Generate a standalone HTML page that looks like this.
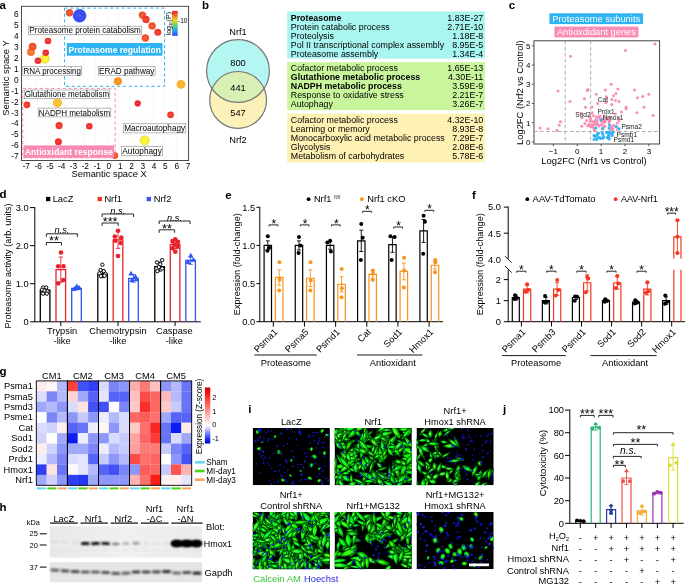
<!DOCTYPE html>
<html lang="en">
<head>
<meta charset="utf-8">
<title>Nrf1 figure</title>
<style>
html,body{margin:0;padding:0;background:#fff;}
body{width:685px;height:585px;overflow:hidden;}
svg{display:block;font-family:"Liberation Sans", sans-serif;will-change:transform;}
</style>
</head>
<body>
<svg width="685" height="585" viewBox="0 0 685 585">
<defs>
<linearGradient id="jet" x1="0" y1="0" x2="0" y2="1">
<stop offset="0" stop-color="#e8202a"/><stop offset="0.18" stop-color="#f26a21"/><stop offset="0.36" stop-color="#f5d327"/><stop offset="0.52" stop-color="#8fd14f"/><stop offset="0.68" stop-color="#35c7c0"/><stop offset="0.84" stop-color="#2f8cf0"/><stop offset="1" stop-color="#3a46f0"/>
</linearGradient>
<linearGradient id="bwr" x1="0" y1="0" x2="0" y2="1">
<stop offset="0" stop-color="#c40000"/><stop offset="0.1" stop-color="#f81408"/><stop offset="0.677" stop-color="#ffffff"/><stop offset="0.92" stop-color="#1a2cf2"/><stop offset="1" stop-color="#0000c8"/>
</linearGradient>
<filter id="b0" x="-50%" y="-100%" width="200%" height="300%"><feGaussianBlur stdDeviation="0.6"/></filter>
<filter id="b1" x="-50%" y="-100%" width="200%" height="300%"><feGaussianBlur stdDeviation="0.8"/></filter>
<filter id="b2" x="-50%" y="-100%" width="200%" height="300%"><feGaussianBlur stdDeviation="1.1"/></filter>
<filter id="gb" x="-20%" y="-20%" width="140%" height="140%"><feGaussianBlur stdDeviation="0.45"/></filter>
</defs>
<rect width="685" height="585" fill="#fff"/>
<g id="panel-a">
<text x="-0.60" y="8.80" font-size="11.5" font-weight="bold">a</text>
<line x1="25.94" y1="6.30" x2="25.94" y2="160.50" stroke="#f3f3f3" stroke-width="0.5"/>
<line x1="37.52" y1="6.30" x2="37.52" y2="160.50" stroke="#f3f3f3" stroke-width="0.5"/>
<line x1="49.10" y1="6.30" x2="49.10" y2="160.50" stroke="#f3f3f3" stroke-width="0.5"/>
<line x1="60.68" y1="6.30" x2="60.68" y2="160.50" stroke="#f3f3f3" stroke-width="0.5"/>
<line x1="72.26" y1="6.30" x2="72.26" y2="160.50" stroke="#f3f3f3" stroke-width="0.5"/>
<line x1="83.84" y1="6.30" x2="83.84" y2="160.50" stroke="#f3f3f3" stroke-width="0.5"/>
<line x1="95.42" y1="6.30" x2="95.42" y2="160.50" stroke="#f3f3f3" stroke-width="0.5"/>
<line x1="107.00" y1="6.30" x2="107.00" y2="160.50" stroke="#f3f3f3" stroke-width="0.5"/>
<line x1="118.58" y1="6.30" x2="118.58" y2="160.50" stroke="#f3f3f3" stroke-width="0.5"/>
<line x1="130.16" y1="6.30" x2="130.16" y2="160.50" stroke="#f3f3f3" stroke-width="0.5"/>
<line x1="141.74" y1="6.30" x2="141.74" y2="160.50" stroke="#f3f3f3" stroke-width="0.5"/>
<line x1="153.32" y1="6.30" x2="153.32" y2="160.50" stroke="#f3f3f3" stroke-width="0.5"/>
<line x1="164.90" y1="6.30" x2="164.90" y2="160.50" stroke="#f3f3f3" stroke-width="0.5"/>
<line x1="176.48" y1="6.30" x2="176.48" y2="160.50" stroke="#f3f3f3" stroke-width="0.5"/>
<line x1="188.06" y1="6.30" x2="188.06" y2="160.50" stroke="#f3f3f3" stroke-width="0.5"/>
<line x1="21.50" y1="156.40" x2="188.60" y2="156.40" stroke="#f3f3f3" stroke-width="0.5"/>
<line x1="21.50" y1="145.40" x2="188.60" y2="145.40" stroke="#f3f3f3" stroke-width="0.5"/>
<line x1="21.50" y1="134.40" x2="188.60" y2="134.40" stroke="#f3f3f3" stroke-width="0.5"/>
<line x1="21.50" y1="123.40" x2="188.60" y2="123.40" stroke="#f3f3f3" stroke-width="0.5"/>
<line x1="21.50" y1="112.40" x2="188.60" y2="112.40" stroke="#f3f3f3" stroke-width="0.5"/>
<line x1="21.50" y1="101.40" x2="188.60" y2="101.40" stroke="#f3f3f3" stroke-width="0.5"/>
<line x1="21.50" y1="90.40" x2="188.60" y2="90.40" stroke="#f3f3f3" stroke-width="0.5"/>
<line x1="21.50" y1="79.40" x2="188.60" y2="79.40" stroke="#f3f3f3" stroke-width="0.5"/>
<line x1="21.50" y1="68.40" x2="188.60" y2="68.40" stroke="#f3f3f3" stroke-width="0.5"/>
<line x1="21.50" y1="57.40" x2="188.60" y2="57.40" stroke="#f3f3f3" stroke-width="0.5"/>
<line x1="21.50" y1="46.40" x2="188.60" y2="46.40" stroke="#f3f3f3" stroke-width="0.5"/>
<line x1="21.50" y1="35.40" x2="188.60" y2="35.40" stroke="#f3f3f3" stroke-width="0.5"/>
<line x1="21.50" y1="24.40" x2="188.60" y2="24.40" stroke="#f3f3f3" stroke-width="0.5"/>
<line x1="21.50" y1="13.40" x2="188.60" y2="13.40" stroke="#f3f3f3" stroke-width="0.5"/>
<rect x="21.50" y="6.30" width="167.10" height="154.20" fill="none" stroke="#3a3a3a" stroke-width="0.9"/>
<text x="18.60" y="159.32" font-size="8.3" text-anchor="end">-7</text>
<text x="18.60" y="148.37" font-size="8.3" text-anchor="end">-6</text>
<text x="18.60" y="137.42" font-size="8.3" text-anchor="end">-5</text>
<text x="18.60" y="126.47" font-size="8.3" text-anchor="end">-4</text>
<text x="18.60" y="115.52" font-size="8.3" text-anchor="end">-3</text>
<text x="18.60" y="104.57" font-size="8.3" text-anchor="end">-2</text>
<text x="18.60" y="93.62" font-size="8.3" text-anchor="end">-1</text>
<text x="18.60" y="82.67" font-size="8.3" text-anchor="end">0</text>
<text x="18.60" y="71.72" font-size="8.3" text-anchor="end">1</text>
<text x="18.60" y="60.77" font-size="8.3" text-anchor="end">2</text>
<text x="18.60" y="49.82" font-size="8.3" text-anchor="end">3</text>
<text x="18.60" y="38.87" font-size="8.3" text-anchor="end">4</text>
<text x="18.60" y="27.92" font-size="8.3" text-anchor="end">5</text>
<text x="18.60" y="16.97" font-size="8.3" text-anchor="end">6</text>
<text x="26.30" y="168.60" font-size="8.3" text-anchor="middle">-7</text>
<text x="38.10" y="168.60" font-size="8.3" text-anchor="middle">-6</text>
<text x="49.90" y="168.60" font-size="8.3" text-anchor="middle">-5</text>
<text x="61.70" y="168.60" font-size="8.3" text-anchor="middle">-4</text>
<text x="73.50" y="168.60" font-size="8.3" text-anchor="middle">-3</text>
<text x="85.30" y="168.60" font-size="8.3" text-anchor="middle">-2</text>
<text x="97.10" y="168.60" font-size="8.3" text-anchor="middle">-1</text>
<text x="108.90" y="168.60" font-size="8.3" text-anchor="middle">0</text>
<text x="120.20" y="168.60" font-size="8.3" text-anchor="middle">1</text>
<text x="131.50" y="168.60" font-size="8.3" text-anchor="middle">2</text>
<text x="142.80" y="168.60" font-size="8.3" text-anchor="middle">3</text>
<text x="154.10" y="168.60" font-size="8.3" text-anchor="middle">4</text>
<text x="165.40" y="168.60" font-size="8.3" text-anchor="middle">5</text>
<text x="176.70" y="168.60" font-size="8.3" text-anchor="middle">6</text>
<text x="188.00" y="168.60" font-size="8.3" text-anchor="middle">7</text>
<text x="8.60" y="78.00" font-size="9.3" text-anchor="middle" transform="rotate(-90 8.60 78.00)" textLength="75.4" lengthAdjust="spacingAndGlyphs">Semantic space Y</text>
<text x="109.10" y="176.90" font-size="9.3" text-anchor="middle" textLength="75.2" lengthAdjust="spacingAndGlyphs">Semantic space X</text>
<rect x="64.50" y="8.10" width="100.00" height="78.20" fill="none" stroke="#35b9f2" stroke-width="1.0" stroke-dasharray="3.2 2.5"/>
<rect x="22.70" y="88.40" width="92.50" height="69.40" fill="none" stroke="#f58fb4" stroke-width="1.0" stroke-dasharray="3.2 2.5"/>
<circle cx="69.50" cy="12.80" r="3.70" fill="#f2522a" stroke="none" stroke-width="0.5"/>
<line x1="68.10" y1="12.80" x2="70.90" y2="12.80" stroke="rgba(255,255,255,0.45)" stroke-width="0.5"/>
<circle cx="79.60" cy="15.80" r="6.80" fill="#3c4ff2" stroke="none" stroke-width="0.5"/>
<line x1="78.20" y1="15.80" x2="81.00" y2="15.80" stroke="rgba(255,255,255,0.45)" stroke-width="0.5"/>
<circle cx="142.40" cy="15.10" r="3.70" fill="#f2522a" stroke="none" stroke-width="0.5"/>
<line x1="141.00" y1="15.10" x2="143.80" y2="15.10" stroke="rgba(255,255,255,0.45)" stroke-width="0.5"/>
<circle cx="146.00" cy="19.50" r="3.70" fill="#ef3a2c" stroke="none" stroke-width="0.5"/>
<line x1="144.60" y1="19.50" x2="147.40" y2="19.50" stroke="rgba(255,255,255,0.45)" stroke-width="0.5"/>
<circle cx="152.10" cy="25.90" r="3.70" fill="#f2522a" stroke="none" stroke-width="0.5"/>
<line x1="150.70" y1="25.90" x2="153.50" y2="25.90" stroke="rgba(255,255,255,0.45)" stroke-width="0.5"/>
<circle cx="157.80" cy="32.20" r="3.50" fill="#ef3a2c" stroke="none" stroke-width="0.5"/>
<line x1="156.40" y1="32.20" x2="159.20" y2="32.20" stroke="rgba(255,255,255,0.45)" stroke-width="0.5"/>
<circle cx="145.40" cy="38.00" r="3.70" fill="#f2522a" stroke="none" stroke-width="0.5"/>
<line x1="144.00" y1="38.00" x2="146.80" y2="38.00" stroke="rgba(255,255,255,0.45)" stroke-width="0.5"/>
<circle cx="48.00" cy="41.00" r="3.30" fill="#ee2f2f" stroke="none" stroke-width="0.5"/>
<line x1="46.60" y1="41.00" x2="49.40" y2="41.00" stroke="rgba(255,255,255,0.45)" stroke-width="0.5"/>
<circle cx="30.90" cy="52.00" r="3.90" fill="#f37a2a" stroke="none" stroke-width="0.5"/>
<line x1="29.50" y1="52.00" x2="32.30" y2="52.00" stroke="rgba(255,255,255,0.45)" stroke-width="0.5"/>
<circle cx="32.60" cy="46.70" r="3.90" fill="#f2522a" stroke="none" stroke-width="0.5"/>
<line x1="31.20" y1="46.70" x2="34.00" y2="46.70" stroke="rgba(255,255,255,0.45)" stroke-width="0.5"/>
<circle cx="44.70" cy="58.80" r="4.60" fill="#f8f136" stroke="#d6cf30" stroke-width="0.5"/>
<line x1="43.30" y1="58.80" x2="46.10" y2="58.80" stroke="rgba(255,255,255,0.45)" stroke-width="0.5"/>
<circle cx="45.70" cy="52.70" r="3.30" fill="#ee2f2f" stroke="none" stroke-width="0.5"/>
<line x1="44.30" y1="52.70" x2="47.10" y2="52.70" stroke="rgba(255,255,255,0.45)" stroke-width="0.5"/>
<circle cx="37.90" cy="60.80" r="3.30" fill="#ee2f2f" stroke="none" stroke-width="0.5"/>
<line x1="36.50" y1="60.80" x2="39.30" y2="60.80" stroke="rgba(255,255,255,0.45)" stroke-width="0.5"/>
<circle cx="117.90" cy="81.30" r="4.10" fill="#f59322" stroke="none" stroke-width="0.5"/>
<line x1="116.50" y1="81.30" x2="119.30" y2="81.30" stroke="rgba(255,255,255,0.45)" stroke-width="0.5"/>
<circle cx="181.00" cy="84.30" r="4.40" fill="#f6b22a" stroke="none" stroke-width="0.5"/>
<line x1="179.60" y1="84.30" x2="182.40" y2="84.30" stroke="rgba(255,255,255,0.45)" stroke-width="0.5"/>
<circle cx="57.40" cy="102.80" r="4.60" fill="#f6c230" stroke="none" stroke-width="0.5"/>
<line x1="56.00" y1="102.80" x2="58.80" y2="102.80" stroke="rgba(255,255,255,0.45)" stroke-width="0.5"/>
<circle cx="26.90" cy="104.80" r="3.40" fill="#ef3a2c" stroke="none" stroke-width="0.5"/>
<line x1="25.50" y1="104.80" x2="28.30" y2="104.80" stroke="rgba(255,255,255,0.45)" stroke-width="0.5"/>
<circle cx="137.70" cy="103.40" r="3.10" fill="#ec2330" stroke="none" stroke-width="0.5"/>
<line x1="136.30" y1="103.40" x2="139.10" y2="103.40" stroke="rgba(255,255,255,0.45)" stroke-width="0.5"/>
<circle cx="170.60" cy="114.80" r="3.40" fill="#ef3a2c" stroke="none" stroke-width="0.5"/>
<line x1="169.20" y1="114.80" x2="172.00" y2="114.80" stroke="rgba(255,255,255,0.45)" stroke-width="0.5"/>
<circle cx="59.10" cy="125.60" r="3.60" fill="#ef3a2c" stroke="none" stroke-width="0.5"/>
<line x1="57.70" y1="125.60" x2="60.50" y2="125.60" stroke="rgba(255,255,255,0.45)" stroke-width="0.5"/>
<circle cx="89.30" cy="126.30" r="3.30" fill="#ee2f2f" stroke="none" stroke-width="0.5"/>
<line x1="87.90" y1="126.30" x2="90.70" y2="126.30" stroke="rgba(255,255,255,0.45)" stroke-width="0.5"/>
<circle cx="58.40" cy="141.70" r="3.50" fill="#ee2f2f" stroke="none" stroke-width="0.5"/>
<line x1="57.00" y1="141.70" x2="59.80" y2="141.70" stroke="rgba(255,255,255,0.45)" stroke-width="0.5"/>
<circle cx="144.70" cy="140.40" r="4.70" fill="#f8f136" stroke="#d6cf30" stroke-width="0.5"/>
<line x1="143.30" y1="140.40" x2="146.10" y2="140.40" stroke="rgba(255,255,255,0.45)" stroke-width="0.5"/>
<circle cx="114.80" cy="155.60" r="3.40" fill="#f2522a" stroke="none" stroke-width="0.5"/>
<line x1="113.40" y1="155.60" x2="116.20" y2="155.60" stroke="rgba(255,255,255,0.45)" stroke-width="0.5"/>
<rect x="28.50" y="26.20" width="113.20" height="8.40" fill="#fff" stroke="#8a8a8a" stroke-width="0.6"/>
<text x="85.10" y="33.40" font-size="8.6" text-anchor="middle" textLength="111.5" lengthAdjust="spacingAndGlyphs">Proteasome protein catabolism</text>
<rect x="22.80" y="66.50" width="58.80" height="8.70" fill="#fff" stroke="#8a8a8a" stroke-width="0.6"/>
<text x="52.20" y="73.85" font-size="8.6" text-anchor="middle" textLength="57.4" lengthAdjust="spacingAndGlyphs">RNA processing</text>
<rect x="98.40" y="66.50" width="56.70" height="8.70" fill="#fff" stroke="#8a8a8a" stroke-width="0.6"/>
<text x="126.75" y="73.85" font-size="8.6" text-anchor="middle" textLength="55.4" lengthAdjust="spacingAndGlyphs">ERAD pathway</text>
<rect x="24.20" y="90.00" width="85.60" height="8.70" fill="#fff" stroke="#8a8a8a" stroke-width="0.6"/>
<text x="67.00" y="97.35" font-size="8.6" text-anchor="middle" textLength="84.5" lengthAdjust="spacingAndGlyphs">Glutathione metabolism</text>
<rect x="38.30" y="108.10" width="72.50" height="8.80" fill="#fff" stroke="#8a8a8a" stroke-width="0.6"/>
<text x="74.55" y="115.50" font-size="8.6" text-anchor="middle" textLength="71.5" lengthAdjust="spacingAndGlyphs">NADPH metabolism</text>
<rect x="123.60" y="123.80" width="62.10" height="9.10" fill="#fff" stroke="#8a8a8a" stroke-width="0.6"/>
<text x="154.65" y="131.35" font-size="8.6" text-anchor="middle" textLength="60.8" lengthAdjust="spacingAndGlyphs">Macroautophagy</text>
<rect x="121.60" y="146.40" width="40.90" height="9.10" fill="#fff" stroke="#8a8a8a" stroke-width="0.6"/>
<text x="142.05" y="153.95" font-size="8.6" text-anchor="middle" textLength="39.5" lengthAdjust="spacingAndGlyphs">Autophagy</text>
<rect x="66.80" y="43.00" width="95.70" height="12.70" fill="#2db4f3" stroke="none" stroke-width="1"/>
<text x="114.80" y="52.50" font-size="8.6" text-anchor="middle" font-weight="bold" fill="#fff" textLength="92.5" lengthAdjust="spacingAndGlyphs">Proteasome regulation</text>
<rect x="23.50" y="145.40" width="90.70" height="12.40" fill="#f98ab3" stroke="none" stroke-width="1"/>
<text x="68.80" y="154.70" font-size="8.6" text-anchor="middle" font-weight="bold" fill="#fff" textLength="88.0" lengthAdjust="spacingAndGlyphs">Antioxidant response</text>
<rect x="172.10" y="10.90" width="5.60" height="24.90" fill="url(#jet)" stroke="none" stroke-width="1"/>
<text x="170.8" y="35.4" font-size="7.6" transform="rotate(-90 170.8 35.4)" textLength="23.4" lengthAdjust="spacingAndGlyphs">log<tspan font-size="4.4" dy="1.3">10</tspan><tspan dy="-1.3">(P)</tspan></text>
<text x="178.00" y="22.90" font-size="7.8" textLength="9.4" lengthAdjust="spacingAndGlyphs">-10</text>
</g>
<g id="panel-b">
<text x="202.00" y="8.50" font-size="11.5" font-weight="bold">b</text>
<text x="238.00" y="34.90" font-size="9.2" text-anchor="middle">Nrf1</text>
<text x="238.00" y="142.50" font-size="9.2" text-anchor="middle">Nrf2</text>
<circle cx="238.00" cy="71.00" r="31.40" fill="#b4f6f1" stroke="none" stroke-width="1"/>
<circle cx="238.10" cy="99.90" r="28.40" fill="#fdf1ba" stroke="none" stroke-width="1"/>
<clipPath id="vclip"><circle cx="238" cy="71" r="31.4"/></clipPath>
<circle cx="238.10" cy="99.90" r="28.40" fill="#d8f0b6" stroke="none" stroke-width="1" clip-path="url(#vclip)"/>
<circle cx="238.00" cy="71.00" r="31.40" fill="none" stroke="#757575" stroke-width="1.2"/>
<circle cx="238.10" cy="99.90" r="28.40" fill="none" stroke="#757575" stroke-width="1.2"/>
<text x="238.00" y="66.30" font-size="9.3" text-anchor="middle">800</text>
<text x="238.00" y="91.20" font-size="9.3" text-anchor="middle">441</text>
<text x="238.00" y="115.70" font-size="9.3" text-anchor="middle">547</text>
<rect x="287.20" y="11.40" width="197.70" height="47.20" fill="#a9f6f1" stroke="none" stroke-width="1"/>
<rect x="287.20" y="62.20" width="197.70" height="47.90" fill="#c9f69c" stroke="none" stroke-width="1"/>
<rect x="287.20" y="113.70" width="197.70" height="48.70" fill="#fdf1b3" stroke="none" stroke-width="1"/>
<text x="290.80" y="20.90" font-size="8.3" font-weight="bold" textLength="50.5" lengthAdjust="spacingAndGlyphs">Proteasome</text>
<text x="483.30" y="20.90" font-size="8.9" text-anchor="end">1.83E-27</text>
<text x="290.80" y="29.85" font-size="8.3" textLength="99.0" lengthAdjust="spacingAndGlyphs">Protein catabolic process</text>
<text x="483.30" y="29.85" font-size="8.9" text-anchor="end">2.71E-10</text>
<text x="290.80" y="38.80" font-size="8.3" textLength="43.0" lengthAdjust="spacingAndGlyphs">Proteolysis</text>
<text x="483.30" y="38.80" font-size="8.9" text-anchor="end">1.18E-8</text>
<text x="290.80" y="47.75" font-size="8.3" textLength="153.4" lengthAdjust="spacingAndGlyphs">Pol II transcriptional complex assembly</text>
<text x="483.30" y="47.75" font-size="8.9" text-anchor="end">8.95E-5</text>
<text x="290.80" y="56.70" font-size="8.3" textLength="87.5" lengthAdjust="spacingAndGlyphs">Proteasome assembly</text>
<text x="483.30" y="56.70" font-size="8.9" text-anchor="end">1.34E-4</text>
<text x="290.80" y="71.40" font-size="8.3" textLength="107.0" lengthAdjust="spacingAndGlyphs">Cofactor metabolic process</text>
<text x="483.30" y="71.40" font-size="8.9" text-anchor="end">1.65E-13</text>
<text x="290.80" y="80.35" font-size="8.3" font-weight="bold" textLength="129.5" lengthAdjust="spacingAndGlyphs">Glutathione metabolic process</text>
<text x="483.30" y="80.35" font-size="8.9" text-anchor="end">4.30E-11</text>
<text x="290.80" y="89.30" font-size="8.3" font-weight="bold" textLength="111.0" lengthAdjust="spacingAndGlyphs">NADPH metabolic process</text>
<text x="483.30" y="89.30" font-size="8.9" text-anchor="end">3.59E-9</text>
<text x="290.80" y="98.25" font-size="8.3" textLength="113.0" lengthAdjust="spacingAndGlyphs">Response to oxidative stress</text>
<text x="483.30" y="98.25" font-size="8.9" text-anchor="end">2.21E-7</text>
<text x="290.80" y="107.20" font-size="8.3" textLength="42.0" lengthAdjust="spacingAndGlyphs">Autophagy</text>
<text x="483.30" y="107.20" font-size="8.9" text-anchor="end">3.26E-7</text>
<text x="290.80" y="123.20" font-size="8.3" textLength="107.0" lengthAdjust="spacingAndGlyphs">Cofactor metabolic process</text>
<text x="483.30" y="123.20" font-size="8.9" text-anchor="end">4.32E-10</text>
<text x="290.80" y="132.15" font-size="8.3" textLength="79.0" lengthAdjust="spacingAndGlyphs">Learning or memory</text>
<text x="483.30" y="132.15" font-size="8.9" text-anchor="end">8.93E-8</text>
<text x="290.80" y="141.10" font-size="8.3" textLength="154.0" lengthAdjust="spacingAndGlyphs">Monocarboxylic acid metabolic process</text>
<text x="483.30" y="141.10" font-size="8.9" text-anchor="end">7.29E-7</text>
<text x="290.80" y="150.05" font-size="8.3" textLength="39.5" lengthAdjust="spacingAndGlyphs">Glycolysis</text>
<text x="483.30" y="150.05" font-size="8.9" text-anchor="end">2.08E-6</text>
<text x="290.80" y="159.00" font-size="8.3" textLength="113.5" lengthAdjust="spacingAndGlyphs">Metabolism of carbohydrates</text>
<text x="483.30" y="159.00" font-size="8.9" text-anchor="end">5.78E-6</text>
</g>
<g id="panel-c">
<text x="508.80" y="8.50" font-size="11.5" font-weight="bold">c</text>
<rect x="549.40" y="13.30" width="93.60" height="10.80" fill="#2db4f3" stroke="none" stroke-width="1"/>
<text x="596.20" y="21.80" font-size="9.0" text-anchor="middle" fill="#fff" textLength="88.0" lengthAdjust="spacingAndGlyphs">Proteasome subunits</text>
<rect x="554.40" y="26.60" width="84.00" height="10.80" fill="#f98ab3" stroke="none" stroke-width="1"/>
<text x="596.40" y="35.10" font-size="9.0" text-anchor="middle" fill="#fff" textLength="79.0" lengthAdjust="spacingAndGlyphs">Antioxdidant genes</text>
<rect x="534.00" y="40.80" width="125.60" height="103.20" fill="none" stroke="#333" stroke-width="0.9"/>
<line x1="531.80" y1="141.90" x2="534.00" y2="141.90" stroke="#333" stroke-width="0.8"/>
<text x="530.40" y="144.80" font-size="8.0" text-anchor="end">0</text>
<line x1="531.80" y1="122.68" x2="534.00" y2="122.68" stroke="#333" stroke-width="0.8"/>
<text x="530.40" y="125.58" font-size="8.0" text-anchor="end">1</text>
<line x1="531.80" y1="103.46" x2="534.00" y2="103.46" stroke="#333" stroke-width="0.8"/>
<text x="530.40" y="106.36" font-size="8.0" text-anchor="end">2</text>
<line x1="531.80" y1="84.24" x2="534.00" y2="84.24" stroke="#333" stroke-width="0.8"/>
<text x="530.40" y="87.14" font-size="8.0" text-anchor="end">3</text>
<line x1="531.80" y1="65.02" x2="534.00" y2="65.02" stroke="#333" stroke-width="0.8"/>
<text x="530.40" y="67.92" font-size="8.0" text-anchor="end">4</text>
<line x1="531.80" y1="45.80" x2="534.00" y2="45.80" stroke="#333" stroke-width="0.8"/>
<text x="530.40" y="48.70" font-size="8.0" text-anchor="end">5</text>
<line x1="553.30" y1="144.00" x2="553.30" y2="146.20" stroke="#333" stroke-width="0.8"/>
<text x="553.30" y="154.00" font-size="8.0" text-anchor="middle">−1</text>
<line x1="577.20" y1="144.00" x2="577.20" y2="146.20" stroke="#333" stroke-width="0.8"/>
<text x="577.20" y="154.00" font-size="8.0" text-anchor="middle">0</text>
<line x1="601.10" y1="144.00" x2="601.10" y2="146.20" stroke="#333" stroke-width="0.8"/>
<text x="601.10" y="154.00" font-size="8.0" text-anchor="middle">1</text>
<line x1="625.00" y1="144.00" x2="625.00" y2="146.20" stroke="#333" stroke-width="0.8"/>
<text x="625.00" y="154.00" font-size="8.0" text-anchor="middle">2</text>
<line x1="648.90" y1="144.00" x2="648.90" y2="146.20" stroke="#333" stroke-width="0.8"/>
<text x="648.90" y="154.00" font-size="8.0" text-anchor="middle">3</text>
<line x1="565.20" y1="40.80" x2="565.20" y2="144.00" stroke="#9a9a9a" stroke-width="0.8" stroke-dasharray="3.6 2.4"/>
<line x1="590.60" y1="40.80" x2="590.60" y2="144.00" stroke="#9a9a9a" stroke-width="0.8" stroke-dasharray="3.6 2.4"/>
<line x1="534.00" y1="131.50" x2="659.60" y2="131.50" stroke="#9a9a9a" stroke-width="0.8" stroke-dasharray="3.6 2.4"/>
<text x="523.00" y="92.70" font-size="9.2" text-anchor="middle" transform="rotate(-90 523.00 92.70)" textLength="104.5" lengthAdjust="spacingAndGlyphs">Log2FC (Nrf2 vs Control)</text>
<text x="594.00" y="164.20" font-size="9.2" text-anchor="middle" textLength="105.3" lengthAdjust="spacingAndGlyphs">Log2FC (Nrf1 vs Control)</text>
<circle cx="654.88" cy="43.88" r="1.50" fill="#f78fb3" stroke="none" stroke-width="1"/>
<circle cx="625.48" cy="50.61" r="1.50" fill="#f78fb3" stroke="none" stroke-width="1"/>
<circle cx="570.51" cy="56.37" r="1.50" fill="#f78fb3" stroke="none" stroke-width="1"/>
<circle cx="558.08" cy="90.97" r="1.50" fill="#f78fb3" stroke="none" stroke-width="1"/>
<circle cx="570.03" cy="101.54" r="1.50" fill="#f78fb3" stroke="none" stroke-width="1"/>
<circle cx="540.16" cy="128.06" r="1.50" fill="#f78fb3" stroke="none" stroke-width="1"/>
<circle cx="548.04" cy="128.83" r="1.50" fill="#f78fb3" stroke="none" stroke-width="1"/>
<circle cx="556.88" cy="130.37" r="1.50" fill="#f78fb3" stroke="none" stroke-width="1"/>
<circle cx="559.28" cy="125.37" r="1.50" fill="#f78fb3" stroke="none" stroke-width="1"/>
<circle cx="560.47" cy="121.72" r="1.50" fill="#f78fb3" stroke="none" stroke-width="1"/>
<circle cx="653.20" cy="115.38" r="1.50" fill="#f78fb3" stroke="none" stroke-width="1"/>
<circle cx="648.90" cy="94.23" r="1.50" fill="#f78fb3" stroke="none" stroke-width="1"/>
<circle cx="642.69" cy="96.54" r="1.50" fill="#f78fb3" stroke="none" stroke-width="1"/>
<circle cx="637.43" cy="97.69" r="1.50" fill="#f78fb3" stroke="none" stroke-width="1"/>
<circle cx="634.56" cy="90.01" r="1.50" fill="#f78fb3" stroke="none" stroke-width="1"/>
<circle cx="644.12" cy="107.30" r="1.50" fill="#f78fb3" stroke="none" stroke-width="1"/>
<circle cx="626.20" cy="106.92" r="1.50" fill="#f78fb3" stroke="none" stroke-width="1"/>
<circle cx="625.96" cy="108.84" r="1.50" fill="#f78fb3" stroke="none" stroke-width="1"/>
<circle cx="636.95" cy="112.69" r="1.50" fill="#f78fb3" stroke="none" stroke-width="1"/>
<circle cx="611.14" cy="84.24" r="1.50" fill="#f78fb3" stroke="none" stroke-width="1"/>
<circle cx="617.83" cy="89.05" r="1.50" fill="#f78fb3" stroke="none" stroke-width="1"/>
<circle cx="605.40" cy="90.01" r="1.50" fill="#f78fb3" stroke="none" stroke-width="1"/>
<circle cx="587.96" cy="89.62" r="1.50" fill="#f78fb3" stroke="none" stroke-width="1"/>
<circle cx="587.24" cy="90.39" r="1.50" fill="#f78fb3" stroke="none" stroke-width="1"/>
<circle cx="596.32" cy="94.23" r="1.50" fill="#f78fb3" stroke="none" stroke-width="1"/>
<circle cx="615.92" cy="93.47" r="1.50" fill="#f78fb3" stroke="none" stroke-width="1"/>
<circle cx="613.53" cy="95.77" r="1.50" fill="#f78fb3" stroke="none" stroke-width="1"/>
<circle cx="615.44" cy="100.58" r="1.50" fill="#f78fb3" stroke="none" stroke-width="1"/>
<circle cx="611.86" cy="99.62" r="1.50" fill="#f78fb3" stroke="none" stroke-width="1"/>
<circle cx="619.03" cy="101.54" r="1.50" fill="#f78fb3" stroke="none" stroke-width="1"/>
<circle cx="606.36" cy="96.73" r="1.50" fill="#f78fb3" stroke="none" stroke-width="1"/>
<circle cx="597.52" cy="103.46" r="1.50" fill="#f78fb3" stroke="none" stroke-width="1"/>
<circle cx="585.57" cy="107.30" r="1.50" fill="#f78fb3" stroke="none" stroke-width="1"/>
<circle cx="584.37" cy="98.66" r="1.50" fill="#f78fb3" stroke="none" stroke-width="1"/>
<circle cx="611.86" cy="104.42" r="1.50" fill="#f78fb3" stroke="none" stroke-width="1"/>
<circle cx="605.88" cy="102.50" r="1.50" fill="#f78fb3" stroke="none" stroke-width="1"/>
<circle cx="621.42" cy="112.11" r="1.50" fill="#f78fb3" stroke="none" stroke-width="1"/>
<circle cx="619.03" cy="118.84" r="1.50" fill="#f78fb3" stroke="none" stroke-width="1"/>
<circle cx="615.44" cy="114.03" r="1.50" fill="#f78fb3" stroke="none" stroke-width="1"/>
<circle cx="596.14" cy="119.73" r="1.50" fill="#f78fb3" stroke="none" stroke-width="1"/>
<circle cx="596.44" cy="124.50" r="1.50" fill="#f78fb3" stroke="none" stroke-width="1"/>
<circle cx="589.37" cy="123.91" r="1.50" fill="#f78fb3" stroke="none" stroke-width="1"/>
<circle cx="609.87" cy="120.23" r="1.50" fill="#f78fb3" stroke="none" stroke-width="1"/>
<circle cx="609.12" cy="121.24" r="1.50" fill="#f78fb3" stroke="none" stroke-width="1"/>
<circle cx="602.67" cy="121.61" r="1.50" fill="#f78fb3" stroke="none" stroke-width="1"/>
<circle cx="581.99" cy="117.75" r="1.50" fill="#f78fb3" stroke="none" stroke-width="1"/>
<circle cx="603.79" cy="119.80" r="1.50" fill="#f78fb3" stroke="none" stroke-width="1"/>
<circle cx="581.73" cy="126.32" r="1.50" fill="#f78fb3" stroke="none" stroke-width="1"/>
<circle cx="581.12" cy="113.15" r="1.50" fill="#f78fb3" stroke="none" stroke-width="1"/>
<circle cx="603.94" cy="126.38" r="1.50" fill="#f78fb3" stroke="none" stroke-width="1"/>
<circle cx="601.81" cy="120.41" r="1.50" fill="#f78fb3" stroke="none" stroke-width="1"/>
<circle cx="592.07" cy="112.78" r="1.50" fill="#f78fb3" stroke="none" stroke-width="1"/>
<circle cx="604.30" cy="115.78" r="1.50" fill="#f78fb3" stroke="none" stroke-width="1"/>
<circle cx="592.48" cy="126.94" r="1.50" fill="#f78fb3" stroke="none" stroke-width="1"/>
<circle cx="595.26" cy="123.29" r="1.50" fill="#f78fb3" stroke="none" stroke-width="1"/>
<circle cx="605.05" cy="121.25" r="1.50" fill="#f78fb3" stroke="none" stroke-width="1"/>
<circle cx="594.22" cy="128.20" r="1.50" fill="#f78fb3" stroke="none" stroke-width="1"/>
<circle cx="593.48" cy="115.64" r="1.50" fill="#f78fb3" stroke="none" stroke-width="1"/>
<circle cx="590.60" cy="121.27" r="1.50" fill="#f78fb3" stroke="none" stroke-width="1"/>
<circle cx="602.99" cy="128.88" r="1.50" fill="#f78fb3" stroke="none" stroke-width="1"/>
<circle cx="587.77" cy="125.85" r="1.50" fill="#f78fb3" stroke="none" stroke-width="1"/>
<circle cx="610.20" cy="129.27" r="1.50" fill="#f78fb3" stroke="none" stroke-width="1"/>
<circle cx="592.07" cy="106.99" r="1.50" fill="#f78fb3" stroke="none" stroke-width="1"/>
<circle cx="606.41" cy="118.63" r="1.50" fill="#f78fb3" stroke="none" stroke-width="1"/>
<circle cx="598.97" cy="125.99" r="1.50" fill="#f78fb3" stroke="none" stroke-width="1"/>
<circle cx="595.88" cy="122.57" r="1.50" fill="#f78fb3" stroke="none" stroke-width="1"/>
<circle cx="590.32" cy="126.35" r="1.50" fill="#f78fb3" stroke="none" stroke-width="1"/>
<circle cx="604.89" cy="126.21" r="1.50" fill="#f78fb3" stroke="none" stroke-width="1"/>
<circle cx="594.17" cy="129.97" r="1.50" fill="#f78fb3" stroke="none" stroke-width="1"/>
<circle cx="589.00" cy="125.74" r="1.50" fill="#f78fb3" stroke="none" stroke-width="1"/>
<circle cx="611.65" cy="127.11" r="1.50" fill="#f78fb3" stroke="none" stroke-width="1"/>
<circle cx="596.89" cy="124.43" r="1.50" fill="#f78fb3" stroke="none" stroke-width="1"/>
<circle cx="594.36" cy="130.62" r="1.50" fill="#f78fb3" stroke="none" stroke-width="1"/>
<circle cx="617.34" cy="123.14" r="1.50" fill="#f78fb3" stroke="none" stroke-width="1"/>
<circle cx="596.57" cy="117.12" r="1.50" fill="#f78fb3" stroke="none" stroke-width="1"/>
<circle cx="597.66" cy="123.75" r="1.50" fill="#f78fb3" stroke="none" stroke-width="1"/>
<circle cx="592.80" cy="121.85" r="1.50" fill="#f78fb3" stroke="none" stroke-width="1"/>
<circle cx="601.30" cy="121.33" r="1.50" fill="#f78fb3" stroke="none" stroke-width="1"/>
<circle cx="599.31" cy="125.69" r="1.50" fill="#f78fb3" stroke="none" stroke-width="1"/>
<circle cx="598.86" cy="116.94" r="1.50" fill="#f78fb3" stroke="none" stroke-width="1"/>
<circle cx="601.55" cy="124.39" r="1.50" fill="#f78fb3" stroke="none" stroke-width="1"/>
<circle cx="586.68" cy="120.39" r="1.50" fill="#f78fb3" stroke="none" stroke-width="1"/>
<circle cx="612.51" cy="129.81" r="1.50" fill="#f78fb3" stroke="none" stroke-width="1"/>
<circle cx="604.03" cy="126.19" r="1.50" fill="#f78fb3" stroke="none" stroke-width="1"/>
<circle cx="590.56" cy="119.92" r="1.50" fill="#f78fb3" stroke="none" stroke-width="1"/>
<circle cx="617.57" cy="129.59" r="1.50" fill="#f78fb3" stroke="none" stroke-width="1"/>
<circle cx="601.97" cy="118.93" r="1.50" fill="#f78fb3" stroke="none" stroke-width="1"/>
<circle cx="599.92" cy="116.07" r="1.50" fill="#f78fb3" stroke="none" stroke-width="1"/>
<circle cx="592.07" cy="125.07" r="1.50" fill="#f78fb3" stroke="none" stroke-width="1"/>
<circle cx="609.17" cy="122.53" r="1.50" fill="#f78fb3" stroke="none" stroke-width="1"/>
<circle cx="589.87" cy="117.22" r="1.50" fill="#f78fb3" stroke="none" stroke-width="1"/>
<circle cx="613.42" cy="125.24" r="1.50" fill="#f78fb3" stroke="none" stroke-width="1"/>
<circle cx="584.86" cy="123.46" r="1.50" fill="#f78fb3" stroke="none" stroke-width="1"/>
<circle cx="597.21" cy="124.40" r="1.50" fill="#f78fb3" stroke="none" stroke-width="1"/>
<circle cx="612.81" cy="128.60" r="1.50" fill="#f78fb3" stroke="none" stroke-width="1"/>
<circle cx="611.36" cy="129.99" r="1.50" fill="#f78fb3" stroke="none" stroke-width="1"/>
<circle cx="590.81" cy="119.04" r="1.50" fill="#f78fb3" stroke="none" stroke-width="1"/>
<circle cx="610.04" cy="117.73" r="1.50" fill="#f78fb3" stroke="none" stroke-width="1"/>
<circle cx="602.18" cy="121.86" r="1.50" fill="#f78fb3" stroke="none" stroke-width="1"/>
<circle cx="600.24" cy="119.36" r="1.50" fill="#f78fb3" stroke="none" stroke-width="1"/>
<circle cx="596.94" cy="121.08" r="1.50" fill="#f78fb3" stroke="none" stroke-width="1"/>
<circle cx="604.46" cy="122.68" r="1.50" fill="#f78fb3" stroke="none" stroke-width="1"/>
<circle cx="606.38" cy="119.42" r="1.50" fill="#f78fb3" stroke="none" stroke-width="1"/>
<circle cx="618.89" cy="120.81" r="1.50" fill="#f78fb3" stroke="none" stroke-width="1"/>
<circle cx="594.42" cy="124.83" r="1.50" fill="#f78fb3" stroke="none" stroke-width="1"/>
<circle cx="598.58" cy="117.35" r="1.50" fill="#f78fb3" stroke="none" stroke-width="1"/>
<circle cx="595.33" cy="120.46" r="1.50" fill="#f78fb3" stroke="none" stroke-width="1"/>
<circle cx="617.15" cy="127.17" r="1.50" fill="#f78fb3" stroke="none" stroke-width="1"/>
<circle cx="594.48" cy="122.43" r="1.50" fill="#f78fb3" stroke="none" stroke-width="1"/>
<circle cx="601.10" cy="119.80" r="1.50" fill="#35b4f5" stroke="none" stroke-width="1"/>
<circle cx="619.03" cy="128.83" r="1.50" fill="#35b4f5" stroke="none" stroke-width="1"/>
<circle cx="615.92" cy="126.52" r="1.50" fill="#35b4f5" stroke="none" stroke-width="1"/>
<circle cx="609.47" cy="124.99" r="1.50" fill="#35b4f5" stroke="none" stroke-width="1"/>
<circle cx="608.99" cy="128.06" r="1.50" fill="#35b4f5" stroke="none" stroke-width="1"/>
<circle cx="602.30" cy="128.45" r="1.50" fill="#35b4f5" stroke="none" stroke-width="1"/>
<circle cx="595.84" cy="128.06" r="1.50" fill="#35b4f5" stroke="none" stroke-width="1"/>
<circle cx="595.45" cy="136.96" r="1.50" fill="#35b4f5" stroke="none" stroke-width="1"/>
<circle cx="598.64" cy="133.22" r="1.50" fill="#35b4f5" stroke="none" stroke-width="1"/>
<circle cx="596.62" cy="139.42" r="1.50" fill="#35b4f5" stroke="none" stroke-width="1"/>
<circle cx="612.09" cy="135.53" r="1.50" fill="#35b4f5" stroke="none" stroke-width="1"/>
<circle cx="596.33" cy="135.42" r="1.50" fill="#35b4f5" stroke="none" stroke-width="1"/>
<circle cx="593.98" cy="135.53" r="1.50" fill="#35b4f5" stroke="none" stroke-width="1"/>
<circle cx="612.63" cy="132.96" r="1.50" fill="#35b4f5" stroke="none" stroke-width="1"/>
<circle cx="607.10" cy="137.59" r="1.50" fill="#35b4f5" stroke="none" stroke-width="1"/>
<circle cx="600.64" cy="138.31" r="1.50" fill="#35b4f5" stroke="none" stroke-width="1"/>
<circle cx="608.58" cy="135.50" r="1.50" fill="#35b4f5" stroke="none" stroke-width="1"/>
<circle cx="608.72" cy="137.06" r="1.50" fill="#35b4f5" stroke="none" stroke-width="1"/>
<circle cx="597.82" cy="133.35" r="1.50" fill="#35b4f5" stroke="none" stroke-width="1"/>
<circle cx="612.75" cy="133.04" r="1.50" fill="#35b4f5" stroke="none" stroke-width="1"/>
<circle cx="609.25" cy="133.30" r="1.50" fill="#35b4f5" stroke="none" stroke-width="1"/>
<circle cx="607.95" cy="137.85" r="1.50" fill="#35b4f5" stroke="none" stroke-width="1"/>
<circle cx="603.60" cy="136.86" r="1.50" fill="#35b4f5" stroke="none" stroke-width="1"/>
<circle cx="594.02" cy="139.38" r="1.50" fill="#35b4f5" stroke="none" stroke-width="1"/>
<circle cx="598.93" cy="137.60" r="1.50" fill="#35b4f5" stroke="none" stroke-width="1"/>
<circle cx="607.02" cy="132.24" r="1.50" fill="#35b4f5" stroke="none" stroke-width="1"/>
<circle cx="602.22" cy="132.39" r="1.50" fill="#35b4f5" stroke="none" stroke-width="1"/>
<circle cx="612.82" cy="132.25" r="1.50" fill="#35b4f5" stroke="none" stroke-width="1"/>
<circle cx="600.60" cy="137.90" r="1.50" fill="#35b4f5" stroke="none" stroke-width="1"/>
<circle cx="597.90" cy="138.08" r="1.50" fill="#35b4f5" stroke="none" stroke-width="1"/>
<circle cx="597.46" cy="134.80" r="1.50" fill="#35b4f5" stroke="none" stroke-width="1"/>
<circle cx="611.10" cy="133.13" r="1.50" fill="#35b4f5" stroke="none" stroke-width="1"/>
<circle cx="602.85" cy="134.57" r="1.50" fill="#35b4f5" stroke="none" stroke-width="1"/>
<circle cx="609.12" cy="138.94" r="1.50" fill="#35b4f5" stroke="none" stroke-width="1"/>
<circle cx="606.40" cy="132.60" r="1.50" fill="#35b4f5" stroke="none" stroke-width="1"/>
<circle cx="608.78" cy="133.83" r="1.50" fill="#35b4f5" stroke="none" stroke-width="1"/>
<circle cx="602.82" cy="138.22" r="1.50" fill="#35b4f5" stroke="none" stroke-width="1"/>
<circle cx="608.92" cy="137.04" r="1.50" fill="#35b4f5" stroke="none" stroke-width="1"/>
<circle cx="609.15" cy="132.12" r="1.50" fill="#35b4f5" stroke="none" stroke-width="1"/>
<text x="603.00" y="102.20" font-size="6.6" text-anchor="middle" fill="#222">Cat</text>
<text x="606.00" y="113.80" font-size="6.6" text-anchor="middle" fill="#222">Prdx1</text>
<text x="583.00" y="117.10" font-size="6.6" text-anchor="middle" fill="#222">Sod2</text>
<text x="613.00" y="119.60" font-size="6.6" text-anchor="middle" fill="#222">Hmox1</text>
<text x="631.70" y="128.80" font-size="6.6" text-anchor="middle" fill="#222">Psma2</text>
<text x="626.80" y="136.70" font-size="6.6" text-anchor="middle" fill="#222">Psmb1</text>
<text x="623.80" y="142.30" font-size="6.6" text-anchor="middle" fill="#222">Psmd1</text>
</g>
<g id="panel-d">
<text x="-0.60" y="198.00" font-size="11.5" font-weight="bold">d</text>
<rect x="46.00" y="196.90" width="4.30" height="4.30" fill="#000" stroke="none" stroke-width="1"/>
<text x="52.70" y="202.20" font-size="9.3">LacZ</text>
<rect x="97.60" y="196.90" width="4.30" height="4.30" fill="#ee3124" stroke="none" stroke-width="1"/>
<text x="104.40" y="202.20" font-size="9.3">Nrf1</text>
<rect x="146.70" y="196.90" width="4.30" height="4.30" fill="#2f55f2" stroke="none" stroke-width="1"/>
<text x="153.80" y="202.20" font-size="9.3">Nrf2</text>
<line x1="34.80" y1="207.10" x2="34.80" y2="321.80" stroke="#000" stroke-width="1.0"/>
<line x1="34.30" y1="321.80" x2="200.80" y2="321.80" stroke="#000" stroke-width="1.0"/>
<line x1="30.00" y1="321.80" x2="34.80" y2="321.80" stroke="#000" stroke-width="1.0"/>
<text x="28.60" y="325.10" font-size="9.3" text-anchor="end">0</text>
<line x1="30.00" y1="283.73" x2="34.80" y2="283.73" stroke="#000" stroke-width="1.0"/>
<text x="28.60" y="287.03" font-size="9.3" text-anchor="end">1.0</text>
<line x1="30.00" y1="245.67" x2="34.80" y2="245.67" stroke="#000" stroke-width="1.0"/>
<text x="28.60" y="248.97" font-size="9.3" text-anchor="end">2.0</text>
<line x1="30.00" y1="207.60" x2="34.80" y2="207.60" stroke="#000" stroke-width="1.0"/>
<text x="28.60" y="210.90" font-size="9.3" text-anchor="end">3.0</text>
<text x="10.60" y="266.00" font-size="9.2" text-anchor="middle" transform="rotate(-90 10.60 266.00)" textLength="125.0" lengthAdjust="spacingAndGlyphs">Proteasome activity (arb. units)</text>
<path d="M40.30 321.80V290.20H49.90V321.80" fill="none" stroke="#000" stroke-width="1.3"/>
<path d="M45.10 293.25V287.16M42.90 293.25H47.30M42.90 287.16H47.30" fill="none" stroke="#000" stroke-width="0.9"/>
<circle cx="43.10" cy="287.54" r="1.70" fill="#fff" stroke="#000" stroke-width="1.0"/>
<circle cx="46.10" cy="287.54" r="1.70" fill="#fff" stroke="#000" stroke-width="1.0"/>
<circle cx="42.10" cy="289.82" r="1.70" fill="#fff" stroke="#000" stroke-width="1.0"/>
<circle cx="44.70" cy="290.59" r="1.70" fill="#fff" stroke="#000" stroke-width="1.0"/>
<circle cx="47.50" cy="291.35" r="1.70" fill="#fff" stroke="#000" stroke-width="1.0"/>
<circle cx="43.10" cy="293.63" r="1.70" fill="#fff" stroke="#000" stroke-width="1.0"/>
<circle cx="46.80" cy="293.63" r="1.70" fill="#fff" stroke="#000" stroke-width="1.0"/>
<path d="M56.00 321.80V269.65H65.60V321.80" fill="none" stroke="#e8212b" stroke-width="1.3"/>
<path d="M60.80 282.21V257.09M58.60 282.21H63.00M58.60 257.09H63.00" fill="none" stroke="#e8212b" stroke-width="0.9"/>
<circle cx="61.00" cy="252.52" r="2.30" fill="#e8212b" stroke="none" stroke-width="1"/>
<circle cx="58.20" cy="266.22" r="2.30" fill="#e8212b" stroke="none" stroke-width="1"/>
<circle cx="63.50" cy="266.22" r="2.30" fill="#e8212b" stroke="none" stroke-width="1"/>
<circle cx="58.20" cy="283.35" r="2.30" fill="#e8212b" stroke="none" stroke-width="1"/>
<circle cx="63.20" cy="279.93" r="2.30" fill="#e8212b" stroke="none" stroke-width="1"/>
<path d="M71.70 321.80V288.30H81.30V321.80" fill="none" stroke="#2f55f2" stroke-width="1.3"/>
<path d="M76.50 289.82V286.78M74.30 289.82H78.70M74.30 286.78H78.70" fill="none" stroke="#2f55f2" stroke-width="0.9"/>
<path d="M74.10 286.26L76.76 291.02L71.44 291.02Z" fill="#2f55f2" stroke="none" stroke-width="0.9"/>
<path d="M76.90 283.60L79.56 288.36L74.24 288.36Z" fill="#2f55f2" stroke="none" stroke-width="0.9"/>
<path d="M79.30 285.12L81.96 289.88L76.64 289.88Z" fill="#2f55f2" stroke="none" stroke-width="0.9"/>
<path d="M97.80 321.80V273.84H107.40V321.80" fill="none" stroke="#000" stroke-width="1.3"/>
<path d="M102.60 277.64V270.03M100.40 277.64H104.80M100.40 270.03H104.80" fill="none" stroke="#000" stroke-width="0.9"/>
<circle cx="102.40" cy="264.70" r="1.70" fill="#fff" stroke="#000" stroke-width="1.0"/>
<circle cx="100.60" cy="270.03" r="1.70" fill="#fff" stroke="#000" stroke-width="1.0"/>
<circle cx="103.80" cy="271.17" r="1.70" fill="#fff" stroke="#000" stroke-width="1.0"/>
<circle cx="99.40" cy="273.46" r="1.70" fill="#fff" stroke="#000" stroke-width="1.0"/>
<circle cx="105.50" cy="273.84" r="1.70" fill="#fff" stroke="#000" stroke-width="1.0"/>
<circle cx="100.90" cy="276.12" r="1.70" fill="#fff" stroke="#000" stroke-width="1.0"/>
<circle cx="104.50" cy="275.74" r="1.70" fill="#fff" stroke="#000" stroke-width="1.0"/>
<path d="M113.20 321.80V239.96H122.80V321.80" fill="none" stroke="#e8212b" stroke-width="1.3"/>
<path d="M118.00 248.33V231.58M115.80 248.33H120.20M115.80 231.58H120.20" fill="none" stroke="#e8212b" stroke-width="0.9"/>
<circle cx="118.00" cy="230.82" r="2.30" fill="#e8212b" stroke="none" stroke-width="1"/>
<circle cx="114.80" cy="236.53" r="2.30" fill="#e8212b" stroke="none" stroke-width="1"/>
<circle cx="121.30" cy="237.67" r="2.30" fill="#e8212b" stroke="none" stroke-width="1"/>
<circle cx="115.20" cy="240.72" r="2.30" fill="#e8212b" stroke="none" stroke-width="1"/>
<circle cx="120.60" cy="243.00" r="2.30" fill="#e8212b" stroke="none" stroke-width="1"/>
<circle cx="118.00" cy="255.94" r="2.30" fill="#e8212b" stroke="none" stroke-width="1"/>
<path d="M128.70 321.80V278.40H138.30V321.80" fill="none" stroke="#2f55f2" stroke-width="1.3"/>
<path d="M133.50 282.21V274.60M131.30 282.21H135.70M131.30 274.60H135.70" fill="none" stroke="#2f55f2" stroke-width="0.9"/>
<path d="M131.10 270.66L133.76 275.42L128.44 275.42Z" fill="#2f55f2" stroke="none" stroke-width="0.9"/>
<path d="M135.50 274.08L138.16 278.84L132.84 278.84Z" fill="#2f55f2" stroke="none" stroke-width="0.9"/>
<path d="M131.90 277.13L134.56 281.89L129.24 281.89Z" fill="#2f55f2" stroke="none" stroke-width="0.9"/>
<path d="M136.30 276.37L138.96 281.13L133.64 281.13Z" fill="#2f55f2" stroke="none" stroke-width="0.9"/>
<path d="M154.80 321.80V266.60H164.40V321.80" fill="none" stroke="#000" stroke-width="1.3"/>
<path d="M159.60 271.17V262.04M157.40 271.17H161.80M157.40 262.04H161.80" fill="none" stroke="#000" stroke-width="0.9"/>
<circle cx="162.20" cy="260.13" r="1.70" fill="#fff" stroke="#000" stroke-width="1.0"/>
<circle cx="157.00" cy="262.42" r="1.70" fill="#fff" stroke="#000" stroke-width="1.0"/>
<circle cx="160.20" cy="264.32" r="1.70" fill="#fff" stroke="#000" stroke-width="1.0"/>
<circle cx="158.80" cy="266.98" r="1.70" fill="#fff" stroke="#000" stroke-width="1.0"/>
<circle cx="162.20" cy="268.51" r="1.70" fill="#fff" stroke="#000" stroke-width="1.0"/>
<circle cx="157.40" cy="271.17" r="1.70" fill="#fff" stroke="#000" stroke-width="1.0"/>
<path d="M170.30 321.80V244.52H179.90V321.80" fill="none" stroke="#e8212b" stroke-width="1.3"/>
<path d="M175.10 248.71V240.34M172.90 248.71H177.30M172.90 240.34H177.30" fill="none" stroke="#e8212b" stroke-width="0.9"/>
<circle cx="175.30" cy="239.20" r="2.30" fill="#e8212b" stroke="none" stroke-width="1"/>
<circle cx="172.50" cy="241.10" r="2.30" fill="#e8212b" stroke="none" stroke-width="1"/>
<circle cx="177.90" cy="241.86" r="2.30" fill="#e8212b" stroke="none" stroke-width="1"/>
<circle cx="174.50" cy="244.52" r="2.30" fill="#e8212b" stroke="none" stroke-width="1"/>
<circle cx="177.70" cy="246.81" r="2.30" fill="#e8212b" stroke="none" stroke-width="1"/>
<circle cx="172.70" cy="248.33" r="2.30" fill="#e8212b" stroke="none" stroke-width="1"/>
<circle cx="175.30" cy="251.76" r="2.30" fill="#e8212b" stroke="none" stroke-width="1"/>
<path d="M185.80 321.80V260.51H195.40V321.80" fill="none" stroke="#2f55f2" stroke-width="1.3"/>
<path d="M190.60 264.32V256.71M188.40 264.32H192.80M188.40 256.71H192.80" fill="none" stroke="#2f55f2" stroke-width="0.9"/>
<path d="M190.80 252.76L193.46 257.52L188.14 257.52Z" fill="#2f55f2" stroke="none" stroke-width="0.9"/>
<path d="M193.40 256.95L196.06 261.71L190.74 261.71Z" fill="#2f55f2" stroke="none" stroke-width="0.9"/>
<path d="M188.00 259.24L190.66 264.00L185.34 264.00Z" fill="#2f55f2" stroke="none" stroke-width="0.9"/>
<text x="62.10" y="334.30" font-size="9.3" text-anchor="middle">Trypsin</text>
<text x="62.10" y="344.40" font-size="9.3" text-anchor="middle">-like</text>
<text x="117.90" y="334.30" font-size="9.3" text-anchor="middle">Chemotrypsin</text>
<text x="117.90" y="344.40" font-size="9.3" text-anchor="middle">-like</text>
<text x="174.30" y="334.30" font-size="9.3" text-anchor="middle">Caspase</text>
<text x="174.30" y="344.40" font-size="9.3" text-anchor="middle">-like</text>
<line x1="60.80" y1="321.80" x2="60.80" y2="326.00" stroke="#000" stroke-width="1.0"/>
<line x1="118.00" y1="321.80" x2="118.00" y2="326.00" stroke="#000" stroke-width="1.0"/>
<line x1="175.10" y1="321.80" x2="175.10" y2="326.00" stroke="#000" stroke-width="1.0"/>
<path d="M46.40 245.50V242.50H61.50V245.50" fill="none" stroke="#111" stroke-width="0.9"/>
<text x="53.95" y="245.40" font-size="12.6" text-anchor="middle">**</text>
<path d="M46.40 236.80V233.80H77.40V236.80" fill="none" stroke="#111" stroke-width="0.9"/>
<text x="61.90" y="233.30" font-size="9.3" text-anchor="middle" font-style="italic">n.s.</text>
<path d="M102.10 226.00V223.00H118.20V226.00" fill="none" stroke="#111" stroke-width="0.9"/>
<text x="110.15" y="225.90" font-size="12.6" text-anchor="middle">***</text>
<path d="M102.10 217.00V214.00H133.60V217.00" fill="none" stroke="#111" stroke-width="0.9"/>
<text x="117.85" y="213.50" font-size="9.3" text-anchor="middle" font-style="italic">n.s.</text>
<path d="M159.20 232.80V229.80H174.60V232.80" fill="none" stroke="#111" stroke-width="0.9"/>
<text x="166.90" y="232.70" font-size="12.6" text-anchor="middle">**</text>
<path d="M159.20 224.00V221.00H190.00V224.00" fill="none" stroke="#111" stroke-width="0.9"/>
<text x="174.60" y="220.50" font-size="9.3" text-anchor="middle" font-style="italic">n.s.</text>
</g>
<g id="panel-e">
<text x="225.30" y="198.60" font-size="11.5" font-weight="bold">e</text>
<circle cx="308.60" cy="199.20" r="1.90" fill="#000" stroke="none" stroke-width="1"/>
<text x="313.90" y="202.20" font-size="9.3">Nrf1</text>
<text x="334.00" y="199.20" font-size="5.0" fill="#333">fl/fl</text>
<circle cx="361.80" cy="199.20" r="1.90" fill="#f7941d" stroke="none" stroke-width="1"/>
<text x="367.20" y="202.20" font-size="9.3">Nrf1 cKO</text>
<line x1="259.80" y1="206.80" x2="259.80" y2="321.70" stroke="#000" stroke-width="1.0"/>
<line x1="259.30" y1="321.70" x2="443.00" y2="321.70" stroke="#000" stroke-width="1.0"/>
<line x1="256.40" y1="321.70" x2="259.80" y2="321.70" stroke="#000" stroke-width="1.0"/>
<text x="255.20" y="325.00" font-size="9.3" text-anchor="end">0.0</text>
<line x1="256.40" y1="283.57" x2="259.80" y2="283.57" stroke="#000" stroke-width="1.0"/>
<text x="255.20" y="286.87" font-size="9.3" text-anchor="end">0.5</text>
<line x1="256.40" y1="245.43" x2="259.80" y2="245.43" stroke="#000" stroke-width="1.0"/>
<text x="255.20" y="248.73" font-size="9.3" text-anchor="end">1.0</text>
<line x1="256.40" y1="207.30" x2="259.80" y2="207.30" stroke="#000" stroke-width="1.0"/>
<text x="255.20" y="210.60" font-size="9.3" text-anchor="end">1.5</text>
<text x="239.60" y="264.20" font-size="9.6" text-anchor="middle" transform="rotate(-90 239.60 264.20)" textLength="102.0" lengthAdjust="spacingAndGlyphs">Expression (fold-change)</text>
<path d="M264.10 321.70V245.43H271.50V321.70" fill="none" stroke="#000" stroke-width="1.2"/>
<path d="M267.80 250.01V240.86M265.80 250.01H269.80M265.80 240.86H269.80" fill="none" stroke="#000" stroke-width="0.9"/>
<circle cx="267.80" cy="236.28" r="2.00" fill="#000" stroke="none" stroke-width="1"/>
<circle cx="269.20" cy="247.72" r="2.00" fill="#000" stroke="none" stroke-width="1"/>
<circle cx="267.40" cy="250.77" r="2.00" fill="#000" stroke="none" stroke-width="1"/>
<path d="M275.45 321.70V277.47H282.95V321.70" fill="none" stroke="#f7941d" stroke-width="1.2"/>
<path d="M279.20 285.09V269.84M277.20 285.09H281.20M277.20 269.84H281.20" fill="none" stroke="#f7941d" stroke-width="0.9"/>
<circle cx="279.40" cy="262.21" r="2.00" fill="#f7941d" stroke="none" stroke-width="1"/>
<circle cx="279.60" cy="279.75" r="2.00" fill="#f7941d" stroke="none" stroke-width="1"/>
<circle cx="279.20" cy="290.43" r="2.00" fill="#f7941d" stroke="none" stroke-width="1"/>
<line x1="273.30" y1="321.70" x2="273.30" y2="326.70" stroke="#000" stroke-width="1.0"/>
<path d="M269.10 226.40V224.90H277.90V226.40" fill="none" stroke="#111" stroke-width="0.9"/>
<text x="273.90" y="227.50" font-size="12" text-anchor="middle">*</text>
<text x="278.10" y="332.60" font-size="9.3" text-anchor="end" transform="rotate(-45 278.10 332.60)">Psma1</text>
<path d="M295.26 321.70V245.43H302.66V321.70" fill="none" stroke="#000" stroke-width="1.2"/>
<path d="M298.96 250.01V240.86M296.96 250.01H300.96M296.96 240.86H300.96" fill="none" stroke="#000" stroke-width="0.9"/>
<circle cx="298.96" cy="237.04" r="2.00" fill="#000" stroke="none" stroke-width="1"/>
<circle cx="300.36" cy="245.43" r="2.00" fill="#000" stroke="none" stroke-width="1"/>
<circle cx="298.56" cy="253.06" r="2.00" fill="#000" stroke="none" stroke-width="1"/>
<path d="M306.61 321.70V278.23H314.11V321.70" fill="none" stroke="#f7941d" stroke-width="1.2"/>
<path d="M310.36 286.62V269.84M308.36 286.62H312.36M308.36 269.84H312.36" fill="none" stroke="#f7941d" stroke-width="0.9"/>
<circle cx="310.56" cy="262.21" r="2.00" fill="#f7941d" stroke="none" stroke-width="1"/>
<circle cx="310.76" cy="280.52" r="2.00" fill="#f7941d" stroke="none" stroke-width="1"/>
<circle cx="310.36" cy="290.43" r="2.00" fill="#f7941d" stroke="none" stroke-width="1"/>
<line x1="304.46" y1="321.70" x2="304.46" y2="326.70" stroke="#000" stroke-width="1.0"/>
<path d="M300.26 226.40V224.90H309.06V226.40" fill="none" stroke="#111" stroke-width="0.9"/>
<text x="305.06" y="227.50" font-size="12" text-anchor="middle">*</text>
<text x="309.26" y="332.60" font-size="9.3" text-anchor="end" transform="rotate(-45 309.26 332.60)">Psma5</text>
<path d="M326.42 321.70V245.43H333.82V321.70" fill="none" stroke="#000" stroke-width="1.2"/>
<path d="M330.12 249.25V241.62M328.12 249.25H332.12M328.12 241.62H332.12" fill="none" stroke="#000" stroke-width="0.9"/>
<circle cx="330.12" cy="240.86" r="2.00" fill="#000" stroke="none" stroke-width="1"/>
<circle cx="327.32" cy="242.38" r="2.00" fill="#000" stroke="none" stroke-width="1"/>
<circle cx="330.92" cy="251.53" r="2.00" fill="#000" stroke="none" stroke-width="1"/>
<path d="M337.77 321.70V284.33H345.27V321.70" fill="none" stroke="#f7941d" stroke-width="1.2"/>
<path d="M341.52 291.96V276.70M339.52 291.96H343.52M339.52 276.70H343.52" fill="none" stroke="#f7941d" stroke-width="0.9"/>
<circle cx="341.72" cy="269.08" r="2.00" fill="#f7941d" stroke="none" stroke-width="1"/>
<circle cx="341.92" cy="288.14" r="2.00" fill="#f7941d" stroke="none" stroke-width="1"/>
<circle cx="341.52" cy="297.29" r="2.00" fill="#f7941d" stroke="none" stroke-width="1"/>
<line x1="335.62" y1="321.70" x2="335.62" y2="326.70" stroke="#000" stroke-width="1.0"/>
<path d="M331.42 226.40V224.90H340.22V226.40" fill="none" stroke="#111" stroke-width="0.9"/>
<text x="336.22" y="227.50" font-size="12" text-anchor="middle">*</text>
<text x="340.42" y="332.60" font-size="9.3" text-anchor="end" transform="rotate(-45 340.42 332.60)">Psmd1</text>
<path d="M357.58 321.70V240.86H364.98V321.70" fill="none" stroke="#000" stroke-width="1.2"/>
<path d="M361.28 251.53V230.18M359.28 251.53H363.28M359.28 230.18H363.28" fill="none" stroke="#000" stroke-width="0.9"/>
<circle cx="361.28" cy="224.08" r="2.00" fill="#000" stroke="none" stroke-width="1"/>
<circle cx="362.68" cy="237.81" r="2.00" fill="#000" stroke="none" stroke-width="1"/>
<circle cx="360.88" cy="259.92" r="2.00" fill="#000" stroke="none" stroke-width="1"/>
<path d="M368.93 321.70V274.41H376.43V321.70" fill="none" stroke="#f7941d" stroke-width="1.2"/>
<path d="M372.68 278.23V270.60M370.68 278.23H374.68M370.68 270.60H374.68" fill="none" stroke="#f7941d" stroke-width="0.9"/>
<circle cx="372.88" cy="270.60" r="2.00" fill="#f7941d" stroke="none" stroke-width="1"/>
<circle cx="373.08" cy="273.65" r="2.00" fill="#f7941d" stroke="none" stroke-width="1"/>
<circle cx="372.68" cy="279.75" r="2.00" fill="#f7941d" stroke="none" stroke-width="1"/>
<line x1="366.78" y1="321.70" x2="366.78" y2="326.70" stroke="#000" stroke-width="1.0"/>
<path d="M362.58 212.80V211.30H371.38V212.80" fill="none" stroke="#111" stroke-width="0.9"/>
<text x="367.38" y="213.90" font-size="12" text-anchor="middle">*</text>
<text x="371.58" y="332.60" font-size="9.3" text-anchor="end" transform="rotate(-45 371.58 332.60)">Cat</text>
<path d="M388.74 321.70V244.67H396.14V321.70" fill="none" stroke="#000" stroke-width="1.2"/>
<path d="M392.44 252.30V237.04M390.44 252.30H394.44M390.44 237.04H394.44" fill="none" stroke="#000" stroke-width="0.9"/>
<circle cx="390.44" cy="236.28" r="2.00" fill="#000" stroke="none" stroke-width="1"/>
<circle cx="394.64" cy="237.04" r="2.00" fill="#000" stroke="none" stroke-width="1"/>
<circle cx="391.64" cy="259.92" r="2.00" fill="#000" stroke="none" stroke-width="1"/>
<path d="M400.09 321.70V271.36H407.59V321.70" fill="none" stroke="#f7941d" stroke-width="1.2"/>
<path d="M403.84 279.75V262.97M401.84 279.75H405.84M401.84 262.97H405.84" fill="none" stroke="#f7941d" stroke-width="0.9"/>
<circle cx="404.04" cy="257.64" r="2.00" fill="#f7941d" stroke="none" stroke-width="1"/>
<circle cx="404.24" cy="270.60" r="2.00" fill="#f7941d" stroke="none" stroke-width="1"/>
<circle cx="403.84" cy="287.38" r="2.00" fill="#f7941d" stroke="none" stroke-width="1"/>
<line x1="397.94" y1="321.70" x2="397.94" y2="326.70" stroke="#000" stroke-width="1.0"/>
<path d="M393.74 228.50V227.00H402.54V228.50" fill="none" stroke="#111" stroke-width="0.9"/>
<text x="398.54" y="229.60" font-size="12" text-anchor="middle">*</text>
<text x="402.74" y="332.60" font-size="9.3" text-anchor="end" transform="rotate(-45 402.74 332.60)">Sod1</text>
<path d="M419.90 321.70V230.94H427.30V321.70" fill="none" stroke="#000" stroke-width="1.2"/>
<path d="M423.60 242.38V219.50M421.60 242.38H425.60M421.60 219.50H425.60" fill="none" stroke="#000" stroke-width="0.9"/>
<circle cx="423.60" cy="215.69" r="2.00" fill="#000" stroke="none" stroke-width="1"/>
<circle cx="425.00" cy="221.79" r="2.00" fill="#000" stroke="none" stroke-width="1"/>
<circle cx="423.20" cy="253.82" r="2.00" fill="#000" stroke="none" stroke-width="1"/>
<path d="M431.25 321.70V265.26H438.75V321.70" fill="none" stroke="#f7941d" stroke-width="1.2"/>
<path d="M435.00 269.08V261.45M433.00 269.08H437.00M433.00 261.45H437.00" fill="none" stroke="#f7941d" stroke-width="0.9"/>
<circle cx="435.20" cy="259.92" r="2.00" fill="#f7941d" stroke="none" stroke-width="1"/>
<circle cx="435.40" cy="262.21" r="2.00" fill="#f7941d" stroke="none" stroke-width="1"/>
<circle cx="435.00" cy="272.13" r="2.00" fill="#f7941d" stroke="none" stroke-width="1"/>
<line x1="429.10" y1="321.70" x2="429.10" y2="326.70" stroke="#000" stroke-width="1.0"/>
<path d="M424.90 211.80V210.30H433.70V211.80" fill="none" stroke="#111" stroke-width="0.9"/>
<text x="429.70" y="212.90" font-size="12" text-anchor="middle">*</text>
<text x="433.90" y="332.60" font-size="9.3" text-anchor="end" transform="rotate(-45 433.90 332.60)">Hmox1</text>
<line x1="254.30" y1="355.00" x2="316.90" y2="355.00" stroke="#000" stroke-width="0.9"/>
<text x="285.80" y="366.00" font-size="9.3" text-anchor="middle">Proteasome</text>
<line x1="357.00" y1="355.00" x2="422.40" y2="355.00" stroke="#000" stroke-width="0.9"/>
<text x="392.80" y="366.00" font-size="9.3" text-anchor="middle">Antioxidant</text>
</g>
<g id="panel-f">
<text x="472.00" y="198.60" font-size="11.5" font-weight="bold">f</text>
<circle cx="527.30" cy="199.20" r="1.90" fill="#000" stroke="none" stroke-width="1"/>
<text x="532.60" y="202.20" font-size="9.3" textLength="63.0" lengthAdjust="spacingAndGlyphs">AAV-TdTomato</text>
<circle cx="615.60" cy="199.20" r="1.90" fill="#f4371f" stroke="none" stroke-width="1"/>
<text x="620.90" y="202.20" font-size="9.3" textLength="37.0" lengthAdjust="spacingAndGlyphs">AAV-Nrf1</text>
<line x1="508.20" y1="206.60" x2="508.20" y2="258.80" stroke="#000" stroke-width="1.0"/>
<line x1="508.20" y1="270.20" x2="508.20" y2="321.70" stroke="#000" stroke-width="1.0"/>
<line x1="505.10" y1="256.20" x2="511.70" y2="262.80" stroke="#000" stroke-width="0.9"/>
<line x1="505.10" y1="266.10" x2="511.70" y2="272.60" stroke="#000" stroke-width="0.9"/>
<line x1="507.70" y1="321.70" x2="685.00" y2="321.70" stroke="#000" stroke-width="1.0"/>
<line x1="503.80" y1="321.70" x2="508.20" y2="321.70" stroke="#000" stroke-width="1.0"/>
<text x="500.90" y="325.00" font-size="9.3" text-anchor="end">0</text>
<line x1="503.80" y1="300.65" x2="508.20" y2="300.65" stroke="#000" stroke-width="1.0"/>
<text x="500.90" y="303.95" font-size="9.3" text-anchor="end">1</text>
<line x1="503.80" y1="279.60" x2="508.20" y2="279.60" stroke="#000" stroke-width="1.0"/>
<text x="500.90" y="282.90" font-size="9.3" text-anchor="end">2</text>
<text x="500.90" y="262.60" font-size="9.3" text-anchor="end">4.0</text>
<line x1="503.80" y1="233.20" x2="508.20" y2="233.20" stroke="#000" stroke-width="1.0"/>
<text x="500.90" y="236.50" font-size="9.3" text-anchor="end">4.5</text>
<line x1="503.80" y1="207.10" x2="508.20" y2="207.10" stroke="#000" stroke-width="1.0"/>
<text x="500.90" y="210.40" font-size="9.3" text-anchor="end">5.0</text>
<text x="483.30" y="264.20" font-size="9.6" text-anchor="middle" transform="rotate(-90 483.30 264.20)" textLength="102.0" lengthAdjust="spacingAndGlyphs">Expression (fold-change)</text>
<path d="M512.30 321.70V297.49H519.30V321.70" fill="none" stroke="#000" stroke-width="1.2"/>
<path d="M515.80 300.02V294.97M513.80 300.02H517.80M513.80 294.97H517.80" fill="none" stroke="#000" stroke-width="0.9"/>
<circle cx="515.00" cy="295.18" r="2.00" fill="#000" stroke="none" stroke-width="1"/>
<circle cx="517.00" cy="298.12" r="2.00" fill="#000" stroke="none" stroke-width="1"/>
<circle cx="514.60" cy="298.97" r="2.00" fill="#000" stroke="none" stroke-width="1"/>
<path d="M523.50 321.70V289.07H530.70V321.70" fill="none" stroke="#f4371f" stroke-width="1.2"/>
<path d="M527.10 292.86V285.28M525.10 292.86H529.10M525.10 285.28H529.10" fill="none" stroke="#f4371f" stroke-width="0.9"/>
<circle cx="527.10" cy="284.23" r="2.00" fill="#f4371f" stroke="none" stroke-width="1"/>
<circle cx="528.10" cy="290.12" r="2.00" fill="#f4371f" stroke="none" stroke-width="1"/>
<circle cx="525.70" cy="291.81" r="2.00" fill="#f4371f" stroke="none" stroke-width="1"/>
<line x1="521.40" y1="321.70" x2="521.40" y2="326.50" stroke="#000" stroke-width="1.0"/>
<path d="M516.70 272.70V271.20H525.90V272.70" fill="none" stroke="#111" stroke-width="0.9"/>
<text x="521.40" y="273.90" font-size="12" text-anchor="middle">*</text>
<text x="526.20" y="332.60" font-size="9.3" text-anchor="end" transform="rotate(-45 526.20 332.60)">Psma1</text>
<path d="M542.36 321.70V300.65H549.36V321.70" fill="none" stroke="#000" stroke-width="1.2"/>
<path d="M545.86 304.02V297.28M543.86 304.02H547.86M543.86 297.28H547.86" fill="none" stroke="#000" stroke-width="0.9"/>
<circle cx="545.06" cy="296.02" r="2.00" fill="#000" stroke="none" stroke-width="1"/>
<circle cx="547.06" cy="301.70" r="2.00" fill="#000" stroke="none" stroke-width="1"/>
<circle cx="544.66" cy="302.33" r="2.00" fill="#000" stroke="none" stroke-width="1"/>
<path d="M553.56 321.70V289.07H560.76V321.70" fill="none" stroke="#f4371f" stroke-width="1.2"/>
<path d="M557.16 295.39V282.76M555.16 295.39H559.16M555.16 282.76H559.16" fill="none" stroke="#f4371f" stroke-width="0.9"/>
<circle cx="557.16" cy="280.02" r="2.00" fill="#f4371f" stroke="none" stroke-width="1"/>
<circle cx="558.16" cy="290.12" r="2.00" fill="#f4371f" stroke="none" stroke-width="1"/>
<circle cx="555.76" cy="295.39" r="2.00" fill="#f4371f" stroke="none" stroke-width="1"/>
<line x1="551.46" y1="321.70" x2="551.46" y2="326.50" stroke="#000" stroke-width="1.0"/>
<path d="M546.76 272.70V271.20H555.96V272.70" fill="none" stroke="#111" stroke-width="0.9"/>
<text x="551.46" y="273.90" font-size="12" text-anchor="middle">*</text>
<text x="556.26" y="332.60" font-size="9.3" text-anchor="end" transform="rotate(-45 556.26 332.60)">Psmb3</text>
<path d="M572.42 321.70V297.49H579.42V321.70" fill="none" stroke="#000" stroke-width="1.2"/>
<path d="M575.92 299.60V295.39M573.92 299.60H577.92M573.92 295.39H577.92" fill="none" stroke="#000" stroke-width="0.9"/>
<circle cx="575.12" cy="296.44" r="2.00" fill="#000" stroke="none" stroke-width="1"/>
<circle cx="577.12" cy="296.86" r="2.00" fill="#000" stroke="none" stroke-width="1"/>
<circle cx="574.72" cy="300.65" r="2.00" fill="#000" stroke="none" stroke-width="1"/>
<path d="M583.62 321.70V282.76H590.82V321.70" fill="none" stroke="#f4371f" stroke-width="1.2"/>
<path d="M587.22 290.76V274.76M585.22 290.76H589.22M585.22 274.76H589.22" fill="none" stroke="#f4371f" stroke-width="0.9"/>
<circle cx="587.22" cy="277.07" r="2.00" fill="#f4371f" stroke="none" stroke-width="1"/>
<circle cx="588.22" cy="278.55" r="2.00" fill="#f4371f" stroke="none" stroke-width="1"/>
<circle cx="585.82" cy="292.23" r="2.00" fill="#f4371f" stroke="none" stroke-width="1"/>
<line x1="581.52" y1="321.70" x2="581.52" y2="326.50" stroke="#000" stroke-width="1.0"/>
<path d="M576.82 272.70V271.20H586.02V272.70" fill="none" stroke="#111" stroke-width="0.9"/>
<text x="581.52" y="273.90" font-size="12" text-anchor="middle">*</text>
<text x="586.32" y="332.60" font-size="9.3" text-anchor="end" transform="rotate(-45 586.32 332.60)">Psmd1</text>
<path d="M602.48 321.70V300.65H609.48V321.70" fill="none" stroke="#000" stroke-width="1.2"/>
<path d="M605.98 301.91V299.39M603.98 301.91H607.98M603.98 299.39H607.98" fill="none" stroke="#000" stroke-width="0.9"/>
<circle cx="605.18" cy="299.18" r="2.00" fill="#000" stroke="none" stroke-width="1"/>
<circle cx="607.18" cy="300.65" r="2.00" fill="#000" stroke="none" stroke-width="1"/>
<circle cx="604.78" cy="301.70" r="2.00" fill="#000" stroke="none" stroke-width="1"/>
<path d="M613.68 321.70V282.76H620.88V321.70" fill="none" stroke="#f4371f" stroke-width="1.2"/>
<path d="M617.28 289.07V276.44M615.28 289.07H619.28M615.28 276.44H619.28" fill="none" stroke="#f4371f" stroke-width="0.9"/>
<circle cx="617.28" cy="276.02" r="2.00" fill="#f4371f" stroke="none" stroke-width="1"/>
<circle cx="618.28" cy="283.39" r="2.00" fill="#f4371f" stroke="none" stroke-width="1"/>
<circle cx="615.88" cy="288.02" r="2.00" fill="#f4371f" stroke="none" stroke-width="1"/>
<line x1="611.58" y1="321.70" x2="611.58" y2="326.50" stroke="#000" stroke-width="1.0"/>
<path d="M606.88 272.70V271.20H616.08V272.70" fill="none" stroke="#111" stroke-width="0.9"/>
<text x="611.58" y="273.90" font-size="12" text-anchor="middle">*</text>
<text x="616.38" y="332.60" font-size="9.3" text-anchor="end" transform="rotate(-45 616.38 332.60)">Sod1</text>
<path d="M632.54 321.70V302.12H639.54V321.70" fill="none" stroke="#000" stroke-width="1.2"/>
<path d="M636.04 304.02V300.23M634.04 304.02H638.04M634.04 300.23H638.04" fill="none" stroke="#000" stroke-width="0.9"/>
<circle cx="635.24" cy="300.23" r="2.00" fill="#000" stroke="none" stroke-width="1"/>
<circle cx="637.24" cy="302.33" r="2.00" fill="#000" stroke="none" stroke-width="1"/>
<circle cx="634.84" cy="303.60" r="2.00" fill="#000" stroke="none" stroke-width="1"/>
<path d="M643.74 321.70V289.07H650.94V321.70" fill="none" stroke="#f4371f" stroke-width="1.2"/>
<path d="M647.34 294.97V283.18M645.34 294.97H649.34M645.34 283.18H649.34" fill="none" stroke="#f4371f" stroke-width="0.9"/>
<circle cx="647.34" cy="282.13" r="2.00" fill="#f4371f" stroke="none" stroke-width="1"/>
<circle cx="648.34" cy="291.18" r="2.00" fill="#f4371f" stroke="none" stroke-width="1"/>
<circle cx="645.94" cy="292.65" r="2.00" fill="#f4371f" stroke="none" stroke-width="1"/>
<line x1="641.64" y1="321.70" x2="641.64" y2="326.50" stroke="#000" stroke-width="1.0"/>
<path d="M636.94 272.70V271.20H646.14V272.70" fill="none" stroke="#111" stroke-width="0.9"/>
<text x="641.64" y="273.90" font-size="12" text-anchor="middle">*</text>
<text x="646.44" y="332.60" font-size="9.3" text-anchor="end" transform="rotate(-45 646.44 332.60)">Sod2</text>
<path d="M662.60 321.70V300.65H669.60V321.70" fill="none" stroke="#000" stroke-width="1.2"/>
<path d="M666.10 304.44V296.86M664.10 304.44H668.10M664.10 296.86H668.10" fill="none" stroke="#000" stroke-width="0.9"/>
<circle cx="665.30" cy="295.39" r="2.00" fill="#000" stroke="none" stroke-width="1"/>
<circle cx="667.30" cy="301.70" r="2.00" fill="#000" stroke="none" stroke-width="1"/>
<circle cx="664.90" cy="303.81" r="2.00" fill="#000" stroke="none" stroke-width="1"/>
<path d="M673.80 321.70V269.8M681.00 321.70V269.8" fill="none" stroke="#f4371f" stroke-width="1.2"/>
<path d="M673.80 258.6V236.85H681.00V258.6" fill="none" stroke="#f4371f" stroke-width="1.2"/>
<path d="M677.40 253.56V220.15M675.40 253.56H679.40M675.40 220.15H679.40" fill="none" stroke="#f4371f" stroke-width="0.9"/>
<circle cx="677.40" cy="220.15" r="2.00" fill="#f4371f" stroke="none" stroke-width="1"/>
<circle cx="677.40" cy="236.85" r="2.00" fill="#f4371f" stroke="none" stroke-width="1"/>
<circle cx="677.40" cy="253.04" r="2.00" fill="#f4371f" stroke="none" stroke-width="1"/>
<line x1="671.70" y1="321.70" x2="671.70" y2="326.50" stroke="#000" stroke-width="1.0"/>
<path d="M667.40 214.70V213.20H675.60V214.70" fill="none" stroke="#111" stroke-width="0.9"/>
<text x="671.70" y="216.00" font-size="12" text-anchor="middle">***</text>
<text x="676.50" y="332.60" font-size="9.3" text-anchor="end" transform="rotate(-45 676.50 332.60)">Hmox1</text>
<line x1="502.10" y1="355.60" x2="565.90" y2="355.60" stroke="#000" stroke-width="0.9"/>
<text x="536.10" y="366.00" font-size="9.3" text-anchor="middle">Proteasome</text>
<line x1="590.40" y1="355.60" x2="656.60" y2="355.60" stroke="#000" stroke-width="0.9"/>
<text x="625.10" y="366.00" font-size="9.3" text-anchor="middle">Antioxidant</text>
</g>
<g id="panel-g">
<text x="-0.40" y="375.20" font-size="11.5" font-weight="bold">g</text>
<rect x="36.30" y="380.90" width="10.51" height="10.59" fill="#feeceb" stroke="none" stroke-width="1"/>
<rect x="46.66" y="380.90" width="10.51" height="10.59" fill="#fef7f7" stroke="none" stroke-width="1"/>
<rect x="57.02" y="380.90" width="10.51" height="10.59" fill="#b3b9fb" stroke="none" stroke-width="1"/>
<rect x="67.38" y="380.90" width="10.51" height="10.59" fill="#fb413c" stroke="none" stroke-width="1"/>
<rect x="77.74" y="380.90" width="10.51" height="10.59" fill="#4251f5" stroke="none" stroke-width="1"/>
<rect x="88.10" y="380.90" width="10.51" height="10.59" fill="#2f40f4" stroke="none" stroke-width="1"/>
<rect x="98.46" y="380.90" width="10.51" height="10.59" fill="#d9dcfd" stroke="none" stroke-width="1"/>
<rect x="108.82" y="380.90" width="10.51" height="10.59" fill="#7b85f8" stroke="none" stroke-width="1"/>
<rect x="119.18" y="380.90" width="10.51" height="10.59" fill="#8d97f9" stroke="none" stroke-width="1"/>
<rect x="129.54" y="380.90" width="10.51" height="10.59" fill="#fdaeac" stroke="none" stroke-width="1"/>
<rect x="139.90" y="380.90" width="10.51" height="10.59" fill="#fc7a77" stroke="none" stroke-width="1"/>
<rect x="150.26" y="380.90" width="10.51" height="10.59" fill="#fdc1bf" stroke="none" stroke-width="1"/>
<rect x="160.62" y="380.90" width="10.51" height="10.59" fill="#8d97f9" stroke="none" stroke-width="1"/>
<rect x="170.98" y="380.90" width="10.51" height="10.59" fill="#b3b9fb" stroke="none" stroke-width="1"/>
<rect x="181.34" y="380.90" width="10.51" height="10.59" fill="#6874f7" stroke="none" stroke-width="1"/>
<text x="32.90" y="389.12" font-size="9.3" text-anchor="end">Psma1</text>
<rect x="36.30" y="391.34" width="10.51" height="10.59" fill="#d9dcfd" stroke="none" stroke-width="1"/>
<rect x="46.66" y="391.34" width="10.51" height="10.59" fill="#7b85f8" stroke="none" stroke-width="1"/>
<rect x="57.02" y="391.34" width="10.51" height="10.59" fill="#b3b9fb" stroke="none" stroke-width="1"/>
<rect x="67.38" y="391.34" width="10.51" height="10.59" fill="#fed4d3" stroke="none" stroke-width="1"/>
<rect x="77.74" y="391.34" width="10.51" height="10.59" fill="#a0a8fa" stroke="none" stroke-width="1"/>
<rect x="88.10" y="391.34" width="10.51" height="10.59" fill="#5563f6" stroke="none" stroke-width="1"/>
<rect x="98.46" y="391.34" width="10.51" height="10.59" fill="#e2e5fd" stroke="none" stroke-width="1"/>
<rect x="108.82" y="391.34" width="10.51" height="10.59" fill="#5563f6" stroke="none" stroke-width="1"/>
<rect x="119.18" y="391.34" width="10.51" height="10.59" fill="#5563f6" stroke="none" stroke-width="1"/>
<rect x="129.54" y="391.34" width="10.51" height="10.59" fill="#fdc1bf" stroke="none" stroke-width="1"/>
<rect x="139.90" y="391.34" width="10.51" height="10.59" fill="#fb4b46" stroke="none" stroke-width="1"/>
<rect x="150.26" y="391.34" width="10.51" height="10.59" fill="#fc6763" stroke="none" stroke-width="1"/>
<rect x="160.62" y="391.34" width="10.51" height="10.59" fill="#fdbcbb" stroke="none" stroke-width="1"/>
<rect x="170.98" y="391.34" width="10.51" height="10.59" fill="#b3b9fb" stroke="none" stroke-width="1"/>
<rect x="181.34" y="391.34" width="10.51" height="10.59" fill="#6874f7" stroke="none" stroke-width="1"/>
<text x="32.90" y="399.56" font-size="9.3" text-anchor="end">Psma5</text>
<rect x="36.30" y="401.78" width="10.51" height="10.59" fill="#a0a8fa" stroke="none" stroke-width="1"/>
<rect x="46.66" y="401.78" width="10.51" height="10.59" fill="#b3b9fb" stroke="none" stroke-width="1"/>
<rect x="57.02" y="401.78" width="10.51" height="10.59" fill="#8d97f9" stroke="none" stroke-width="1"/>
<rect x="67.38" y="401.78" width="10.51" height="10.59" fill="#d9dcfd" stroke="none" stroke-width="1"/>
<rect x="77.74" y="401.78" width="10.51" height="10.59" fill="#fee2e1" stroke="none" stroke-width="1"/>
<rect x="88.10" y="401.78" width="10.51" height="10.59" fill="#4251f5" stroke="none" stroke-width="1"/>
<rect x="98.46" y="401.78" width="10.51" height="10.59" fill="#4251f5" stroke="none" stroke-width="1"/>
<rect x="108.82" y="401.78" width="10.51" height="10.59" fill="#ffffff" stroke="none" stroke-width="1"/>
<rect x="119.18" y="401.78" width="10.51" height="10.59" fill="#7b85f8" stroke="none" stroke-width="1"/>
<rect x="129.54" y="401.78" width="10.51" height="10.59" fill="#fecac9" stroke="none" stroke-width="1"/>
<rect x="139.90" y="401.78" width="10.51" height="10.59" fill="#fb2e29" stroke="none" stroke-width="1"/>
<rect x="150.26" y="401.78" width="10.51" height="10.59" fill="#fc6763" stroke="none" stroke-width="1"/>
<rect x="160.62" y="401.78" width="10.51" height="10.59" fill="#fecac9" stroke="none" stroke-width="1"/>
<rect x="170.98" y="401.78" width="10.51" height="10.59" fill="#c6cbfc" stroke="none" stroke-width="1"/>
<rect x="181.34" y="401.78" width="10.51" height="10.59" fill="#6874f7" stroke="none" stroke-width="1"/>
<text x="32.90" y="410.00" font-size="9.3" text-anchor="end">Psmd3</text>
<rect x="36.30" y="412.22" width="10.51" height="10.59" fill="#ffffff" stroke="none" stroke-width="1"/>
<rect x="46.66" y="412.22" width="10.51" height="10.59" fill="#7b85f8" stroke="none" stroke-width="1"/>
<rect x="57.02" y="412.22" width="10.51" height="10.59" fill="#b3b9fb" stroke="none" stroke-width="1"/>
<rect x="67.38" y="412.22" width="10.51" height="10.59" fill="#8d97f9" stroke="none" stroke-width="1"/>
<rect x="77.74" y="412.22" width="10.51" height="10.59" fill="#c6cbfc" stroke="none" stroke-width="1"/>
<rect x="88.10" y="412.22" width="10.51" height="10.59" fill="#8d97f9" stroke="none" stroke-width="1"/>
<rect x="98.46" y="412.22" width="10.51" height="10.59" fill="#ecedfe" stroke="none" stroke-width="1"/>
<rect x="108.82" y="412.22" width="10.51" height="10.59" fill="#b3b9fb" stroke="none" stroke-width="1"/>
<rect x="119.18" y="412.22" width="10.51" height="10.59" fill="#d9dcfd" stroke="none" stroke-width="1"/>
<rect x="129.54" y="412.22" width="10.51" height="10.59" fill="#fc6763" stroke="none" stroke-width="1"/>
<rect x="139.90" y="412.22" width="10.51" height="10.59" fill="#fc5e59" stroke="none" stroke-width="1"/>
<rect x="150.26" y="412.22" width="10.51" height="10.59" fill="#fc706d" stroke="none" stroke-width="1"/>
<rect x="160.62" y="412.22" width="10.51" height="10.59" fill="#a0a8fa" stroke="none" stroke-width="1"/>
<rect x="170.98" y="412.22" width="10.51" height="10.59" fill="#5563f6" stroke="none" stroke-width="1"/>
<rect x="181.34" y="412.22" width="10.51" height="10.59" fill="#5563f6" stroke="none" stroke-width="1"/>
<text x="32.90" y="420.44" font-size="9.3" text-anchor="end">Psme1</text>
<rect x="36.30" y="422.66" width="10.51" height="10.59" fill="#d9dcfd" stroke="none" stroke-width="1"/>
<rect x="46.66" y="422.66" width="10.51" height="10.59" fill="#cfd3fc" stroke="none" stroke-width="1"/>
<rect x="57.02" y="422.66" width="10.51" height="10.59" fill="#fef0f0" stroke="none" stroke-width="1"/>
<rect x="67.38" y="422.66" width="10.51" height="10.59" fill="#5563f6" stroke="none" stroke-width="1"/>
<rect x="77.74" y="422.66" width="10.51" height="10.59" fill="#6874f7" stroke="none" stroke-width="1"/>
<rect x="88.10" y="422.66" width="10.51" height="10.59" fill="#ecedfe" stroke="none" stroke-width="1"/>
<rect x="98.46" y="422.66" width="10.51" height="10.59" fill="#fef5f5" stroke="none" stroke-width="1"/>
<rect x="108.82" y="422.66" width="10.51" height="10.59" fill="#8d97f9" stroke="none" stroke-width="1"/>
<rect x="119.18" y="422.66" width="10.51" height="10.59" fill="#d9dcfd" stroke="none" stroke-width="1"/>
<rect x="129.54" y="422.66" width="10.51" height="10.59" fill="#fecac9" stroke="none" stroke-width="1"/>
<rect x="139.90" y="422.66" width="10.51" height="10.59" fill="#fc706d" stroke="none" stroke-width="1"/>
<rect x="150.26" y="422.66" width="10.51" height="10.59" fill="#fb251f" stroke="none" stroke-width="1"/>
<rect x="160.62" y="422.66" width="10.51" height="10.59" fill="#6874f7" stroke="none" stroke-width="1"/>
<rect x="170.98" y="422.66" width="10.51" height="10.59" fill="#0a1ef3" stroke="none" stroke-width="1"/>
<rect x="181.34" y="422.66" width="10.51" height="10.59" fill="#feeceb" stroke="none" stroke-width="1"/>
<text x="32.90" y="430.88" font-size="9.3" text-anchor="end">Cat</text>
<rect x="36.30" y="433.10" width="10.51" height="10.59" fill="#cfd3fc" stroke="none" stroke-width="1"/>
<rect x="46.66" y="433.10" width="10.51" height="10.59" fill="#ffffff" stroke="none" stroke-width="1"/>
<rect x="57.02" y="433.10" width="10.51" height="10.59" fill="#a0a8fa" stroke="none" stroke-width="1"/>
<rect x="67.38" y="433.10" width="10.51" height="10.59" fill="#0a1ef3" stroke="none" stroke-width="1"/>
<rect x="77.74" y="433.10" width="10.51" height="10.59" fill="#ecedfe" stroke="none" stroke-width="1"/>
<rect x="88.10" y="433.10" width="10.51" height="10.59" fill="#8d97f9" stroke="none" stroke-width="1"/>
<rect x="98.46" y="433.10" width="10.51" height="10.59" fill="#8d97f9" stroke="none" stroke-width="1"/>
<rect x="108.82" y="433.10" width="10.51" height="10.59" fill="#d9dcfd" stroke="none" stroke-width="1"/>
<rect x="119.18" y="433.10" width="10.51" height="10.59" fill="#c6cbfc" stroke="none" stroke-width="1"/>
<rect x="129.54" y="433.10" width="10.51" height="10.59" fill="#fda5a2" stroke="none" stroke-width="1"/>
<rect x="139.90" y="433.10" width="10.51" height="10.59" fill="#fc6763" stroke="none" stroke-width="1"/>
<rect x="150.26" y="433.10" width="10.51" height="10.59" fill="#fb3833" stroke="none" stroke-width="1"/>
<rect x="160.62" y="433.10" width="10.51" height="10.59" fill="#6874f7" stroke="none" stroke-width="1"/>
<rect x="170.98" y="433.10" width="10.51" height="10.59" fill="#d9dcfd" stroke="none" stroke-width="1"/>
<rect x="181.34" y="433.10" width="10.51" height="10.59" fill="#a0a8fa" stroke="none" stroke-width="1"/>
<text x="32.90" y="441.32" font-size="9.3" text-anchor="end">Sod1</text>
<rect x="36.30" y="443.54" width="10.51" height="10.59" fill="#feeceb" stroke="none" stroke-width="1"/>
<rect x="46.66" y="443.54" width="10.51" height="10.59" fill="#cfd3fc" stroke="none" stroke-width="1"/>
<rect x="57.02" y="443.54" width="10.51" height="10.59" fill="#8d97f9" stroke="none" stroke-width="1"/>
<rect x="67.38" y="443.54" width="10.51" height="10.59" fill="#a0a8fa" stroke="none" stroke-width="1"/>
<rect x="77.74" y="443.54" width="10.51" height="10.59" fill="#a0a8fa" stroke="none" stroke-width="1"/>
<rect x="88.10" y="443.54" width="10.51" height="10.59" fill="#7b85f8" stroke="none" stroke-width="1"/>
<rect x="98.46" y="443.54" width="10.51" height="10.59" fill="#ecedfe" stroke="none" stroke-width="1"/>
<rect x="108.82" y="443.54" width="10.51" height="10.59" fill="#b3b9fb" stroke="none" stroke-width="1"/>
<rect x="119.18" y="443.54" width="10.51" height="10.59" fill="#c6cbfc" stroke="none" stroke-width="1"/>
<rect x="129.54" y="443.54" width="10.51" height="10.59" fill="#fda09d" stroke="none" stroke-width="1"/>
<rect x="139.90" y="443.54" width="10.51" height="10.59" fill="#fc7a77" stroke="none" stroke-width="1"/>
<rect x="150.26" y="443.54" width="10.51" height="10.59" fill="#fc7a77" stroke="none" stroke-width="1"/>
<rect x="160.62" y="443.54" width="10.51" height="10.59" fill="#c6cbfc" stroke="none" stroke-width="1"/>
<rect x="170.98" y="443.54" width="10.51" height="10.59" fill="#7b85f8" stroke="none" stroke-width="1"/>
<rect x="181.34" y="443.54" width="10.51" height="10.59" fill="#5563f6" stroke="none" stroke-width="1"/>
<text x="32.90" y="451.76" font-size="9.3" text-anchor="end">Sod2</text>
<rect x="36.30" y="453.98" width="10.51" height="10.59" fill="#ecedfe" stroke="none" stroke-width="1"/>
<rect x="46.66" y="453.98" width="10.51" height="10.59" fill="#b3b9fb" stroke="none" stroke-width="1"/>
<rect x="57.02" y="453.98" width="10.51" height="10.59" fill="#7b85f8" stroke="none" stroke-width="1"/>
<rect x="67.38" y="453.98" width="10.51" height="10.59" fill="#d9dcfd" stroke="none" stroke-width="1"/>
<rect x="77.74" y="453.98" width="10.51" height="10.59" fill="#e2e5fd" stroke="none" stroke-width="1"/>
<rect x="88.10" y="453.98" width="10.51" height="10.59" fill="#5563f6" stroke="none" stroke-width="1"/>
<rect x="98.46" y="453.98" width="10.51" height="10.59" fill="#c6cbfc" stroke="none" stroke-width="1"/>
<rect x="108.82" y="453.98" width="10.51" height="10.59" fill="#8d97f9" stroke="none" stroke-width="1"/>
<rect x="119.18" y="453.98" width="10.51" height="10.59" fill="#b3b9fb" stroke="none" stroke-width="1"/>
<rect x="129.54" y="453.98" width="10.51" height="10.59" fill="#fb4b46" stroke="none" stroke-width="1"/>
<rect x="139.90" y="453.98" width="10.51" height="10.59" fill="#fc706d" stroke="none" stroke-width="1"/>
<rect x="150.26" y="453.98" width="10.51" height="10.59" fill="#fc6763" stroke="none" stroke-width="1"/>
<rect x="160.62" y="453.98" width="10.51" height="10.59" fill="#ffffff" stroke="none" stroke-width="1"/>
<rect x="170.98" y="453.98" width="10.51" height="10.59" fill="#8d97f9" stroke="none" stroke-width="1"/>
<rect x="181.34" y="453.98" width="10.51" height="10.59" fill="#4251f5" stroke="none" stroke-width="1"/>
<text x="32.90" y="462.20" font-size="9.3" text-anchor="end">Prdx1</text>
<rect x="36.30" y="464.42" width="10.51" height="10.59" fill="#2f40f4" stroke="none" stroke-width="1"/>
<rect x="46.66" y="464.42" width="10.51" height="10.59" fill="#fee2e1" stroke="none" stroke-width="1"/>
<rect x="57.02" y="464.42" width="10.51" height="10.59" fill="#6874f7" stroke="none" stroke-width="1"/>
<rect x="67.38" y="464.42" width="10.51" height="10.59" fill="#fefafa" stroke="none" stroke-width="1"/>
<rect x="77.74" y="464.42" width="10.51" height="10.59" fill="#e2e5fd" stroke="none" stroke-width="1"/>
<rect x="88.10" y="464.42" width="10.51" height="10.59" fill="#b3b9fb" stroke="none" stroke-width="1"/>
<rect x="98.46" y="464.42" width="10.51" height="10.59" fill="#5563f6" stroke="none" stroke-width="1"/>
<rect x="108.82" y="464.42" width="10.51" height="10.59" fill="#4251f5" stroke="none" stroke-width="1"/>
<rect x="119.18" y="464.42" width="10.51" height="10.59" fill="#7b85f8" stroke="none" stroke-width="1"/>
<rect x="129.54" y="464.42" width="10.51" height="10.59" fill="#8d97f9" stroke="none" stroke-width="1"/>
<rect x="139.90" y="464.42" width="10.51" height="10.59" fill="#fc5e59" stroke="none" stroke-width="1"/>
<rect x="150.26" y="464.42" width="10.51" height="10.59" fill="#fc6763" stroke="none" stroke-width="1"/>
<rect x="160.62" y="464.42" width="10.51" height="10.59" fill="#c6cbfc" stroke="none" stroke-width="1"/>
<rect x="170.98" y="464.42" width="10.51" height="10.59" fill="#fc5450" stroke="none" stroke-width="1"/>
<rect x="181.34" y="464.42" width="10.51" height="10.59" fill="#fdb3b1" stroke="none" stroke-width="1"/>
<text x="32.90" y="472.64" font-size="9.3" text-anchor="end">Hmox1</text>
<rect x="36.30" y="474.86" width="10.51" height="10.59" fill="#a0a8fa" stroke="none" stroke-width="1"/>
<rect x="46.66" y="474.86" width="10.51" height="10.59" fill="#cfd3fc" stroke="none" stroke-width="1"/>
<rect x="57.02" y="474.86" width="10.51" height="10.59" fill="#8d97f9" stroke="none" stroke-width="1"/>
<rect x="67.38" y="474.86" width="10.51" height="10.59" fill="#2f40f4" stroke="none" stroke-width="1"/>
<rect x="77.74" y="474.86" width="10.51" height="10.59" fill="#2637f4" stroke="none" stroke-width="1"/>
<rect x="88.10" y="474.86" width="10.51" height="10.59" fill="#a0a8fa" stroke="none" stroke-width="1"/>
<rect x="98.46" y="474.86" width="10.51" height="10.59" fill="#8d97f9" stroke="none" stroke-width="1"/>
<rect x="108.82" y="474.86" width="10.51" height="10.59" fill="#8d97f9" stroke="none" stroke-width="1"/>
<rect x="119.18" y="474.86" width="10.51" height="10.59" fill="#8d97f9" stroke="none" stroke-width="1"/>
<rect x="129.54" y="474.86" width="10.51" height="10.59" fill="#fdb3b1" stroke="none" stroke-width="1"/>
<rect x="139.90" y="474.86" width="10.51" height="10.59" fill="#fc706d" stroke="none" stroke-width="1"/>
<rect x="150.26" y="474.86" width="10.51" height="10.59" fill="#fb1b15" stroke="none" stroke-width="1"/>
<rect x="160.62" y="474.86" width="10.51" height="10.59" fill="#fef0f0" stroke="none" stroke-width="1"/>
<rect x="170.98" y="474.86" width="10.51" height="10.59" fill="#fef0f0" stroke="none" stroke-width="1"/>
<rect x="181.34" y="474.86" width="10.51" height="10.59" fill="#e2e5fd" stroke="none" stroke-width="1"/>
<text x="32.90" y="483.08" font-size="9.3" text-anchor="end">Nrf1</text>
<rect x="36.30" y="380.90" width="31.08" height="104.40" fill="none" stroke="#000" stroke-width="0.9"/>
<text x="51.84" y="379.00" font-size="9.3" text-anchor="middle">CM1</text>
<rect x="67.38" y="380.90" width="31.08" height="104.40" fill="none" stroke="#000" stroke-width="0.9"/>
<text x="82.92" y="379.00" font-size="9.3" text-anchor="middle">CM2</text>
<rect x="98.46" y="380.90" width="31.08" height="104.40" fill="none" stroke="#000" stroke-width="0.9"/>
<text x="114.00" y="379.00" font-size="9.3" text-anchor="middle">CM3</text>
<rect x="129.54" y="380.90" width="31.08" height="104.40" fill="none" stroke="#000" stroke-width="0.9"/>
<text x="145.08" y="379.00" font-size="9.3" text-anchor="middle">CM4</text>
<rect x="160.62" y="380.90" width="31.08" height="104.40" fill="none" stroke="#000" stroke-width="0.9"/>
<text x="176.16" y="379.00" font-size="9.3" text-anchor="middle">CM5</text>
<rect x="36.90" y="487.40" width="9.16" height="2.00" fill="#5fd8f5" stroke="none" stroke-width="1"/>
<rect x="47.26" y="487.40" width="9.16" height="2.00" fill="#4fd21a" stroke="none" stroke-width="1"/>
<rect x="57.62" y="487.40" width="9.16" height="2.00" fill="#fba35c" stroke="none" stroke-width="1"/>
<rect x="67.98" y="487.40" width="9.16" height="2.00" fill="#5fd8f5" stroke="none" stroke-width="1"/>
<rect x="78.34" y="487.40" width="9.16" height="2.00" fill="#4fd21a" stroke="none" stroke-width="1"/>
<rect x="88.70" y="487.40" width="9.16" height="2.00" fill="#fba35c" stroke="none" stroke-width="1"/>
<rect x="99.06" y="487.40" width="9.16" height="2.00" fill="#5fd8f5" stroke="none" stroke-width="1"/>
<rect x="109.42" y="487.40" width="9.16" height="2.00" fill="#4fd21a" stroke="none" stroke-width="1"/>
<rect x="119.78" y="487.40" width="9.16" height="2.00" fill="#fba35c" stroke="none" stroke-width="1"/>
<rect x="130.14" y="487.40" width="9.16" height="2.00" fill="#5fd8f5" stroke="none" stroke-width="1"/>
<rect x="140.50" y="487.40" width="9.16" height="2.00" fill="#4fd21a" stroke="none" stroke-width="1"/>
<rect x="150.86" y="487.40" width="9.16" height="2.00" fill="#fba35c" stroke="none" stroke-width="1"/>
<rect x="161.22" y="487.40" width="9.16" height="2.00" fill="#5fd8f5" stroke="none" stroke-width="1"/>
<rect x="171.58" y="487.40" width="9.16" height="2.00" fill="#4fd21a" stroke="none" stroke-width="1"/>
<rect x="181.94" y="487.40" width="9.16" height="2.00" fill="#fba35c" stroke="none" stroke-width="1"/>
<rect x="204.90" y="387.50" width="5.40" height="56.00" fill="url(#bwr)" stroke="none" stroke-width="1"/>
<text x="212.30" y="400.00" font-size="7.4">2</text>
<text x="212.30" y="413.70" font-size="7.4">1</text>
<text x="212.30" y="427.40" font-size="7.4">0</text>
<text x="212.30" y="441.10" font-size="7.4">-1</text>
<text x="201.90" y="416.50" font-size="8.7" text-anchor="middle" transform="rotate(-90 201.90 416.50)" textLength="75.5" lengthAdjust="spacingAndGlyphs">Expression (Z-score)</text>
<rect x="194.80" y="461.00" width="9.80" height="2.60" fill="#5fd8f5" stroke="none" stroke-width="1"/>
<text x="206.30" y="465.20" font-size="8.2">Sham</text>
<rect x="194.80" y="469.70" width="9.80" height="2.60" fill="#4fd21a" stroke="none" stroke-width="1"/>
<text x="206.30" y="473.90" font-size="8.2">MI-day1</text>
<rect x="194.80" y="478.40" width="9.80" height="2.60" fill="#fba35c" stroke="none" stroke-width="1"/>
<text x="206.30" y="482.60" font-size="8.2">MI-day3</text>
</g>
<g id="panel-h">
<text x="-0.40" y="511.40" font-size="11.5" font-weight="bold">h</text>
<text x="26.80" y="524.60" font-size="7.3">kDa</text>
<text x="63.80" y="522.00" font-size="9.3" text-anchor="middle">LacZ</text>
<line x1="50.10" y1="523.10" x2="77.80" y2="523.10" stroke="#000" stroke-width="1.15"/>
<text x="93.60" y="522.00" font-size="9.3" text-anchor="middle">Nrf1</text>
<line x1="80.60" y1="523.10" x2="107.90" y2="523.10" stroke="#000" stroke-width="1.15"/>
<text x="123.30" y="522.00" font-size="9.3" text-anchor="middle">Nrf2</text>
<line x1="110.70" y1="523.10" x2="138.00" y2="523.10" stroke="#000" stroke-width="1.15"/>
<text x="154.50" y="512.00" font-size="9.3" text-anchor="middle">Nrf1</text>
<text x="154.50" y="522.00" font-size="9.3" text-anchor="middle">-ΔC</text>
<line x1="140.90" y1="523.10" x2="168.50" y2="523.10" stroke="#000" stroke-width="1.15"/>
<text x="185.40" y="512.00" font-size="9.3" text-anchor="middle">Nrf1</text>
<text x="185.40" y="522.00" font-size="9.3" text-anchor="middle">-ΔN</text>
<line x1="171.30" y1="523.10" x2="202.50" y2="523.10" stroke="#000" stroke-width="1.15"/>
<text x="206.00" y="529.60" font-size="9.3">Blot:</text>
<text x="203.80" y="546.50" font-size="9.3" textLength="28.2" lengthAdjust="spacingAndGlyphs">Hmox1</text>
<text x="204.60" y="575.80" font-size="9.3">Gapdh</text>
<text x="37.90" y="536.40" font-size="7.5" text-anchor="end">25</text>
<line x1="39.80" y1="533.80" x2="46.60" y2="533.80" stroke="#000" stroke-width="1.0"/>
<text x="37.90" y="547.60" font-size="7.5" text-anchor="end">20</text>
<line x1="39.80" y1="545.00" x2="46.60" y2="545.00" stroke="#000" stroke-width="1.0"/>
<text x="37.90" y="569.70" font-size="7.5" text-anchor="end">37</text>
<line x1="39.80" y1="567.10" x2="46.60" y2="567.10" stroke="#000" stroke-width="1.0"/>
<linearGradient id="blotg" x1="0" y1="0" x2="1" y2="0"><stop offset="0" stop-color="#e9e9e9"/><stop offset="0.5" stop-color="#f0f0f0"/><stop offset="1" stop-color="#ebebeb"/></linearGradient>
<rect x="49.80" y="526.10" width="152.20" height="31.50" fill="url(#blotg)" stroke="none" stroke-width="1"/>
<rect x="49.80" y="562.20" width="152.20" height="20.00" fill="#e5e5e5" stroke="none" stroke-width="1"/>
<rect x="51.37" y="540.70" width="7.00" height="1.40" rx="0.70" fill="#333" opacity="0.13" filter="url(#b1)" transform="rotate(0 54.87 541.40)"/>
<rect x="61.52" y="541.20" width="7.00" height="1.40" rx="0.70" fill="#333" opacity="0.13" filter="url(#b1)" transform="rotate(0 65.02 541.90)"/>
<rect x="71.67" y="541.70" width="7.00" height="1.40" rx="0.70" fill="#333" opacity="0.13" filter="url(#b1)" transform="rotate(0 75.17 542.40)"/>
<rect x="80.91" y="542.00" width="8.80" height="3.00" rx="1.50" fill="#000" opacity="0.95" filter="url(#b1)" transform="rotate(0 85.31 543.50)"/>
<rect x="91.06" y="542.00" width="8.80" height="3.00" rx="1.50" fill="#000" opacity="0.97" filter="url(#b1)" transform="rotate(-2 95.46 543.50)"/>
<rect x="101.21" y="542.00" width="8.80" height="3.00" rx="1.50" fill="#000" opacity="0.9" filter="url(#b1)" transform="rotate(3 105.61 543.50)"/>
<rect x="112.05" y="543.05" width="7.40" height="1.90" rx="0.95" fill="#111" opacity="0.62" filter="url(#b1)" transform="rotate(0 115.75 544.00)"/>
<rect x="122.70" y="542.70" width="6.40" height="1.90" rx="0.95" fill="#111" opacity="0.42" filter="url(#b1)" transform="rotate(0 125.90 543.65)"/>
<rect x="132.65" y="542.35" width="6.80" height="1.90" rx="0.95" fill="#111" opacity="0.5" filter="url(#b1)" transform="rotate(0 136.05 543.30)"/>
<rect x="142.89" y="542.85" width="6.60" height="1.50" rx="0.75" fill="#333" opacity="0.12" filter="url(#b1)" transform="rotate(0 146.19 543.60)"/>
<rect x="153.04" y="542.85" width="6.60" height="1.50" rx="0.75" fill="#333" opacity="0.12" filter="url(#b1)" transform="rotate(0 156.34 543.60)"/>
<rect x="163.19" y="542.85" width="6.60" height="1.50" rx="0.75" fill="#333" opacity="0.12" filter="url(#b1)" transform="rotate(0 166.49 543.60)"/>
<rect x="171.20" y="540.40" width="29.80" height="6.20" fill="#000" stroke="none" stroke-width="1" rx="3" filter="url(#b1)"/>
<ellipse cx="176.63" cy="543.5" rx="5.4" ry="3.5" fill="#000" filter="url(#b1)"/>
<ellipse cx="186.78" cy="543.5" rx="5.4" ry="3.5" fill="#000" filter="url(#b1)"/>
<ellipse cx="196.93" cy="543.5" rx="5.4" ry="3.5" fill="#000" filter="url(#b1)"/>
<rect x="51.12" y="550.55" width="7.50" height="1.30" rx="0.65" fill="#555" opacity="0.07" filter="url(#b1)" transform="rotate(0 54.87 551.20)"/>
<rect x="61.27" y="550.55" width="7.50" height="1.30" rx="0.65" fill="#555" opacity="0.07" filter="url(#b1)" transform="rotate(0 65.02 551.20)"/>
<rect x="71.42" y="550.55" width="7.50" height="1.30" rx="0.65" fill="#555" opacity="0.07" filter="url(#b1)" transform="rotate(0 75.17 551.20)"/>
<rect x="81.56" y="549.95" width="7.50" height="1.30" rx="0.65" fill="#555" opacity="0.07" filter="url(#b1)" transform="rotate(0 85.31 550.60)"/>
<rect x="91.71" y="549.95" width="7.50" height="1.30" rx="0.65" fill="#555" opacity="0.07" filter="url(#b1)" transform="rotate(0 95.46 550.60)"/>
<rect x="101.86" y="549.95" width="7.50" height="1.30" rx="0.65" fill="#555" opacity="0.07" filter="url(#b1)" transform="rotate(0 105.61 550.60)"/>
<rect x="112.00" y="549.95" width="7.50" height="1.30" rx="0.65" fill="#555" opacity="0.07" filter="url(#b1)" transform="rotate(0 115.75 550.60)"/>
<rect x="122.15" y="549.95" width="7.50" height="1.30" rx="0.65" fill="#555" opacity="0.07" filter="url(#b1)" transform="rotate(0 125.90 550.60)"/>
<rect x="132.30" y="549.95" width="7.50" height="1.30" rx="0.65" fill="#555" opacity="0.07" filter="url(#b1)" transform="rotate(0 136.05 550.60)"/>
<rect x="142.44" y="549.95" width="7.50" height="1.30" rx="0.65" fill="#555" opacity="0.07" filter="url(#b1)" transform="rotate(0 146.19 550.60)"/>
<rect x="152.59" y="549.95" width="7.50" height="1.30" rx="0.65" fill="#555" opacity="0.07" filter="url(#b1)" transform="rotate(0 156.34 550.60)"/>
<rect x="162.74" y="549.95" width="7.50" height="1.30" rx="0.65" fill="#555" opacity="0.07" filter="url(#b1)" transform="rotate(0 166.49 550.60)"/>
<rect x="172.88" y="549.95" width="7.50" height="1.30" rx="0.65" fill="#555" opacity="0.07" filter="url(#b1)" transform="rotate(0 176.63 550.60)"/>
<rect x="183.03" y="549.95" width="7.50" height="1.30" rx="0.65" fill="#555" opacity="0.07" filter="url(#b1)" transform="rotate(0 186.78 550.60)"/>
<rect x="193.18" y="549.95" width="7.50" height="1.30" rx="0.65" fill="#555" opacity="0.07" filter="url(#b1)" transform="rotate(0 196.93 550.60)"/>
<rect x="50.47" y="568.75" width="8.80" height="2.70" rx="1.35" fill="#080808" opacity="0.66" filter="url(#b1)" transform="rotate(2 54.87 570.10)"/>
<rect x="60.62" y="569.45" width="8.80" height="2.70" rx="1.35" fill="#080808" opacity="0.74" filter="url(#b1)" transform="rotate(3 65.02 570.80)"/>
<rect x="70.77" y="570.25" width="8.80" height="2.70" rx="1.35" fill="#080808" opacity="0.78" filter="url(#b1)" transform="rotate(2 75.17 571.60)"/>
<rect x="80.91" y="570.65" width="8.80" height="2.70" rx="1.35" fill="#080808" opacity="0.74" filter="url(#b1)" transform="rotate(0 85.31 572.00)"/>
<rect x="91.06" y="570.65" width="8.80" height="2.70" rx="1.35" fill="#080808" opacity="0.7200000000000001" filter="url(#b1)" transform="rotate(1 95.46 572.00)"/>
<rect x="101.21" y="571.15" width="8.80" height="2.70" rx="1.35" fill="#080808" opacity="0.76" filter="url(#b1)" transform="rotate(2 105.61 572.50)"/>
<rect x="111.35" y="572.05" width="8.80" height="2.70" rx="1.35" fill="#080808" opacity="0.7000000000000001" filter="url(#b1)" transform="rotate(1 115.75 573.40)"/>
<rect x="121.50" y="571.85" width="8.80" height="2.70" rx="1.35" fill="#080808" opacity="0.66" filter="url(#b1)" transform="rotate(-2 125.90 573.20)"/>
<rect x="131.65" y="570.65" width="8.80" height="2.70" rx="1.35" fill="#080808" opacity="0.89" filter="url(#b1)" transform="rotate(-3 136.05 572.00)"/>
<rect x="141.79" y="570.65" width="8.80" height="2.70" rx="1.35" fill="#080808" opacity="0.8400000000000001" filter="url(#b1)" transform="rotate(0 146.19 572.00)"/>
<rect x="151.94" y="570.45" width="8.80" height="2.70" rx="1.35" fill="#080808" opacity="0.78" filter="url(#b1)" transform="rotate(-1 156.34 571.80)"/>
<rect x="162.09" y="570.25" width="8.80" height="2.70" rx="1.35" fill="#080808" opacity="0.92" filter="url(#b1)" transform="rotate(1 166.49 571.60)"/>
<rect x="172.23" y="571.65" width="8.80" height="2.70" rx="1.35" fill="#080808" opacity="0.66" filter="url(#b1)" transform="rotate(2 176.63 573.00)"/>
<rect x="182.38" y="571.15" width="8.80" height="2.70" rx="1.35" fill="#080808" opacity="0.8" filter="url(#b1)" transform="rotate(-2 186.78 572.50)"/>
<rect x="192.53" y="571.85" width="8.80" height="2.70" rx="1.35" fill="#080808" opacity="0.9600000000000001" filter="url(#b1)" transform="rotate(1 196.93 573.20)"/>
</g>
<g id="panel-i">
<text x="248.20" y="413.40" font-size="11.5" font-weight="bold">i</text>
<text x="291.30" y="425.10" font-size="9.3" text-anchor="middle">LacZ</text>
<text x="373.20" y="425.10" font-size="9.3" text-anchor="middle">Nrf1</text>
<text x="455.10" y="414.30" font-size="9.3" text-anchor="middle">Nrf1+</text>
<text x="455.10" y="425.10" font-size="9.3" text-anchor="middle">Hmox1 shRNA</text>
<text x="291.30" y="498.30" font-size="9.3" text-anchor="middle">Nrf1+</text>
<text x="291.30" y="509.10" font-size="9.3" text-anchor="middle">Control shRNA</text>
<text x="373.20" y="509.10" font-size="9.3" text-anchor="middle">Nrf1+MG132</text>
<text x="455.10" y="498.30" font-size="9.3" text-anchor="middle">Nrf1+MG132+</text>
<text x="455.10" y="509.10" font-size="9.3" text-anchor="middle">Hmox1 shRNA</text>
<clipPath id="mc1"><rect x="252.70" y="428.00" width="77.2" height="57.2"/></clipPath>
<g clip-path="url(#mc1)">
<rect x="252.70" y="428.00" width="77.20" height="57.20" fill="#000" stroke="none" stroke-width="1"/>
<g filter="url(#gb)">
<ellipse cx="257.3" cy="432.0" rx="2.0" ry="1.5" fill="#13b614" transform="rotate(81 257.3 432.0)"/>
<ellipse cx="257.3" cy="432.0" rx="1.1" ry="0.8" fill="#1eff0b" transform="rotate(81 257.3 432.0)"/>
<ellipse cx="275.1" cy="436.6" rx="1.6" ry="1.1" fill="#02c701" transform="rotate(101 275.1 436.6)"/>
<ellipse cx="275.1" cy="436.6" rx="0.9" ry="0.6" fill="#0eff22" transform="rotate(101 275.1 436.6)"/>
<ellipse cx="258.9" cy="448.6" rx="2.1" ry="1.5" fill="#13cb00" transform="rotate(166 258.9 448.6)"/>
<ellipse cx="258.9" cy="448.6" rx="1.2" ry="0.8" fill="#45ff33" transform="rotate(166 258.9 448.6)"/>
<ellipse cx="278.9" cy="452.0" rx="2.3" ry="1.7" fill="#06a110" transform="rotate(84 278.9 452.0)"/>
<ellipse cx="278.9" cy="452.0" rx="1.3" ry="0.9" fill="#27ff2f" transform="rotate(84 278.9 452.0)"/>
<ellipse cx="291.3" cy="460.6" rx="1.5" ry="1.1" fill="#02a70e" transform="rotate(91 291.3 460.6)"/>
<ellipse cx="291.3" cy="460.6" rx="0.8" ry="0.6" fill="#2dff3e" transform="rotate(91 291.3 460.6)"/>
<ellipse cx="311.4" cy="449.2" rx="1.9" ry="1.4" fill="#02d616" transform="rotate(106 311.4 449.2)"/>
<ellipse cx="311.4" cy="449.2" rx="1.1" ry="0.8" fill="#2aff32" transform="rotate(106 311.4 449.2)"/>
<ellipse cx="314.5" cy="456.6" rx="2.4" ry="1.8" fill="#10c009" transform="rotate(33 314.5 456.6)"/>
<ellipse cx="314.5" cy="456.6" rx="1.3" ry="1.0" fill="#0dff12" transform="rotate(33 314.5 456.6)"/>
<ellipse cx="324.5" cy="453.2" rx="2.1" ry="1.5" fill="#03ad0c" transform="rotate(92 324.5 453.2)"/>
<ellipse cx="324.5" cy="453.2" rx="1.2" ry="0.8" fill="#17ff2f" transform="rotate(92 324.5 453.2)"/>
<ellipse cx="311.4" cy="465.2" rx="2.3" ry="1.7" fill="#009c15" transform="rotate(113 311.4 465.2)"/>
<ellipse cx="311.4" cy="465.2" rx="1.3" ry="0.9" fill="#0aff25" transform="rotate(113 311.4 465.2)"/>
<ellipse cx="319.1" cy="468.6" rx="1.6" ry="1.1" fill="#018b0f" transform="rotate(143 319.1 468.6)"/>
<ellipse cx="319.1" cy="468.6" rx="0.9" ry="0.6" fill="#3aff3c" transform="rotate(143 319.1 468.6)"/>
<ellipse cx="282.8" cy="480.1" rx="2.0" ry="1.5" fill="#129f14" transform="rotate(17 282.8 480.1)"/>
<ellipse cx="282.8" cy="480.1" rx="1.1" ry="0.8" fill="#23ff2c" transform="rotate(17 282.8 480.1)"/>
<ellipse cx="290.5" cy="475.5" rx="1.6" ry="1.1" fill="#09980a" transform="rotate(55 290.5 475.5)"/>
<ellipse cx="290.5" cy="475.5" rx="0.9" ry="0.6" fill="#0bff3e" transform="rotate(55 290.5 475.5)"/>
<ellipse cx="309.8" cy="478.3" rx="2.2" ry="1.6" fill="#03c004" transform="rotate(16 309.8 478.3)"/>
<ellipse cx="309.8" cy="478.3" rx="1.2" ry="0.9" fill="#29ff16" transform="rotate(16 309.8 478.3)"/>
<ellipse cx="319.1" cy="480.6" rx="2.2" ry="1.6" fill="#0e7919" transform="rotate(146 319.1 480.6)"/>
<ellipse cx="319.1" cy="480.6" rx="1.2" ry="0.9" fill="#48ff20" transform="rotate(146 319.1 480.6)"/>
<ellipse cx="322.2" cy="430.9" rx="2.1" ry="1.5" fill="#06b80e" transform="rotate(125 322.2 430.9)"/>
<ellipse cx="322.2" cy="430.9" rx="1.2" ry="0.8" fill="#4bff22" transform="rotate(125 322.2 430.9)"/>
<ellipse cx="326.8" cy="434.9" rx="1.7" ry="1.2" fill="#04d50d" transform="rotate(8 326.8 434.9)"/>
<ellipse cx="326.8" cy="434.9" rx="0.9" ry="0.7" fill="#3bff18" transform="rotate(8 326.8 434.9)"/>
<ellipse cx="262.0" cy="442.3" rx="1.1" ry="0.8" fill="#069d00" transform="rotate(177 262.0 442.3)"/>
<ellipse cx="262.0" cy="442.3" rx="0.6" ry="0.4" fill="#2cff30" transform="rotate(177 262.0 442.3)"/>
<ellipse cx="300.6" cy="470.9" rx="1.3" ry="0.9" fill="#00d606" transform="rotate(174 300.6 470.9)"/>
<ellipse cx="300.6" cy="470.9" rx="0.7" ry="0.5" fill="#21ff3c" transform="rotate(174 300.6 470.9)"/>
</g>
<circle cx="329.58" cy="462.44" r="0.85" fill="#060ecb" stroke="none" stroke-width="1"/>
<circle cx="286.79" cy="428.55" r="0.86" fill="#0e1dc2" stroke="none" stroke-width="1"/>
<circle cx="258.43" cy="439.94" r="0.86" fill="#052bd5" stroke="none" stroke-width="1"/>
<circle cx="281.40" cy="453.92" r="0.97" fill="#1429c6" stroke="none" stroke-width="1"/>
<circle cx="319.60" cy="438.46" r="0.71" fill="#0c2ccd" stroke="none" stroke-width="1"/>
<circle cx="308.70" cy="437.06" r="0.86" fill="#1611e9" stroke="none" stroke-width="1"/>
<circle cx="326.05" cy="478.46" r="0.85" fill="#1208c4" stroke="none" stroke-width="1"/>
<circle cx="261.12" cy="457.31" r="0.74" fill="#1c1ece" stroke="none" stroke-width="1"/>
<circle cx="285.19" cy="479.76" r="0.82" fill="#1510ec" stroke="none" stroke-width="1"/>
<circle cx="328.14" cy="435.23" r="0.81" fill="#192ce5" stroke="none" stroke-width="1"/>
<circle cx="258.42" cy="440.15" r="0.96" fill="#1c06c2" stroke="none" stroke-width="1"/>
<circle cx="273.48" cy="453.49" r="0.68" fill="#0a17d5" stroke="none" stroke-width="1"/>
<circle cx="293.69" cy="483.66" r="0.69" fill="#0921d3" stroke="none" stroke-width="1"/>
<circle cx="303.42" cy="467.54" r="0.85" fill="#092ac0" stroke="none" stroke-width="1"/>
<circle cx="324.00" cy="455.16" r="0.77" fill="#0e07bf" stroke="none" stroke-width="1"/>
<circle cx="298.89" cy="432.28" r="0.68" fill="#0e19c6" stroke="none" stroke-width="1"/>
<circle cx="329.85" cy="432.31" r="0.84" fill="#1c07ed" stroke="none" stroke-width="1"/>
<circle cx="309.61" cy="435.41" r="0.97" fill="#0f1bc3" stroke="none" stroke-width="1"/>
<circle cx="305.59" cy="479.53" r="0.94" fill="#1206f5" stroke="none" stroke-width="1"/>
<circle cx="291.29" cy="428.83" r="0.87" fill="#112abe" stroke="none" stroke-width="1"/>
<circle cx="299.70" cy="432.59" r="0.87" fill="#0d1fec" stroke="none" stroke-width="1"/>
<circle cx="278.19" cy="481.44" r="0.88" fill="#1321db" stroke="none" stroke-width="1"/>
<circle cx="317.42" cy="432.79" r="0.90" fill="#0518e4" stroke="none" stroke-width="1"/>
<circle cx="259.47" cy="429.28" r="0.97" fill="#0824ef" stroke="none" stroke-width="1"/>
<circle cx="300.14" cy="480.65" r="0.74" fill="#051cd1" stroke="none" stroke-width="1"/>
<circle cx="263.76" cy="462.99" r="0.83" fill="#1d1ae8" stroke="none" stroke-width="1"/>
<circle cx="324.52" cy="456.50" r="0.74" fill="#1115ca" stroke="none" stroke-width="1"/>
<circle cx="301.66" cy="473.97" r="0.90" fill="#0b12d6" stroke="none" stroke-width="1"/>
<circle cx="269.65" cy="480.67" r="0.72" fill="#0924d4" stroke="none" stroke-width="1"/>
<circle cx="317.32" cy="476.55" r="0.89" fill="#0d0fc5" stroke="none" stroke-width="1"/>
<circle cx="287.49" cy="443.74" r="0.73" fill="#121de6" stroke="none" stroke-width="1"/>
<circle cx="292.84" cy="466.45" r="0.89" fill="#1821d2" stroke="none" stroke-width="1"/>
<circle cx="258.47" cy="429.80" r="0.94" fill="#0616e2" stroke="none" stroke-width="1"/>
<circle cx="280.05" cy="465.14" r="0.84" fill="#190dd7" stroke="none" stroke-width="1"/>
<circle cx="287.81" cy="429.41" r="0.93" fill="#0c0ef0" stroke="none" stroke-width="1"/>
<circle cx="256.32" cy="463.99" r="0.80" fill="#1927e7" stroke="none" stroke-width="1"/>
<circle cx="302.10" cy="449.09" r="0.68" fill="#0b11f2" stroke="none" stroke-width="1"/>
<circle cx="289.38" cy="438.22" r="0.66" fill="#1427eb" stroke="none" stroke-width="1"/>
<circle cx="255.49" cy="440.95" r="0.91" fill="#1626de" stroke="none" stroke-width="1"/>
<circle cx="300.14" cy="471.26" r="0.79" fill="#1e13c3" stroke="none" stroke-width="1"/>
<circle cx="284.39" cy="479.06" r="0.78" fill="#1322ca" stroke="none" stroke-width="1"/>
<circle cx="300.99" cy="480.05" r="0.78" fill="#1725f0" stroke="none" stroke-width="1"/>
<circle cx="315.96" cy="447.63" r="0.76" fill="#0b0bec" stroke="none" stroke-width="1"/>
<circle cx="319.57" cy="473.66" r="0.96" fill="#0812cd" stroke="none" stroke-width="1"/>
<circle cx="322.18" cy="484.08" r="0.98" fill="#1619ce" stroke="none" stroke-width="1"/>
<circle cx="322.95" cy="476.95" r="0.77" fill="#0707da" stroke="none" stroke-width="1"/>
<circle cx="279.11" cy="452.11" r="0.75" fill="#0512f1" stroke="none" stroke-width="1"/>
<circle cx="319.67" cy="452.54" r="0.67" fill="#161ae9" stroke="none" stroke-width="1"/>
<circle cx="313.53" cy="436.04" r="0.70" fill="#1526f3" stroke="none" stroke-width="1"/>
<circle cx="305.03" cy="453.18" r="0.94" fill="#170aee" stroke="none" stroke-width="1"/>
<circle cx="269.79" cy="458.13" r="0.75" fill="#1c28e6" stroke="none" stroke-width="1"/>
<circle cx="265.39" cy="457.41" r="0.95" fill="#0d18e8" stroke="none" stroke-width="1"/>
<circle cx="282.13" cy="476.35" r="0.95" fill="#0b18f4" stroke="none" stroke-width="1"/>
<circle cx="263.60" cy="459.16" r="0.75" fill="#1411d8" stroke="none" stroke-width="1"/>
<circle cx="294.07" cy="456.78" r="0.85" fill="#0527c0" stroke="none" stroke-width="1"/>
<circle cx="292.54" cy="450.91" r="0.92" fill="#170cdd" stroke="none" stroke-width="1"/>
<circle cx="259.90" cy="437.54" r="0.96" fill="#131ff1" stroke="none" stroke-width="1"/>
<circle cx="323.99" cy="443.40" r="0.81" fill="#091ad9" stroke="none" stroke-width="1"/>
<circle cx="322.25" cy="481.52" r="0.96" fill="#1519c4" stroke="none" stroke-width="1"/>
<circle cx="267.48" cy="463.34" r="0.96" fill="#0906c0" stroke="none" stroke-width="1"/>
<circle cx="267.69" cy="441.00" r="0.88" fill="#0f1bcd" stroke="none" stroke-width="1"/>
<circle cx="300.55" cy="434.00" r="0.90" fill="#0825e5" stroke="none" stroke-width="1"/>
<circle cx="272.04" cy="439.31" r="0.83" fill="#1206d6" stroke="none" stroke-width="1"/>
<circle cx="301.57" cy="475.20" r="0.86" fill="#1612f5" stroke="none" stroke-width="1"/>
<circle cx="301.44" cy="464.52" r="0.83" fill="#162ce3" stroke="none" stroke-width="1"/>
<circle cx="318.84" cy="441.31" r="0.90" fill="#1e1bc9" stroke="none" stroke-width="1"/>
<circle cx="277.09" cy="446.02" r="0.96" fill="#0b11c4" stroke="none" stroke-width="1"/>
<circle cx="263.04" cy="441.69" r="0.89" fill="#0d1dc4" stroke="none" stroke-width="1"/>
<circle cx="286.27" cy="481.84" r="0.83" fill="#1b0dca" stroke="none" stroke-width="1"/>
<circle cx="283.79" cy="467.19" r="0.66" fill="#0b29e9" stroke="none" stroke-width="1"/>
<circle cx="280.31" cy="474.96" r="0.77" fill="#1b25e6" stroke="none" stroke-width="1"/>
<circle cx="311.23" cy="456.76" r="0.88" fill="#0b09dc" stroke="none" stroke-width="1"/>
<circle cx="260.90" cy="430.14" r="0.84" fill="#1529dc" stroke="none" stroke-width="1"/>
<circle cx="264.01" cy="438.56" r="0.72" fill="#0a17e9" stroke="none" stroke-width="1"/>
<circle cx="260.05" cy="431.54" r="0.97" fill="#1309ee" stroke="none" stroke-width="1"/>
<circle cx="260.17" cy="450.36" r="0.80" fill="#1020cb" stroke="none" stroke-width="1"/>
<circle cx="299.09" cy="428.76" r="0.89" fill="#0b10d8" stroke="none" stroke-width="1"/>
<circle cx="287.75" cy="470.29" r="0.79" fill="#0b2bc8" stroke="none" stroke-width="1"/>
<circle cx="260.02" cy="473.32" r="0.76" fill="#072dd7" stroke="none" stroke-width="1"/>
<circle cx="296.68" cy="438.92" r="0.85" fill="#0f15cf" stroke="none" stroke-width="1"/>
<circle cx="323.05" cy="470.58" r="0.91" fill="#110dd3" stroke="none" stroke-width="1"/>
<circle cx="320.62" cy="467.74" r="0.91" fill="#1d10d7" stroke="none" stroke-width="1"/>
<circle cx="268.67" cy="438.57" r="0.92" fill="#0e23c4" stroke="none" stroke-width="1"/>
<circle cx="253.52" cy="448.34" r="0.87" fill="#1808cc" stroke="none" stroke-width="1"/>
<circle cx="273.77" cy="482.99" r="0.75" fill="#0b1ee2" stroke="none" stroke-width="1"/>
<circle cx="266.75" cy="432.39" r="0.82" fill="#1412ea" stroke="none" stroke-width="1"/>
<circle cx="261.93" cy="450.62" r="0.84" fill="#082cc4" stroke="none" stroke-width="1"/>
<circle cx="309.73" cy="442.68" r="0.79" fill="#0611e7" stroke="none" stroke-width="1"/>
<circle cx="281.70" cy="433.63" r="0.74" fill="#0f28e0" stroke="none" stroke-width="1"/>
<circle cx="291.90" cy="483.32" r="0.84" fill="#082dda" stroke="none" stroke-width="1"/>
<circle cx="315.20" cy="432.36" r="0.85" fill="#1d07d6" stroke="none" stroke-width="1"/>
<circle cx="324.51" cy="437.15" r="0.81" fill="#0a24e0" stroke="none" stroke-width="1"/>
<circle cx="299.88" cy="431.35" r="0.97" fill="#1217df" stroke="none" stroke-width="1"/>
<circle cx="283.47" cy="445.87" r="0.83" fill="#1416e1" stroke="none" stroke-width="1"/>
<circle cx="324.46" cy="465.96" r="0.90" fill="#0505ef" stroke="none" stroke-width="1"/>
<circle cx="271.62" cy="430.45" r="0.71" fill="#1d1dc1" stroke="none" stroke-width="1"/>
<circle cx="321.99" cy="470.81" r="0.67" fill="#1c19c2" stroke="none" stroke-width="1"/>
<circle cx="314.27" cy="440.80" r="0.89" fill="#0d14c0" stroke="none" stroke-width="1"/>
<circle cx="293.10" cy="481.61" r="0.89" fill="#130ef2" stroke="none" stroke-width="1"/>
<circle cx="271.63" cy="468.41" r="0.67" fill="#1222c5" stroke="none" stroke-width="1"/>
<circle cx="268.42" cy="430.98" r="0.83" fill="#081cda" stroke="none" stroke-width="1"/>
<circle cx="263.49" cy="451.85" r="0.85" fill="#192ae9" stroke="none" stroke-width="1"/>
<circle cx="285.09" cy="472.50" r="0.83" fill="#0917ec" stroke="none" stroke-width="1"/>
<circle cx="262.65" cy="455.52" r="0.82" fill="#0e25e5" stroke="none" stroke-width="1"/>
<circle cx="318.05" cy="443.72" r="0.86" fill="#1c29ea" stroke="none" stroke-width="1"/>
<circle cx="298.38" cy="464.21" r="0.90" fill="#0b14de" stroke="none" stroke-width="1"/>
<circle cx="328.33" cy="480.38" r="0.94" fill="#062dc1" stroke="none" stroke-width="1"/>
<circle cx="253.43" cy="442.84" r="0.66" fill="#060bcc" stroke="none" stroke-width="1"/>
<circle cx="294.52" cy="432.15" r="0.68" fill="#1a0fe1" stroke="none" stroke-width="1"/>
<circle cx="270.82" cy="484.14" r="0.81" fill="#1012d3" stroke="none" stroke-width="1"/>
<circle cx="279.23" cy="470.60" r="0.93" fill="#070cda" stroke="none" stroke-width="1"/>
<circle cx="315.17" cy="463.68" r="0.91" fill="#0b21d9" stroke="none" stroke-width="1"/>
<circle cx="310.39" cy="450.32" r="0.71" fill="#092bd2" stroke="none" stroke-width="1"/>
<circle cx="275.16" cy="471.41" r="0.93" fill="#0a20e7" stroke="none" stroke-width="1"/>
<circle cx="281.21" cy="433.55" r="0.94" fill="#0727c3" stroke="none" stroke-width="1"/>
<circle cx="286.05" cy="460.49" r="0.92" fill="#1318f2" stroke="none" stroke-width="1"/>
<circle cx="312.57" cy="432.35" r="0.73" fill="#1a2bc3" stroke="none" stroke-width="1"/>
<circle cx="306.36" cy="456.30" r="0.91" fill="#0f17c7" stroke="none" stroke-width="1"/>
<circle cx="269.59" cy="465.60" r="0.76" fill="#0819eb" stroke="none" stroke-width="1"/>
<circle cx="286.74" cy="462.02" r="0.95" fill="#1a16da" stroke="none" stroke-width="1"/>
<circle cx="293.63" cy="484.76" r="0.81" fill="#0c1eec" stroke="none" stroke-width="1"/>
<circle cx="321.77" cy="442.20" r="0.77" fill="#1006d5" stroke="none" stroke-width="1"/>
<circle cx="304.96" cy="461.45" r="0.92" fill="#1c29d5" stroke="none" stroke-width="1"/>
<circle cx="314.23" cy="458.92" r="0.93" fill="#1710c9" stroke="none" stroke-width="1"/>
<circle cx="259.63" cy="453.99" r="0.94" fill="#1e06cc" stroke="none" stroke-width="1"/>
<circle cx="292.51" cy="459.13" r="0.84" fill="#0520c2" stroke="none" stroke-width="1"/>
<circle cx="297.63" cy="445.47" r="0.83" fill="#0f0acf" stroke="none" stroke-width="1"/>
<circle cx="309.60" cy="479.43" r="0.68" fill="#190ec4" stroke="none" stroke-width="1"/>
<circle cx="310.28" cy="465.12" r="0.74" fill="#0c24ee" stroke="none" stroke-width="1"/>
<circle cx="322.78" cy="447.34" r="0.81" fill="#101af1" stroke="none" stroke-width="1"/>
</g>
<clipPath id="mc2"><rect x="334.60" y="428.00" width="77.2" height="57.2"/></clipPath>
<g clip-path="url(#mc2)">
<rect x="334.60" y="428.00" width="77.20" height="57.20" fill="#000" stroke="none" stroke-width="1"/>
<g filter="url(#gb)">
<path d="M369.5 461.3Q373.5 464.2 373.0 469.9Q369.0 467.0 369.5 461.3Z" fill="#14bc12" stroke="#011a01" stroke-width="0.7"/>
<path d="M370.0 463.5Q372.0 464.9 371.7 467.7Q369.8 466.3 370.0 463.5Z" fill="#2fff17"/>
<path d="M377.0 457.6Q382.5 456.3 385.1 462.2Q379.5 463.6 377.0 457.6Z" fill="#058603" stroke="#011a01" stroke-width="0.7"/>
<path d="M378.6 458.8Q381.4 458.1 382.7 461.1Q379.9 461.8 378.6 458.8Z" fill="#30ff4f"/>
<path d="M402.4 427.6Q408.4 428.7 406.6 435.1Q400.7 434.0 402.4 427.6Z" fill="#03c318" stroke="#011a01" stroke-width="0.7"/>
<path d="M403.2 429.5Q406.1 430.0 405.2 433.2Q402.3 432.7 403.2 429.5Z" fill="#49ff3b"/>
<path d="M366.0 472.0Q371.2 475.9 365.7 480.4Q360.4 476.5 366.0 472.0Z" fill="#08a702" stroke="#011a01" stroke-width="0.7"/>
<path d="M365.6 474.1Q368.2 476.1 365.4 478.3Q362.8 476.3 365.6 474.1Z" fill="#4aff31"/>
<path d="M337.5 482.6Q342.8 480.8 345.7 486.3Q340.4 488.2 337.5 482.6Z" fill="#05a40e" stroke="#011a01" stroke-width="0.7"/>
<path d="M339.2 483.5Q341.9 482.6 343.3 485.4Q340.7 486.3 339.2 483.5Z" fill="#20ff0b"/>
<path d="M352.1 459.6Q359.5 460.8 365.3 467.5Q358.0 466.3 352.1 459.6Z" fill="#07a914" stroke="#011a01" stroke-width="0.7"/>
<path d="M354.8 461.6Q358.5 462.2 361.4 465.5Q357.7 464.9 354.8 461.6Z" fill="#22ff49"/>
<path d="M395.0 444.3Q401.1 448.8 400.1 457.6Q394.1 453.0 395.0 444.3Z" fill="#049415" stroke="#011a01" stroke-width="0.7"/>
<path d="M395.7 447.6Q398.8 449.9 398.3 454.2Q395.2 452.0 395.7 447.6Z" fill="#10ff47"/>
<path d="M332.9 461.3Q340.7 466.7 341.0 477.8Q333.2 472.4 332.9 461.3Z" fill="#10d013" stroke="#011a01" stroke-width="0.7"/>
<path d="M334.2 465.4Q338.1 468.1 338.2 473.6Q334.3 471.0 334.2 465.4Z" fill="#2aff19"/>
<path d="M360.8 463.4Q365.4 465.7 364.5 471.6Q359.8 469.3 360.8 463.4Z" fill="#07e90c" stroke="#011a01" stroke-width="0.7"/>
<path d="M361.3 465.4Q363.7 466.6 363.2 469.5Q360.9 468.4 361.3 465.4Z" fill="#1eff19"/>
<path d="M373.2 470.4Q379.0 472.8 375.0 478.3Q369.2 475.8 373.2 470.4Z" fill="#058b07" stroke="#011a01" stroke-width="0.7"/>
<path d="M373.3 472.4Q376.2 473.6 374.2 476.3Q371.3 475.1 373.3 472.4Z" fill="#49ff1a"/>
<path d="M369.0 438.8Q375.7 435.8 380.3 442.6Q373.7 445.6 369.0 438.8Z" fill="#02cf0e" stroke="#011a01" stroke-width="0.7"/>
<path d="M371.4 439.8Q374.7 438.3 377.0 441.6Q373.7 443.1 371.4 439.8Z" fill="#23ff44"/>
<path d="M375.1 434.6Q379.9 436.2 379.0 441.8Q374.2 440.2 375.1 434.6Z" fill="#0cc016" stroke="#011a01" stroke-width="0.7"/>
<path d="M375.8 436.4Q378.1 437.2 377.7 440.0Q375.3 439.2 375.8 436.4Z" fill="#18ff21"/>
<path d="M383.4 426.0Q387.2 430.2 384.1 436.0Q380.4 431.7 383.4 426.0Z" fill="#04cf0b" stroke="#011a01" stroke-width="0.7"/>
<path d="M383.2 428.5Q385.1 430.6 383.6 433.5Q381.7 431.4 383.2 428.5Z" fill="#34ff24"/>
<path d="M406.6 451.2Q413.3 452.8 410.6 459.9Q403.9 458.2 406.6 451.2Z" fill="#028811" stroke="#011a01" stroke-width="0.7"/>
<path d="M407.2 453.4Q410.6 454.2 409.2 457.7Q405.9 456.9 407.2 453.4Z" fill="#20ff37"/>
<path d="M352.2 468.2Q351.7 473.1 346.3 473.4Q346.7 468.5 352.2 468.2Z" fill="#0bec0d" stroke="#011a01" stroke-width="0.7"/>
<path d="M350.4 469.5Q350.2 472.0 347.4 472.1Q347.6 469.7 350.4 469.5Z" fill="#2aff1e"/>
<path d="M365.1 441.6Q361.6 446.3 356.9 442.0Q360.3 437.4 365.1 441.6Z" fill="#04d718" stroke="#011a01" stroke-width="0.7"/>
<path d="M362.7 441.7Q361.0 444.0 358.6 441.9Q360.3 439.6 362.7 441.7Z" fill="#0dff26"/>
<path d="M416.6 454.0Q414.7 460.8 406.8 459.6Q408.7 452.8 416.6 454.0Z" fill="#049e14" stroke="#011a01" stroke-width="0.7"/>
<path d="M413.6 455.4Q412.7 458.8 408.8 458.2Q409.7 454.8 413.6 455.4Z" fill="#2dff15"/>
<path d="M379.6 436.4Q386.8 437.6 388.4 445.9Q381.1 444.7 379.6 436.4Z" fill="#14ab01" stroke="#011a01" stroke-width="0.7"/>
<path d="M381.3 438.8Q384.9 439.4 385.6 443.5Q382.0 442.9 381.3 438.8Z" fill="#4fff4c"/>
<path d="M404.2 475.0Q411.4 475.4 411.2 483.3Q404.0 482.9 404.2 475.0Z" fill="#00d00a" stroke="#011a01" stroke-width="0.7"/>
<path d="M405.5 477.1Q409.1 477.3 409.0 481.2Q405.4 481.0 405.5 477.1Z" fill="#4aff49"/>
<path d="M402.6 451.5Q409.5 454.9 412.3 463.5Q405.4 460.1 402.6 451.5Z" fill="#0c8d04" stroke="#011a01" stroke-width="0.7"/>
<path d="M404.5 454.5Q407.9 456.2 409.2 460.5Q405.8 458.8 404.5 454.5Z" fill="#15ff2b"/>
<path d="M353.1 462.6Q359.3 465.3 355.4 471.5Q349.3 468.8 353.1 462.6Z" fill="#0ea203" stroke="#011a01" stroke-width="0.7"/>
<path d="M353.3 464.9Q356.4 466.2 354.5 469.3Q351.4 468.0 353.3 464.9Z" fill="#31ff1f"/>
<path d="M359.9 451.2Q355.0 457.1 346.5 454.6Q351.4 448.7 359.9 451.2Z" fill="#099213" stroke="#011a01" stroke-width="0.7"/>
<path d="M356.0 452.0Q353.6 455.0 349.3 453.8Q351.8 450.8 356.0 452.0Z" fill="#31ff42"/>
<path d="M414.4 467.1Q412.7 475.3 403.3 475.8Q405.0 467.7 414.4 467.1Z" fill="#089603" stroke="#011a01" stroke-width="0.7"/>
<path d="M411.1 469.3Q410.2 473.4 405.5 473.7Q406.4 469.6 411.1 469.3Z" fill="#1eff4d"/>
<path d="M371.5 447.5Q378.8 443.5 387.3 448.3Q379.9 452.2 371.5 447.5Z" fill="#0d8d0e" stroke="#011a01" stroke-width="0.7"/>
<path d="M374.9 447.7Q378.5 445.7 382.7 448.1Q379.0 450.0 374.9 447.7Z" fill="#3fff20"/>
<path d="M390.4 471.0Q394.9 479.4 388.5 488.4Q384.0 480.0 390.4 471.0Z" fill="#008906" stroke="#011a01" stroke-width="0.7"/>
<path d="M389.2 475.4Q391.4 479.6 388.2 484.0Q386.0 479.8 389.2 475.4Z" fill="#25ff2b"/>
<path d="M401.2 448.5Q396.8 453.0 389.8 450.9Q394.2 446.4 401.2 448.5Z" fill="#09c910" stroke="#011a01" stroke-width="0.7"/>
<path d="M397.9 449.1Q395.7 451.4 392.2 450.3Q394.4 448.0 397.9 449.1Z" fill="#3aff2b"/>
<path d="M342.5 452.8Q347.2 457.0 346.0 464.3Q341.2 460.1 342.5 452.8Z" fill="#11df01" stroke="#011a01" stroke-width="0.7"/>
<path d="M342.9 455.7Q345.3 457.8 344.6 461.4Q342.2 459.3 342.9 455.7Z" fill="#20ff0c"/>
<path d="M362.1 463.6Q362.7 468.9 357.1 470.8Q356.4 465.5 362.1 463.6Z" fill="#11c409" stroke="#011a01" stroke-width="0.7"/>
<path d="M360.5 465.4Q360.8 468.0 358.0 469.0Q357.7 466.4 360.5 465.4Z" fill="#53ff47"/>
<path d="M393.0 459.9Q395.9 465.0 393.5 471.6Q390.6 466.4 393.0 459.9Z" fill="#118f04" stroke="#011a01" stroke-width="0.7"/>
<path d="M392.7 462.8Q394.1 465.4 392.9 468.6Q391.5 466.1 392.7 462.8Z" fill="#12ff4b"/>
<path d="M365.9 433.3Q371.4 436.1 371.8 443.2Q366.3 440.5 365.9 433.3Z" fill="#08a90a" stroke="#011a01" stroke-width="0.7"/>
<path d="M366.9 435.8Q369.7 437.2 369.9 440.7Q367.1 439.4 366.9 435.8Z" fill="#52ff2d"/>
<path d="M406.3 423.2Q410.5 427.2 408.6 433.7Q404.5 429.6 406.3 423.2Z" fill="#0ce303" stroke="#011a01" stroke-width="0.7"/>
<path d="M406.5 425.8Q408.5 427.8 407.6 431.1Q405.5 429.0 406.5 425.8Z" fill="#2eff25"/>
<path d="M350.8 472.9Q354.6 479.5 352.5 488.2Q348.7 481.7 350.8 472.9Z" fill="#09f00a" stroke="#011a01" stroke-width="0.7"/>
<path d="M350.6 476.8Q352.5 480.0 351.4 484.3Q349.5 481.1 350.6 476.8Z" fill="#55ff28"/>
<path d="M386.9 473.0Q384.6 480.4 375.9 479.4Q378.3 472.0 386.9 473.0Z" fill="#10e70f" stroke="#011a01" stroke-width="0.7"/>
<path d="M383.6 474.6Q382.5 478.3 378.2 477.8Q379.3 474.1 383.6 474.6Z" fill="#1dff3c"/>
<path d="M355.1 453.5Q356.5 460.5 349.2 464.0Q347.8 457.0 355.1 453.5Z" fill="#028b15" stroke="#011a01" stroke-width="0.7"/>
<path d="M353.1 456.2Q353.8 459.7 350.2 461.4Q349.5 457.9 353.1 456.2Z" fill="#1aff1b"/>
<path d="M406.6 454.8Q413.5 456.6 412.7 464.6Q405.9 462.7 406.6 454.8Z" fill="#108d00" stroke="#011a01" stroke-width="0.7"/>
<path d="M407.7 457.2Q411.1 458.2 410.7 462.1Q407.3 461.2 407.7 457.2Z" fill="#0eff0a"/>
<path d="M373.8 444.1Q376.5 448.6 372.6 453.2Q369.9 448.6 373.8 444.1Z" fill="#0beb02" stroke="#011a01" stroke-width="0.7"/>
<path d="M373.1 446.4Q374.5 448.6 372.5 450.9Q371.2 448.6 373.1 446.4Z" fill="#36ff1b"/>
<path d="M355.7 425.5Q359.4 431.8 352.4 435.8Q348.7 429.5 355.7 425.5Z" fill="#099c04" stroke="#011a01" stroke-width="0.7"/>
<path d="M354.4 428.1Q356.3 431.2 352.8 433.2Q350.9 430.1 354.4 428.1Z" fill="#15ff34"/>
<path d="M367.0 472.9Q367.5 478.7 362.2 483.0Q361.7 477.2 367.0 472.9Z" fill="#03e813" stroke="#011a01" stroke-width="0.7"/>
<path d="M365.4 475.4Q365.6 478.3 363.0 480.5Q362.7 477.6 365.4 475.4Z" fill="#30ff21"/>
<path d="M395.5 458.3Q402.5 459.3 403.8 467.3Q396.8 466.3 395.5 458.3Z" fill="#05a116" stroke="#011a01" stroke-width="0.7"/>
<path d="M397.1 460.6Q400.6 461.1 401.2 465.0Q397.7 464.5 397.1 460.6Z" fill="#0eff42"/>
<path d="M360.8 446.6Q368.1 445.1 371.2 452.8Q364.0 454.4 360.8 446.6Z" fill="#0faf06" stroke="#011a01" stroke-width="0.7"/>
<path d="M362.9 448.2Q366.6 447.4 368.1 451.2Q364.5 452.0 362.9 448.2Z" fill="#3dff46"/>
<path d="M356.3 439.2Q352.4 444.6 344.6 445.9Q348.5 440.5 356.3 439.2Z" fill="#09e100" stroke="#011a01" stroke-width="0.7"/>
<path d="M352.8 440.9Q350.9 443.6 347.0 444.2Q348.9 441.5 352.8 440.9Z" fill="#38ff1c"/>
<path d="M394.9 471.7Q402.8 471.5 409.2 478.3Q401.3 478.5 394.9 471.7Z" fill="#04a601" stroke="#011a01" stroke-width="0.7"/>
<path d="M397.9 473.3Q401.8 473.2 405.0 476.6Q401.0 476.7 397.9 473.3Z" fill="#55ff29"/>
<path d="M396.5 468.5Q403.1 473.4 406.3 482.8Q399.7 477.9 396.5 468.5Z" fill="#01a906" stroke="#011a01" stroke-width="0.7"/>
<path d="M398.3 472.1Q401.6 474.5 403.1 479.2Q399.9 476.8 398.3 472.1Z" fill="#4dff36"/>
<path d="M329.2 433.4Q336.9 434.5 342.0 442.2Q334.3 441.1 329.2 433.4Z" fill="#0fdc05" stroke="#011a01" stroke-width="0.7"/>
<path d="M331.8 435.6Q335.6 436.1 338.2 440.0Q334.3 439.4 331.8 435.6Z" fill="#29ff2d"/>
<path d="M352.8 439.8Q351.6 446.8 344.9 451.8Q346.0 444.9 352.8 439.8Z" fill="#0dea08" stroke="#011a01" stroke-width="0.7"/>
<path d="M350.2 442.9Q349.6 446.3 346.3 448.8Q346.8 445.4 350.2 442.9Z" fill="#30ff22"/>
<path d="M376.1 446.2Q381.0 453.0 375.9 461.1Q371.0 454.3 376.1 446.2Z" fill="#08a317" stroke="#011a01" stroke-width="0.7"/>
<path d="M375.5 450.0Q377.9 453.3 375.3 457.3Q372.9 454.0 375.5 450.0Z" fill="#41ff2a"/>
<path d="M384.0 448.7Q387.5 454.3 383.4 460.7Q379.8 455.1 384.0 448.7Z" fill="#05aa16" stroke="#011a01" stroke-width="0.7"/>
<path d="M383.3 451.8Q385.1 454.5 383.0 457.7Q381.3 454.9 383.3 451.8Z" fill="#4dff10"/>
<path d="M393.5 438.5Q394.5 446.3 386.1 449.3Q385.1 441.5 393.5 438.5Z" fill="#0ee118" stroke="#011a01" stroke-width="0.7"/>
<path d="M391.1 441.2Q391.6 445.1 387.4 446.6Q386.9 442.7 391.1 441.2Z" fill="#35ff22"/>
<path d="M412.8 462.8Q412.0 469.8 404.1 471.3Q404.9 464.3 412.8 462.8Z" fill="#08d40c" stroke="#011a01" stroke-width="0.7"/>
<path d="M410.1 464.9Q409.7 468.4 405.8 469.1Q406.2 465.7 410.1 464.9Z" fill="#51ff23"/>
<path d="M395.0 434.6Q399.4 432.5 403.8 436.2Q399.3 438.3 395.0 434.6Z" fill="#01c30d" stroke="#011a01" stroke-width="0.7"/>
<path d="M396.8 435.0Q399.0 434.0 401.2 435.8Q399.0 436.8 396.8 435.0Z" fill="#38ff40"/>
<path d="M342.8 441.5Q336.5 446.6 327.7 443.1Q334.0 437.9 342.8 441.5Z" fill="#11a106" stroke="#011a01" stroke-width="0.7"/>
<path d="M338.4 441.9Q335.3 444.4 330.9 442.7Q334.0 440.1 338.4 441.9Z" fill="#40ff26"/>
<path d="M412.7 469.8Q409.9 473.8 404.8 471.6Q407.6 467.6 412.7 469.8Z" fill="#10ae0a" stroke="#011a01" stroke-width="0.7"/>
<path d="M410.4 470.3Q409.0 472.3 406.5 471.2Q407.9 469.2 410.4 470.3Z" fill="#48ff0e"/>
<path d="M367.9 434.6Q374.5 437.0 374.7 445.0Q368.1 442.7 367.9 434.6Z" fill="#0dc003" stroke="#011a01" stroke-width="0.7"/>
<path d="M369.1 437.2Q372.4 438.4 372.5 442.4Q369.2 441.2 369.1 437.2Z" fill="#59ff4b"/>
<path d="M360.0 426.9Q357.7 436.5 346.6 439.1Q348.8 429.4 360.0 426.9Z" fill="#0f8d02" stroke="#011a01" stroke-width="0.7"/>
<path d="M355.9 430.0Q354.8 434.8 349.2 436.0Q350.3 431.2 355.9 430.0Z" fill="#1eff24"/>
<path d="M411.2 441.0Q410.9 450.2 402.2 456.4Q402.4 447.3 411.2 441.0Z" fill="#098908" stroke="#011a01" stroke-width="0.7"/>
<path d="M408.2 444.9Q408.1 449.5 403.7 452.5Q403.8 448.0 408.2 444.9Z" fill="#34ff15"/>
<path d="M341.2 435.6Q339.7 444.2 329.9 446.5Q331.5 437.9 341.2 435.6Z" fill="#138707" stroke="#011a01" stroke-width="0.7"/>
<path d="M337.8 438.4Q337.0 442.6 332.1 443.8Q332.9 439.5 337.8 438.4Z" fill="#11ff48"/>
<path d="M353.2 444.5Q362.4 446.0 368.4 455.1Q359.3 453.7 353.2 444.5Z" fill="#0a9010" stroke="#011a01" stroke-width="0.7"/>
<path d="M356.3 447.2Q360.9 447.9 363.8 452.5Q359.3 451.8 356.3 447.2Z" fill="#38ff2c"/>
<path d="M356.9 449.4Q353.5 454.2 347.9 450.7Q351.3 445.9 356.9 449.4Z" fill="#0ece14" stroke="#011a01" stroke-width="0.7"/>
<path d="M354.3 449.7Q352.6 452.1 349.8 450.4Q351.5 448.0 354.3 449.7Z" fill="#1dff34"/>
<path d="M393.9 438.4Q396.7 444.0 390.3 446.5Q387.5 440.9 393.9 438.4Z" fill="#0c9402" stroke="#011a01" stroke-width="0.7"/>
<path d="M392.6 440.4Q394.1 443.2 390.9 444.4Q389.5 441.7 392.6 440.4Z" fill="#12ff44"/>
<path d="M344.0 453.5Q350.6 456.7 351.9 465.2Q345.3 462.0 344.0 453.5Z" fill="#07ad15" stroke="#011a01" stroke-width="0.7"/>
<path d="M345.4 456.5Q348.7 458.0 349.3 462.2Q346.0 460.7 345.4 456.5Z" fill="#1fff27"/>
<path d="M356.3 481.6Q363.5 481.3 367.7 488.5Q360.5 488.8 356.3 481.6Z" fill="#11d400" stroke="#011a01" stroke-width="0.7"/>
<path d="M358.7 483.4Q362.2 483.2 364.3 486.8Q360.7 486.9 358.7 483.4Z" fill="#29ff37"/>
<path d="M371.2 438.6Q366.7 443.2 359.7 440.9Q364.2 436.3 371.2 438.6Z" fill="#0dde0e" stroke="#011a01" stroke-width="0.7"/>
<path d="M367.9 439.2Q365.6 441.5 362.1 440.3Q364.4 438.0 367.9 439.2Z" fill="#51ff3a"/>
<path d="M360.2 441.6Q361.5 448.3 354.8 452.4Q353.5 445.7 360.2 441.6Z" fill="#03d404" stroke="#011a01" stroke-width="0.7"/>
<path d="M358.4 444.3Q359.0 447.7 355.7 449.7Q355.0 446.4 358.4 444.3Z" fill="#38ff26"/>
<path d="M345.5 466.2Q341.0 471.5 335.0 466.6Q339.6 461.4 345.5 466.2Z" fill="#06e00c" stroke="#011a01" stroke-width="0.7"/>
<path d="M342.5 466.3Q340.2 468.9 337.3 466.5Q339.5 463.9 342.5 466.3Z" fill="#54ff21"/>
<path d="M382.6 434.2Q389.7 433.6 390.6 441.4Q383.6 442.0 382.6 434.2Z" fill="#119a16" stroke="#011a01" stroke-width="0.7"/>
<path d="M384.2 436.0Q387.7 435.7 388.2 439.6Q384.7 439.9 384.2 436.0Z" fill="#5aff28"/>
<path d="M356.8 463.6Q351.0 468.4 342.7 465.4Q348.5 460.6 356.8 463.6Z" fill="#03d517" stroke="#011a01" stroke-width="0.7"/>
<path d="M352.7 464.0Q349.8 466.5 345.7 464.9Q348.6 462.5 352.7 464.0Z" fill="#1cff48"/>
<path d="M374.0 476.6Q373.3 483.4 366.0 486.6Q366.7 479.8 374.0 476.6Z" fill="#03a101" stroke="#011a01" stroke-width="0.7"/>
<path d="M371.5 479.1Q371.1 482.5 367.5 484.1Q367.8 480.7 371.5 479.1Z" fill="#38ff19"/>
<path d="M396.4 434.8Q396.6 443.0 388.8 448.5Q388.6 440.4 396.4 434.8Z" fill="#119a10" stroke="#011a01" stroke-width="0.7"/>
<path d="M393.9 438.3Q394.0 442.3 390.1 445.1Q390.0 441.0 393.9 438.3Z" fill="#2eff10"/>
<path d="M387.4 467.0Q383.6 471.2 376.9 470.7Q380.8 466.6 387.4 467.0Z" fill="#06c506" stroke="#011a01" stroke-width="0.7"/>
<path d="M384.3 467.9Q382.4 470.0 379.1 469.8Q381.0 467.7 384.3 467.9Z" fill="#24ff2c"/>
<path d="M403.2 446.0Q397.8 452.5 387.9 454.6Q393.3 448.1 403.2 446.0Z" fill="#018b18" stroke="#011a01" stroke-width="0.7"/>
<path d="M398.7 448.2Q396.0 451.4 391.1 452.5Q393.8 449.2 398.7 448.2Z" fill="#1eff38"/>
<path d="M361.0 445.0Q366.9 443.2 373.1 446.9Q367.3 448.8 361.0 445.0Z" fill="#01ad16" stroke="#011a01" stroke-width="0.7"/>
<path d="M363.6 445.5Q366.5 444.6 369.6 446.5Q366.7 447.4 363.6 445.5Z" fill="#4dff12"/>
<path d="M341.9 441.4Q348.2 443.3 345.3 449.8Q339.0 447.9 341.9 441.4Z" fill="#14d70f" stroke="#011a01" stroke-width="0.7"/>
<path d="M342.4 443.5Q345.6 444.4 344.1 447.7Q341.0 446.7 342.4 443.5Z" fill="#42ff50"/>
<path d="M376.7 460.4Q374.3 465.2 368.2 464.4Q370.6 459.6 376.7 460.4Z" fill="#0fd219" stroke="#011a01" stroke-width="0.7"/>
<path d="M374.2 461.4Q373.0 463.8 370.0 463.4Q371.2 461.0 374.2 461.4Z" fill="#2cff50"/>
<path d="M410.5 479.7Q406.3 484.2 399.2 482.9Q403.4 478.4 410.5 479.7Z" fill="#13c903" stroke="#011a01" stroke-width="0.7"/>
<path d="M407.2 480.5Q405.1 482.7 401.6 482.1Q403.6 479.9 407.2 480.5Z" fill="#0cff3f"/>
<path d="M351.0 456.1Q356.8 454.6 358.5 461.0Q352.6 462.5 351.0 456.1Z" fill="#0dd20a" stroke="#011a01" stroke-width="0.7"/>
<path d="M352.5 457.3Q355.4 456.5 356.2 459.7Q353.3 460.5 352.5 457.3Z" fill="#41ff12"/>
<path d="M399.2 469.8Q401.9 475.3 399.4 482.3Q396.7 476.7 399.2 469.8Z" fill="#11b412" stroke="#011a01" stroke-width="0.7"/>
<path d="M398.7 472.9Q400.1 475.7 398.8 479.1Q397.5 476.3 398.7 472.9Z" fill="#41ff4e"/>
<path d="M364.0 442.2Q366.6 450.8 360.6 459.6Q358.1 451.0 364.0 442.2Z" fill="#0ee20c" stroke="#011a01" stroke-width="0.7"/>
<path d="M362.5 446.6Q363.8 450.9 360.8 455.2Q359.5 450.9 362.5 446.6Z" fill="#0eff2e"/>
<path d="M397.0 473.0Q404.1 476.6 402.3 485.6Q395.1 481.9 397.0 473.0Z" fill="#07c411" stroke="#011a01" stroke-width="0.7"/>
<path d="M397.8 476.1Q401.3 478.0 400.4 482.4Q396.8 480.6 397.8 476.1Z" fill="#57ff2a"/>
<path d="M410.9 429.2Q404.9 433.9 397.4 429.6Q403.3 424.9 410.9 429.2Z" fill="#139011" stroke="#011a01" stroke-width="0.7"/>
<path d="M406.9 429.3Q404.0 431.6 400.2 429.5Q403.2 427.2 406.9 429.3Z" fill="#21ff0c"/>
<path d="M357.6 446.2Q354.9 454.0 345.5 456.4Q348.3 448.6 357.6 446.2Z" fill="#03dd14" stroke="#011a01" stroke-width="0.7"/>
<path d="M353.9 448.8Q352.6 452.6 347.9 453.8Q349.3 450.0 353.9 448.8Z" fill="#1cff4f"/>
<path d="M381.2 476.2Q387.2 474.2 392.5 479.2Q386.6 481.2 381.2 476.2Z" fill="#07c214" stroke="#011a01" stroke-width="0.7"/>
<path d="M383.6 477.0Q386.6 476.0 389.2 478.5Q386.3 479.5 383.6 477.0Z" fill="#3cff39"/>
<path d="M339.9 428.5Q345.5 426.2 348.4 432.3Q342.7 434.7 339.9 428.5Z" fill="#03de18" stroke="#011a01" stroke-width="0.7"/>
<path d="M341.6 429.5Q344.4 428.3 345.9 431.4Q343.1 432.5 341.6 429.5Z" fill="#28ff2b"/>
<path d="M417.5 457.9Q410.4 463.6 400.8 459.1Q408.0 453.3 417.5 457.9Z" fill="#0ce102" stroke="#011a01" stroke-width="0.7"/>
<path d="M412.7 458.2Q409.1 461.0 404.4 458.8Q407.9 455.9 412.7 458.2Z" fill="#18ff11"/>
<path d="M355.0 446.7Q355.6 453.1 348.6 455.4Q348.0 448.9 355.0 446.7Z" fill="#07bc0f" stroke="#011a01" stroke-width="0.7"/>
<path d="M353.0 448.9Q353.3 452.1 349.8 453.2Q349.5 450.0 353.0 448.9Z" fill="#57ff3d"/>
<path d="M391.5 469.8Q397.3 473.6 393.7 480.4Q387.9 476.7 391.5 469.8Z" fill="#028704" stroke="#011a01" stroke-width="0.7"/>
<path d="M391.6 472.5Q394.5 474.4 392.7 477.8Q389.8 475.9 391.6 472.5Z" fill="#41ff25"/>
<path d="M347.5 423.4Q350.5 428.5 347.9 435.0Q344.8 429.9 347.5 423.4Z" fill="#0d9605" stroke="#011a01" stroke-width="0.7"/>
<path d="M347.1 426.3Q348.6 428.9 347.3 432.1Q345.8 429.5 347.1 426.3Z" fill="#55ff1c"/>
<path d="M373.4 446.3Q367.5 450.8 359.8 446.9Q365.8 442.4 373.4 446.3Z" fill="#02b406" stroke="#011a01" stroke-width="0.7"/>
<path d="M369.5 446.5Q366.5 448.7 362.7 446.7Q365.7 444.5 369.5 446.5Z" fill="#0aff25"/>
<path d="M398.9 444.1Q404.9 439.6 409.9 446.1Q404.0 450.5 398.9 444.1Z" fill="#048813" stroke="#011a01" stroke-width="0.7"/>
<path d="M401.3 444.6Q404.2 442.4 406.7 445.6Q403.8 447.8 401.3 444.6Z" fill="#15ff31"/>
<path d="M352.0 478.4Q359.6 478.1 366.3 484.2Q358.7 484.6 352.0 478.4Z" fill="#11b004" stroke="#011a01" stroke-width="0.7"/>
<path d="M355.0 479.9Q358.8 479.7 362.1 482.7Q358.3 482.9 355.0 479.9Z" fill="#47ff49"/>
<path d="M412.0 426.5Q413.3 434.0 405.4 437.0Q404.1 429.6 412.0 426.5Z" fill="#0fef05" stroke="#011a01" stroke-width="0.7"/>
<path d="M409.8 429.2Q410.5 432.9 406.5 434.4Q405.9 430.7 409.8 429.2Z" fill="#4eff3f"/>
<path d="M403.0 471.2Q411.4 468.9 420.4 474.0Q412.0 476.2 403.0 471.2Z" fill="#05c407" stroke="#011a01" stroke-width="0.7"/>
<path d="M406.6 471.9Q410.8 470.8 415.3 473.3Q411.1 474.4 406.6 471.9Z" fill="#19ff16"/>
<path d="M403.7 474.3Q410.2 475.5 413.7 482.5Q407.1 481.3 403.7 474.3Z" fill="#0ac902" stroke="#011a01" stroke-width="0.7"/>
<path d="M405.7 476.4Q408.9 477.0 410.6 480.5Q407.4 479.8 405.7 476.4Z" fill="#31ff2a"/>
<path d="M340.2 424.6Q345.3 432.7 339.4 442.1Q334.3 434.0 340.2 424.6Z" fill="#13b303" stroke="#011a01" stroke-width="0.7"/>
<path d="M339.3 429.0Q341.8 433.1 338.9 437.7Q336.4 433.7 339.3 429.0Z" fill="#43ff2b"/>
<path d="M382.6 480.5Q390.7 480.2 395.7 488.2Q387.6 488.5 382.6 480.5Z" fill="#03bb0a" stroke="#011a01" stroke-width="0.7"/>
<path d="M385.3 482.4Q389.3 482.3 391.8 486.2Q387.7 486.4 385.3 482.4Z" fill="#1cff4a"/>
<path d="M366.8 451.0Q372.6 450.1 375.2 456.2Q369.4 457.1 366.8 451.0Z" fill="#0a9910" stroke="#011a01" stroke-width="0.7"/>
<path d="M368.5 452.3Q371.4 451.8 372.7 454.9Q369.8 455.4 368.5 452.3Z" fill="#2eff4c"/>
<path d="M381.2 439.3Q386.7 445.2 384.4 454.2Q378.9 448.4 381.2 439.3Z" fill="#02ba17" stroke="#011a01" stroke-width="0.7"/>
<path d="M381.4 443.1Q384.1 446.0 383.0 450.5Q380.2 447.6 381.4 443.1Z" fill="#17ff50"/>
<path d="M368.9 431.6Q369.3 440.7 360.8 447.3Q360.4 438.2 368.9 431.6Z" fill="#11c317" stroke="#011a01" stroke-width="0.7"/>
<path d="M366.1 435.6Q366.4 440.1 362.1 443.4Q361.9 438.8 366.1 435.6Z" fill="#2fff37"/>
<path d="M340.9 456.1Q347.5 454.9 350.6 461.8Q344.0 463.0 340.9 456.1Z" fill="#0ae215" stroke="#011a01" stroke-width="0.7"/>
<path d="M342.9 457.5Q346.1 457.0 347.7 460.4Q344.4 461.0 342.9 457.5Z" fill="#45ff19"/>
<path d="M344.2 467.4Q352.6 466.6 361.0 472.2Q352.6 473.0 344.2 467.4Z" fill="#0eaa19" stroke="#011a01" stroke-width="0.7"/>
<path d="M347.7 468.6Q351.9 468.2 356.1 471.0Q351.9 471.4 347.7 468.6Z" fill="#26ff4c"/>
<path d="M413.9 462.3Q407.9 465.8 400.2 463.3Q406.1 459.9 413.9 462.3Z" fill="#01c704" stroke="#011a01" stroke-width="0.7"/>
<path d="M409.9 462.6Q406.9 464.3 403.1 463.1Q406.0 461.3 409.9 462.6Z" fill="#2eff24"/>
<path d="M369.0 476.2Q375.5 476.6 376.7 483.8Q370.3 483.4 369.0 476.2Z" fill="#11db19" stroke="#011a01" stroke-width="0.7"/>
<path d="M370.5 478.1Q373.7 478.3 374.3 481.9Q371.1 481.7 370.5 478.1Z" fill="#48ff13"/>
<path d="M405.7 442.1Q402.0 446.2 396.3 443.7Q399.9 439.6 405.7 442.1Z" fill="#0ca603" stroke="#011a01" stroke-width="0.7"/>
<path d="M402.9 442.5Q401.1 444.6 398.3 443.3Q400.1 441.3 402.9 442.5Z" fill="#56ff1f"/>
<path d="M398.6 464.7Q404.0 461.4 406.2 467.9Q400.8 471.2 398.6 464.7Z" fill="#03b102" stroke="#011a01" stroke-width="0.7"/>
<path d="M400.2 465.5Q402.9 463.9 404.0 467.1Q401.3 468.7 400.2 465.5Z" fill="#24ff2d"/>
<path d="M354.7 451.5Q351.3 455.4 345.4 454.3Q348.8 450.4 354.7 451.5Z" fill="#09a80f" stroke="#011a01" stroke-width="0.7"/>
<path d="M352.0 452.2Q350.3 454.1 347.3 453.6Q349.0 451.6 352.0 452.2Z" fill="#47ff34"/>
<path d="M334.2 464.6Q338.3 468.8 336.3 475.4Q332.2 471.2 334.2 464.6Z" fill="#07b317" stroke="#011a01" stroke-width="0.7"/>
<path d="M334.3 467.3Q336.3 469.4 335.3 472.7Q333.3 470.6 334.3 467.3Z" fill="#29ff35"/>
<path d="M403.1 472.6Q408.0 473.8 408.3 479.5Q403.5 478.3 403.1 472.6Z" fill="#00a213" stroke="#011a01" stroke-width="0.7"/>
<path d="M404.1 474.3Q406.5 474.9 406.7 477.8Q404.3 477.2 404.1 474.3Z" fill="#38ff40"/>
<path d="M390.8 477.8Q397.9 475.2 401.0 483.0Q393.9 485.6 390.8 477.8Z" fill="#069703" stroke="#011a01" stroke-width="0.7"/>
<path d="M392.9 479.1Q396.4 477.8 398.0 481.7Q394.4 483.0 392.9 479.1Z" fill="#1fff17"/>
<path d="M335.8 441.3Q342.0 438.6 345.7 445.1Q339.5 447.9 335.8 441.3Z" fill="#13d316" stroke="#011a01" stroke-width="0.7"/>
<path d="M337.9 442.2Q341.0 440.9 342.8 444.2Q339.7 445.5 337.9 442.2Z" fill="#24ff2a"/>
<path d="M383.8 429.9Q390.4 435.8 387.0 445.4Q380.4 439.5 383.8 429.9Z" fill="#08cd07" stroke="#011a01" stroke-width="0.7"/>
<path d="M384.0 433.8Q387.3 436.8 385.5 441.5Q382.3 438.6 384.0 433.8Z" fill="#0aff1c"/>
<path d="M402.3 448.4Q411.6 445.6 419.0 454.1Q409.6 456.9 402.3 448.4Z" fill="#0eee10" stroke="#011a01" stroke-width="0.7"/>
<path d="M405.8 449.8Q410.4 448.4 414.1 452.7Q409.4 454.0 405.8 449.8Z" fill="#4fff15"/>
<path d="M355.3 462.6Q360.6 466.9 356.1 473.1Q350.8 468.7 355.3 462.6Z" fill="#14b714" stroke="#011a01" stroke-width="0.7"/>
<path d="M355.1 465.2Q357.7 467.4 355.5 470.4Q352.9 468.3 355.1 465.2Z" fill="#25ff4b"/>
<path d="M337.6 428.5Q339.8 435.3 332.2 437.2Q330.0 430.4 337.6 428.5Z" fill="#01ef18" stroke="#011a01" stroke-width="0.7"/>
<path d="M335.9 430.7Q336.9 434.1 333.1 435.0Q332.1 431.6 335.9 430.7Z" fill="#2eff0e"/>
<path d="M405.6 474.1Q405.4 482.4 396.9 486.7Q397.0 478.4 405.6 474.1Z" fill="#03ef0c" stroke="#011a01" stroke-width="0.7"/>
<path d="M402.8 477.3Q402.7 481.4 398.5 483.5Q398.5 479.4 402.8 477.3Z" fill="#20ff48"/>
<path d="M346.1 474.3Q345.6 481.6 337.4 483.4Q337.9 476.0 346.1 474.3Z" fill="#0ecd09" stroke="#011a01" stroke-width="0.7"/>
<path d="M343.4 476.6Q343.1 480.2 339.1 481.1Q339.3 477.4 343.4 476.6Z" fill="#58ff4d"/>
<path d="M405.6 442.8Q400.2 448.1 391.2 448.9Q396.6 443.7 405.6 442.8Z" fill="#14a714" stroke="#011a01" stroke-width="0.7"/>
<path d="M401.3 444.4Q398.6 447.0 394.2 447.4Q396.9 444.8 401.3 444.4Z" fill="#40ff41"/>
<path d="M351.9 447.2Q359.5 447.3 366.0 453.7Q358.4 453.6 351.9 447.2Z" fill="#00ac12" stroke="#011a01" stroke-width="0.7"/>
<path d="M354.8 448.9Q358.6 448.9 361.8 452.0Q358.0 452.0 354.8 448.9Z" fill="#0bff4a"/>
<path d="M338.6 426.3Q342.2 434.3 340.8 444.7Q337.3 436.7 338.6 426.3Z" fill="#04c115" stroke="#011a01" stroke-width="0.7"/>
<path d="M338.4 430.9Q340.2 434.9 339.5 440.0Q337.7 436.1 338.4 430.9Z" fill="#0eff2e"/>
<path d="M359.0 442.4Q364.6 442.8 365.0 449.0Q359.5 448.7 359.0 442.4Z" fill="#05e30c" stroke="#011a01" stroke-width="0.7"/>
<path d="M360.2 444.1Q363.0 444.3 363.2 447.4Q360.4 447.2 360.2 444.1Z" fill="#53ff26"/>
<path d="M345.7 431.4Q342.9 439.9 332.7 440.0Q335.5 431.5 345.7 431.4Z" fill="#019115" stroke="#011a01" stroke-width="0.7"/>
<path d="M341.8 433.6Q340.4 437.8 335.4 437.8Q336.7 433.6 341.8 433.6Z" fill="#48ff46"/>
<path d="M397.6 433.9Q395.8 443.3 385.7 448.0Q387.4 438.7 397.6 433.9Z" fill="#03a114" stroke="#011a01" stroke-width="0.7"/>
<path d="M393.8 437.5Q392.9 442.1 387.9 444.5Q388.8 439.8 393.8 437.5Z" fill="#46ff17"/>
<path d="M350.0 472.8Q346.4 476.4 341.3 473.7Q344.9 470.1 350.0 472.8Z" fill="#03df15" stroke="#011a01" stroke-width="0.7"/>
<path d="M347.5 473.1Q345.7 474.9 343.2 473.5Q345.0 471.7 347.5 473.1Z" fill="#1bff24"/>
<path d="M382.1 425.3Q386.3 432.2 383.2 441.1Q379.1 434.2 382.1 425.3Z" fill="#08b911" stroke="#011a01" stroke-width="0.7"/>
<path d="M381.8 429.3Q383.8 432.7 382.3 437.1Q380.2 433.7 381.8 429.3Z" fill="#4dff38"/>
<path d="M339.7 435.4Q346.1 435.1 350.7 441.0Q344.3 441.3 339.7 435.4Z" fill="#0bad07" stroke="#011a01" stroke-width="0.7"/>
<path d="M341.9 436.8Q345.1 436.7 347.4 439.6Q344.2 439.7 341.9 436.8Z" fill="#48ff49"/>
<path d="M373.3 429.7Q371.4 435.8 364.6 439.3Q366.5 433.1 373.3 429.7Z" fill="#089504" stroke="#011a01" stroke-width="0.7"/>
<path d="M370.6 432.1Q369.6 435.2 366.3 436.9Q367.2 433.8 370.6 432.1Z" fill="#3aff2d"/>
<path d="M392.6 463.7Q397.5 466.9 395.1 473.0Q390.3 469.8 392.6 463.7Z" fill="#018d11" stroke="#011a01" stroke-width="0.7"/>
<path d="M392.9 466.1Q395.3 467.6 394.1 470.6Q391.7 469.1 392.9 466.1Z" fill="#15ff0a"/>
<path d="M349.4 476.7Q341.3 481.8 331.0 477.6Q339.0 472.6 349.4 476.7Z" fill="#02bb06" stroke="#011a01" stroke-width="0.7"/>
<path d="M344.0 477.0Q340.0 479.5 334.9 477.4Q338.9 474.9 344.0 477.0Z" fill="#20ff49"/>
<path d="M342.9 471.9Q343.5 480.3 335.6 486.4Q335.0 477.9 342.9 471.9Z" fill="#00b909" stroke="#011a01" stroke-width="0.7"/>
<path d="M340.4 475.5Q340.7 479.7 336.8 482.7Q336.5 478.5 340.4 475.5Z" fill="#23ff34"/>
<path d="M374.5 470.5Q375.6 477.7 369.1 483.1Q368.0 475.9 374.5 470.5Z" fill="#098f00" stroke="#011a01" stroke-width="0.7"/>
<path d="M372.6 473.7Q373.1 477.2 369.9 479.9Q369.4 476.4 372.6 473.7Z" fill="#1dff2d"/>
<path d="M375.7 478.0Q382.7 477.9 384.1 485.6Q377.1 485.7 375.7 478.0Z" fill="#02d018" stroke="#011a01" stroke-width="0.7"/>
<path d="M377.3 479.9Q380.8 479.8 381.5 483.7Q378.0 483.7 377.3 479.9Z" fill="#50ff25"/>
<path d="M368.2 455.8Q373.1 455.3 375.4 460.4Q370.5 460.9 368.2 455.8Z" fill="#038714" stroke="#011a01" stroke-width="0.7"/>
<path d="M369.7 456.9Q372.1 456.7 373.2 459.2Q370.8 459.5 369.7 456.9Z" fill="#2dff15"/>
<path d="M375.8 432.2Q384.3 434.2 389.1 443.4Q380.6 441.3 375.8 432.2Z" fill="#148d0a" stroke="#011a01" stroke-width="0.7"/>
<path d="M378.5 435.0Q382.7 436.0 385.0 440.5Q380.8 439.5 378.5 435.0Z" fill="#17ff0d"/>
<path d="M378.4 447.2Q384.6 448.9 383.0 455.8Q376.8 454.1 378.4 447.2Z" fill="#06db05" stroke="#011a01" stroke-width="0.7"/>
<path d="M379.2 449.4Q382.3 450.2 381.4 453.7Q378.4 452.8 379.2 449.4Z" fill="#10ff1a"/>
<path d="M401.8 455.8Q410.1 450.8 419.5 457.0Q411.2 462.0 401.8 455.8Z" fill="#06ef07" stroke="#011a01" stroke-width="0.7"/>
<path d="M405.5 456.1Q409.7 453.6 414.3 456.7Q410.2 459.2 405.5 456.1Z" fill="#0dff1f"/>
<path d="M411.3 427.5Q409.3 435.4 401.1 440.3Q403.1 432.5 411.3 427.5Z" fill="#0ae40b" stroke="#011a01" stroke-width="0.7"/>
<path d="M408.1 430.8Q407.1 434.7 403.0 437.1Q404.0 433.2 408.1 430.8Z" fill="#0eff24"/>
<path d="M381.7 448.7Q382.2 456.0 374.4 459.1Q373.9 451.8 381.7 448.7Z" fill="#09a307" stroke="#011a01" stroke-width="0.7"/>
<path d="M379.4 451.3Q379.6 454.9 375.7 456.5Q375.5 452.8 379.4 451.3Z" fill="#22ff40"/>
<path d="M336.1 456.0Q339.3 464.3 333.9 473.1Q330.7 464.9 336.1 456.0Z" fill="#138c0f" stroke="#011a01" stroke-width="0.7"/>
<path d="M334.9 460.3Q336.5 464.4 333.8 468.8Q332.2 464.7 334.9 460.3Z" fill="#55ff3c"/>
<path d="M341.9 437.6Q347.4 434.1 349.7 440.8Q344.2 444.3 341.9 437.6Z" fill="#069310" stroke="#011a01" stroke-width="0.7"/>
<path d="M343.5 438.4Q346.3 436.7 347.4 440.0Q344.6 441.7 343.5 438.4Z" fill="#4bff43"/>
<path d="M362.0 457.7Q368.7 461.2 366.5 469.5Q359.8 466.0 362.0 457.7Z" fill="#12c40f" stroke="#011a01" stroke-width="0.7"/>
<path d="M362.6 460.7Q366.0 462.4 364.9 466.5Q361.5 464.8 362.6 460.7Z" fill="#13ff15"/>
<path d="M350.0 427.4Q352.6 432.9 346.3 435.4Q343.8 429.9 350.0 427.4Z" fill="#039b02" stroke="#011a01" stroke-width="0.7"/>
<path d="M348.7 429.4Q350.0 432.2 346.9 433.4Q345.6 430.6 348.7 429.4Z" fill="#20ff2c"/>
<path d="M361.1 458.7Q357.5 463.0 351.3 461.1Q354.9 456.8 361.1 458.7Z" fill="#14c301" stroke="#011a01" stroke-width="0.7"/>
<path d="M358.2 459.3Q356.4 461.5 353.4 460.5Q355.2 458.4 358.2 459.3Z" fill="#2cff2a"/>
<path d="M356.6 450.5Q354.8 459.2 344.7 461.4Q346.5 452.7 356.6 450.5Z" fill="#0dc512" stroke="#011a01" stroke-width="0.7"/>
<path d="M353.0 453.2Q352.0 457.6 347.0 458.7Q347.9 454.3 353.0 453.2Z" fill="#2bff20"/>
<path d="M388.0 454.1Q386.2 461.2 377.9 463.8Q379.7 456.6 388.0 454.1Z" fill="#0cc111" stroke="#011a01" stroke-width="0.7"/>
<path d="M384.9 456.5Q384.0 460.1 379.9 461.3Q380.8 457.8 384.9 456.5Z" fill="#24ff1d"/>
<path d="M367.9 427.7Q367.6 436.3 359.4 442.2Q359.7 433.6 367.9 427.7Z" fill="#08d318" stroke="#011a01" stroke-width="0.7"/>
<path d="M365.1 431.4Q364.9 435.7 360.9 438.6Q361.0 434.3 365.1 431.4Z" fill="#13ff30"/>
<path d="M345.4 439.6Q340.1 443.4 332.5 441.8Q337.8 437.9 345.4 439.6Z" fill="#14a117" stroke="#011a01" stroke-width="0.7"/>
<path d="M341.6 440.1Q339.0 442.1 335.3 441.2Q337.9 439.3 341.6 440.1Z" fill="#1fff12"/>
<path d="M365.7 424.4Q363.2 431.4 354.7 431.7Q357.2 424.7 365.7 424.4Z" fill="#11db0a" stroke="#011a01" stroke-width="0.7"/>
<path d="M362.4 426.3Q361.1 429.7 356.9 429.9Q358.1 426.4 362.4 426.3Z" fill="#43ff28"/>
<path d="M337.5 478.0Q344.6 480.4 345.1 489.0Q337.9 486.7 337.5 478.0Z" fill="#038c19" stroke="#011a01" stroke-width="0.7"/>
<path d="M338.9 480.8Q342.4 481.9 342.6 486.2Q339.1 485.1 338.9 480.8Z" fill="#3eff3d"/>
<path d="M348.8 420.3Q350.1 429.0 343.3 436.9Q342.1 428.2 348.8 420.3Z" fill="#0fde19" stroke="#011a01" stroke-width="0.7"/>
<path d="M346.7 424.5Q347.4 428.8 344.0 432.7Q343.4 428.4 346.7 424.5Z" fill="#3cff15"/>
<path d="M373.7 459.7Q374.6 467.5 369.1 475.0Q368.2 467.3 373.7 459.7Z" fill="#0a8917" stroke="#011a01" stroke-width="0.7"/>
<path d="M371.9 463.6Q372.4 467.4 369.6 471.2Q369.2 467.3 371.9 463.6Z" fill="#34ff3f"/>
<path d="M380.8 472.0Q387.2 474.1 384.5 481.0Q378.2 478.9 380.8 472.0Z" fill="#08890d" stroke="#011a01" stroke-width="0.7"/>
<path d="M381.4 474.3Q384.5 475.3 383.2 478.7Q380.0 477.7 381.4 474.3Z" fill="#17ff3a"/>
<path d="M375.6 470.1Q381.1 471.2 380.5 477.5Q375.0 476.3 375.6 470.1Z" fill="#07bc15" stroke="#011a01" stroke-width="0.7"/>
<path d="M376.5 471.9Q379.3 472.5 378.9 475.6Q376.2 475.1 376.5 471.9Z" fill="#18ff2b"/>
<path d="M406.0 445.2Q403.2 453.0 393.9 456.3Q396.8 448.5 406.0 445.2Z" fill="#098619" stroke="#011a01" stroke-width="0.7"/>
<path d="M402.3 448.0Q400.9 451.9 396.3 453.5Q397.7 449.6 402.3 448.0Z" fill="#3cff1b"/>
<path d="M385.6 430.3Q391.7 432.6 388.5 439.1Q382.3 436.8 385.6 430.3Z" fill="#0c9d05" stroke="#011a01" stroke-width="0.7"/>
<path d="M385.9 432.5Q389.0 433.7 387.4 436.9Q384.3 435.7 385.9 432.5Z" fill="#34ff29"/>
<path d="M351.6 462.1Q349.3 470.6 339.4 473.0Q341.7 464.5 351.6 462.1Z" fill="#09d110" stroke="#011a01" stroke-width="0.7"/>
<path d="M347.9 464.9Q346.8 469.1 341.8 470.2Q342.9 466.0 347.9 464.9Z" fill="#4eff3f"/>
<path d="M384.1 434.4Q380.6 439.3 375.2 435.6Q378.6 430.8 384.1 434.4Z" fill="#02aa0a" stroke="#011a01" stroke-width="0.7"/>
<path d="M381.5 434.7Q379.8 437.1 377.1 435.3Q378.8 432.9 381.5 434.7Z" fill="#3cff2f"/>
<path d="M353.4 448.3Q358.6 453.8 357.2 462.6Q352.1 457.1 353.4 448.3Z" fill="#04ca15" stroke="#011a01" stroke-width="0.7"/>
<path d="M353.8 451.9Q356.4 454.7 355.7 459.0Q353.1 456.3 353.8 451.9Z" fill="#16ff4e"/>
<path d="M406.2 461.8Q408.9 469.9 401.4 476.1Q398.6 468.0 406.2 461.8Z" fill="#10cc07" stroke="#011a01" stroke-width="0.7"/>
<path d="M404.3 465.4Q405.7 469.4 402.0 472.5Q400.6 468.5 404.3 465.4Z" fill="#19ff12"/>
<path d="M395.7 439.8Q404.2 439.7 411.6 446.5Q403.1 446.6 395.7 439.8Z" fill="#06d311" stroke="#011a01" stroke-width="0.7"/>
<path d="M399.0 441.5Q403.2 441.4 406.9 444.8Q402.7 444.9 399.0 441.5Z" fill="#0bff1a"/>
<path d="M342.0 475.6Q348.5 474.2 350.1 481.3Q343.6 482.7 342.0 475.6Z" fill="#08d50e" stroke="#011a01" stroke-width="0.7"/>
<path d="M343.6 477.0Q346.9 476.3 347.6 479.9Q344.4 480.6 343.6 477.0Z" fill="#0dff42"/>
<path d="M385.7 421.3Q386.7 429.5 379.5 435.9Q378.5 427.7 385.7 421.3Z" fill="#0bdb16" stroke="#011a01" stroke-width="0.7"/>
<path d="M383.5 425.0Q384.0 429.0 380.4 432.2Q379.9 428.2 383.5 425.0Z" fill="#1bff4c"/>
<path d="M345.5 448.6Q348.5 455.1 341.9 459.8Q338.9 453.3 345.5 448.6Z" fill="#138d09" stroke="#011a01" stroke-width="0.7"/>
<path d="M344.1 451.4Q345.6 454.6 342.3 457.0Q340.8 453.7 344.1 451.4Z" fill="#35ff4a"/>
<path d="M395.1 462.2Q401.7 468.3 398.9 478.4Q392.2 472.2 395.1 462.2Z" fill="#0da20b" stroke="#011a01" stroke-width="0.7"/>
<path d="M395.4 466.2Q398.7 469.3 397.2 474.3Q393.9 471.2 395.4 466.2Z" fill="#57ff4d"/>
<path d="M386.9 447.0Q393.0 449.0 393.3 456.3Q387.1 454.4 386.9 447.0Z" fill="#06c914" stroke="#011a01" stroke-width="0.7"/>
<path d="M388.0 449.4Q391.1 450.3 391.2 454.0Q388.1 453.1 388.0 449.4Z" fill="#21ff19"/>
<path d="M397.9 459.6Q405.2 459.3 409.4 466.6Q402.1 466.8 397.9 459.6Z" fill="#0c9002" stroke="#011a01" stroke-width="0.7"/>
<path d="M400.3 461.3Q403.9 461.2 406.0 464.8Q402.4 464.9 400.3 461.3Z" fill="#52ff2e"/>
<path d="M387.5 447.6Q387.5 454.3 381.5 459.5Q381.6 452.8 387.5 447.6Z" fill="#0ed00a" stroke="#011a01" stroke-width="0.7"/>
<path d="M385.5 450.6Q385.5 453.9 382.5 456.5Q382.5 453.1 385.5 450.6Z" fill="#57ff10"/>
<path d="M390.1 441.3Q398.3 445.8 400.0 456.7Q391.8 452.1 390.1 441.3Z" fill="#0ad412" stroke="#011a01" stroke-width="0.7"/>
<path d="M391.9 445.1Q395.9 447.4 396.8 452.8Q392.7 450.6 391.9 445.1Z" fill="#3eff32"/>
<path d="M335.9 454.1Q344.6 457.0 347.2 467.5Q338.5 464.5 335.9 454.1Z" fill="#029919" stroke="#011a01" stroke-width="0.7"/>
<path d="M338.1 457.5Q342.4 458.9 343.7 464.1Q339.3 462.7 338.1 457.5Z" fill="#16ff37"/>
<path d="M364.4 426.2Q371.0 431.1 367.6 439.7Q361.0 434.8 364.4 426.2Z" fill="#13a710" stroke="#011a01" stroke-width="0.7"/>
<path d="M364.7 429.6Q368.0 432.0 366.3 436.3Q363.0 433.9 364.7 429.6Z" fill="#23ff1c"/>
<path d="M403.5 436.1Q411.2 439.6 414.3 449.2Q406.6 445.7 403.5 436.1Z" fill="#0bd30b" stroke="#011a01" stroke-width="0.7"/>
<path d="M405.6 439.4Q409.4 441.1 410.9 445.9Q407.1 444.2 405.6 439.4Z" fill="#39ff0c"/>
<path d="M371.0 459.1Q373.0 464.7 366.8 466.9Q364.8 461.3 371.0 459.1Z" fill="#12e60c" stroke="#011a01" stroke-width="0.7"/>
<path d="M369.6 461.1Q370.6 463.8 367.5 464.9Q366.5 462.1 369.6 461.1Z" fill="#51ff2e"/>
<path d="M383.7 435.0Q379.9 440.9 372.0 439.3Q375.8 433.4 383.7 435.0Z" fill="#09a50b" stroke="#011a01" stroke-width="0.7"/>
<path d="M380.3 436.1Q378.4 439.0 374.5 438.2Q376.3 435.3 380.3 436.1Z" fill="#18ff2f"/>
<path d="M339.6 451.3Q346.6 453.5 350.3 461.4Q343.2 459.2 339.6 451.3Z" fill="#0ee402" stroke="#011a01" stroke-width="0.7"/>
<path d="M341.7 453.9Q345.2 454.9 347.0 458.9Q343.5 457.8 341.7 453.9Z" fill="#2eff4a"/>
<path d="M358.0 453.2Q356.7 462.7 346.3 466.7Q347.6 457.2 358.0 453.2Z" fill="#12d810" stroke="#011a01" stroke-width="0.7"/>
<path d="M354.3 456.6Q353.7 461.3 348.5 463.3Q349.1 458.6 354.3 456.6Z" fill="#18ff10"/>
<path d="M358.4 472.1Q367.3 469.8 373.5 478.2Q364.7 480.6 358.4 472.1Z" fill="#0aa40f" stroke="#011a01" stroke-width="0.7"/>
<path d="M361.6 473.7Q366.0 472.5 369.1 476.7Q364.7 477.9 361.6 473.7Z" fill="#3fff28"/>
<path d="M398.8 477.9Q394.8 482.0 387.9 481.5Q392.0 477.4 398.8 477.9Z" fill="#09cc12" stroke="#011a01" stroke-width="0.7"/>
<path d="M395.6 478.8Q393.6 480.9 390.2 480.6Q392.2 478.5 395.6 478.8Z" fill="#32ff20"/>
<path d="M357.0 426.5Q352.6 432.8 344.2 430.4Q348.6 424.2 357.0 426.5Z" fill="#07cb13" stroke="#011a01" stroke-width="0.7"/>
<path d="M353.2 427.5Q351.0 430.6 346.9 429.5Q349.0 426.4 353.2 427.5Z" fill="#34ff1f"/>
<path d="M394.1 431.2Q388.2 438.3 377.7 436.5Q383.5 429.3 394.1 431.2Z" fill="#10a107" stroke="#011a01" stroke-width="0.7"/>
<path d="M389.2 432.5Q386.4 436.1 381.1 435.1Q384.0 431.5 389.2 432.5Z" fill="#25ff2e"/>
<path d="M395.1 467.1Q398.8 461.5 403.1 467.2Q399.4 472.7 395.1 467.1Z" fill="#0ecd14" stroke="#011a01" stroke-width="0.7"/>
<path d="M396.8 467.1Q398.6 464.3 400.8 467.1Q398.9 469.9 396.8 467.1Z" fill="#56ff27"/>
<path d="M364.3 455.8Q370.6 457.8 370.6 465.4Q364.3 463.3 364.3 455.8Z" fill="#079118" stroke="#011a01" stroke-width="0.7"/>
<path d="M365.4 458.2Q368.6 459.2 368.5 463.0Q365.4 461.9 365.4 458.2Z" fill="#0eff2a"/>
<path d="M378.3 429.3Q385.2 425.7 393.1 430.2Q386.2 433.7 378.3 429.3Z" fill="#088e16" stroke="#011a01" stroke-width="0.7"/>
<path d="M381.4 429.5Q384.8 427.7 388.8 429.9Q385.3 431.7 381.4 429.5Z" fill="#35ff3e"/>
<path d="M377.9 480.6Q371.1 484.8 362.2 481.6Q369.0 477.4 377.9 480.6Z" fill="#02a504" stroke="#011a01" stroke-width="0.7"/>
<path d="M373.3 480.8Q369.9 482.9 365.5 481.3Q368.9 479.2 373.3 480.8Z" fill="#20ff36"/>
<path d="M383.2 472.5Q376.8 477.9 367.1 476.2Q373.5 470.9 383.2 472.5Z" fill="#058806" stroke="#011a01" stroke-width="0.7"/>
<path d="M378.5 473.4Q375.3 476.1 370.5 475.3Q373.7 472.6 378.5 473.4Z" fill="#1eff38"/>
<path d="M416.4 477.4Q412.6 482.6 405.4 481.3Q409.1 476.2 416.4 477.4Z" fill="#0c9c00" stroke="#011a01" stroke-width="0.7"/>
<path d="M413.2 478.4Q411.3 481.0 407.7 480.3Q409.5 477.8 413.2 478.4Z" fill="#18ff3e"/>
<path d="M394.5 461.1Q398.7 457.5 402.2 462.5Q398.0 466.1 394.5 461.1Z" fill="#06c30b" stroke="#011a01" stroke-width="0.7"/>
<path d="M396.1 461.4Q398.2 459.7 400.0 462.2Q397.8 463.9 396.1 461.4Z" fill="#37ff37"/>
<path d="M378.8 437.7Q378.0 443.2 371.7 443.9Q372.5 438.4 378.8 437.7Z" fill="#13be09" stroke="#011a01" stroke-width="0.7"/>
<path d="M376.6 439.2Q376.2 442.0 373.1 442.3Q373.5 439.6 376.6 439.2Z" fill="#1eff4c"/>
<path d="M381.8 432.5Q382.6 437.7 376.8 438.7Q376.1 433.5 381.8 432.5Z" fill="#118a08" stroke="#011a01" stroke-width="0.7"/>
<path d="M380.2 434.1Q380.6 436.7 377.8 437.2Q377.4 434.6 380.2 434.1Z" fill="#27ff45"/>
<path d="M376.4 462.2Q382.1 462.1 382.6 468.4Q376.8 468.5 376.4 462.2Z" fill="#138800" stroke="#011a01" stroke-width="0.7"/>
<path d="M377.6 463.8Q380.4 463.7 380.6 466.9Q377.8 466.9 377.6 463.8Z" fill="#3fff2f"/>
<path d="M378.9 446.6Q384.7 452.8 382.8 462.6Q377.1 456.4 378.9 446.6Z" fill="#05c00b" stroke="#011a01" stroke-width="0.7"/>
<path d="M379.2 450.6Q382.1 453.7 381.2 458.5Q378.3 455.5 379.2 450.6Z" fill="#2fff17"/>
<path d="M382.8 434.7Q380.1 440.9 372.3 440.5Q375.1 434.3 382.8 434.7Z" fill="#0abd08" stroke="#011a01" stroke-width="0.7"/>
<path d="M379.7 436.2Q378.3 439.3 374.5 439.0Q375.8 436.0 379.7 436.2Z" fill="#3fff30"/>
<path d="M404.1 480.7Q402.0 487.6 393.7 489.4Q395.9 482.5 404.1 480.7Z" fill="#10920e" stroke="#011a01" stroke-width="0.7"/>
<path d="M401.0 482.9Q399.9 486.3 395.8 487.2Q396.9 483.8 401.0 482.9Z" fill="#10ff46"/>
<path d="M389.0 424.8Q385.0 431.4 376.0 432.4Q380.0 425.8 389.0 424.8Z" fill="#0e9103" stroke="#011a01" stroke-width="0.7"/>
<path d="M385.1 426.7Q383.2 430.0 378.7 430.5Q380.7 427.2 385.1 426.7Z" fill="#2bff2d"/>
<path d="M388.3 472.1Q395.3 476.0 395.4 485.2Q388.4 481.4 388.3 472.1Z" fill="#039a10" stroke="#011a01" stroke-width="0.7"/>
<path d="M389.5 475.4Q393.0 477.3 393.0 481.9Q389.5 480.0 389.5 475.4Z" fill="#0dff25"/>
<path d="M353.8 429.2Q359.8 430.1 361.3 436.9Q355.3 436.0 353.8 429.2Z" fill="#04a90e" stroke="#011a01" stroke-width="0.7"/>
<path d="M355.3 431.1Q358.3 431.6 359.0 435.0Q356.0 434.5 355.3 431.1Z" fill="#0fff1c"/>
<path d="M381.3 454.1Q379.7 459.2 373.8 458.4Q375.4 453.3 381.3 454.1Z" fill="#04b20b" stroke="#011a01" stroke-width="0.7"/>
<path d="M379.1 455.2Q378.3 457.7 375.4 457.3Q376.1 454.8 379.1 455.2Z" fill="#47ff0f"/>
<path d="M390.9 423.9Q400.1 427.9 400.9 439.5Q391.7 435.5 390.9 423.9Z" fill="#08c103" stroke="#011a01" stroke-width="0.7"/>
<path d="M392.6 427.8Q397.2 429.8 397.6 435.5Q393.0 433.6 392.6 427.8Z" fill="#51ff2f"/>
<path d="M400.8 446.7Q393.0 449.9 383.3 447.1Q391.1 444.0 400.8 446.7Z" fill="#0ed701" stroke="#011a01" stroke-width="0.7"/>
<path d="M395.7 446.8Q391.8 448.4 387.0 447.0Q390.9 445.5 395.7 446.8Z" fill="#12ff3a"/>
<path d="M361.9 472.2Q371.2 472.2 377.0 481.3Q367.7 481.4 361.9 472.2Z" fill="#08da10" stroke="#011a01" stroke-width="0.7"/>
<path d="M365.0 474.5Q369.6 474.5 372.5 479.0Q367.9 479.1 365.0 474.5Z" fill="#1bff0e"/>
<path d="M334.8 433.6Q338.9 436.3 338.1 441.9Q334.0 439.2 334.8 433.6Z" fill="#13cf05" stroke="#011a01" stroke-width="0.7"/>
<path d="M335.3 435.7Q337.3 437.0 336.9 439.8Q334.9 438.5 335.3 435.7Z" fill="#26ff29"/>
<path d="M335.2 441.8Q342.0 441.8 342.2 449.3Q335.4 449.4 335.2 441.8Z" fill="#069c09" stroke="#011a01" stroke-width="0.7"/>
<path d="M336.6 443.7Q340.0 443.7 340.1 447.4Q336.7 447.5 336.6 443.7Z" fill="#43ff3b"/>
<path d="M358.8 449.9Q363.8 446.2 366.7 452.3Q361.7 456.1 358.8 449.9Z" fill="#13d80e" stroke="#011a01" stroke-width="0.7"/>
<path d="M360.5 450.5Q363.0 448.6 364.4 451.7Q361.9 453.6 360.5 450.5Z" fill="#24ff14"/>
<path d="M413.2 454.2Q413.8 461.8 405.8 465.3Q405.3 457.8 413.2 454.2Z" fill="#06ba04" stroke="#011a01" stroke-width="0.7"/>
<path d="M410.8 457.0Q411.1 460.8 407.2 462.5Q406.9 458.8 410.8 457.0Z" fill="#1cff11"/>
<path d="M340.9 438.3Q345.9 435.7 350.9 439.9Q345.8 442.4 340.9 438.3Z" fill="#0c9218" stroke="#011a01" stroke-width="0.7"/>
<path d="M343.0 438.7Q345.5 437.4 347.9 439.5Q345.4 440.8 343.0 438.7Z" fill="#32ff1d"/>
<path d="M389.6 464.5Q392.6 472.2 389.8 481.6Q386.8 474.0 389.6 464.5Z" fill="#00cb0a" stroke="#011a01" stroke-width="0.7"/>
<path d="M388.9 468.8Q390.4 472.6 389.0 477.3Q387.5 473.5 388.9 468.8Z" fill="#0dff25"/>
<path d="M369.7 437.8Q377.4 438.5 378.8 447.1Q371.2 446.4 369.7 437.8Z" fill="#0a9212" stroke="#011a01" stroke-width="0.7"/>
<path d="M371.5 440.1Q375.3 440.5 376.0 444.8Q372.2 444.4 371.5 440.1Z" fill="#53ff19"/>
<path d="M356.9 482.8Q354.2 489.0 348.2 484.9Q350.9 478.7 356.9 482.8Z" fill="#069906" stroke="#011a01" stroke-width="0.7"/>
<path d="M354.3 483.4Q353.0 486.5 350.1 484.4Q351.4 481.3 354.3 483.4Z" fill="#28ff40"/>
<path d="M345.5 458.2Q350.6 454.7 356.8 458.3Q351.7 461.9 345.5 458.2Z" fill="#14ec09" stroke="#011a01" stroke-width="0.7"/>
<path d="M347.9 458.2Q350.4 456.5 353.5 458.3Q350.9 460.1 347.9 458.2Z" fill="#53ff45"/>
<path d="M339.0 456.3Q347.0 459.5 350.2 469.2Q342.2 466.0 339.0 456.3Z" fill="#0ae40e" stroke="#011a01" stroke-width="0.7"/>
<path d="M341.1 459.5Q345.1 461.1 346.7 465.9Q342.7 464.3 341.1 459.5Z" fill="#27ff21"/>
<path d="M367.0 428.6Q368.2 436.1 363.0 443.4Q361.7 435.9 367.0 428.6Z" fill="#13ad0d" stroke="#011a01" stroke-width="0.7"/>
<path d="M365.3 432.3Q366.0 436.0 363.4 439.7Q362.7 436.0 365.3 432.3Z" fill="#28ff28"/>
<path d="M404.7 465.4Q411.9 464.9 418.6 470.3Q411.3 470.8 404.7 465.4Z" fill="#09d110" stroke="#011a01" stroke-width="0.7"/>
<path d="M407.6 466.6Q411.2 466.4 414.5 469.1Q410.9 469.3 407.6 466.6Z" fill="#52ff15"/>
<path d="M403.1 465.1Q399.4 471.3 391.0 471.9Q394.6 465.6 403.1 465.1Z" fill="#06d802" stroke="#011a01" stroke-width="0.7"/>
<path d="M399.5 466.8Q397.7 469.9 393.5 470.1Q395.3 467.0 399.5 466.8Z" fill="#26ff2e"/>
<path d="M371.8 470.1Q378.6 472.4 377.0 480.3Q370.1 478.0 371.8 470.1Z" fill="#068909" stroke="#011a01" stroke-width="0.7"/>
<path d="M372.6 472.7Q376.0 473.8 375.2 477.7Q371.8 476.6 372.6 472.7Z" fill="#14ff13"/>
<path d="M375.8 472.7Q383.1 473.1 388.5 479.7Q381.3 479.3 375.8 472.7Z" fill="#0fa214" stroke="#011a01" stroke-width="0.7"/>
<path d="M378.4 474.5Q382.0 474.6 384.7 478.0Q381.1 477.8 378.4 474.5Z" fill="#51ff32"/>
<path d="M403.5 440.5Q402.0 447.7 393.9 450.7Q395.4 443.5 403.5 440.5Z" fill="#0bc419" stroke="#011a01" stroke-width="0.7"/>
<path d="M400.5 443.1Q399.8 446.7 395.8 448.1Q396.5 444.5 400.5 443.1Z" fill="#49ff4e"/>
<path d="M346.9 452.7Q351.9 455.6 350.1 461.8Q345.1 458.9 346.9 452.7Z" fill="#07ed0a" stroke="#011a01" stroke-width="0.7"/>
<path d="M347.3 455.0Q349.8 456.4 348.9 459.5Q346.4 458.1 347.3 455.0Z" fill="#36ff44"/>
<path d="M347.5 430.0Q347.6 436.8 341.8 442.5Q341.6 435.6 347.5 430.0Z" fill="#0dc20c" stroke="#011a01" stroke-width="0.7"/>
<path d="M345.5 433.1Q345.6 436.5 342.7 439.3Q342.6 435.9 345.5 433.1Z" fill="#34ff3d"/>
<path d="M358.1 439.4Q365.8 441.9 368.9 450.9Q361.2 448.4 358.1 439.4Z" fill="#05dc0d" stroke="#011a01" stroke-width="0.7"/>
<path d="M360.2 442.3Q364.0 443.5 365.5 448.0Q361.7 446.8 360.2 442.3Z" fill="#27ff2f"/>
</g>
<circle cx="380.93" cy="483.32" r="0.86" fill="#1a19ea" stroke="none" stroke-width="1"/>
<circle cx="360.93" cy="475.44" r="1.17" fill="#1c17f2" stroke="none" stroke-width="1"/>
<circle cx="367.87" cy="477.94" r="0.87" fill="#0b21ea" stroke="none" stroke-width="1"/>
<circle cx="338.90" cy="472.36" r="0.89" fill="#121bf1" stroke="none" stroke-width="1"/>
<circle cx="360.44" cy="446.68" r="0.93" fill="#1e05cd" stroke="none" stroke-width="1"/>
<circle cx="367.46" cy="475.32" r="0.93" fill="#0518cc" stroke="none" stroke-width="1"/>
<circle cx="360.24" cy="463.01" r="0.98" fill="#0828d3" stroke="none" stroke-width="1"/>
<circle cx="343.19" cy="452.35" r="0.95" fill="#1d12d0" stroke="none" stroke-width="1"/>
<circle cx="393.97" cy="467.64" r="0.98" fill="#050fe7" stroke="none" stroke-width="1"/>
<circle cx="359.16" cy="436.06" r="1.08" fill="#0620ed" stroke="none" stroke-width="1"/>
<circle cx="388.18" cy="477.02" r="1.10" fill="#1326da" stroke="none" stroke-width="1"/>
<circle cx="357.66" cy="440.27" r="0.88" fill="#1026c6" stroke="none" stroke-width="1"/>
<circle cx="355.68" cy="431.33" r="0.88" fill="#0f29d9" stroke="none" stroke-width="1"/>
<circle cx="381.23" cy="464.78" r="0.91" fill="#122cd3" stroke="none" stroke-width="1"/>
<circle cx="405.86" cy="479.11" r="1.09" fill="#1c16e0" stroke="none" stroke-width="1"/>
<circle cx="373.87" cy="478.10" r="0.82" fill="#151df3" stroke="none" stroke-width="1"/>
<circle cx="339.61" cy="445.46" r="1.16" fill="#1127f1" stroke="none" stroke-width="1"/>
<circle cx="365.51" cy="465.56" r="1.19" fill="#1b17cf" stroke="none" stroke-width="1"/>
<circle cx="405.12" cy="471.15" r="0.96" fill="#0a27ee" stroke="none" stroke-width="1"/>
<circle cx="397.54" cy="482.34" r="0.87" fill="#131fc4" stroke="none" stroke-width="1"/>
<circle cx="410.98" cy="450.37" r="1.18" fill="#1c0ae6" stroke="none" stroke-width="1"/>
<circle cx="402.27" cy="446.56" r="0.99" fill="#1a0df3" stroke="none" stroke-width="1"/>
<circle cx="411.60" cy="474.24" r="1.07" fill="#1c1bd0" stroke="none" stroke-width="1"/>
<circle cx="372.05" cy="478.35" r="1.05" fill="#070ac2" stroke="none" stroke-width="1"/>
<circle cx="379.65" cy="476.29" r="1.09" fill="#0a19d0" stroke="none" stroke-width="1"/>
<circle cx="359.93" cy="484.30" r="1.02" fill="#0c13c3" stroke="none" stroke-width="1"/>
<circle cx="388.89" cy="473.77" r="1.17" fill="#1a1be9" stroke="none" stroke-width="1"/>
<circle cx="363.66" cy="457.40" r="0.91" fill="#0f21f4" stroke="none" stroke-width="1"/>
<circle cx="394.13" cy="468.44" r="0.97" fill="#0712c2" stroke="none" stroke-width="1"/>
<circle cx="385.93" cy="446.40" r="1.00" fill="#1106d3" stroke="none" stroke-width="1"/>
<circle cx="409.05" cy="442.77" r="1.09" fill="#090ce7" stroke="none" stroke-width="1"/>
<circle cx="347.89" cy="477.64" r="1.05" fill="#0a0ae3" stroke="none" stroke-width="1"/>
</g>
<clipPath id="mc3"><rect x="416.50" y="428.00" width="77.2" height="57.2"/></clipPath>
<g clip-path="url(#mc3)">
<rect x="416.50" y="428.00" width="77.20" height="57.20" fill="#000" stroke="none" stroke-width="1"/>
<g filter="url(#gb)">
<path d="M431.4 462.7Q437.9 464.6 441.6 471.7Q435.1 469.8 431.4 462.7Z" fill="#12ae0e" stroke="#011a01" stroke-width="0.7"/>
<path d="M433.4 464.9Q436.7 465.9 438.5 469.4Q435.2 468.5 433.4 464.9Z" fill="#53ff0a"/>
<path d="M425.0 438.6Q430.0 437.6 430.8 443.2Q425.7 444.2 425.0 438.6Z" fill="#00a413" stroke="#011a01" stroke-width="0.7"/>
<path d="M426.1 439.7Q428.6 439.2 429.0 442.0Q426.5 442.5 426.1 439.7Z" fill="#35ff50"/>
<path d="M435.5 448.3Q440.7 450.7 443.0 457.1Q437.8 454.7 435.5 448.3Z" fill="#0bbe02" stroke="#011a01" stroke-width="0.7"/>
<path d="M436.9 450.5Q439.5 451.7 440.6 454.9Q438.0 453.7 436.9 450.5Z" fill="#3eff3e"/>
<path d="M432.5 473.1Q431.7 480.6 423.2 482.6Q424.0 475.0 432.5 473.1Z" fill="#02c913" stroke="#011a01" stroke-width="0.7"/>
<path d="M429.6 475.5Q429.2 479.2 425.0 480.2Q425.4 476.4 429.6 475.5Z" fill="#24ff35"/>
<path d="M494.7 468.6Q492.9 475.6 484.9 478.2Q486.7 471.2 494.7 468.6Z" fill="#128604" stroke="#011a01" stroke-width="0.7"/>
<path d="M491.7 471.0Q490.8 474.5 486.8 475.8Q487.7 472.3 491.7 471.0Z" fill="#13ff3b"/>
<path d="M456.4 445.6Q450.6 450.6 443.0 446.2Q448.8 441.3 456.4 445.6Z" fill="#0faf09" stroke="#011a01" stroke-width="0.7"/>
<path d="M452.5 445.8Q449.6 448.3 445.8 446.1Q448.7 443.6 452.5 445.8Z" fill="#3fff23"/>
<path d="M427.2 462.8Q429.9 466.5 426.6 470.6Q423.9 466.9 427.2 462.8Z" fill="#03a712" stroke="#011a01" stroke-width="0.7"/>
<path d="M426.7 464.8Q428.1 466.6 426.5 468.6Q425.1 466.8 426.7 464.8Z" fill="#4eff3b"/>
<path d="M435.9 449.4Q438.8 453.7 436.2 459.1Q433.3 454.8 435.9 449.4Z" fill="#029409" stroke="#011a01" stroke-width="0.7"/>
<path d="M435.6 451.9Q437.0 454.0 435.7 456.7Q434.3 454.6 435.6 451.9Z" fill="#43ff23"/>
<path d="M436.8 437.3Q437.2 442.2 432.5 445.7Q432.2 440.7 436.8 437.3Z" fill="#01a40d" stroke="#011a01" stroke-width="0.7"/>
<path d="M435.4 439.4Q435.6 441.9 433.2 443.6Q433.0 441.1 435.4 439.4Z" fill="#4cff13"/>
<path d="M482.2 474.4Q480.5 479.0 475.2 477.5Q477.0 472.8 482.2 474.4Z" fill="#09a406" stroke="#011a01" stroke-width="0.7"/>
<path d="M480.2 475.2Q479.3 477.5 476.7 476.7Q477.5 474.4 480.2 475.2Z" fill="#19ff33"/>
<path d="M489.2 468.6Q488.0 475.6 480.6 479.3Q481.8 472.3 489.2 468.6Z" fill="#0f7900" stroke="#011a01" stroke-width="0.7"/>
<path d="M486.5 471.3Q485.9 474.8 482.2 476.6Q482.8 473.1 486.5 471.3Z" fill="#1fff4d"/>
<path d="M429.3 477.7Q430.1 484.0 424.8 489.4Q424.1 483.1 429.3 477.7Z" fill="#099717" stroke="#011a01" stroke-width="0.7"/>
<path d="M427.7 480.6Q428.1 483.8 425.5 486.5Q425.1 483.3 427.7 480.6Z" fill="#41ff0a"/>
<path d="M431.0 463.4Q431.7 467.9 427.4 470.8Q426.7 466.4 431.0 463.4Z" fill="#04ce15" stroke="#011a01" stroke-width="0.7"/>
<path d="M429.8 465.3Q430.1 467.5 428.0 469.0Q427.6 466.7 429.8 465.3Z" fill="#40ff10"/>
<path d="M454.6 457.6Q459.9 455.7 464.3 460.5Q459.0 462.4 454.6 457.6Z" fill="#059b18" stroke="#011a01" stroke-width="0.7"/>
<path d="M456.6 458.4Q459.3 457.4 461.4 459.8Q458.8 460.8 456.6 458.4Z" fill="#38ff3b"/>
<path d="M418.1 480.8Q419.9 485.6 415.4 489.3Q413.6 484.6 418.1 480.8Z" fill="#108f0f" stroke="#011a01" stroke-width="0.7"/>
<path d="M417.0 483.0Q417.9 485.3 415.7 487.2Q414.8 484.8 417.0 483.0Z" fill="#24ff0c"/>
<path d="M419.1 449.0Q424.2 453.1 425.8 460.8Q420.7 456.7 419.1 449.0Z" fill="#058101" stroke="#011a01" stroke-width="0.7"/>
<path d="M420.3 452.0Q422.8 454.0 423.6 457.8Q421.1 455.8 420.3 452.0Z" fill="#29ff26"/>
<path d="M451.7 479.3Q458.0 480.5 457.9 487.6Q451.7 486.4 451.7 479.3Z" fill="#13920c" stroke="#011a01" stroke-width="0.7"/>
<path d="M452.9 481.4Q456.0 482.0 456.0 485.5Q452.9 485.0 452.9 481.4Z" fill="#4cff2e"/>
<path d="M422.4 451.4Q421.9 457.8 415.5 462.0Q416.0 455.5 422.4 451.4Z" fill="#067918" stroke="#011a01" stroke-width="0.7"/>
<path d="M420.2 454.0Q419.9 457.3 416.7 459.3Q417.0 456.1 420.2 454.0Z" fill="#2bff12"/>
<path d="M440.0 441.5Q444.0 438.6 447.9 442.5Q443.9 445.4 440.0 441.5Z" fill="#07ac04" stroke="#011a01" stroke-width="0.7"/>
<path d="M441.7 441.7Q443.6 440.3 445.6 442.2Q443.6 443.7 441.7 441.7Z" fill="#17ff3f"/>
<path d="M451.6 429.2Q449.2 434.4 442.8 436.7Q445.2 431.5 451.6 429.2Z" fill="#0ecb09" stroke="#011a01" stroke-width="0.7"/>
<path d="M448.9 431.1Q447.7 433.7 444.6 434.8Q445.7 432.2 448.9 431.1Z" fill="#32ff2a"/>
<path d="M430.3 451.0Q434.2 454.4 432.1 460.0Q428.2 456.6 430.3 451.0Z" fill="#0d7e09" stroke="#011a01" stroke-width="0.7"/>
<path d="M430.4 453.3Q432.4 455.0 431.3 457.7Q429.3 456.0 430.4 453.3Z" fill="#27ff41"/>
<path d="M423.2 471.9Q429.1 475.1 431.0 482.9Q425.0 479.7 423.2 471.9Z" fill="#078303" stroke="#011a01" stroke-width="0.7"/>
<path d="M424.6 474.7Q427.6 476.3 428.5 480.1Q425.5 478.5 424.6 474.7Z" fill="#12ff24"/>
<path d="M450.8 428.1Q448.3 433.1 442.1 431.7Q444.7 426.7 450.8 428.1Z" fill="#068305" stroke="#011a01" stroke-width="0.7"/>
<path d="M448.3 429.0Q447.0 431.5 443.9 430.8Q445.2 428.3 448.3 429.0Z" fill="#15ff36"/>
<path d="M420.0 471.3Q427.3 470.1 433.0 476.7Q425.6 477.9 420.0 471.3Z" fill="#069d12" stroke="#011a01" stroke-width="0.7"/>
<path d="M422.7 472.6Q426.4 472.0 429.1 475.3Q425.5 475.9 422.7 472.6Z" fill="#4bff32"/>
<path d="M415.4 438.7Q420.2 440.4 418.4 445.7Q413.6 444.0 415.4 438.7Z" fill="#0a830d" stroke="#011a01" stroke-width="0.7"/>
<path d="M415.8 440.5Q418.2 441.3 417.3 443.9Q414.9 443.1 415.8 440.5Z" fill="#45ff3f"/>
<path d="M449.3 472.6Q444.6 477.9 437.0 475.1Q441.7 469.8 449.3 472.6Z" fill="#029c0b" stroke="#011a01" stroke-width="0.7"/>
<path d="M445.7 473.2Q443.4 475.9 439.6 474.5Q441.9 471.8 445.7 473.2Z" fill="#52ff3e"/>
<path d="M461.6 477.9Q459.1 484.0 451.7 483.4Q454.1 477.3 461.6 477.9Z" fill="#08a809" stroke="#011a01" stroke-width="0.7"/>
<path d="M458.6 479.3Q457.4 482.3 453.7 482.0Q454.9 479.0 458.6 479.3Z" fill="#3aff47"/>
<path d="M455.1 470.9Q461.6 471.1 460.3 478.0Q453.9 477.9 455.1 470.9Z" fill="#11ab04" stroke="#011a01" stroke-width="0.7"/>
<path d="M456.1 472.7Q459.3 472.8 458.7 476.2Q455.4 476.2 456.1 472.7Z" fill="#12ff37"/>
<path d="M427.2 426.1Q425.7 432.2 419.2 435.9Q420.7 429.8 427.2 426.1Z" fill="#13b600" stroke="#011a01" stroke-width="0.7"/>
<path d="M424.7 428.5Q423.9 431.6 420.7 433.4Q421.5 430.4 424.7 428.5Z" fill="#5aff34"/>
<path d="M487.7 482.7Q485.9 488.5 479.1 487.7Q480.9 481.8 487.7 482.7Z" fill="#12990d" stroke="#011a01" stroke-width="0.7"/>
<path d="M485.1 483.9Q484.2 486.9 480.8 486.4Q481.7 483.5 485.1 483.9Z" fill="#4cff3b"/>
<path d="M429.0 442.4Q427.3 447.8 420.9 448.9Q422.6 443.5 429.0 442.4Z" fill="#03d114" stroke="#011a01" stroke-width="0.7"/>
<path d="M426.5 444.0Q425.7 446.7 422.5 447.3Q423.3 444.6 426.5 444.0Z" fill="#25ff3c"/>
<path d="M455.4 427.4Q452.3 431.4 447.1 429.0Q450.2 425.0 455.4 427.4Z" fill="#10c503" stroke="#011a01" stroke-width="0.7"/>
<path d="M453.0 427.8Q451.4 429.8 448.8 428.6Q450.4 426.6 453.0 427.8Z" fill="#57ff24"/>
<path d="M439.2 473.3Q439.5 480.1 432.0 480.0Q431.7 473.1 439.2 473.3Z" fill="#14830c" stroke="#011a01" stroke-width="0.7"/>
<path d="M437.0 475.0Q437.1 478.4 433.4 478.3Q433.2 474.9 437.0 475.0Z" fill="#3eff48"/>
<path d="M448.1 438.9Q455.5 439.3 459.7 447.0Q452.2 446.6 448.1 438.9Z" fill="#06b70c" stroke="#011a01" stroke-width="0.7"/>
<path d="M450.4 440.9Q454.1 441.2 456.2 445.0Q452.5 444.8 450.4 440.9Z" fill="#52ff13"/>
<path d="M450.3 452.2Q447.3 457.0 440.7 458.2Q443.7 453.4 450.3 452.2Z" fill="#0ec916" stroke="#011a01" stroke-width="0.7"/>
<path d="M447.4 453.7Q445.9 456.1 442.7 456.7Q444.1 454.3 447.4 453.7Z" fill="#42ff0a"/>
<path d="M430.3 429.4Q435.2 433.4 430.3 438.4Q425.4 434.4 430.3 429.4Z" fill="#069a09" stroke="#011a01" stroke-width="0.7"/>
<path d="M429.9 431.7Q432.4 433.6 430.0 436.1Q427.5 434.1 429.9 431.7Z" fill="#49ff2d"/>
<path d="M455.3 469.5Q460.7 474.2 458.2 482.0Q452.8 477.3 455.3 469.5Z" fill="#0bd315" stroke="#011a01" stroke-width="0.7"/>
<path d="M455.5 472.6Q458.2 475.0 456.9 478.8Q454.3 476.5 455.5 472.6Z" fill="#2eff35"/>
<path d="M430.8 475.3Q428.8 479.7 424.3 476.8Q426.4 472.4 430.8 475.3Z" fill="#08ca05" stroke="#011a01" stroke-width="0.7"/>
<path d="M428.9 475.6Q427.9 477.8 425.7 476.4Q426.7 474.2 428.9 475.6Z" fill="#0fff32"/>
<path d="M432.2 455.7Q436.1 451.9 440.6 456.0Q436.7 459.7 432.2 455.7Z" fill="#04d107" stroke="#011a01" stroke-width="0.7"/>
<path d="M434.0 455.8Q435.9 453.9 438.1 455.9Q436.2 457.8 434.0 455.8Z" fill="#2bff2f"/>
<path d="M453.6 468.2Q453.5 472.6 448.8 474.8Q448.9 470.3 453.6 468.2Z" fill="#0bc900" stroke="#011a01" stroke-width="0.7"/>
<path d="M452.1 469.8Q452.0 472.0 449.7 473.1Q449.7 470.9 452.1 469.8Z" fill="#47ff15"/>
<path d="M453.0 479.5Q450.9 485.1 446.0 481.0Q448.1 475.5 453.0 479.5Z" fill="#0c880e" stroke="#011a01" stroke-width="0.7"/>
<path d="M450.9 479.9Q449.9 482.7 447.5 480.7Q448.5 477.9 450.9 479.9Z" fill="#40ff36"/>
<path d="M481.3 469.5Q483.9 476.1 477.8 481.6Q475.3 475.0 481.3 469.5Z" fill="#03d500" stroke="#011a01" stroke-width="0.7"/>
<path d="M479.9 472.6Q481.2 475.9 478.2 478.5Q476.9 475.2 479.9 472.6Z" fill="#2bff20"/>
<path d="M438.8 430.5Q438.9 436.2 433.9 440.8Q433.8 435.1 438.8 430.5Z" fill="#02d400" stroke="#011a01" stroke-width="0.7"/>
<path d="M437.1 433.1Q437.2 435.9 434.7 438.2Q434.6 435.3 437.1 433.1Z" fill="#0cff17"/>
<path d="M462.2 459.6Q456.3 464.2 447.9 461.8Q453.8 457.2 462.2 459.6Z" fill="#059f06" stroke="#011a01" stroke-width="0.7"/>
<path d="M458.0 460.2Q455.1 462.5 450.9 461.2Q453.8 459.0 458.0 460.2Z" fill="#44ff21"/>
<path d="M436.7 465.0Q442.9 463.0 448.5 467.9Q442.4 469.9 436.7 465.0Z" fill="#0ad303" stroke="#011a01" stroke-width="0.7"/>
<path d="M439.2 465.7Q442.2 464.7 445.1 467.2Q442.0 468.2 439.2 465.7Z" fill="#4fff41"/>
<path d="M480.5 480.9Q480.2 486.9 473.6 487.9Q473.9 481.9 480.5 480.9Z" fill="#03a90d" stroke="#011a01" stroke-width="0.7"/>
<path d="M478.4 482.7Q478.2 485.6 474.9 486.1Q475.1 483.2 478.4 482.7Z" fill="#54ff3d"/>
<path d="M427.2 439.9Q423.4 443.5 418.1 440.8Q421.9 437.2 427.2 439.9Z" fill="#01c60e" stroke="#011a01" stroke-width="0.7"/>
<path d="M424.5 440.1Q422.7 441.9 420.1 440.6Q421.9 438.7 424.5 440.1Z" fill="#2fff12"/>
<path d="M428.7 480.3Q433.6 476.3 436.4 482.5Q431.5 486.5 428.7 480.3Z" fill="#12cd09" stroke="#011a01" stroke-width="0.7"/>
<path d="M430.3 480.8Q432.7 478.9 434.1 481.9Q431.7 483.9 430.3 480.8Z" fill="#2aff24"/>
<path d="M421.0 433.0Q426.2 432.5 429.4 437.7Q424.2 438.2 421.0 433.0Z" fill="#0fcd13" stroke="#011a01" stroke-width="0.7"/>
<path d="M422.7 434.2Q425.3 433.9 426.9 436.5Q424.3 436.8 422.7 434.2Z" fill="#13ff45"/>
<path d="M421.6 466.5Q419.5 471.5 413.8 469.4Q415.9 464.4 421.6 466.5Z" fill="#097b17" stroke="#011a01" stroke-width="0.7"/>
<path d="M419.3 467.2Q418.3 469.7 415.5 468.7Q416.5 466.2 419.3 467.2Z" fill="#42ff1f"/>
<path d="M461.6 465.4Q469.1 464.0 473.3 471.6Q465.7 473.1 461.6 465.4Z" fill="#069a13" stroke="#011a01" stroke-width="0.7"/>
<path d="M464.0 467.0Q467.7 466.3 469.8 470.1Q466.0 470.8 464.0 467.0Z" fill="#2bff45"/>
<path d="M416.1 460.7Q422.6 459.3 425.3 466.3Q418.7 467.7 416.1 460.7Z" fill="#0daa17" stroke="#011a01" stroke-width="0.7"/>
<path d="M418.0 462.1Q421.2 461.4 422.5 464.9Q419.3 465.6 418.0 462.1Z" fill="#32ff2c"/>
<path d="M431.9 439.8Q438.9 440.5 438.9 448.4Q431.9 447.7 431.9 439.8Z" fill="#0a9b14" stroke="#011a01" stroke-width="0.7"/>
<path d="M433.2 442.0Q436.7 442.3 436.7 446.2Q433.2 445.9 433.2 442.0Z" fill="#50ff0e"/>
<path d="M425.6 474.4Q431.6 473.2 432.2 479.8Q426.3 480.9 425.6 474.4Z" fill="#067f0d" stroke="#011a01" stroke-width="0.7"/>
<path d="M426.9 475.7Q429.9 475.1 430.2 478.4Q427.2 479.0 426.9 475.7Z" fill="#4eff2f"/>
<path d="M440.9 430.4Q444.4 434.6 439.2 437.4Q435.7 433.2 440.9 430.4Z" fill="#139806" stroke="#011a01" stroke-width="0.7"/>
<path d="M440.2 432.2Q442.0 434.2 439.4 435.6Q437.6 433.6 440.2 432.2Z" fill="#3bff10"/>
<path d="M444.4 468.6Q448.5 465.2 453.5 468.6Q449.4 472.0 444.4 468.6Z" fill="#0dc010" stroke="#011a01" stroke-width="0.7"/>
<path d="M446.3 468.6Q448.3 466.9 450.8 468.6Q448.8 470.3 446.3 468.6Z" fill="#52ff0b"/>
<path d="M473.1 474.8Q477.6 472.0 483.1 474.8Q478.6 477.6 473.1 474.8Z" fill="#0abf08" stroke="#011a01" stroke-width="0.7"/>
<path d="M475.2 474.8Q477.5 473.4 480.2 474.8Q477.9 476.2 475.2 474.8Z" fill="#31ff13"/>
<path d="M453.7 435.5Q458.6 440.3 459.7 448.4Q454.8 443.6 453.7 435.5Z" fill="#02b211" stroke="#011a01" stroke-width="0.7"/>
<path d="M454.6 438.8Q457.1 441.1 457.6 445.1Q455.2 442.8 454.6 438.8Z" fill="#10ff31"/>
<path d="M477.1 464.9Q478.4 471.7 472.0 476.6Q470.6 469.7 477.1 464.9Z" fill="#06bd02" stroke="#011a01" stroke-width="0.7"/>
<path d="M475.3 467.8Q476.0 471.2 472.8 473.6Q472.1 470.2 475.3 467.8Z" fill="#50ff42"/>
<path d="M490.4 467.3Q493.2 473.7 488.3 480.1Q485.5 473.7 490.4 467.3Z" fill="#0e790f" stroke="#011a01" stroke-width="0.7"/>
<path d="M489.3 470.5Q490.7 473.7 488.3 476.9Q486.9 473.7 489.3 470.5Z" fill="#24ff0a"/>
<path d="M478.1 460.6Q483.5 460.9 481.2 466.2Q475.7 465.9 478.1 460.6Z" fill="#057901" stroke="#011a01" stroke-width="0.7"/>
<path d="M478.6 462.0Q481.3 462.2 480.1 464.8Q477.4 464.7 478.6 462.0Z" fill="#4aff1a"/>
<path d="M446.4 470.2Q451.9 474.3 448.5 481.2Q443.0 477.1 446.4 470.2Z" fill="#099401" stroke="#011a01" stroke-width="0.7"/>
<path d="M446.5 473.0Q449.2 475.0 447.5 478.4Q444.8 476.4 446.5 473.0Z" fill="#54ff43"/>
<path d="M459.1 464.6Q462.9 471.2 456.8 477.2Q453.0 470.7 459.1 464.6Z" fill="#0ed203" stroke="#011a01" stroke-width="0.7"/>
<path d="M458.0 467.8Q459.9 471.1 456.8 474.0Q454.9 470.8 458.0 467.8Z" fill="#2fff3b"/>
<path d="M415.3 445.5Q421.6 443.6 424.3 450.5Q417.9 452.4 415.3 445.5Z" fill="#018e00" stroke="#011a01" stroke-width="0.7"/>
<path d="M417.1 446.8Q420.3 445.8 421.6 449.2Q418.4 450.2 417.1 446.8Z" fill="#48ff2d"/>
<path d="M419.4 444.9Q424.6 449.5 422.4 457.2Q417.2 452.6 419.4 444.9Z" fill="#0fc210" stroke="#011a01" stroke-width="0.7"/>
<path d="M419.6 448.0Q422.2 450.3 421.1 454.1Q418.5 451.8 419.6 448.0Z" fill="#21ff1c"/>
<path d="M417.6 462.0Q423.2 466.1 421.4 474.0Q415.8 469.8 417.6 462.0Z" fill="#008915" stroke="#011a01" stroke-width="0.7"/>
<path d="M418.1 465.0Q420.9 467.1 420.0 471.0Q417.1 468.9 418.1 465.0Z" fill="#35ff4f"/>
<path d="M423.3 478.4Q428.2 483.1 422.9 488.5Q418.1 483.7 423.3 478.4Z" fill="#01aa08" stroke="#011a01" stroke-width="0.7"/>
<path d="M422.8 480.9Q425.3 483.3 422.6 486.0Q420.2 483.6 422.8 480.9Z" fill="#1eff2d"/>
<path d="M438.0 465.4Q434.4 471.6 426.3 474.2Q429.8 468.0 438.0 465.4Z" fill="#149613" stroke="#011a01" stroke-width="0.7"/>
<path d="M434.4 467.6Q432.7 470.7 428.6 472.0Q430.4 468.9 434.4 467.6Z" fill="#3bff37"/>
<path d="M441.2 462.1Q443.0 468.4 437.3 473.5Q435.5 467.1 441.2 462.1Z" fill="#098d11" stroke="#011a01" stroke-width="0.7"/>
<path d="M439.7 464.9Q440.7 468.1 437.8 470.6Q436.9 467.5 439.7 464.9Z" fill="#26ff33"/>
<path d="M436.2 448.5Q438.3 454.3 435.2 461.0Q433.1 455.2 436.2 448.5Z" fill="#0c9605" stroke="#011a01" stroke-width="0.7"/>
<path d="M435.5 451.6Q436.5 454.5 434.9 457.9Q433.9 455.0 435.5 451.6Z" fill="#0fff1a"/>
<path d="M432.4 457.7Q433.8 462.6 428.3 462.7Q426.9 457.8 432.4 457.7Z" fill="#06cd15" stroke="#011a01" stroke-width="0.7"/>
<path d="M431.1 459.0Q431.8 461.4 429.1 461.5Q428.4 459.0 431.1 459.0Z" fill="#59ff45"/>
<path d="M424.7 461.3Q429.1 461.7 430.3 466.6Q425.9 466.3 424.7 461.3Z" fill="#0fd215" stroke="#011a01" stroke-width="0.7"/>
<path d="M425.8 462.6Q428.0 462.8 428.6 465.3Q426.4 465.1 425.8 462.6Z" fill="#2aff0f"/>
<path d="M460.5 468.7Q459.3 474.3 453.3 477.3Q454.5 471.8 460.5 468.7Z" fill="#138015" stroke="#011a01" stroke-width="0.7"/>
<path d="M458.2 470.9Q457.6 473.6 454.7 475.2Q455.3 472.4 458.2 470.9Z" fill="#13ff2c"/>
<path d="M434.3 439.4Q438.0 444.6 436.6 452.0Q432.9 446.8 434.3 439.4Z" fill="#03ce0f" stroke="#011a01" stroke-width="0.7"/>
<path d="M434.4 442.5Q436.2 445.1 435.5 448.8Q433.7 446.2 434.4 442.5Z" fill="#58ff36"/>
<path d="M434.2 462.1Q439.0 465.5 435.1 470.6Q430.3 467.3 434.2 462.1Z" fill="#128f00" stroke="#011a01" stroke-width="0.7"/>
<path d="M434.1 464.3Q436.5 465.9 434.5 468.5Q432.1 466.8 434.1 464.3Z" fill="#55ff1a"/>
<path d="M426.6 443.8Q432.6 439.7 440.0 443.8Q434.0 447.9 426.6 443.8Z" fill="#109709" stroke="#011a01" stroke-width="0.7"/>
<path d="M429.5 443.8Q432.4 441.7 436.1 443.8Q433.1 445.8 429.5 443.8Z" fill="#20ff2f"/>
<path d="M439.1 451.6Q436.5 455.6 431.1 454.8Q433.7 450.8 439.1 451.6Z" fill="#0b9c0d" stroke="#011a01" stroke-width="0.7"/>
<path d="M436.8 452.4Q435.5 454.4 432.8 454.0Q434.1 452.0 436.8 452.4Z" fill="#45ff4e"/>
<path d="M419.8 445.7Q427.0 444.4 430.1 452.0Q422.9 453.4 419.8 445.7Z" fill="#069e02" stroke="#011a01" stroke-width="0.7"/>
<path d="M421.9 447.3Q425.5 446.6 427.0 450.4Q423.4 451.1 421.9 447.3Z" fill="#1fff45"/>
</g>
<circle cx="481.42" cy="463.01" r="0.73" fill="#191af1" stroke="none" stroke-width="1"/>
<circle cx="455.92" cy="482.19" r="0.80" fill="#0b05e3" stroke="none" stroke-width="1"/>
<circle cx="456.51" cy="451.97" r="0.73" fill="#1507c1" stroke="none" stroke-width="1"/>
<circle cx="461.68" cy="468.66" r="0.73" fill="#060ce5" stroke="none" stroke-width="1"/>
<circle cx="472.42" cy="455.23" r="0.72" fill="#120fd9" stroke="none" stroke-width="1"/>
<circle cx="461.11" cy="468.61" r="0.93" fill="#1505c0" stroke="none" stroke-width="1"/>
<circle cx="448.22" cy="467.27" r="0.93" fill="#1d21cf" stroke="none" stroke-width="1"/>
<circle cx="467.72" cy="444.82" r="0.70" fill="#122deb" stroke="none" stroke-width="1"/>
<circle cx="483.17" cy="457.24" r="0.91" fill="#1921da" stroke="none" stroke-width="1"/>
<circle cx="470.22" cy="441.05" r="0.75" fill="#1110d3" stroke="none" stroke-width="1"/>
<circle cx="457.59" cy="454.74" r="0.98" fill="#111ceb" stroke="none" stroke-width="1"/>
<circle cx="482.46" cy="450.39" r="1.00" fill="#1407c5" stroke="none" stroke-width="1"/>
<circle cx="491.68" cy="433.43" r="0.85" fill="#0813f4" stroke="none" stroke-width="1"/>
<circle cx="451.88" cy="452.41" r="0.69" fill="#1612d3" stroke="none" stroke-width="1"/>
<circle cx="455.06" cy="484.95" r="0.78" fill="#0f0cf1" stroke="none" stroke-width="1"/>
<circle cx="463.39" cy="438.26" r="0.99" fill="#161ecb" stroke="none" stroke-width="1"/>
<circle cx="485.48" cy="442.48" r="0.86" fill="#0b19ce" stroke="none" stroke-width="1"/>
<circle cx="450.99" cy="434.31" r="0.70" fill="#0f14bf" stroke="none" stroke-width="1"/>
<circle cx="468.57" cy="434.58" r="0.69" fill="#1e27e7" stroke="none" stroke-width="1"/>
<circle cx="486.59" cy="478.90" r="0.70" fill="#0c10c0" stroke="none" stroke-width="1"/>
<circle cx="479.69" cy="453.44" r="0.70" fill="#160aec" stroke="none" stroke-width="1"/>
<circle cx="466.53" cy="450.23" r="0.75" fill="#161ad8" stroke="none" stroke-width="1"/>
<circle cx="493.26" cy="477.04" r="1.02" fill="#052ac1" stroke="none" stroke-width="1"/>
<circle cx="453.00" cy="445.29" r="0.98" fill="#1e0dee" stroke="none" stroke-width="1"/>
<circle cx="493.40" cy="480.37" r="0.98" fill="#130bdb" stroke="none" stroke-width="1"/>
<circle cx="465.84" cy="448.66" r="0.84" fill="#1724cf" stroke="none" stroke-width="1"/>
<circle cx="474.21" cy="465.80" r="0.70" fill="#1c23db" stroke="none" stroke-width="1"/>
<circle cx="471.01" cy="441.25" r="0.93" fill="#0e22c7" stroke="none" stroke-width="1"/>
<circle cx="486.70" cy="440.96" r="1.02" fill="#1e06d5" stroke="none" stroke-width="1"/>
<circle cx="456.10" cy="439.32" r="0.92" fill="#080ccf" stroke="none" stroke-width="1"/>
<circle cx="463.08" cy="459.20" r="0.93" fill="#0727dd" stroke="none" stroke-width="1"/>
<circle cx="481.61" cy="461.79" r="0.82" fill="#181dd1" stroke="none" stroke-width="1"/>
<circle cx="480.65" cy="435.95" r="0.77" fill="#0a28dc" stroke="none" stroke-width="1"/>
<circle cx="463.05" cy="435.07" r="0.85" fill="#110ed5" stroke="none" stroke-width="1"/>
<circle cx="491.28" cy="443.77" r="0.70" fill="#1510c0" stroke="none" stroke-width="1"/>
<circle cx="469.19" cy="436.90" r="0.79" fill="#1422df" stroke="none" stroke-width="1"/>
<circle cx="474.39" cy="482.66" r="0.83" fill="#160ec7" stroke="none" stroke-width="1"/>
<circle cx="478.97" cy="475.73" r="0.86" fill="#0709c9" stroke="none" stroke-width="1"/>
<circle cx="455.45" cy="463.08" r="0.77" fill="#1918ee" stroke="none" stroke-width="1"/>
<circle cx="456.62" cy="470.06" r="0.73" fill="#062cef" stroke="none" stroke-width="1"/>
<circle cx="484.75" cy="485.04" r="0.80" fill="#0917e3" stroke="none" stroke-width="1"/>
<circle cx="474.59" cy="449.50" r="0.81" fill="#1a0bdb" stroke="none" stroke-width="1"/>
<circle cx="450.36" cy="460.51" r="1.02" fill="#052bf2" stroke="none" stroke-width="1"/>
<circle cx="464.58" cy="438.11" r="0.92" fill="#1c0ec6" stroke="none" stroke-width="1"/>
<circle cx="429.65" cy="472.16" r="0.70" fill="#1721e8" stroke="none" stroke-width="1"/>
<circle cx="490.30" cy="450.66" r="0.74" fill="#111bf5" stroke="none" stroke-width="1"/>
<circle cx="466.00" cy="467.49" r="0.81" fill="#1320e4" stroke="none" stroke-width="1"/>
<circle cx="447.08" cy="461.72" r="0.83" fill="#070cef" stroke="none" stroke-width="1"/>
<circle cx="481.97" cy="445.02" r="0.85" fill="#1807c2" stroke="none" stroke-width="1"/>
<circle cx="461.46" cy="458.97" r="0.85" fill="#1c1df5" stroke="none" stroke-width="1"/>
<circle cx="453.63" cy="446.90" r="1.00" fill="#1b2bda" stroke="none" stroke-width="1"/>
<circle cx="446.03" cy="433.69" r="0.79" fill="#122af1" stroke="none" stroke-width="1"/>
<circle cx="456.24" cy="456.65" r="0.88" fill="#1508ef" stroke="none" stroke-width="1"/>
<circle cx="491.74" cy="475.00" r="0.74" fill="#1206e3" stroke="none" stroke-width="1"/>
<circle cx="428.53" cy="447.76" r="0.73" fill="#1b19d7" stroke="none" stroke-width="1"/>
<circle cx="487.21" cy="435.82" r="0.95" fill="#0d0be9" stroke="none" stroke-width="1"/>
<circle cx="487.72" cy="453.23" r="0.86" fill="#061de8" stroke="none" stroke-width="1"/>
<circle cx="460.62" cy="455.61" r="0.96" fill="#0e08c2" stroke="none" stroke-width="1"/>
<circle cx="447.73" cy="457.65" r="0.90" fill="#151cda" stroke="none" stroke-width="1"/>
<circle cx="473.12" cy="459.93" r="0.88" fill="#1315f0" stroke="none" stroke-width="1"/>
<circle cx="490.70" cy="441.53" r="0.73" fill="#051cd0" stroke="none" stroke-width="1"/>
<circle cx="466.60" cy="474.16" r="0.80" fill="#1b20d7" stroke="none" stroke-width="1"/>
<circle cx="471.65" cy="438.86" r="0.72" fill="#160aec" stroke="none" stroke-width="1"/>
<circle cx="466.30" cy="470.83" r="0.77" fill="#1006c8" stroke="none" stroke-width="1"/>
<circle cx="451.89" cy="460.16" r="0.84" fill="#1a2bc8" stroke="none" stroke-width="1"/>
<circle cx="480.54" cy="463.67" r="0.76" fill="#0d1ecc" stroke="none" stroke-width="1"/>
<circle cx="461.82" cy="437.06" r="0.83" fill="#100dc7" stroke="none" stroke-width="1"/>
<circle cx="472.55" cy="441.80" r="0.78" fill="#1914e6" stroke="none" stroke-width="1"/>
<circle cx="455.86" cy="459.44" r="0.69" fill="#080bcb" stroke="none" stroke-width="1"/>
<circle cx="427.75" cy="428.24" r="0.78" fill="#0e1eec" stroke="none" stroke-width="1"/>
<circle cx="467.91" cy="430.42" r="0.81" fill="#1a1edc" stroke="none" stroke-width="1"/>
<circle cx="467.54" cy="479.42" r="0.96" fill="#1b15f2" stroke="none" stroke-width="1"/>
<circle cx="449.69" cy="429.17" r="0.80" fill="#0f19d0" stroke="none" stroke-width="1"/>
<circle cx="447.41" cy="435.62" r="0.68" fill="#0621ea" stroke="none" stroke-width="1"/>
<circle cx="488.35" cy="434.57" r="0.79" fill="#0f1edc" stroke="none" stroke-width="1"/>
<circle cx="464.90" cy="470.57" r="0.75" fill="#0508da" stroke="none" stroke-width="1"/>
<circle cx="461.54" cy="428.29" r="0.99" fill="#0825cd" stroke="none" stroke-width="1"/>
<circle cx="476.54" cy="435.29" r="0.74" fill="#091ac9" stroke="none" stroke-width="1"/>
<circle cx="472.93" cy="471.08" r="0.81" fill="#120ec4" stroke="none" stroke-width="1"/>
<circle cx="451.55" cy="444.69" r="0.74" fill="#0928e6" stroke="none" stroke-width="1"/>
</g>
<clipPath id="mc4"><rect x="252.70" y="512.00" width="77.2" height="57.2"/></clipPath>
<g clip-path="url(#mc4)">
<rect x="252.70" y="512.00" width="77.20" height="57.20" fill="#000" stroke="none" stroke-width="1"/>
<g filter="url(#gb)">
<path d="M255.8 546.4Q264.5 548.0 266.1 558.0Q257.3 556.4 255.8 546.4Z" fill="#02ba16" stroke="#011a01" stroke-width="0.7"/>
<path d="M257.8 549.3Q262.1 550.1 262.9 555.1Q258.5 554.3 257.8 549.3Z" fill="#13ff17"/>
<path d="M276.7 547.5Q275.8 555.2 268.2 560.5Q269.1 552.7 276.7 547.5Z" fill="#08d316" stroke="#011a01" stroke-width="0.7"/>
<path d="M273.9 550.8Q273.5 554.6 269.7 557.2Q270.1 553.4 273.9 550.8Z" fill="#32ff27"/>
<path d="M287.8 555.0Q284.8 559.4 278.8 557.9Q281.9 553.5 287.8 555.0Z" fill="#02d70c" stroke="#011a01" stroke-width="0.7"/>
<path d="M285.2 555.8Q283.7 558.0 280.7 557.2Q282.2 555.0 285.2 555.8Z" fill="#3cff18"/>
<path d="M272.7 523.0Q281.6 522.5 288.0 530.8Q279.1 531.3 272.7 523.0Z" fill="#11df19" stroke="#011a01" stroke-width="0.7"/>
<path d="M275.8 525.0Q280.3 524.7 283.5 528.8Q279.0 529.1 275.8 525.0Z" fill="#27ff2b"/>
<path d="M290.6 548.1Q296.5 545.6 299.9 551.9Q294.0 554.4 290.6 548.1Z" fill="#0ba512" stroke="#011a01" stroke-width="0.7"/>
<path d="M292.6 549.0Q295.5 547.8 297.2 550.9Q294.2 552.2 292.6 549.0Z" fill="#22ff40"/>
<path d="M277.2 511.8Q283.9 514.6 280.3 521.7Q273.6 518.9 277.2 511.8Z" fill="#04ad09" stroke="#011a01" stroke-width="0.7"/>
<path d="M277.5 514.3Q280.9 515.7 279.1 519.2Q275.7 517.8 277.5 514.3Z" fill="#0bff41"/>
<path d="M333.3 530.9Q333.9 539.4 325.0 543.3Q324.4 534.8 333.3 530.9Z" fill="#14b515" stroke="#011a01" stroke-width="0.7"/>
<path d="M330.6 534.0Q331.0 538.2 326.5 540.2Q326.2 535.9 330.6 534.0Z" fill="#30ff45"/>
<path d="M254.0 543.5Q261.5 542.5 268.6 547.9Q261.1 548.9 254.0 543.5Z" fill="#089e03" stroke="#011a01" stroke-width="0.7"/>
<path d="M257.1 544.6Q260.8 544.1 264.3 546.8Q260.6 547.3 257.1 544.6Z" fill="#16ff0b"/>
<path d="M316.2 538.1Q322.3 538.0 324.2 544.6Q318.1 544.8 316.2 538.1Z" fill="#05cc15" stroke="#011a01" stroke-width="0.7"/>
<path d="M317.8 539.8Q320.9 539.7 321.8 543.0Q318.8 543.1 317.8 539.8Z" fill="#1fff0d"/>
<path d="M309.9 539.3Q315.3 535.6 318.8 541.9Q313.4 545.6 309.9 539.3Z" fill="#10a507" stroke="#011a01" stroke-width="0.7"/>
<path d="M311.7 540.0Q314.4 538.1 316.2 541.3Q313.5 543.1 311.7 540.0Z" fill="#0aff1e"/>
<path d="M275.0 505.4Q277.3 513.0 273.7 521.8Q271.4 514.2 275.0 505.4Z" fill="#07f40f" stroke="#011a01" stroke-width="0.7"/>
<path d="M274.0 509.5Q275.2 513.3 273.4 517.7Q272.2 513.9 274.0 509.5Z" fill="#12ff4f"/>
<path d="M258.8 531.6Q263.9 538.1 261.0 547.3Q255.8 540.9 258.8 531.6Z" fill="#11bb07" stroke="#011a01" stroke-width="0.7"/>
<path d="M258.7 535.6Q261.3 538.8 259.8 543.4Q257.2 540.2 258.7 535.6Z" fill="#57ff40"/>
<path d="M289.5 529.6Q292.9 536.0 290.7 544.4Q287.3 538.0 289.5 529.6Z" fill="#03ba0e" stroke="#011a01" stroke-width="0.7"/>
<path d="M289.2 533.3Q290.9 536.5 289.8 540.7Q288.1 537.5 289.2 533.3Z" fill="#3bff23"/>
<path d="M262.5 557.4Q271.3 558.6 279.4 565.6Q270.6 564.4 262.5 557.4Z" fill="#00f20a" stroke="#011a01" stroke-width="0.7"/>
<path d="M266.0 559.5Q270.4 560.1 274.4 563.5Q270.0 563.0 266.0 559.5Z" fill="#12ff23"/>
<path d="M311.1 544.0Q308.2 549.3 302.9 545.4Q305.8 540.1 311.1 544.0Z" fill="#01960b" stroke="#011a01" stroke-width="0.7"/>
<path d="M308.7 544.3Q307.3 547.0 304.6 545.0Q306.1 542.4 308.7 544.3Z" fill="#4cff49"/>
<path d="M280.4 526.5Q288.9 527.7 290.3 537.2Q281.8 536.1 280.4 526.5Z" fill="#07ad0e" stroke="#011a01" stroke-width="0.7"/>
<path d="M282.3 529.2Q286.5 529.8 287.2 534.5Q283.0 534.0 282.3 529.2Z" fill="#40ff24"/>
<path d="M270.8 517.3Q278.4 519.5 281.3 528.3Q273.7 526.1 270.8 517.3Z" fill="#108c0e" stroke="#011a01" stroke-width="0.7"/>
<path d="M272.8 520.1Q276.6 521.1 278.0 525.5Q274.2 524.5 272.8 520.1Z" fill="#44ff2d"/>
<path d="M284.2 508.4Q288.2 514.9 281.1 519.6Q277.1 513.1 284.2 508.4Z" fill="#0da907" stroke="#011a01" stroke-width="0.7"/>
<path d="M283.0 511.2Q285.0 514.5 281.4 516.8Q279.4 513.5 283.0 511.2Z" fill="#3bff2e"/>
<path d="M268.5 564.9Q274.3 562.2 280.6 566.2Q274.8 568.9 268.5 564.9Z" fill="#139e02" stroke="#011a01" stroke-width="0.7"/>
<path d="M271.0 565.2Q273.9 563.9 277.0 565.9Q274.1 567.2 271.0 565.2Z" fill="#2eff29"/>
<path d="M260.4 519.4Q267.5 519.4 267.6 527.3Q260.5 527.3 260.4 519.4Z" fill="#0da119" stroke="#011a01" stroke-width="0.7"/>
<path d="M261.8 521.4Q265.3 521.4 265.3 525.3Q261.8 525.4 261.8 521.4Z" fill="#36ff40"/>
<path d="M278.7 540.2Q274.9 548.5 265.1 552.8Q268.9 544.6 278.7 540.2Z" fill="#09c60c" stroke="#011a01" stroke-width="0.7"/>
<path d="M274.5 543.4Q272.7 547.5 267.8 549.7Q269.6 545.6 274.5 543.4Z" fill="#49ff29"/>
<path d="M286.5 539.0Q285.5 547.5 275.8 549.2Q276.9 540.7 286.5 539.0Z" fill="#08dc14" stroke="#011a01" stroke-width="0.7"/>
<path d="M283.2 541.6Q282.7 545.8 277.9 546.6Q278.4 542.4 283.2 541.6Z" fill="#38ff49"/>
<path d="M298.0 559.4Q293.0 563.8 285.8 560.9Q290.9 556.5 298.0 559.4Z" fill="#109408" stroke="#011a01" stroke-width="0.7"/>
<path d="M294.5 559.7Q292.0 561.9 288.4 560.5Q290.9 558.3 294.5 559.7Z" fill="#2aff2b"/>
<path d="M296.9 550.8Q300.1 557.6 292.8 561.7Q289.6 554.9 296.9 550.8Z" fill="#07b115" stroke="#011a01" stroke-width="0.7"/>
<path d="M295.4 553.5Q297.0 556.9 293.4 559.0Q291.8 555.6 295.4 553.5Z" fill="#55ff40"/>
<path d="M267.2 560.5Q274.0 562.5 276.3 570.3Q269.6 568.3 267.2 560.5Z" fill="#05e719" stroke="#011a01" stroke-width="0.7"/>
<path d="M269.0 563.0Q272.4 563.9 273.5 567.8Q270.2 566.9 269.0 563.0Z" fill="#58ff3d"/>
<path d="M255.2 517.7Q262.3 520.8 266.2 529.3Q259.0 526.1 255.2 517.7Z" fill="#07ba16" stroke="#011a01" stroke-width="0.7"/>
<path d="M257.3 520.6Q260.8 522.2 262.8 526.3Q259.2 524.8 257.3 520.6Z" fill="#2aff2f"/>
<path d="M282.9 538.7Q290.4 539.3 291.5 547.6Q284.1 547.1 282.9 538.7Z" fill="#14900f" stroke="#011a01" stroke-width="0.7"/>
<path d="M284.6 540.9Q288.3 541.2 288.9 545.4Q285.2 545.1 284.6 540.9Z" fill="#14ff24"/>
<path d="M276.9 534.2Q282.2 533.2 285.4 538.4Q280.1 539.4 276.9 534.2Z" fill="#089d0b" stroke="#011a01" stroke-width="0.7"/>
<path d="M278.6 535.3Q281.3 534.7 282.9 537.4Q280.3 537.9 278.6 535.3Z" fill="#18ff21"/>
<path d="M312.2 513.4Q312.0 521.1 305.2 527.4Q305.4 519.6 312.2 513.4Z" fill="#059d03" stroke="#011a01" stroke-width="0.7"/>
<path d="M309.8 516.9Q309.7 520.8 306.3 523.9Q306.4 520.0 309.8 516.9Z" fill="#37ff19"/>
<path d="M305.1 523.0Q308.1 532.1 301.7 541.4Q298.7 532.3 305.1 523.0Z" fill="#11ef19" stroke="#011a01" stroke-width="0.7"/>
<path d="M303.5 527.7Q305.0 532.2 301.8 536.8Q300.3 532.3 303.5 527.7Z" fill="#3eff47"/>
<path d="M261.7 534.1Q257.7 539.1 250.8 536.4Q254.9 531.4 261.7 534.1Z" fill="#05a508" stroke="#011a01" stroke-width="0.7"/>
<path d="M258.5 534.7Q256.5 537.2 253.1 535.8Q255.1 533.3 258.5 534.7Z" fill="#0cff0e"/>
<path d="M320.4 507.7Q324.9 515.5 318.3 523.4Q313.9 515.6 320.4 507.7Z" fill="#05dc0d" stroke="#011a01" stroke-width="0.7"/>
<path d="M319.3 511.7Q321.5 515.5 318.2 519.4Q316.0 515.6 319.3 511.7Z" fill="#4eff0c"/>
<path d="M266.1 559.1Q262.9 566.5 254.2 564.1Q257.4 556.7 266.1 559.1Z" fill="#06b001" stroke="#011a01" stroke-width="0.7"/>
<path d="M262.6 560.3Q261.0 564.0 256.7 562.8Q258.3 559.1 262.6 560.3Z" fill="#1cff1d"/>
<path d="M314.1 561.6Q320.5 562.0 319.2 568.9Q312.8 568.5 314.1 561.6Z" fill="#09ae03" stroke="#011a01" stroke-width="0.7"/>
<path d="M315.1 563.5Q318.3 563.6 317.6 567.1Q314.4 566.9 315.1 563.5Z" fill="#38ff2c"/>
<path d="M262.0 526.4Q265.6 532.6 264.3 541.0Q260.7 534.8 262.0 526.4Z" fill="#13a807" stroke="#011a01" stroke-width="0.7"/>
<path d="M262.0 530.1Q263.8 533.1 263.1 537.3Q261.3 534.3 262.0 530.1Z" fill="#40ff20"/>
<path d="M320.3 539.7Q314.3 543.7 306.2 541.0Q312.2 536.9 320.3 539.7Z" fill="#079419" stroke="#011a01" stroke-width="0.7"/>
<path d="M316.2 540.0Q313.2 542.0 309.2 540.6Q312.2 538.6 316.2 540.0Z" fill="#56ff2e"/>
<path d="M279.6 550.9Q272.7 553.5 264.1 551.0Q271.1 548.4 279.6 550.9Z" fill="#098a10" stroke="#011a01" stroke-width="0.7"/>
<path d="M275.1 550.9Q271.6 552.2 267.4 551.0Q270.8 549.7 275.1 550.9Z" fill="#4dff0b"/>
<path d="M279.2 564.5Q274.1 572.9 262.5 572.7Q267.7 564.2 279.2 564.5Z" fill="#0ca310" stroke="#011a01" stroke-width="0.7"/>
<path d="M274.3 566.5Q271.7 570.8 266.0 570.6Q268.5 566.4 274.3 566.5Z" fill="#4cff24"/>
<path d="M277.4 536.9Q283.3 532.0 289.4 538.0Q283.5 543.0 277.4 536.9Z" fill="#099118" stroke="#011a01" stroke-width="0.7"/>
<path d="M280.0 537.2Q282.9 534.7 285.9 537.8Q283.0 540.2 280.0 537.2Z" fill="#17ff2c"/>
<path d="M271.8 565.8Q264.6 571.3 254.7 567.6Q261.9 562.1 271.8 565.8Z" fill="#07d817" stroke="#011a01" stroke-width="0.7"/>
<path d="M266.8 566.3Q263.2 569.0 258.3 567.1Q261.9 564.4 266.8 566.3Z" fill="#1dff2e"/>
<path d="M286.7 558.4Q293.6 554.4 299.5 561.2Q292.6 565.1 286.7 558.4Z" fill="#05cd16" stroke="#011a01" stroke-width="0.7"/>
<path d="M289.4 559.1Q292.9 557.1 295.8 560.5Q292.3 562.5 289.4 559.1Z" fill="#0dff39"/>
<path d="M291.1 537.8Q290.3 546.4 281.9 552.2Q282.8 543.6 291.1 537.8Z" fill="#09ae01" stroke="#011a01" stroke-width="0.7"/>
<path d="M288.1 541.4Q287.7 545.7 283.6 548.6Q284.0 544.3 288.1 541.4Z" fill="#20ff46"/>
<path d="M332.1 533.8Q329.0 538.2 322.7 538.1Q325.8 533.8 332.1 533.8Z" fill="#06c611" stroke="#011a01" stroke-width="0.7"/>
<path d="M329.3 534.9Q327.8 537.1 324.7 537.0Q326.2 534.9 329.3 534.9Z" fill="#1aff50"/>
<path d="M284.1 529.7Q290.8 531.5 294.8 538.7Q288.1 536.9 284.1 529.7Z" fill="#04b618" stroke="#011a01" stroke-width="0.7"/>
<path d="M286.2 532.0Q289.6 532.8 291.5 536.4Q288.2 535.5 286.2 532.0Z" fill="#49ff1a"/>
<path d="M262.3 524.1Q271.0 523.2 279.5 529.1Q270.8 530.0 262.3 524.1Z" fill="#05e705" stroke="#011a01" stroke-width="0.7"/>
<path d="M265.9 525.4Q270.2 524.9 274.4 527.8Q270.1 528.3 265.9 525.4Z" fill="#11ff33"/>
<path d="M321.9 540.4Q323.7 546.1 317.3 547.4Q315.5 541.7 321.9 540.4Z" fill="#05e203" stroke="#011a01" stroke-width="0.7"/>
<path d="M320.4 542.2Q321.3 545.0 318.1 545.7Q317.2 542.8 320.4 542.2Z" fill="#42ff49"/>
<path d="M307.3 551.7Q305.6 558.1 298.4 561.0Q300.1 554.5 307.3 551.7Z" fill="#02d808" stroke="#011a01" stroke-width="0.7"/>
<path d="M304.6 554.0Q303.7 557.2 300.1 558.6Q300.9 555.4 304.6 554.0Z" fill="#2fff11"/>
<path d="M303.8 548.1Q304.3 553.9 298.1 556.5Q297.6 550.6 303.8 548.1Z" fill="#0d8f11" stroke="#011a01" stroke-width="0.7"/>
<path d="M302.0 550.2Q302.2 553.1 299.1 554.3Q298.9 551.4 302.0 550.2Z" fill="#27ff37"/>
<path d="M279.3 540.5Q286.4 543.6 285.5 552.4Q278.4 549.3 279.3 540.5Z" fill="#0dca0d" stroke="#011a01" stroke-width="0.7"/>
<path d="M280.3 543.5Q283.9 545.0 283.4 549.4Q279.8 547.9 280.3 543.5Z" fill="#50ff49"/>
<path d="M293.6 554.1Q294.2 560.2 288.7 564.7Q288.1 558.6 293.6 554.1Z" fill="#089915" stroke="#011a01" stroke-width="0.7"/>
<path d="M291.9 556.8Q292.2 559.8 289.5 562.0Q289.1 559.0 291.9 556.8Z" fill="#17ff44"/>
<path d="M263.6 555.4Q268.4 561.0 262.4 566.6Q257.6 561.0 263.6 555.4Z" fill="#0aa904" stroke="#011a01" stroke-width="0.7"/>
<path d="M262.8 558.3Q265.2 561.0 262.2 563.8Q259.8 561.0 262.8 558.3Z" fill="#46ff21"/>
<path d="M267.9 534.6Q268.6 542.8 261.3 549.0Q260.6 540.9 267.9 534.6Z" fill="#01f40d" stroke="#011a01" stroke-width="0.7"/>
<path d="M265.6 538.2Q266.0 542.3 262.3 545.4Q262.0 541.3 265.6 538.2Z" fill="#1aff1d"/>
<path d="M276.2 566.5Q281.1 561.8 286.2 567.2Q281.3 571.9 276.2 566.5Z" fill="#01d216" stroke="#011a01" stroke-width="0.7"/>
<path d="M278.3 566.7Q280.7 564.3 283.3 567.1Q280.8 569.4 278.3 566.7Z" fill="#49ff18"/>
<path d="M296.4 514.4Q293.6 519.8 287.3 517.2Q290.1 511.8 296.4 514.4Z" fill="#049215" stroke="#011a01" stroke-width="0.7"/>
<path d="M293.7 515.1Q292.3 517.8 289.2 516.5Q290.6 513.8 293.7 515.1Z" fill="#2aff0a"/>
<path d="M273.5 529.0Q280.2 532.4 279.6 541.1Q272.9 537.6 273.5 529.0Z" fill="#0fb519" stroke="#011a01" stroke-width="0.7"/>
<path d="M274.5 532.1Q277.9 533.7 277.6 538.0Q274.2 536.3 274.5 532.1Z" fill="#42ff28"/>
<path d="M285.9 556.9Q282.4 563.5 273.8 564.7Q277.2 558.1 285.9 556.9Z" fill="#139804" stroke="#011a01" stroke-width="0.7"/>
<path d="M282.3 558.9Q280.5 562.2 276.2 562.7Q278.0 559.5 282.3 558.9Z" fill="#43ff49"/>
<path d="M333.8 535.4Q331.3 539.9 325.9 538.0Q328.3 533.5 333.8 535.4Z" fill="#12b001" stroke="#011a01" stroke-width="0.7"/>
<path d="M331.4 536.1Q330.2 538.3 327.5 537.4Q328.7 535.1 331.4 536.1Z" fill="#19ff3e"/>
<path d="M273.6 519.5Q268.1 525.6 258.4 527.3Q263.9 521.2 273.6 519.5Z" fill="#0ce318" stroke="#011a01" stroke-width="0.7"/>
<path d="M269.1 521.4Q266.3 524.5 261.5 525.3Q264.2 522.3 269.1 521.4Z" fill="#38ff3f"/>
<path d="M275.8 529.4Q272.6 535.9 264.5 539.0Q267.7 532.5 275.8 529.4Z" fill="#069e12" stroke="#011a01" stroke-width="0.7"/>
<path d="M272.4 531.8Q270.8 535.1 266.8 536.6Q268.3 533.3 272.4 531.8Z" fill="#24ff20"/>
<path d="M293.7 551.6Q288.7 558.0 279.4 560.5Q284.4 554.1 293.7 551.6Z" fill="#0ca206" stroke="#011a01" stroke-width="0.7"/>
<path d="M289.4 553.9Q287.0 557.0 282.4 558.3Q284.8 555.1 289.4 553.9Z" fill="#50ff4d"/>
<path d="M317.0 518.5Q319.3 525.5 315.2 533.2Q312.8 526.2 317.0 518.5Z" fill="#14ec03" stroke="#011a01" stroke-width="0.7"/>
<path d="M315.9 522.2Q317.1 525.7 315.0 529.5Q313.8 526.0 315.9 522.2Z" fill="#17ff43"/>
<path d="M317.2 530.6Q312.6 536.0 304.3 536.5Q308.9 531.2 317.2 530.6Z" fill="#02d60d" stroke="#011a01" stroke-width="0.7"/>
<path d="M313.4 532.1Q311.1 534.8 307.0 535.0Q309.2 532.4 313.4 532.1Z" fill="#45ff28"/>
<path d="M296.7 558.2Q302.0 554.7 305.4 560.8Q300.1 564.3 296.7 558.2Z" fill="#12a50d" stroke="#011a01" stroke-width="0.7"/>
<path d="M298.6 558.9Q301.2 557.1 302.8 560.1Q300.2 561.9 298.6 558.9Z" fill="#2dff1f"/>
<path d="M294.9 516.1Q298.5 524.0 296.4 534.3Q292.9 526.4 294.9 516.1Z" fill="#099f0d" stroke="#011a01" stroke-width="0.7"/>
<path d="M294.5 520.7Q296.3 524.6 295.3 529.7Q293.5 525.8 294.5 520.7Z" fill="#3eff47"/>
<path d="M293.4 533.7Q289.9 538.6 284.7 534.5Q288.2 529.5 293.4 533.7Z" fill="#14d303" stroke="#011a01" stroke-width="0.7"/>
<path d="M290.9 533.9Q289.1 536.4 286.5 534.3Q288.3 531.8 290.9 533.9Z" fill="#11ff47"/>
<path d="M279.7 557.5Q283.9 562.3 281.4 569.3Q277.3 564.5 279.7 557.5Z" fill="#08a117" stroke="#011a01" stroke-width="0.7"/>
<path d="M279.7 560.5Q281.7 562.9 280.5 566.3Q278.4 563.9 279.7 560.5Z" fill="#42ff0e"/>
<path d="M326.6 549.0Q330.3 555.4 329.0 564.1Q325.3 557.7 326.6 549.0Z" fill="#09bd14" stroke="#011a01" stroke-width="0.7"/>
<path d="M326.6 552.8Q328.5 556.0 327.8 560.3Q325.9 557.2 326.6 552.8Z" fill="#19ff2d"/>
<path d="M248.0 513.6Q254.3 512.2 259.7 517.5Q253.4 518.9 248.0 513.6Z" fill="#119d06" stroke="#011a01" stroke-width="0.7"/>
<path d="M250.4 514.6Q253.6 513.9 256.3 516.5Q253.1 517.2 250.4 514.6Z" fill="#21ff2d"/>
<path d="M290.1 547.7Q297.2 554.6 294.3 565.8Q287.2 558.9 290.1 547.7Z" fill="#00c412" stroke="#011a01" stroke-width="0.7"/>
<path d="M290.4 552.3Q294.0 555.7 292.5 561.2Q288.9 557.8 290.4 552.3Z" fill="#40ff42"/>
<path d="M272.0 563.7Q268.9 569.9 261.0 570.5Q264.0 564.4 272.0 563.7Z" fill="#0f9307" stroke="#011a01" stroke-width="0.7"/>
<path d="M268.7 565.4Q267.2 568.5 263.2 568.8Q264.7 565.7 268.7 565.4Z" fill="#51ff31"/>
<path d="M288.7 562.8Q297.6 561.3 302.9 570.2Q294.0 571.7 288.7 562.8Z" fill="#13d016" stroke="#011a01" stroke-width="0.7"/>
<path d="M291.6 564.6Q296.1 563.9 298.7 568.3Q294.2 569.1 291.6 564.6Z" fill="#2dff34"/>
<path d="M319.8 537.4Q327.4 539.9 331.3 548.5Q323.7 546.0 319.8 537.4Z" fill="#01c909" stroke="#011a01" stroke-width="0.7"/>
<path d="M322.0 540.2Q325.8 541.4 327.7 545.7Q324.0 544.5 322.0 540.2Z" fill="#50ff1d"/>
<path d="M268.7 515.2Q276.9 518.9 282.5 528.3Q274.3 524.5 268.7 515.2Z" fill="#09ed02" stroke="#011a01" stroke-width="0.7"/>
<path d="M271.4 518.5Q275.5 520.3 278.3 525.0Q274.2 523.1 271.4 518.5Z" fill="#0bff3e"/>
<path d="M297.7 520.2Q303.5 520.9 305.5 527.2Q299.8 526.5 297.7 520.2Z" fill="#10b517" stroke="#011a01" stroke-width="0.7"/>
<path d="M299.3 522.0Q302.1 522.3 303.1 525.5Q300.3 525.1 299.3 522.0Z" fill="#50ff47"/>
<path d="M260.9 551.9Q255.3 557.4 246.1 556.8Q251.7 551.2 260.9 551.9Z" fill="#00d800" stroke="#011a01" stroke-width="0.7"/>
<path d="M256.5 553.1Q253.8 555.9 249.2 555.5Q252.0 552.8 256.5 553.1Z" fill="#4eff4d"/>
<path d="M303.8 519.2Q298.5 526.8 288.0 529.9Q293.3 522.4 303.8 519.2Z" fill="#08cd09" stroke="#011a01" stroke-width="0.7"/>
<path d="M299.0 521.9Q296.4 525.7 291.2 527.2Q293.8 523.5 299.0 521.9Z" fill="#3cff4f"/>
<path d="M315.8 503.3Q319.6 511.3 315.7 521.0Q311.9 513.0 315.8 503.3Z" fill="#039e13" stroke="#011a01" stroke-width="0.7"/>
<path d="M315.1 507.8Q317.0 511.7 315.0 516.6Q313.1 512.6 315.1 507.8Z" fill="#4eff29"/>
<path d="M330.8 535.9Q327.2 540.2 320.6 539.7Q324.3 535.5 330.8 535.9Z" fill="#0fd403" stroke="#011a01" stroke-width="0.7"/>
<path d="M327.8 536.9Q326.0 539.0 322.8 538.8Q324.6 536.7 327.8 536.9Z" fill="#2aff27"/>
<path d="M295.3 551.1Q289.7 558.0 280.3 554.2Q286.0 547.4 295.3 551.1Z" fill="#0cab04" stroke="#011a01" stroke-width="0.7"/>
<path d="M290.9 551.9Q288.1 555.3 283.5 553.4Q286.3 550.0 290.9 551.9Z" fill="#1aff2d"/>
<path d="M316.4 537.4Q325.4 537.3 333.5 544.4Q324.5 544.5 316.4 537.4Z" fill="#07bf0f" stroke="#011a01" stroke-width="0.7"/>
<path d="M320.0 539.1Q324.5 539.1 328.4 542.6Q324.0 542.7 320.0 539.1Z" fill="#3aff43"/>
<path d="M299.8 504.3Q305.3 511.9 304.3 522.9Q298.8 515.4 299.8 504.3Z" fill="#06a804" stroke="#011a01" stroke-width="0.7"/>
<path d="M300.2 509.0Q302.9 512.7 302.4 518.2Q299.7 514.5 300.2 509.0Z" fill="#2fff44"/>
<path d="M268.1 530.2Q274.7 525.4 282.2 530.8Q275.6 535.5 268.1 530.2Z" fill="#14e708" stroke="#011a01" stroke-width="0.7"/>
<path d="M271.1 530.3Q274.3 527.9 278.1 530.6Q274.8 533.0 271.1 530.3Z" fill="#1eff0f"/>
<path d="M277.5 516.8Q282.9 524.5 280.8 535.4Q275.5 527.7 277.5 516.8Z" fill="#0de408" stroke="#011a01" stroke-width="0.7"/>
<path d="M277.6 521.5Q280.3 525.3 279.3 530.7Q276.6 526.9 277.6 521.5Z" fill="#47ff47"/>
<path d="M320.5 529.9Q327.2 530.9 329.6 538.4Q322.9 537.4 320.5 529.9Z" fill="#0eba17" stroke="#011a01" stroke-width="0.7"/>
<path d="M322.3 532.0Q325.6 532.5 326.8 536.2Q323.5 535.7 322.3 532.0Z" fill="#47ff1d"/>
<path d="M312.2 523.8Q310.5 531.2 301.9 533.1Q303.6 525.7 312.2 523.8Z" fill="#08eb05" stroke="#011a01" stroke-width="0.7"/>
<path d="M309.0 526.1Q308.2 529.8 303.9 530.7Q304.8 527.0 309.0 526.1Z" fill="#42ff34"/>
<path d="M319.1 537.7Q311.8 544.7 300.6 541.4Q307.8 534.3 319.1 537.7Z" fill="#00cf16" stroke="#011a01" stroke-width="0.7"/>
<path d="M313.7 538.6Q310.1 542.1 304.5 540.4Q308.1 536.9 313.7 538.6Z" fill="#54ff30"/>
<path d="M307.3 531.9Q313.0 536.9 308.3 544.1Q302.7 539.0 307.3 531.9Z" fill="#01a219" stroke="#011a01" stroke-width="0.7"/>
<path d="M307.1 535.0Q309.9 537.5 307.6 541.0Q304.8 538.5 307.1 535.0Z" fill="#43ff0d"/>
<path d="M314.5 529.6Q312.8 535.4 306.4 538.8Q308.1 532.9 314.5 529.6Z" fill="#01e112" stroke="#011a01" stroke-width="0.7"/>
<path d="M312.0 531.9Q311.1 534.8 308.0 536.4Q308.8 533.5 312.0 531.9Z" fill="#55ff34"/>
<path d="M283.1 538.8Q276.8 545.2 267.0 541.7Q273.4 535.4 283.1 538.8Z" fill="#00e717" stroke="#011a01" stroke-width="0.7"/>
<path d="M278.4 539.6Q275.3 542.7 270.4 541.0Q273.6 537.8 278.4 539.6Z" fill="#50ff2d"/>
<path d="M301.4 516.4Q306.3 523.7 306.5 534.3Q301.5 527.0 301.4 516.4Z" fill="#00e617" stroke="#011a01" stroke-width="0.7"/>
<path d="M301.9 520.9Q304.4 524.5 304.4 529.8Q302.0 526.1 301.9 520.9Z" fill="#40ff44"/>
<path d="M317.8 556.4Q326.2 555.5 330.4 564.3Q322.0 565.2 317.8 556.4Z" fill="#0a9b11" stroke="#011a01" stroke-width="0.7"/>
<path d="M320.4 558.4Q324.6 557.9 326.6 562.3Q322.4 562.8 320.4 558.4Z" fill="#34ff25"/>
<path d="M250.9 521.0Q257.5 526.8 260.6 536.9Q253.9 531.2 250.9 521.0Z" fill="#04bd03" stroke="#011a01" stroke-width="0.7"/>
<path d="M252.6 525.0Q255.9 527.9 257.4 532.9Q254.1 530.1 252.6 525.0Z" fill="#2eff2f"/>
<path d="M283.3 521.4Q291.8 520.7 300.6 526.2Q292.0 526.8 283.3 521.4Z" fill="#0ecb13" stroke="#011a01" stroke-width="0.7"/>
<path d="M286.9 522.6Q291.2 522.3 295.5 525.0Q291.3 525.3 286.9 522.6Z" fill="#32ff3c"/>
<path d="M334.6 510.7Q331.6 516.1 324.8 514.6Q327.8 509.3 334.6 510.7Z" fill="#14d109" stroke="#011a01" stroke-width="0.7"/>
<path d="M331.7 511.7Q330.2 514.4 326.8 513.7Q328.3 511.0 331.7 511.7Z" fill="#3dff23"/>
<path d="M286.0 540.3Q281.6 548.0 271.2 549.0Q275.6 541.2 286.0 540.3Z" fill="#08d910" stroke="#011a01" stroke-width="0.7"/>
<path d="M281.6 542.5Q279.4 546.3 274.2 546.8Q276.4 542.9 281.6 542.5Z" fill="#3bff11"/>
<path d="M249.8 542.6Q254.0 537.8 258.1 543.3Q254.0 548.2 249.8 542.6Z" fill="#09b606" stroke="#011a01" stroke-width="0.7"/>
<path d="M251.6 542.8Q253.6 540.4 255.7 543.1Q253.6 545.6 251.6 542.8Z" fill="#4bff25"/>
<path d="M263.2 529.7Q262.7 537.0 256.8 543.4Q257.3 536.1 263.2 529.7Z" fill="#0b8e03" stroke="#011a01" stroke-width="0.7"/>
<path d="M261.0 533.1Q260.7 536.8 257.8 539.9Q258.1 536.3 261.0 533.1Z" fill="#26ff24"/>
<path d="M264.3 528.3Q263.4 534.4 256.9 532.7Q257.8 526.6 264.3 528.3Z" fill="#119d14" stroke="#011a01" stroke-width="0.7"/>
<path d="M262.1 529.4Q261.7 532.5 258.5 531.6Q258.9 528.5 262.1 529.4Z" fill="#32ff3a"/>
<path d="M316.7 527.5Q315.6 534.8 307.5 533.4Q308.7 526.1 316.7 527.5Z" fill="#12b208" stroke="#011a01" stroke-width="0.7"/>
<path d="M314.0 529.0Q313.4 532.6 309.4 531.9Q310.0 528.3 314.0 529.0Z" fill="#33ff4b"/>
<path d="M334.5 530.1Q331.1 538.8 320.4 541.4Q323.9 532.7 334.5 530.1Z" fill="#0ba012" stroke="#011a01" stroke-width="0.7"/>
<path d="M330.3 532.9Q328.6 537.3 323.2 538.5Q325.0 534.2 330.3 532.9Z" fill="#3bff2a"/>
<path d="M291.8 550.0Q295.6 555.9 292.7 563.7Q288.9 557.8 291.8 550.0Z" fill="#0fd410" stroke="#011a01" stroke-width="0.7"/>
<path d="M291.4 553.4Q293.4 556.4 291.9 560.3Q290.0 557.3 291.4 553.4Z" fill="#0eff43"/>
<path d="M260.6 546.9Q258.2 552.7 251.1 554.1Q253.5 548.4 260.6 546.9Z" fill="#0b9904" stroke="#011a01" stroke-width="0.7"/>
<path d="M257.7 548.7Q256.6 551.6 253.0 552.3Q254.2 549.5 257.7 548.7Z" fill="#11ff16"/>
<path d="M291.1 521.1Q298.4 527.9 295.5 539.1Q288.2 532.3 291.1 521.1Z" fill="#049b15" stroke="#011a01" stroke-width="0.7"/>
<path d="M291.5 525.6Q295.1 529.0 293.6 534.6Q290.0 531.2 291.5 525.6Z" fill="#25ff3c"/>
<path d="M295.1 505.9Q300.5 511.6 294.7 518.1Q289.3 512.4 295.1 505.9Z" fill="#0d9101" stroke="#011a01" stroke-width="0.7"/>
<path d="M294.5 509.0Q297.2 511.8 294.3 515.0Q291.6 512.2 294.5 509.0Z" fill="#3aff21"/>
<path d="M325.4 512.7Q329.7 510.9 333.5 514.6Q329.2 516.4 325.4 512.7Z" fill="#03c106" stroke="#011a01" stroke-width="0.7"/>
<path d="M327.1 513.2Q329.2 512.3 331.1 514.1Q329.0 515.0 327.1 513.2Z" fill="#0aff4e"/>
<path d="M307.9 560.7Q314.8 566.1 314.0 576.3Q307.2 570.9 307.9 560.7Z" fill="#14cb0d" stroke="#011a01" stroke-width="0.7"/>
<path d="M308.8 564.7Q312.2 567.3 311.8 572.4Q308.4 569.7 308.8 564.7Z" fill="#1aff15"/>
<path d="M287.4 515.9Q284.4 521.5 277.0 523.0Q280.0 517.4 287.4 515.9Z" fill="#0ef30b" stroke="#011a01" stroke-width="0.7"/>
<path d="M284.3 517.7Q282.8 520.5 279.1 521.2Q280.6 518.4 284.3 517.7Z" fill="#49ff37"/>
<path d="M302.4 530.1Q296.4 536.5 286.1 537.1Q292.1 530.7 302.4 530.1Z" fill="#11b109" stroke="#011a01" stroke-width="0.7"/>
<path d="M297.6 531.9Q294.6 535.0 289.5 535.3Q292.5 532.2 297.6 531.9Z" fill="#32ff2c"/>
<path d="M315.2 545.7Q310.2 552.0 301.0 550.1Q306.0 543.8 315.2 545.7Z" fill="#099901" stroke="#011a01" stroke-width="0.7"/>
<path d="M311.0 546.8Q308.5 550.0 304.0 549.0Q306.5 545.9 311.0 546.8Z" fill="#18ff12"/>
<path d="M338.8 541.8Q331.2 547.0 320.3 546.1Q327.9 540.9 338.8 541.8Z" fill="#06a302" stroke="#011a01" stroke-width="0.7"/>
<path d="M333.4 542.9Q329.6 545.5 324.2 545.0Q328.0 542.4 333.4 542.9Z" fill="#39ff1e"/>
<path d="M319.2 544.1Q325.6 546.0 322.6 552.8Q316.1 550.8 319.2 544.1Z" fill="#13f219" stroke="#011a01" stroke-width="0.7"/>
<path d="M319.7 546.3Q322.9 547.2 321.4 550.6Q318.1 549.6 319.7 546.3Z" fill="#3bff35"/>
<path d="M275.0 563.5Q281.0 562.7 281.9 569.4Q275.8 570.2 275.0 563.5Z" fill="#11e804" stroke="#011a01" stroke-width="0.7"/>
<path d="M276.3 564.9Q279.4 564.5 279.8 567.9Q276.7 568.3 276.3 564.9Z" fill="#59ff1d"/>
<path d="M319.2 519.8Q323.8 523.4 320.4 529.0Q315.9 525.4 319.2 519.8Z" fill="#09b60a" stroke="#011a01" stroke-width="0.7"/>
<path d="M319.1 522.1Q321.4 523.9 319.8 526.7Q317.5 524.9 319.1 522.1Z" fill="#47ff2e"/>
<path d="M311.7 522.4Q314.3 528.0 309.9 533.7Q307.2 528.1 311.7 522.4Z" fill="#059b04" stroke="#011a01" stroke-width="0.7"/>
<path d="M310.8 525.3Q312.1 528.1 309.9 530.9Q308.5 528.1 310.8 525.3Z" fill="#18ff1b"/>
<path d="M256.8 537.8Q265.6 540.2 268.9 550.4Q260.1 548.0 256.8 537.8Z" fill="#03c80a" stroke="#011a01" stroke-width="0.7"/>
<path d="M259.2 541.0Q263.6 542.2 265.2 547.2Q260.8 546.0 259.2 541.0Z" fill="#24ff13"/>
<path d="M283.1 517.4Q289.1 512.5 296.5 517.4Q290.4 522.3 283.1 517.4Z" fill="#13a413" stroke="#011a01" stroke-width="0.7"/>
<path d="M285.9 517.4Q288.9 514.9 292.6 517.4Q289.6 519.8 285.9 517.4Z" fill="#2cff0c"/>
<path d="M305.7 560.0Q305.9 566.1 299.6 569.4Q299.4 563.3 305.7 560.0Z" fill="#03aa17" stroke="#011a01" stroke-width="0.7"/>
<path d="M303.7 562.3Q303.8 565.4 300.7 567.1Q300.6 564.0 303.7 562.3Z" fill="#58ff44"/>
<path d="M258.2 523.6Q266.1 523.4 271.2 531.2Q263.3 531.4 258.2 523.6Z" fill="#08b514" stroke="#011a01" stroke-width="0.7"/>
<path d="M260.9 525.5Q264.8 525.4 267.3 529.3Q263.4 529.4 260.9 525.5Z" fill="#4fff1a"/>
<path d="M272.9 532.6Q271.2 541.1 263.1 547.6Q264.9 539.1 272.9 532.6Z" fill="#0bbd14" stroke="#011a01" stroke-width="0.7"/>
<path d="M269.7 536.4Q268.9 540.6 264.9 543.8Q265.7 539.6 269.7 536.4Z" fill="#35ff30"/>
<path d="M287.7 525.9Q294.7 522.9 299.8 529.9Q292.7 532.9 287.7 525.9Z" fill="#08dd01" stroke="#011a01" stroke-width="0.7"/>
<path d="M290.2 526.9Q293.7 525.4 296.2 528.9Q292.7 530.4 290.2 526.9Z" fill="#29ff0b"/>
<path d="M290.9 537.0Q296.5 535.8 298.9 541.8Q293.4 542.9 290.9 537.0Z" fill="#14c303" stroke="#011a01" stroke-width="0.7"/>
<path d="M292.6 538.2Q295.3 537.6 296.5 540.6Q293.8 541.2 292.6 538.2Z" fill="#33ff0e"/>
<path d="M290.6 510.9Q286.5 518.1 277.2 516.5Q281.3 509.4 290.6 510.9Z" fill="#099f13" stroke="#011a01" stroke-width="0.7"/>
<path d="M286.6 512.3Q284.6 515.9 280.0 515.1Q282.0 511.5 286.6 512.3Z" fill="#16ff27"/>
<path d="M330.1 519.7Q328.1 528.0 319.4 533.1Q321.3 524.8 330.1 519.7Z" fill="#02e813" stroke="#011a01" stroke-width="0.7"/>
<path d="M326.7 523.1Q325.7 527.2 321.4 529.7Q322.3 525.6 326.7 523.1Z" fill="#10ff40"/>
<path d="M288.4 548.2Q294.5 553.3 289.7 560.8Q283.7 555.7 288.4 548.2Z" fill="#13b416" stroke="#011a01" stroke-width="0.7"/>
<path d="M288.2 551.4Q291.3 553.9 288.9 557.6Q285.9 555.1 288.2 551.4Z" fill="#10ff21"/>
<path d="M312.1 514.5Q317.2 520.6 316.7 530.1Q311.5 524.0 312.1 514.5Z" fill="#09c101" stroke="#011a01" stroke-width="0.7"/>
<path d="M312.6 518.4Q315.1 521.5 314.9 526.2Q312.3 523.1 312.6 518.4Z" fill="#1eff37"/>
<path d="M289.2 548.5Q283.4 553.2 274.8 551.6Q280.6 546.9 289.2 548.5Z" fill="#01b116" stroke="#011a01" stroke-width="0.7"/>
<path d="M285.0 549.3Q282.1 551.7 277.9 550.8Q280.7 548.5 285.0 549.3Z" fill="#49ff1d"/>
<path d="M252.1 536.2Q257.3 536.7 259.5 542.3Q254.3 541.8 252.1 536.2Z" fill="#0aed00" stroke="#011a01" stroke-width="0.7"/>
<path d="M253.6 537.8Q256.2 538.0 257.3 540.8Q254.7 540.5 253.6 537.8Z" fill="#3aff4b"/>
<path d="M332.7 509.2Q328.5 516.6 318.6 517.3Q322.8 509.9 332.7 509.2Z" fill="#0ad014" stroke="#011a01" stroke-width="0.7"/>
<path d="M328.5 511.3Q326.4 514.9 321.5 515.2Q323.6 511.6 328.5 511.3Z" fill="#57ff49"/>
<path d="M309.7 515.6Q318.6 515.9 327.0 522.4Q318.1 522.1 309.7 515.6Z" fill="#03d80d" stroke="#011a01" stroke-width="0.7"/>
<path d="M313.3 517.3Q317.7 517.4 321.9 520.7Q317.5 520.6 313.3 517.3Z" fill="#11ff0a"/>
<path d="M265.3 547.4Q273.4 547.8 276.7 556.5Q268.7 556.1 265.3 547.4Z" fill="#0f9806" stroke="#011a01" stroke-width="0.7"/>
<path d="M267.6 549.7Q271.6 549.9 273.3 554.2Q269.3 554.0 267.6 549.7Z" fill="#52ff1c"/>
<path d="M294.9 523.0Q293.4 532.4 283.8 538.4Q285.3 528.9 294.9 523.0Z" fill="#06dd19" stroke="#011a01" stroke-width="0.7"/>
<path d="M291.4 526.8Q290.6 531.5 285.8 534.5Q286.6 529.8 291.4 526.8Z" fill="#43ff4f"/>
<path d="M290.4 515.2Q290.0 520.5 284.2 522.0Q284.6 516.8 290.4 515.2Z" fill="#04e603" stroke="#011a01" stroke-width="0.7"/>
<path d="M288.5 516.9Q288.3 519.6 285.4 520.3Q285.6 517.7 288.5 516.9Z" fill="#3eff0f"/>
<path d="M266.0 534.0Q270.9 537.7 270.7 545.0Q265.9 541.2 266.0 534.0Z" fill="#0d9102" stroke="#011a01" stroke-width="0.7"/>
<path d="M266.7 536.7Q269.1 538.6 269.1 542.2Q266.6 540.3 266.7 536.7Z" fill="#4aff10"/>
<path d="M285.4 557.7Q293.2 561.4 295.7 571.2Q288.0 567.5 285.4 557.7Z" fill="#14b801" stroke="#011a01" stroke-width="0.7"/>
<path d="M287.4 561.1Q291.2 563.0 292.4 567.8Q288.6 566.0 287.4 561.1Z" fill="#55ff1e"/>
<path d="M264.3 530.5Q271.7 526.6 278.0 533.8Q270.5 537.7 264.3 530.5Z" fill="#08a606" stroke="#011a01" stroke-width="0.7"/>
<path d="M267.2 531.3Q270.9 529.4 274.0 533.0Q270.3 534.9 267.2 531.3Z" fill="#49ff27"/>
<path d="M260.2 534.2Q266.9 531.9 274.7 535.2Q268.0 537.5 260.2 534.2Z" fill="#06b603" stroke="#011a01" stroke-width="0.7"/>
<path d="M263.2 534.4Q266.6 533.3 270.4 534.9Q267.1 536.1 263.2 534.4Z" fill="#48ff39"/>
<path d="M294.6 504.3Q300.0 511.6 296.3 521.7Q290.9 514.3 294.6 504.3Z" fill="#00d30a" stroke="#011a01" stroke-width="0.7"/>
<path d="M294.3 508.7Q297.0 512.3 295.2 517.3Q292.5 513.6 294.3 508.7Z" fill="#38ff43"/>
<path d="M320.6 537.4Q329.6 536.3 338.8 541.9Q329.8 543.0 320.6 537.4Z" fill="#14ad0e" stroke="#011a01" stroke-width="0.7"/>
<path d="M324.4 538.5Q328.9 538.0 333.5 540.8Q329.0 541.3 324.4 538.5Z" fill="#22ff43"/>
<path d="M289.7 536.2Q287.7 543.5 280.1 548.6Q282.1 541.2 289.7 536.2Z" fill="#059e07" stroke="#011a01" stroke-width="0.7"/>
<path d="M286.6 539.3Q285.7 542.9 281.9 545.4Q282.9 541.8 286.6 539.3Z" fill="#13ff0a"/>
<path d="M266.8 564.9Q275.1 561.1 283.7 567.3Q275.4 571.1 266.8 564.9Z" fill="#0fd401" stroke="#011a01" stroke-width="0.7"/>
<path d="M270.4 565.5Q274.5 563.6 278.8 566.7Q274.6 568.6 270.4 565.5Z" fill="#1cff32"/>
<path d="M251.3 511.0Q257.8 511.2 263.1 516.7Q256.7 516.6 251.3 511.0Z" fill="#05ad0d" stroke="#011a01" stroke-width="0.7"/>
<path d="M253.8 512.4Q257.0 512.5 259.6 515.3Q256.4 515.2 253.8 512.4Z" fill="#4bff14"/>
<path d="M251.2 565.8Q258.1 565.5 263.1 571.9Q256.2 572.2 251.2 565.8Z" fill="#02920e" stroke="#011a01" stroke-width="0.7"/>
<path d="M253.7 567.3Q257.1 567.2 259.6 570.4Q256.2 570.5 253.7 567.3Z" fill="#0eff37"/>
<path d="M281.5 513.4Q278.0 522.2 267.1 522.8Q270.6 514.1 281.5 513.4Z" fill="#07b313" stroke="#011a01" stroke-width="0.7"/>
<path d="M277.2 515.8Q275.4 520.2 270.1 520.5Q271.8 516.1 277.2 515.8Z" fill="#15ff3c"/>
<path d="M265.4 541.0Q261.6 549.0 251.7 552.4Q255.5 544.4 265.4 541.0Z" fill="#08ad10" stroke="#011a01" stroke-width="0.7"/>
<path d="M261.2 543.9Q259.4 547.9 254.4 549.5Q256.3 545.5 261.2 543.9Z" fill="#2fff50"/>
<path d="M245.8 539.1Q254.1 537.7 261.5 544.2Q253.3 545.6 245.8 539.1Z" fill="#07d90b" stroke="#011a01" stroke-width="0.7"/>
<path d="M249.1 540.4Q253.2 539.7 256.9 542.9Q252.8 543.6 249.1 540.4Z" fill="#0dff49"/>
<path d="M322.8 555.6Q329.6 554.0 332.5 561.3Q325.7 562.9 322.8 555.6Z" fill="#05a409" stroke="#011a01" stroke-width="0.7"/>
<path d="M324.8 557.0Q328.2 556.2 329.6 559.8Q326.2 560.6 324.8 557.0Z" fill="#4aff1e"/>
<path d="M306.6 548.8Q302.9 555.7 293.9 556.6Q297.6 549.8 306.6 548.8Z" fill="#089f15" stroke="#011a01" stroke-width="0.7"/>
<path d="M302.8 550.8Q301.0 554.2 296.5 554.6Q298.3 551.2 302.8 550.8Z" fill="#21ff10"/>
<path d="M288.3 512.9Q286.8 518.1 280.7 519.2Q282.2 514.0 288.3 512.9Z" fill="#048e0a" stroke="#011a01" stroke-width="0.7"/>
<path d="M286.0 514.5Q285.3 517.1 282.2 517.6Q283.0 515.0 286.0 514.5Z" fill="#26ff1f"/>
<path d="M264.9 566.0Q258.9 569.8 250.4 568.5Q256.5 564.6 264.9 566.0Z" fill="#07e505" stroke="#011a01" stroke-width="0.7"/>
<path d="M260.6 566.6Q257.7 568.5 253.5 567.9Q256.5 565.9 260.6 566.6Z" fill="#12ff3a"/>
<path d="M322.5 522.4Q329.8 522.1 335.7 528.4Q328.4 528.7 322.5 522.4Z" fill="#0fa809" stroke="#011a01" stroke-width="0.7"/>
<path d="M325.3 523.9Q328.9 523.7 331.8 526.8Q328.2 527.0 325.3 523.9Z" fill="#4dff26"/>
<path d="M254.0 559.9Q259.8 559.7 263.1 565.4Q257.3 565.7 254.0 559.9Z" fill="#0eb707" stroke="#011a01" stroke-width="0.7"/>
<path d="M255.9 561.3Q258.7 561.2 260.4 564.0Q257.5 564.2 255.9 561.3Z" fill="#0eff23"/>
<path d="M269.5 565.2Q274.7 562.9 279.8 567.0Q274.6 569.3 269.5 565.2Z" fill="#02e209" stroke="#011a01" stroke-width="0.7"/>
<path d="M271.7 565.6Q274.3 564.5 276.8 566.6Q274.2 567.7 271.7 565.6Z" fill="#1bff3f"/>
<path d="M301.7 511.3Q310.9 513.8 312.9 524.6Q303.7 522.2 301.7 511.3Z" fill="#07dd0c" stroke="#011a01" stroke-width="0.7"/>
<path d="M303.8 514.7Q308.4 515.9 309.4 521.3Q304.8 520.1 303.8 514.7Z" fill="#17ff41"/>
<path d="M295.4 556.1Q290.4 561.2 282.2 559.7Q287.2 554.7 295.4 556.1Z" fill="#0da60d" stroke="#011a01" stroke-width="0.7"/>
<path d="M291.5 557.0Q289.0 559.5 285.0 558.8Q287.5 556.3 291.5 557.0Z" fill="#1fff2e"/>
<path d="M337.4 521.0Q332.0 527.4 322.3 530.2Q327.7 523.8 337.4 521.0Z" fill="#11ac19" stroke="#011a01" stroke-width="0.7"/>
<path d="M332.9 523.3Q330.2 526.5 325.4 527.9Q328.1 524.7 332.9 523.3Z" fill="#52ff4d"/>
<path d="M278.1 564.5Q282.2 567.1 280.5 572.5Q276.4 569.8 278.1 564.5Z" fill="#0e9a05" stroke="#011a01" stroke-width="0.7"/>
<path d="M278.4 566.5Q280.4 567.8 279.6 570.5Q277.5 569.1 278.4 566.5Z" fill="#30ff49"/>
<path d="M288.1 553.0Q293.2 554.0 295.1 559.6Q290.1 558.6 288.1 553.0Z" fill="#0ae205" stroke="#011a01" stroke-width="0.7"/>
<path d="M289.5 554.6Q292.0 555.1 293.0 557.9Q290.5 557.4 289.5 554.6Z" fill="#20ff35"/>
<path d="M256.7 560.2Q262.7 563.9 264.1 572.1Q258.1 568.4 256.7 560.2Z" fill="#089d18" stroke="#011a01" stroke-width="0.7"/>
<path d="M258.0 563.2Q261.0 565.0 261.7 569.1Q258.7 567.3 258.0 563.2Z" fill="#13ff4c"/>
<path d="M268.5 534.2Q275.4 534.0 277.7 541.5Q270.7 541.7 268.5 534.2Z" fill="#0aac0d" stroke="#011a01" stroke-width="0.7"/>
<path d="M270.3 536.0Q273.8 535.9 274.9 539.7Q271.4 539.8 270.3 536.0Z" fill="#2bff44"/>
<path d="M305.2 556.0Q308.4 563.3 306.2 572.6Q302.9 565.3 305.2 556.0Z" fill="#02920f" stroke="#011a01" stroke-width="0.7"/>
<path d="M304.7 560.2Q306.4 563.8 305.2 568.4Q303.6 564.8 304.7 560.2Z" fill="#39ff2e"/>
<path d="M307.1 512.9Q316.1 513.0 324.8 519.1Q315.9 519.1 307.1 512.9Z" fill="#0f9f19" stroke="#011a01" stroke-width="0.7"/>
<path d="M310.9 514.5Q315.3 514.5 319.6 517.6Q315.2 517.5 310.9 514.5Z" fill="#14ff4d"/>
<path d="M254.5 557.1Q257.3 561.9 252.2 565.2Q249.4 560.4 254.5 557.1Z" fill="#108b01" stroke="#011a01" stroke-width="0.7"/>
<path d="M253.6 559.1Q255.0 561.5 252.4 563.2Q251.0 560.8 253.6 559.1Z" fill="#11ff25"/>
<path d="M287.7 561.8Q292.3 567.4 292.4 575.9Q287.9 570.4 287.7 561.8Z" fill="#08a504" stroke="#011a01" stroke-width="0.7"/>
<path d="M288.3 565.4Q290.6 568.1 290.6 572.4Q288.4 569.7 288.3 565.4Z" fill="#1eff4a"/>
<path d="M264.0 557.8Q269.3 561.7 265.9 568.3Q260.5 564.4 264.0 557.8Z" fill="#009c0a" stroke="#011a01" stroke-width="0.7"/>
<path d="M264.0 560.4Q266.7 562.3 265.0 565.6Q262.3 563.7 264.0 560.4Z" fill="#28ff0d"/>
<path d="M288.1 537.5Q291.0 543.6 284.8 548.0Q282.0 541.9 288.1 537.5Z" fill="#0da302" stroke="#011a01" stroke-width="0.7"/>
<path d="M286.9 540.2Q288.3 543.2 285.2 545.3Q283.8 542.3 286.9 540.2Z" fill="#3cff1e"/>
<path d="M312.9 554.8Q319.4 555.6 317.8 562.6Q311.3 561.8 312.9 554.8Z" fill="#05ce15" stroke="#011a01" stroke-width="0.7"/>
<path d="M313.7 556.7Q317.0 557.1 316.2 560.6Q312.9 560.2 313.7 556.7Z" fill="#3bff0a"/>
<path d="M328.5 539.6Q332.0 544.8 327.1 549.9Q323.6 544.7 328.5 539.6Z" fill="#09f005" stroke="#011a01" stroke-width="0.7"/>
<path d="M327.8 542.2Q329.5 544.8 327.0 547.3Q325.3 544.7 327.8 542.2Z" fill="#55ff47"/>
<path d="M298.0 529.6Q295.2 537.0 286.2 538.4Q289.0 531.1 298.0 529.6Z" fill="#01ec03" stroke="#011a01" stroke-width="0.7"/>
<path d="M294.4 531.9Q293.1 535.5 288.6 536.2Q289.9 532.6 294.4 531.9Z" fill="#5aff24"/>
<path d="M275.1 537.3Q279.7 533.2 283.2 538.8Q278.7 542.9 275.1 537.3Z" fill="#0cb803" stroke="#011a01" stroke-width="0.7"/>
<path d="M276.8 537.7Q279.1 535.6 280.9 538.4Q278.6 540.5 276.8 537.7Z" fill="#4cff2b"/>
<path d="M321.4 534.4Q324.0 541.5 319.0 548.8Q316.4 541.7 321.4 534.4Z" fill="#11af14" stroke="#011a01" stroke-width="0.7"/>
<path d="M320.2 538.0Q321.5 541.5 319.0 545.2Q317.7 541.6 320.2 538.0Z" fill="#41ff0c"/>
<path d="M260.5 513.9Q263.9 520.3 260.3 528.0Q256.9 521.6 260.5 513.9Z" fill="#0dab05" stroke="#011a01" stroke-width="0.7"/>
<path d="M259.8 517.5Q261.6 520.6 259.8 524.5Q258.1 521.3 259.8 517.5Z" fill="#4fff32"/>
<path d="M294.7 561.2Q293.5 568.6 287.1 574.7Q288.2 567.4 294.7 561.2Z" fill="#0e9400" stroke="#011a01" stroke-width="0.7"/>
<path d="M292.1 564.6Q291.6 568.3 288.4 571.3Q288.9 567.7 292.1 564.6Z" fill="#19ff1d"/>
<path d="M282.1 518.7Q281.0 526.3 272.4 526.2Q273.6 518.6 282.1 518.7Z" fill="#04b110" stroke="#011a01" stroke-width="0.7"/>
<path d="M279.2 520.6Q278.7 524.4 274.4 524.3Q274.9 520.5 279.2 520.6Z" fill="#4dff23"/>
<path d="M292.3 555.7Q290.9 562.5 283.8 566.8Q285.2 560.0 292.3 555.7Z" fill="#0fdd05" stroke="#011a01" stroke-width="0.7"/>
<path d="M289.6 558.5Q288.9 561.9 285.4 564.0Q286.1 560.6 289.6 558.5Z" fill="#52ff37"/>
<path d="M314.1 548.6Q320.4 547.0 324.6 553.2Q318.3 554.8 314.1 548.6Z" fill="#0c8f0f" stroke="#011a01" stroke-width="0.7"/>
<path d="M316.3 549.8Q319.4 548.9 321.5 552.0Q318.3 552.9 316.3 549.8Z" fill="#55ff3b"/>
<path d="M271.2 506.3Q276.4 514.6 272.2 525.3Q267.0 516.9 271.2 506.3Z" fill="#04e914" stroke="#011a01" stroke-width="0.7"/>
<path d="M270.7 511.0Q273.3 515.2 271.2 520.5Q268.6 516.4 270.7 511.0Z" fill="#41ff4f"/>
<path d="M305.3 545.1Q308.8 551.0 305.6 558.5Q302.2 552.5 305.3 545.1Z" fill="#0cb911" stroke="#011a01" stroke-width="0.7"/>
<path d="M304.9 548.5Q306.6 551.4 305.0 555.1Q303.3 552.2 304.9 548.5Z" fill="#0aff0b"/>
<path d="M296.8 529.0Q298.5 535.2 292.0 538.5Q290.3 532.2 296.8 529.0Z" fill="#049d0c" stroke="#011a01" stroke-width="0.7"/>
<path d="M295.2 531.4Q296.0 534.5 292.8 536.1Q291.9 533.0 295.2 531.4Z" fill="#28ff11"/>
<path d="M276.0 513.1Q275.3 522.4 265.0 525.6Q265.8 516.3 276.0 513.1Z" fill="#0ae20c" stroke="#011a01" stroke-width="0.7"/>
<path d="M272.6 516.2Q272.2 520.9 267.1 522.4Q267.5 517.8 272.6 516.2Z" fill="#38ff1b"/>
<path d="M315.4 547.3Q320.4 552.3 316.9 559.7Q311.9 554.6 315.4 547.3Z" fill="#0ca909" stroke="#011a01" stroke-width="0.7"/>
<path d="M315.2 550.4Q317.7 552.9 316.0 556.6Q313.5 554.1 315.2 550.4Z" fill="#16ff49"/>
<path d="M322.6 510.4Q330.0 515.9 333.7 526.3Q326.3 520.8 322.6 510.4Z" fill="#0cb910" stroke="#011a01" stroke-width="0.7"/>
<path d="M324.6 514.4Q328.3 517.1 330.1 522.3Q326.4 519.6 324.6 514.4Z" fill="#3eff0b"/>
<path d="M300.7 557.8Q301.6 567.2 292.9 574.1Q292.0 564.6 300.7 557.8Z" fill="#128c16" stroke="#011a01" stroke-width="0.7"/>
<path d="M298.0 561.9Q298.5 566.6 294.1 569.9Q293.7 565.2 298.0 561.9Z" fill="#42ff39"/>
<path d="M307.5 526.8Q313.3 525.9 314.2 532.3Q308.4 533.2 307.5 526.8Z" fill="#03f304" stroke="#011a01" stroke-width="0.7"/>
<path d="M308.8 528.2Q311.7 527.7 312.2 530.9Q309.3 531.4 308.8 528.2Z" fill="#30ff23"/>
<path d="M297.1 553.6Q289.5 558.6 278.5 558.3Q286.2 553.3 297.1 553.6Z" fill="#0bd318" stroke="#011a01" stroke-width="0.7"/>
<path d="M291.7 554.8Q287.9 557.3 282.4 557.1Q286.2 554.6 291.7 554.8Z" fill="#41ff48"/>
<path d="M267.5 533.6Q274.7 539.1 273.8 549.6Q266.7 544.1 267.5 533.6Z" fill="#13f105" stroke="#011a01" stroke-width="0.7"/>
<path d="M268.4 537.6Q272.0 540.3 271.5 545.6Q268.0 542.8 268.4 537.6Z" fill="#17ff1f"/>
<path d="M329.3 517.6Q325.1 526.3 314.0 525.9Q318.2 517.2 329.3 517.6Z" fill="#0aed18" stroke="#011a01" stroke-width="0.7"/>
<path d="M324.8 519.7Q322.7 524.0 317.2 523.8Q319.3 519.5 324.8 519.7Z" fill="#2bff2e"/>
<path d="M260.2 529.8Q264.9 532.7 263.0 538.6Q258.3 535.8 260.2 529.8Z" fill="#13e719" stroke="#011a01" stroke-width="0.7"/>
<path d="M260.5 532.1Q262.9 533.4 261.9 536.4Q259.6 535.0 260.5 532.1Z" fill="#43ff23"/>
<path d="M259.8 531.3Q268.2 535.0 270.1 545.5Q261.8 541.8 259.8 531.3Z" fill="#12ef01" stroke="#011a01" stroke-width="0.7"/>
<path d="M261.7 534.9Q265.9 536.7 266.8 541.9Q262.7 540.1 261.7 534.9Z" fill="#45ff18"/>
<path d="M263.5 509.9Q265.4 518.2 260.4 527.0Q258.5 518.7 263.5 509.9Z" fill="#07bb00" stroke="#011a01" stroke-width="0.7"/>
<path d="M262.0 514.2Q263.0 518.3 260.5 522.7Q259.5 518.6 262.0 514.2Z" fill="#26ff18"/>
<path d="M266.7 547.5Q271.5 550.8 268.5 556.4Q263.7 553.2 266.7 547.5Z" fill="#06f60f" stroke="#011a01" stroke-width="0.7"/>
<path d="M266.8 549.8Q269.2 551.4 267.7 554.2Q265.3 552.6 266.8 549.8Z" fill="#21ff2b"/>
<path d="M285.9 519.1Q294.9 519.1 298.4 528.8Q289.4 528.8 285.9 519.1Z" fill="#12f603" stroke="#011a01" stroke-width="0.7"/>
<path d="M288.5 521.6Q292.9 521.6 294.7 526.4Q290.2 526.4 288.5 521.6Z" fill="#4aff2c"/>
<path d="M252.4 527.3Q258.3 522.6 264.3 528.5Q258.4 533.2 252.4 527.3Z" fill="#06ca0d" stroke="#011a01" stroke-width="0.7"/>
<path d="M254.9 527.6Q257.8 525.3 260.8 528.2Q257.9 530.5 254.9 527.6Z" fill="#0fff29"/>
<path d="M259.7 536.9Q259.1 543.7 252.3 548.1Q253.0 541.3 259.7 536.9Z" fill="#0ad100" stroke="#011a01" stroke-width="0.7"/>
<path d="M257.3 539.7Q257.0 543.1 253.7 545.3Q254.0 541.9 257.3 539.7Z" fill="#1dff4f"/>
<path d="M278.4 565.3Q284.4 563.3 288.1 569.4Q282.1 571.4 278.4 565.3Z" fill="#0cf513" stroke="#011a01" stroke-width="0.7"/>
<path d="M280.4 566.3Q283.4 565.3 285.2 568.4Q282.3 569.4 280.4 566.3Z" fill="#3cff3b"/>
<path d="M260.7 557.5Q265.5 565.7 260.5 575.7Q255.7 567.5 260.7 557.5Z" fill="#0ab50a" stroke="#011a01" stroke-width="0.7"/>
<path d="M259.9 562.1Q262.3 566.2 259.8 571.1Q257.4 567.0 259.9 562.1Z" fill="#4fff0f"/>
<path d="M301.1 521.1Q306.6 522.4 307.9 528.7Q302.4 527.5 301.1 521.1Z" fill="#0dd30a" stroke="#011a01" stroke-width="0.7"/>
<path d="M302.4 523.0Q305.2 523.7 305.8 526.8Q303.1 526.2 302.4 523.0Z" fill="#1aff3c"/>
<path d="M287.9 537.5Q286.0 543.4 278.9 544.0Q280.8 538.1 287.9 537.5Z" fill="#08a105" stroke="#011a01" stroke-width="0.7"/>
<path d="M285.2 539.1Q284.2 542.1 280.7 542.4Q281.7 539.4 285.2 539.1Z" fill="#46ff31"/>
<path d="M317.2 519.8Q317.3 526.9 311.5 533.1Q311.4 526.0 317.2 519.8Z" fill="#0d9519" stroke="#011a01" stroke-width="0.7"/>
<path d="M315.2 523.1Q315.3 526.7 312.4 529.7Q312.3 526.2 315.2 523.1Z" fill="#27ff0f"/>
<path d="M309.4 521.4Q302.0 526.6 291.9 523.2Q299.3 518.0 309.4 521.4Z" fill="#03b30b" stroke="#011a01" stroke-width="0.7"/>
<path d="M304.3 521.8Q300.6 524.4 295.6 522.7Q299.3 520.1 304.3 521.8Z" fill="#3fff1a"/>
<path d="M267.1 515.1Q276.0 516.5 279.7 526.3Q270.8 524.9 267.1 515.1Z" fill="#0fad18" stroke="#011a01" stroke-width="0.7"/>
<path d="M269.6 517.9Q274.0 518.6 275.9 523.5Q271.4 522.8 269.6 517.9Z" fill="#18ff48"/>
<path d="M282.3 517.1Q290.5 517.8 291.4 526.9Q283.2 526.3 282.3 517.1Z" fill="#12ba04" stroke="#011a01" stroke-width="0.7"/>
<path d="M284.1 519.6Q288.2 519.9 288.6 524.5Q284.5 524.2 284.1 519.6Z" fill="#25ff2e"/>
<path d="M282.0 552.0Q284.7 561.3 278.9 571.1Q276.2 561.8 282.0 552.0Z" fill="#108e19" stroke="#011a01" stroke-width="0.7"/>
<path d="M280.4 556.8Q281.8 561.4 278.9 566.3Q277.5 561.7 280.4 556.8Z" fill="#34ff17"/>
<path d="M293.6 543.2Q297.2 552.4 289.8 561.3Q286.3 552.0 293.6 543.2Z" fill="#0bdb08" stroke="#011a01" stroke-width="0.7"/>
<path d="M291.9 547.8Q293.7 552.3 290.1 556.7Q288.3 552.1 291.9 547.8Z" fill="#4dff33"/>
<path d="M280.8 558.3Q289.3 555.2 295.8 563.3Q287.3 566.4 280.8 558.3Z" fill="#03b110" stroke="#011a01" stroke-width="0.7"/>
<path d="M284.0 559.6Q288.2 558.0 291.4 562.0Q287.1 563.6 284.0 559.6Z" fill="#4cff3f"/>
<path d="M306.6 552.5Q311.5 556.0 312.5 563.0Q307.6 559.6 306.6 552.5Z" fill="#09bb06" stroke="#011a01" stroke-width="0.7"/>
<path d="M307.6 555.1Q310.1 556.9 310.6 560.4Q308.1 558.7 307.6 555.1Z" fill="#2cff11"/>
<path d="M322.0 553.9Q328.5 550.3 333.5 557.0Q326.9 560.6 322.0 553.9Z" fill="#0e8f05" stroke="#011a01" stroke-width="0.7"/>
<path d="M324.4 554.7Q327.7 552.9 330.1 556.2Q326.9 558.0 324.4 554.7Z" fill="#50ff16"/>
<path d="M305.2 535.1Q312.3 541.2 314.1 552.2Q307.0 546.1 305.2 535.1Z" fill="#05be0c" stroke="#011a01" stroke-width="0.7"/>
<path d="M306.7 539.4Q310.2 542.4 311.1 547.9Q307.6 544.8 306.7 539.4Z" fill="#54ff28"/>
<path d="M278.8 530.5Q282.9 535.9 281.1 543.7Q276.9 538.3 278.8 530.5Z" fill="#018d14" stroke="#011a01" stroke-width="0.7"/>
<path d="M278.9 533.8Q280.9 536.5 280.0 540.4Q277.9 537.7 278.9 533.8Z" fill="#48ff4b"/>
<path d="M255.5 539.1Q260.2 546.4 258.2 556.5Q253.5 549.2 255.5 539.1Z" fill="#01e502" stroke="#011a01" stroke-width="0.7"/>
<path d="M255.4 543.5Q257.8 547.1 256.8 552.1Q254.4 548.5 255.4 543.5Z" fill="#57ff2f"/>
<path d="M335.3 559.0Q328.7 564.1 319.5 560.7Q326.2 555.6 335.3 559.0Z" fill="#0ddd09" stroke="#011a01" stroke-width="0.7"/>
<path d="M330.7 559.4Q327.4 562.0 322.9 560.3Q326.1 557.7 330.7 559.4Z" fill="#5aff45"/>
<path d="M287.3 538.6Q292.7 545.7 291.3 556.2Q285.9 549.1 287.3 538.6Z" fill="#01d311" stroke="#011a01" stroke-width="0.7"/>
<path d="M287.6 543.0Q290.3 546.6 289.6 551.8Q286.9 548.3 287.6 543.0Z" fill="#0eff1c"/>
<path d="M298.6 546.7Q306.1 549.8 308.8 559.0Q301.3 555.9 298.6 546.7Z" fill="#11c115" stroke="#011a01" stroke-width="0.7"/>
<path d="M300.5 549.8Q304.3 551.3 305.6 555.9Q301.8 554.4 300.5 549.8Z" fill="#22ff4d"/>
<path d="M305.3 551.7Q312.1 549.8 318.9 554.8Q312.0 556.7 305.3 551.7Z" fill="#14c106" stroke="#011a01" stroke-width="0.7"/>
<path d="M308.1 552.5Q311.6 551.5 314.9 554.0Q311.5 554.9 308.1 552.5Z" fill="#12ff3d"/>
<path d="M290.5 555.2Q297.1 561.9 294.8 572.7Q288.1 566.0 290.5 555.2Z" fill="#12b915" stroke="#011a01" stroke-width="0.7"/>
<path d="M290.9 559.6Q294.2 562.9 293.0 568.3Q289.7 565.0 290.9 559.6Z" fill="#19ff45"/>
<path d="M317.4 557.1Q323.3 560.1 322.1 567.6Q316.2 564.6 317.4 557.1Z" fill="#038c00" stroke="#011a01" stroke-width="0.7"/>
<path d="M318.1 559.7Q321.1 561.2 320.5 565.0Q317.5 563.5 318.1 559.7Z" fill="#35ff2a"/>
<path d="M272.9 539.6Q268.5 545.4 262.3 540.4Q266.7 534.6 272.9 539.6Z" fill="#0c8f0f" stroke="#011a01" stroke-width="0.7"/>
<path d="M269.8 539.8Q267.7 542.7 264.6 540.2Q266.8 537.3 269.8 539.8Z" fill="#3fff48"/>
<path d="M269.9 517.1Q277.0 518.3 275.2 526.0Q268.2 524.7 269.9 517.1Z" fill="#069b14" stroke="#011a01" stroke-width="0.7"/>
<path d="M270.9 519.3Q274.4 519.9 273.5 523.7Q270.0 523.1 270.9 519.3Z" fill="#2dff16"/>
<path d="M310.6 567.0Q317.4 563.9 322.0 570.9Q315.2 574.0 310.6 567.0Z" fill="#048b0c" stroke="#011a01" stroke-width="0.7"/>
<path d="M313.0 568.0Q316.4 566.4 318.7 569.9Q315.3 571.5 313.0 568.0Z" fill="#4dff2f"/>
<path d="M256.2 544.7Q259.4 550.0 256.0 556.4Q252.8 551.1 256.2 544.7Z" fill="#07ac13" stroke="#011a01" stroke-width="0.7"/>
<path d="M255.7 547.7Q257.2 550.3 255.5 553.4Q254.0 550.8 255.7 547.7Z" fill="#54ff49"/>
<path d="M307.1 535.2Q314.6 532.4 320.8 539.4Q313.2 542.2 307.1 535.2Z" fill="#03cd15" stroke="#011a01" stroke-width="0.7"/>
<path d="M309.9 536.3Q313.7 534.8 316.8 538.3Q313.0 539.7 309.9 536.3Z" fill="#3bff11"/>
<path d="M287.5 511.4Q293.1 511.4 296.3 516.9Q290.8 516.9 287.5 511.4Z" fill="#10f318" stroke="#011a01" stroke-width="0.7"/>
<path d="M289.3 512.8Q292.1 512.8 293.7 515.5Q291.0 515.5 289.3 512.8Z" fill="#3aff30"/>
<path d="M317.0 512.8Q323.2 510.2 330.6 513.3Q324.4 515.9 317.0 512.8Z" fill="#118b0d" stroke="#011a01" stroke-width="0.7"/>
<path d="M319.9 512.9Q323.0 511.6 326.7 513.2Q323.6 514.5 319.9 512.9Z" fill="#14ff0f"/>
<path d="M326.3 532.1Q328.8 541.0 322.2 549.4Q319.6 540.6 326.3 532.1Z" fill="#0db908" stroke="#011a01" stroke-width="0.7"/>
<path d="M324.5 536.5Q325.8 540.9 322.5 545.1Q321.2 540.7 324.5 536.5Z" fill="#30ff4a"/>
<path d="M317.2 512.2Q312.6 516.9 306.7 512.4Q311.3 507.6 317.2 512.2Z" fill="#06ab0f" stroke="#011a01" stroke-width="0.7"/>
<path d="M314.1 512.2Q311.9 514.6 309.0 512.3Q311.2 510.0 314.1 512.2Z" fill="#5aff36"/>
<path d="M272.8 528.8Q271.3 536.9 262.3 540.5Q263.8 532.3 272.8 528.8Z" fill="#08c416" stroke="#011a01" stroke-width="0.7"/>
<path d="M269.5 531.7Q268.8 535.8 264.3 537.6Q265.0 533.5 269.5 531.7Z" fill="#11ff48"/>
<path d="M260.2 519.0Q260.9 527.6 252.5 532.8Q251.7 524.2 260.2 519.0Z" fill="#0eb008" stroke="#011a01" stroke-width="0.7"/>
<path d="M257.6 522.5Q258.0 526.8 253.8 529.3Q253.4 525.1 257.6 522.5Z" fill="#4cff4f"/>
<path d="M310.9 557.0Q315.2 554.4 318.8 558.8Q314.4 561.4 310.9 557.0Z" fill="#0ad219" stroke="#011a01" stroke-width="0.7"/>
<path d="M312.5 557.4Q314.7 556.1 316.5 558.3Q314.3 559.6 312.5 557.4Z" fill="#26ff50"/>
<path d="M256.0 552.9Q262.1 548.2 268.5 554.0Q262.4 558.8 256.0 552.9Z" fill="#119910" stroke="#011a01" stroke-width="0.7"/>
<path d="M258.6 553.2Q261.6 550.8 264.8 553.7Q261.8 556.1 258.6 553.2Z" fill="#4cff49"/>
<path d="M293.4 565.4Q290.2 571.9 282.2 570.3Q285.4 563.8 293.4 565.4Z" fill="#0bc30a" stroke="#011a01" stroke-width="0.7"/>
<path d="M290.1 566.6Q288.5 569.8 284.5 569.0Q286.1 565.8 290.1 566.6Z" fill="#12ff31"/>
<path d="M315.4 524.0Q319.7 530.4 314.1 537.1Q309.8 530.7 315.4 524.0Z" fill="#0df405" stroke="#011a01" stroke-width="0.7"/>
<path d="M314.5 527.3Q316.7 530.5 313.9 533.8Q311.7 530.6 314.5 527.3Z" fill="#2eff31"/>
<path d="M283.1 561.2Q289.5 563.5 288.0 571.0Q281.6 568.7 283.1 561.2Z" fill="#078f05" stroke="#011a01" stroke-width="0.7"/>
<path d="M283.9 563.7Q287.1 564.8 286.3 568.6Q283.1 567.4 283.9 563.7Z" fill="#36ff3a"/>
<path d="M301.1 546.2Q306.1 554.4 301.0 564.3Q296.0 556.1 301.1 546.2Z" fill="#08bb10" stroke="#011a01" stroke-width="0.7"/>
<path d="M300.3 550.7Q302.8 554.8 300.3 559.8Q297.8 555.7 300.3 550.7Z" fill="#38ff2b"/>
<path d="M289.2 550.9Q296.9 545.9 305.8 551.7Q298.0 556.8 289.2 550.9Z" fill="#0cae01" stroke="#011a01" stroke-width="0.7"/>
<path d="M292.7 551.1Q296.5 548.6 300.9 551.5Q297.1 554.0 292.7 551.1Z" fill="#3eff43"/>
<path d="M250.0 560.7Q256.3 564.6 258.9 573.2Q252.6 569.2 250.0 560.7Z" fill="#009c14" stroke="#011a01" stroke-width="0.7"/>
<path d="M251.6 563.8Q254.8 565.8 256.1 570.0Q252.9 568.1 251.6 563.8Z" fill="#4eff10"/>
<path d="M259.2 527.7Q265.3 525.4 267.9 532.1Q261.8 534.4 259.2 527.7Z" fill="#059400" stroke="#011a01" stroke-width="0.7"/>
<path d="M261.0 528.8Q264.0 527.6 265.3 531.0Q262.3 532.1 261.0 528.8Z" fill="#1dff3e"/>
<path d="M288.6 509.0Q291.2 515.0 287.0 521.5Q284.4 515.5 288.6 509.0Z" fill="#01af0a" stroke="#011a01" stroke-width="0.7"/>
<path d="M287.7 512.2Q289.0 515.1 286.9 518.3Q285.6 515.4 287.7 512.2Z" fill="#1eff4d"/>
<path d="M279.1 524.2Q273.9 529.8 267.1 524.6Q272.3 518.9 279.1 524.2Z" fill="#14e40e" stroke="#011a01" stroke-width="0.7"/>
<path d="M275.6 524.3Q273.0 527.1 269.6 524.5Q272.2 521.7 275.6 524.3Z" fill="#0bff36"/>
<path d="M268.3 551.5Q267.5 556.8 261.6 557.1Q262.4 551.9 268.3 551.5Z" fill="#0ae217" stroke="#011a01" stroke-width="0.7"/>
<path d="M266.3 552.9Q265.9 555.5 262.9 555.7Q263.3 553.1 266.3 552.9Z" fill="#4cff29"/>
<path d="M302.1 550.7Q308.8 547.8 315.6 552.9Q308.9 555.8 302.1 550.7Z" fill="#0fae04" stroke="#011a01" stroke-width="0.7"/>
<path d="M305.0 551.2Q308.3 549.8 311.7 552.3Q308.4 553.8 305.0 551.2Z" fill="#38ff3c"/>
<path d="M299.4 544.1Q305.4 546.1 307.8 553.1Q301.8 551.1 299.4 544.1Z" fill="#11b219" stroke="#011a01" stroke-width="0.7"/>
<path d="M301.0 546.4Q304.0 547.4 305.2 550.8Q302.2 549.9 301.0 546.4Z" fill="#3dff17"/>
<path d="M320.1 511.8Q318.9 520.1 309.6 522.4Q310.8 514.2 320.1 511.8Z" fill="#0dd109" stroke="#011a01" stroke-width="0.7"/>
<path d="M316.9 514.5Q316.3 518.6 311.6 519.7Q312.2 515.6 316.9 514.5Z" fill="#12ff12"/>
<path d="M283.6 546.5Q284.7 552.2 279.2 556.0Q278.1 550.3 283.6 546.5Z" fill="#0a9505" stroke="#011a01" stroke-width="0.7"/>
<path d="M282.1 548.9Q282.6 551.8 279.9 553.6Q279.3 550.8 282.1 548.9Z" fill="#12ff30"/>
<path d="M253.4 540.2Q260.9 538.5 269.2 542.4Q261.7 544.1 253.4 540.2Z" fill="#01ea0b" stroke="#011a01" stroke-width="0.7"/>
<path d="M256.8 540.8Q260.5 539.9 264.6 541.9Q260.9 542.7 256.8 540.8Z" fill="#2aff19"/>
<path d="M323.8 553.0Q317.6 559.6 307.0 562.1Q313.2 555.4 323.8 553.0Z" fill="#07c204" stroke="#011a01" stroke-width="0.7"/>
<path d="M318.8 555.3Q315.8 558.6 310.5 559.8Q313.5 556.5 318.8 555.3Z" fill="#37ff18"/>
<path d="M292.3 540.8Q298.1 540.3 300.6 546.5Q294.8 547.0 292.3 540.8Z" fill="#06e308" stroke="#011a01" stroke-width="0.7"/>
<path d="M294.0 542.3Q296.9 542.0 298.1 545.1Q295.2 545.3 294.0 542.3Z" fill="#28ff36"/>
<path d="M257.8 549.3Q256.4 554.1 250.6 555.1Q252.1 550.3 257.8 549.3Z" fill="#00d409" stroke="#011a01" stroke-width="0.7"/>
<path d="M255.6 550.8Q254.9 553.1 252.1 553.6Q252.8 551.2 255.6 550.8Z" fill="#23ff37"/>
<path d="M313.5 512.0Q319.0 515.8 319.7 523.6Q314.3 519.8 313.5 512.0Z" fill="#0ecc00" stroke="#011a01" stroke-width="0.7"/>
<path d="M314.5 514.9Q317.3 516.8 317.6 520.7Q314.9 518.8 314.5 514.9Z" fill="#0aff2c"/>
<path d="M291.8 523.6Q291.5 530.3 284.3 532.8Q284.6 526.2 291.8 523.6Z" fill="#05ca04" stroke="#011a01" stroke-width="0.7"/>
<path d="M289.4 525.9Q289.3 529.2 285.7 530.5Q285.8 527.2 289.4 525.9Z" fill="#3cff0c"/>
<path d="M263.3 517.1Q270.1 518.6 273.2 526.1Q266.4 524.6 263.3 517.1Z" fill="#0a9312" stroke="#011a01" stroke-width="0.7"/>
<path d="M265.3 519.3Q268.7 520.1 270.2 523.8Q266.8 523.1 265.3 519.3Z" fill="#59ff42"/>
<path d="M268.6 551.1Q267.6 559.3 260.6 566.4Q261.6 558.2 268.6 551.1Z" fill="#04be08" stroke="#011a01" stroke-width="0.7"/>
<path d="M265.9 555.0Q265.4 559.1 261.9 562.5Q262.4 558.5 265.9 555.0Z" fill="#11ff41"/>
</g>
<circle cx="326.85" cy="568.95" r="1.14" fill="#0d2bc0" stroke="none" stroke-width="1"/>
<circle cx="298.80" cy="513.35" r="0.99" fill="#1115e5" stroke="none" stroke-width="1"/>
<circle cx="255.02" cy="533.97" r="0.93" fill="#1605c9" stroke="none" stroke-width="1"/>
<circle cx="260.69" cy="514.55" r="1.17" fill="#1928e1" stroke="none" stroke-width="1"/>
<circle cx="273.97" cy="555.78" r="0.95" fill="#0d1ac6" stroke="none" stroke-width="1"/>
<circle cx="317.19" cy="563.17" r="0.89" fill="#0d08ea" stroke="none" stroke-width="1"/>
<circle cx="268.89" cy="566.88" r="0.92" fill="#0827d3" stroke="none" stroke-width="1"/>
<circle cx="300.05" cy="559.23" r="1.00" fill="#0d0bd3" stroke="none" stroke-width="1"/>
<circle cx="309.77" cy="520.73" r="1.06" fill="#0529f0" stroke="none" stroke-width="1"/>
<circle cx="255.34" cy="567.81" r="0.89" fill="#1e0bd3" stroke="none" stroke-width="1"/>
<circle cx="266.77" cy="553.14" r="1.05" fill="#0b28d4" stroke="none" stroke-width="1"/>
<circle cx="260.92" cy="547.11" r="0.82" fill="#1224c1" stroke="none" stroke-width="1"/>
<circle cx="253.08" cy="552.34" r="1.08" fill="#0f20df" stroke="none" stroke-width="1"/>
<circle cx="318.28" cy="565.47" r="1.06" fill="#0e09c3" stroke="none" stroke-width="1"/>
<circle cx="262.72" cy="553.67" r="0.97" fill="#1c20e4" stroke="none" stroke-width="1"/>
<circle cx="320.18" cy="562.65" r="1.01" fill="#1b22d7" stroke="none" stroke-width="1"/>
<circle cx="272.34" cy="544.54" r="1.13" fill="#181cf1" stroke="none" stroke-width="1"/>
<circle cx="295.30" cy="568.73" r="0.82" fill="#0d10e5" stroke="none" stroke-width="1"/>
<circle cx="267.64" cy="559.29" r="0.90" fill="#0918e5" stroke="none" stroke-width="1"/>
<circle cx="288.01" cy="569.03" r="0.97" fill="#101bd6" stroke="none" stroke-width="1"/>
<circle cx="265.44" cy="517.00" r="0.87" fill="#0c27c2" stroke="none" stroke-width="1"/>
<circle cx="289.43" cy="524.13" r="1.01" fill="#1523c7" stroke="none" stroke-width="1"/>
<circle cx="277.15" cy="560.70" r="1.07" fill="#160edf" stroke="none" stroke-width="1"/>
<circle cx="279.87" cy="542.72" r="0.92" fill="#0827eb" stroke="none" stroke-width="1"/>
<circle cx="310.46" cy="555.69" r="1.15" fill="#191be6" stroke="none" stroke-width="1"/>
<circle cx="303.52" cy="516.74" r="1.07" fill="#0c1de7" stroke="none" stroke-width="1"/>
<circle cx="288.21" cy="524.58" r="1.09" fill="#1806de" stroke="none" stroke-width="1"/>
<circle cx="328.12" cy="548.81" r="0.90" fill="#1507d7" stroke="none" stroke-width="1"/>
<circle cx="313.64" cy="563.62" r="0.91" fill="#0c09d6" stroke="none" stroke-width="1"/>
<circle cx="301.81" cy="529.98" r="0.85" fill="#0a23eb" stroke="none" stroke-width="1"/>
<circle cx="316.24" cy="568.98" r="0.93" fill="#140dd8" stroke="none" stroke-width="1"/>
<circle cx="327.30" cy="535.23" r="1.20" fill="#1407ef" stroke="none" stroke-width="1"/>
<circle cx="275.54" cy="548.50" r="0.88" fill="#0a0ec7" stroke="none" stroke-width="1"/>
<circle cx="259.36" cy="551.40" r="0.97" fill="#060deb" stroke="none" stroke-width="1"/>
<circle cx="278.63" cy="567.52" r="1.00" fill="#1822e4" stroke="none" stroke-width="1"/>
<circle cx="286.05" cy="531.89" r="1.10" fill="#1e20e6" stroke="none" stroke-width="1"/>
<circle cx="257.37" cy="563.69" r="0.87" fill="#0b23c1" stroke="none" stroke-width="1"/>
<circle cx="307.65" cy="565.62" r="1.08" fill="#0d05d1" stroke="none" stroke-width="1"/>
<circle cx="318.72" cy="558.03" r="0.86" fill="#1124dc" stroke="none" stroke-width="1"/>
<circle cx="288.47" cy="523.36" r="1.06" fill="#1129c3" stroke="none" stroke-width="1"/>
<circle cx="307.69" cy="562.43" r="1.08" fill="#1a1ae4" stroke="none" stroke-width="1"/>
<circle cx="304.28" cy="569.18" r="1.18" fill="#0708f2" stroke="none" stroke-width="1"/>
<circle cx="317.65" cy="567.66" r="0.84" fill="#131ac3" stroke="none" stroke-width="1"/>
<circle cx="299.99" cy="564.04" r="1.07" fill="#1a1ee6" stroke="none" stroke-width="1"/>
<circle cx="269.04" cy="547.77" r="1.04" fill="#0908d5" stroke="none" stroke-width="1"/>
<circle cx="309.89" cy="546.83" r="1.12" fill="#1229ef" stroke="none" stroke-width="1"/>
<circle cx="322.80" cy="546.43" r="0.84" fill="#1b0dd6" stroke="none" stroke-width="1"/>
<circle cx="328.80" cy="534.27" r="0.95" fill="#1d0fe3" stroke="none" stroke-width="1"/>
<circle cx="296.93" cy="530.13" r="1.12" fill="#1225ee" stroke="none" stroke-width="1"/>
<circle cx="299.13" cy="528.71" r="1.05" fill="#092aed" stroke="none" stroke-width="1"/>
<circle cx="283.37" cy="556.26" r="0.99" fill="#1e26d9" stroke="none" stroke-width="1"/>
<circle cx="310.33" cy="545.14" r="1.17" fill="#1505da" stroke="none" stroke-width="1"/>
<circle cx="285.33" cy="540.39" r="1.04" fill="#1217e5" stroke="none" stroke-width="1"/>
<circle cx="291.49" cy="562.71" r="0.82" fill="#0d10dd" stroke="none" stroke-width="1"/>
<circle cx="285.95" cy="533.00" r="1.01" fill="#0b11e4" stroke="none" stroke-width="1"/>
<circle cx="284.62" cy="547.42" r="0.99" fill="#1e1bcb" stroke="none" stroke-width="1"/>
<circle cx="310.03" cy="569.06" r="1.16" fill="#1318f5" stroke="none" stroke-width="1"/>
<circle cx="283.56" cy="540.50" r="0.87" fill="#141bda" stroke="none" stroke-width="1"/>
<circle cx="282.74" cy="537.89" r="1.18" fill="#082dcf" stroke="none" stroke-width="1"/>
<circle cx="271.33" cy="559.16" r="1.12" fill="#1019e7" stroke="none" stroke-width="1"/>
<circle cx="318.73" cy="566.81" r="0.93" fill="#120bef" stroke="none" stroke-width="1"/>
<circle cx="286.15" cy="544.84" r="0.98" fill="#1c12d0" stroke="none" stroke-width="1"/>
<circle cx="289.93" cy="538.90" r="0.86" fill="#1a1fc8" stroke="none" stroke-width="1"/>
<circle cx="257.37" cy="550.09" r="0.93" fill="#0512c0" stroke="none" stroke-width="1"/>
<circle cx="280.01" cy="530.10" r="1.12" fill="#0b1dc9" stroke="none" stroke-width="1"/>
<circle cx="306.93" cy="568.48" r="1.01" fill="#1d2cd3" stroke="none" stroke-width="1"/>
<circle cx="278.30" cy="541.09" r="0.94" fill="#1a2acd" stroke="none" stroke-width="1"/>
<circle cx="311.08" cy="556.73" r="0.83" fill="#1906ed" stroke="none" stroke-width="1"/>
<circle cx="271.89" cy="520.51" r="0.97" fill="#0e11c7" stroke="none" stroke-width="1"/>
<circle cx="311.32" cy="525.89" r="1.14" fill="#1809bf" stroke="none" stroke-width="1"/>
<circle cx="264.25" cy="546.89" r="0.83" fill="#0529ef" stroke="none" stroke-width="1"/>
<circle cx="258.30" cy="562.66" r="0.86" fill="#141eef" stroke="none" stroke-width="1"/>
</g>
<clipPath id="mc5"><rect x="334.60" y="512.00" width="77.2" height="57.2"/></clipPath>
<g clip-path="url(#mc5)">
<rect x="334.60" y="512.00" width="77.20" height="57.20" fill="#000" stroke="none" stroke-width="1"/>
<g filter="url(#gb)">
<path d="M404.3 512.4Q408.9 506.6 414.0 512.9Q409.3 518.7 404.3 512.4Z" fill="#01be18" stroke="#011a01" stroke-width="0.7"/>
<path d="M406.3 512.5Q408.6 509.7 411.1 512.8Q408.8 515.7 406.3 512.5Z" fill="#18ff40"/>
<path d="M397.8 542.6Q405.1 548.4 407.2 559.3Q399.9 553.5 397.8 542.6Z" fill="#04d20a" stroke="#011a01" stroke-width="0.7"/>
<path d="M399.4 546.8Q403.0 549.7 404.0 555.1Q400.4 552.3 399.4 546.8Z" fill="#34ff26"/>
<path d="M394.1 526.0Q391.9 533.0 384.4 530.1Q386.6 523.1 394.1 526.0Z" fill="#04a300" stroke="#011a01" stroke-width="0.7"/>
<path d="M391.3 527.0Q390.2 530.5 386.4 529.1Q387.5 525.6 391.3 527.0Z" fill="#23ff2e"/>
<path d="M395.2 518.0Q399.6 523.6 397.1 531.6Q392.8 525.9 395.2 518.0Z" fill="#06d804" stroke="#011a01" stroke-width="0.7"/>
<path d="M395.2 521.4Q397.3 524.2 396.1 528.1Q393.9 525.4 395.2 521.4Z" fill="#26ff28"/>
<path d="M372.9 515.2Q368.6 520.9 361.2 517.8Q365.4 512.1 372.9 515.2Z" fill="#0f8d0e" stroke="#011a01" stroke-width="0.7"/>
<path d="M369.4 515.9Q367.3 518.7 363.6 517.2Q365.7 514.3 369.4 515.9Z" fill="#0fff36"/>
<path d="M393.8 533.5Q386.1 539.3 375.0 536.8Q382.7 531.0 393.8 533.5Z" fill="#009214" stroke="#011a01" stroke-width="0.7"/>
<path d="M388.3 534.4Q384.5 537.2 379.0 536.0Q382.8 533.1 388.3 534.4Z" fill="#2dff31"/>
<path d="M341.9 512.9Q340.5 522.5 330.2 527.2Q331.6 517.5 341.9 512.9Z" fill="#11e40a" stroke="#011a01" stroke-width="0.7"/>
<path d="M338.2 516.5Q337.5 521.3 332.4 523.6Q333.1 518.8 338.2 516.5Z" fill="#0eff22"/>
<path d="M352.2 539.6Q356.7 537.1 361.2 541.0Q356.7 543.5 352.2 539.6Z" fill="#0aeb0e" stroke="#011a01" stroke-width="0.7"/>
<path d="M354.1 540.0Q356.4 538.7 358.6 540.6Q356.4 541.9 354.1 540.0Z" fill="#44ff1b"/>
<path d="M365.5 556.8Q372.6 556.0 376.0 563.4Q369.0 564.1 365.5 556.8Z" fill="#0ce108" stroke="#011a01" stroke-width="0.7"/>
<path d="M367.7 558.4Q371.2 558.0 372.9 561.7Q369.4 562.1 367.7 558.4Z" fill="#54ff2b"/>
<path d="M404.7 527.4Q412.1 528.8 410.9 537.1Q403.5 535.7 404.7 527.4Z" fill="#0ad402" stroke="#011a01" stroke-width="0.7"/>
<path d="M405.8 529.8Q409.5 530.5 408.9 534.6Q405.2 534.0 405.8 529.8Z" fill="#1cff1e"/>
<path d="M408.0 528.6Q408.2 535.6 400.9 533.9Q400.7 526.9 408.0 528.6Z" fill="#10e908" stroke="#011a01" stroke-width="0.7"/>
<path d="M405.8 529.9Q406.0 533.4 402.3 532.5Q402.2 529.1 405.8 529.9Z" fill="#0aff42"/>
<path d="M377.2 517.2Q373.1 523.9 365.3 520.0Q369.4 513.3 377.2 517.2Z" fill="#02ac03" stroke="#011a01" stroke-width="0.7"/>
<path d="M373.7 517.9Q371.7 521.2 367.8 519.3Q369.8 516.0 373.7 517.9Z" fill="#49ff15"/>
<path d="M383.9 524.1Q393.8 522.8 399.7 532.7Q389.8 534.0 383.9 524.1Z" fill="#008d0a" stroke="#011a01" stroke-width="0.7"/>
<path d="M387.2 526.3Q392.1 525.6 395.0 530.6Q390.1 531.2 387.2 526.3Z" fill="#29ff17"/>
<path d="M376.9 537.5Q375.0 541.9 369.5 541.5Q371.4 537.1 376.9 537.5Z" fill="#08a008" stroke="#011a01" stroke-width="0.7"/>
<path d="M374.7 538.5Q373.7 540.7 371.0 540.5Q372.0 538.3 374.7 538.5Z" fill="#51ff19"/>
<path d="M373.5 533.2Q381.7 534.4 383.6 543.7Q375.4 542.5 373.5 533.2Z" fill="#10c50c" stroke="#011a01" stroke-width="0.7"/>
<path d="M375.5 535.8Q379.6 536.4 380.5 541.0Q376.4 540.5 375.5 535.8Z" fill="#4fff10"/>
<path d="M337.6 505.8Q344.4 510.0 344.7 519.3Q337.9 515.0 337.6 505.8Z" fill="#08e601" stroke="#011a01" stroke-width="0.7"/>
<path d="M338.8 509.2Q342.2 511.3 342.3 515.9Q338.9 513.8 338.8 509.2Z" fill="#5aff46"/>
<path d="M349.7 558.6Q358.0 553.3 367.6 559.4Q359.3 564.7 349.7 558.6Z" fill="#0bea0b" stroke="#011a01" stroke-width="0.7"/>
<path d="M353.5 558.8Q357.6 556.1 362.4 559.2Q358.3 561.9 353.5 558.8Z" fill="#3aff2c"/>
<path d="M381.4 527.1Q388.1 529.1 391.1 536.8Q384.5 534.7 381.4 527.1Z" fill="#14e20f" stroke="#011a01" stroke-width="0.7"/>
<path d="M383.3 529.5Q386.6 530.5 388.1 534.3Q384.8 533.3 383.3 529.5Z" fill="#55ff47"/>
<path d="M406.5 524.4Q413.5 528.2 414.9 537.5Q408.0 533.6 406.5 524.4Z" fill="#0ddc16" stroke="#011a01" stroke-width="0.7"/>
<path d="M408.0 527.7Q411.5 529.6 412.2 534.2Q408.7 532.3 408.0 527.7Z" fill="#16ff46"/>
<path d="M346.2 517.9Q341.4 524.2 332.2 525.8Q336.9 519.5 346.2 517.9Z" fill="#10b803" stroke="#011a01" stroke-width="0.7"/>
<path d="M342.0 519.9Q339.6 523.0 335.0 523.8Q337.4 520.7 342.0 519.9Z" fill="#0bff1e"/>
<path d="M376.8 527.0Q381.5 529.3 381.3 535.3Q376.6 533.0 376.8 527.0Z" fill="#11b515" stroke="#011a01" stroke-width="0.7"/>
<path d="M377.6 529.1Q379.9 530.2 379.8 533.2Q377.4 532.1 377.6 529.1Z" fill="#0eff2c"/>
<path d="M398.7 537.7Q394.8 546.0 384.4 548.9Q388.3 540.7 398.7 537.7Z" fill="#13d712" stroke="#011a01" stroke-width="0.7"/>
<path d="M394.4 540.6Q392.4 544.7 387.3 546.1Q389.2 542.0 394.4 540.6Z" fill="#22ff2b"/>
<path d="M338.5 550.0Q340.2 558.7 331.4 563.5Q329.7 554.9 338.5 550.0Z" fill="#0cb513" stroke="#011a01" stroke-width="0.7"/>
<path d="M336.1 553.4Q337.0 557.7 332.6 560.1Q331.7 555.8 336.1 553.4Z" fill="#2cff23"/>
<path d="M363.7 518.5Q366.3 525.0 362.4 532.2Q359.9 525.7 363.7 518.5Z" fill="#0fb007" stroke="#011a01" stroke-width="0.7"/>
<path d="M362.8 522.0Q364.1 525.2 362.2 528.8Q360.9 525.6 362.8 522.0Z" fill="#27ff50"/>
<path d="M378.2 517.5Q373.0 524.1 363.0 524.4Q368.3 517.8 378.2 517.5Z" fill="#10c211" stroke="#011a01" stroke-width="0.7"/>
<path d="M373.7 519.3Q371.1 522.5 366.2 522.6Q368.8 519.4 373.7 519.3Z" fill="#24ff45"/>
<path d="M407.2 545.7Q412.9 547.4 414.4 554.0Q408.8 552.4 407.2 545.7Z" fill="#14a014" stroke="#011a01" stroke-width="0.7"/>
<path d="M408.6 547.8Q411.4 548.6 412.2 551.9Q409.4 551.1 408.6 547.8Z" fill="#23ff2d"/>
<path d="M404.2 513.0Q412.6 510.1 419.2 517.9Q410.8 520.8 404.2 513.0Z" fill="#049a16" stroke="#011a01" stroke-width="0.7"/>
<path d="M407.4 514.3Q411.5 512.8 414.8 516.7Q410.6 518.1 407.4 514.3Z" fill="#2fff16"/>
<path d="M385.4 515.4Q389.7 523.5 383.5 532.1Q379.3 524.0 385.4 515.4Z" fill="#11b006" stroke="#011a01" stroke-width="0.7"/>
<path d="M384.3 519.6Q386.4 523.6 383.3 527.9Q381.2 523.9 384.3 519.6Z" fill="#2bff2f"/>
<path d="M400.6 516.6Q405.5 523.5 405.1 533.6Q400.3 526.7 400.6 516.6Z" fill="#11e008" stroke="#011a01" stroke-width="0.7"/>
<path d="M401.1 520.9Q403.5 524.3 403.3 529.3Q400.9 525.9 401.1 520.9Z" fill="#4cff22"/>
<path d="M366.5 555.0Q371.4 561.2 367.5 569.3Q362.7 563.2 366.5 555.0Z" fill="#10d402" stroke="#011a01" stroke-width="0.7"/>
<path d="M366.2 558.6Q368.6 561.7 366.7 565.7Q364.3 562.7 366.2 558.6Z" fill="#59ff21"/>
<path d="M377.4 537.3Q372.7 542.7 364.9 540.3Q369.5 534.9 377.4 537.3Z" fill="#0be214" stroke="#011a01" stroke-width="0.7"/>
<path d="M373.7 538.0Q371.4 540.7 367.5 539.5Q369.8 536.8 373.7 538.0Z" fill="#38ff23"/>
<path d="M413.9 524.8Q411.6 529.7 406.1 527.4Q408.4 522.6 413.9 524.8Z" fill="#03a110" stroke="#011a01" stroke-width="0.7"/>
<path d="M411.6 525.5Q410.4 527.9 407.7 526.8Q408.9 524.4 411.6 525.5Z" fill="#41ff50"/>
<path d="M340.3 549.6Q347.3 545.9 355.0 551.0Q348.0 554.6 340.3 549.6Z" fill="#12c013" stroke="#011a01" stroke-width="0.7"/>
<path d="M343.4 549.9Q346.9 548.1 350.7 550.6Q347.2 552.4 343.4 549.9Z" fill="#30ff0a"/>
<path d="M367.6 532.6Q374.4 536.4 371.2 544.4Q364.4 540.7 367.6 532.6Z" fill="#13eb07" stroke="#011a01" stroke-width="0.7"/>
<path d="M368.0 535.6Q371.4 537.4 369.8 541.5Q366.4 539.6 368.0 535.6Z" fill="#33ff27"/>
<path d="M408.8 528.3Q412.9 537.1 407.6 547.1Q403.5 538.4 408.8 528.3Z" fill="#0bae0e" stroke="#011a01" stroke-width="0.7"/>
<path d="M407.7 533.1Q409.8 537.4 407.2 542.4Q405.1 538.1 407.7 533.1Z" fill="#28ff2c"/>
<path d="M355.0 519.0Q355.5 526.9 347.2 530.2Q346.7 522.3 355.0 519.0Z" fill="#029319" stroke="#011a01" stroke-width="0.7"/>
<path d="M352.5 521.8Q352.8 525.7 348.6 527.3Q348.3 523.4 352.5 521.8Z" fill="#12ff11"/>
<path d="M393.2 527.9Q389.2 533.3 381.3 533.1Q385.3 527.7 393.2 527.9Z" fill="#0bcb11" stroke="#011a01" stroke-width="0.7"/>
<path d="M389.7 529.2Q387.7 531.9 383.8 531.8Q385.8 529.1 389.7 529.2Z" fill="#39ff25"/>
<path d="M406.0 511.3Q407.9 519.0 402.4 526.5Q400.5 518.8 406.0 511.3Z" fill="#08ac07" stroke="#011a01" stroke-width="0.7"/>
<path d="M404.5 515.1Q405.4 518.9 402.7 522.7Q401.7 518.8 404.5 515.1Z" fill="#2bff32"/>
<path d="M411.0 519.9Q406.8 523.8 400.5 521.5Q404.7 517.6 411.0 519.9Z" fill="#01cb03" stroke="#011a01" stroke-width="0.7"/>
<path d="M408.0 520.3Q405.9 522.3 402.7 521.1Q404.8 519.1 408.0 520.3Z" fill="#47ff0b"/>
<path d="M413.6 543.7Q415.6 550.4 409.2 555.3Q407.3 548.6 413.6 543.7Z" fill="#06d817" stroke="#011a01" stroke-width="0.7"/>
<path d="M412.0 546.6Q413.0 549.9 409.8 552.3Q408.9 549.0 412.0 546.6Z" fill="#2aff23"/>
<path d="M403.6 547.9Q400.3 555.0 391.2 556.3Q394.5 549.1 403.6 547.9Z" fill="#09cf03" stroke="#011a01" stroke-width="0.7"/>
<path d="M399.9 550.0Q398.3 553.6 393.8 554.2Q395.4 550.6 399.9 550.0Z" fill="#46ff33"/>
<path d="M399.4 550.6Q407.0 553.4 404.0 561.9Q396.4 559.1 399.4 550.6Z" fill="#0fb102" stroke="#011a01" stroke-width="0.7"/>
<path d="M400.1 553.4Q403.9 554.9 402.3 559.1Q398.5 557.7 400.1 553.4Z" fill="#11ff1e"/>
<path d="M382.0 514.1Q388.8 513.4 389.9 521.0Q383.0 521.6 382.0 514.1Z" fill="#008701" stroke="#011a01" stroke-width="0.7"/>
<path d="M383.5 515.8Q386.9 515.5 387.5 519.2Q384.1 519.6 383.5 515.8Z" fill="#40ff43"/>
<path d="M379.5 510.8Q387.2 513.0 391.1 521.6Q383.4 519.3 379.5 510.8Z" fill="#13dc0e" stroke="#011a01" stroke-width="0.7"/>
<path d="M381.8 513.5Q385.6 514.6 387.5 518.8Q383.7 517.7 381.8 513.5Z" fill="#38ff10"/>
<path d="M359.2 539.2Q355.6 545.4 348.8 541.3Q352.4 535.0 359.2 539.2Z" fill="#0bc10f" stroke="#011a01" stroke-width="0.7"/>
<path d="M356.1 539.7Q354.3 542.8 351.0 540.8Q352.8 537.6 356.1 539.7Z" fill="#0bff3c"/>
<path d="M347.9 532.5Q351.7 541.2 346.1 551.0Q342.3 542.2 347.9 532.5Z" fill="#0f8d08" stroke="#011a01" stroke-width="0.7"/>
<path d="M346.7 537.1Q348.6 541.5 345.8 546.3Q343.9 541.9 346.7 537.1Z" fill="#4bff2d"/>
<path d="M386.8 556.1Q394.1 551.6 401.6 558.1Q394.2 562.6 386.8 556.1Z" fill="#07e813" stroke="#011a01" stroke-width="0.7"/>
<path d="M389.9 556.6Q393.6 554.4 397.2 557.6Q393.6 559.9 389.9 556.6Z" fill="#37ff4b"/>
<path d="M395.6 518.8Q398.3 525.4 392.1 530.7Q389.4 524.1 395.6 518.8Z" fill="#07a502" stroke="#011a01" stroke-width="0.7"/>
<path d="M394.2 521.8Q395.6 525.0 392.5 527.7Q391.1 524.4 394.2 521.8Z" fill="#1eff2e"/>
<path d="M377.1 523.0Q385.1 527.3 382.7 537.2Q374.7 532.9 377.1 523.0Z" fill="#08df12" stroke="#011a01" stroke-width="0.7"/>
<path d="M377.9 526.6Q381.9 528.7 380.7 533.6Q376.7 531.5 377.9 526.6Z" fill="#22ff31"/>
<path d="M333.0 552.4Q339.7 558.7 337.4 569.2Q330.7 562.9 333.0 552.4Z" fill="#14ad11" stroke="#011a01" stroke-width="0.7"/>
<path d="M333.4 556.7Q336.8 559.8 335.6 565.0Q332.3 561.9 333.4 556.7Z" fill="#2aff26"/>
<path d="M335.0 564.0Q339.8 559.8 344.3 565.3Q339.4 569.5 335.0 564.0Z" fill="#00cb15" stroke="#011a01" stroke-width="0.7"/>
<path d="M337.0 564.3Q339.4 562.2 341.6 565.0Q339.2 567.1 337.0 564.3Z" fill="#35ff0c"/>
<path d="M354.6 519.6Q362.8 520.1 370.1 526.8Q361.8 526.3 354.6 519.6Z" fill="#02e714" stroke="#011a01" stroke-width="0.7"/>
<path d="M357.8 521.4Q361.9 521.6 365.5 525.0Q361.4 524.8 357.8 521.4Z" fill="#37ff30"/>
<path d="M361.5 557.1Q364.4 565.5 361.4 575.8Q358.5 567.4 361.5 557.1Z" fill="#0b8808" stroke="#011a01" stroke-width="0.7"/>
<path d="M360.7 561.8Q362.2 566.0 360.7 571.1Q359.2 566.9 360.7 561.8Z" fill="#4aff14"/>
<path d="M349.4 539.9Q350.4 547.6 342.2 551.1Q341.2 543.3 349.4 539.9Z" fill="#05880e" stroke="#011a01" stroke-width="0.7"/>
<path d="M347.1 542.7Q347.6 546.6 343.5 548.3Q343.0 544.4 347.1 542.7Z" fill="#57ff3d"/>
<path d="M381.7 533.5Q375.1 540.2 365.8 535.1Q372.3 528.4 381.7 533.5Z" fill="#12d70e" stroke="#011a01" stroke-width="0.7"/>
<path d="M377.0 533.9Q373.8 537.2 369.1 534.7Q372.4 531.4 377.0 533.9Z" fill="#30ff40"/>
<path d="M411.4 556.5Q408.3 562.6 400.5 564.5Q403.5 558.4 411.4 556.5Z" fill="#088810" stroke="#011a01" stroke-width="0.7"/>
<path d="M408.1 558.5Q406.6 561.6 402.7 562.5Q404.2 559.4 408.1 558.5Z" fill="#2cff16"/>
<path d="M352.8 561.4Q353.2 569.0 344.8 569.1Q344.4 561.5 352.8 561.4Z" fill="#12b404" stroke="#011a01" stroke-width="0.7"/>
<path d="M350.3 563.3Q350.5 567.1 346.3 567.1Q346.1 563.3 350.3 563.3Z" fill="#15ff41"/>
<path d="M393.8 514.8Q401.0 513.6 400.8 521.6Q393.6 522.8 393.8 514.8Z" fill="#0de000" stroke="#011a01" stroke-width="0.7"/>
<path d="M395.2 516.5Q398.7 515.9 398.6 519.9Q395.0 520.5 395.2 516.5Z" fill="#43ff17"/>
<path d="M399.2 546.2Q407.9 545.7 413.1 554.3Q404.4 554.8 399.2 546.2Z" fill="#0b9d0c" stroke="#011a01" stroke-width="0.7"/>
<path d="M402.1 548.2Q406.4 548.0 409.0 552.3Q404.7 552.5 402.1 548.2Z" fill="#11ff0a"/>
<path d="M399.7 563.5Q406.0 562.6 410.7 568.3Q404.4 569.2 399.7 563.5Z" fill="#11d90c" stroke="#011a01" stroke-width="0.7"/>
<path d="M402.0 564.7Q405.1 564.2 407.5 567.1Q404.3 567.6 402.0 564.7Z" fill="#44ff31"/>
<path d="M373.2 534.0Q380.8 531.9 385.4 539.6Q377.8 541.7 373.2 534.0Z" fill="#088814" stroke="#011a01" stroke-width="0.7"/>
<path d="M375.8 535.4Q379.5 534.3 381.8 538.2Q378.0 539.2 375.8 535.4Z" fill="#0aff1c"/>
<path d="M407.9 560.1Q413.3 558.8 415.5 564.6Q410.1 565.9 407.9 560.1Z" fill="#0db40a" stroke="#011a01" stroke-width="0.7"/>
<path d="M409.4 561.3Q412.1 560.6 413.3 563.5Q410.6 564.2 409.4 561.3Z" fill="#35ff36"/>
<path d="M408.5 532.9Q401.3 537.2 392.4 533.0Q399.6 528.7 408.5 532.9Z" fill="#00a70e" stroke="#011a01" stroke-width="0.7"/>
<path d="M403.8 532.9Q400.2 535.1 395.8 533.0Q399.4 530.8 403.8 532.9Z" fill="#11ff1a"/>
<path d="M357.0 545.2Q358.3 553.8 349.3 557.5Q348.0 549.0 357.0 545.2Z" fill="#0eb10b" stroke="#011a01" stroke-width="0.7"/>
<path d="M354.5 548.3Q355.2 552.6 350.7 554.4Q350.0 550.2 354.5 548.3Z" fill="#56ff47"/>
<path d="M395.2 529.2Q402.8 528.4 403.3 536.8Q395.7 537.6 395.2 529.2Z" fill="#0cc009" stroke="#011a01" stroke-width="0.7"/>
<path d="M396.8 531.1Q400.6 530.7 400.8 534.9Q397.1 535.3 396.8 531.1Z" fill="#0bff37"/>
<path d="M341.9 511.3Q346.6 514.2 346.3 520.6Q341.6 517.7 341.9 511.3Z" fill="#128815" stroke="#011a01" stroke-width="0.7"/>
<path d="M342.6 513.6Q344.9 515.1 344.8 518.2Q342.4 516.8 342.6 513.6Z" fill="#33ff0a"/>
<path d="M331.6 553.4Q337.6 548.6 344.3 554.1Q338.3 558.9 331.6 553.4Z" fill="#0bb002" stroke="#011a01" stroke-width="0.7"/>
<path d="M334.3 553.6Q337.3 551.2 340.6 553.9Q337.6 556.4 334.3 553.6Z" fill="#39ff0b"/>
<path d="M400.9 548.5Q396.8 554.6 391.3 548.9Q395.4 542.9 400.9 548.5Z" fill="#0c900b" stroke="#011a01" stroke-width="0.7"/>
<path d="M398.1 548.6Q396.1 551.7 393.3 548.8Q395.3 545.8 398.1 548.6Z" fill="#1dff2f"/>
<path d="M372.7 522.4Q376.0 530.1 370.6 538.2Q367.3 530.5 372.7 522.4Z" fill="#00eb09" stroke="#011a01" stroke-width="0.7"/>
<path d="M371.6 526.4Q373.2 530.2 370.5 534.2Q368.8 530.4 371.6 526.4Z" fill="#49ff25"/>
<path d="M399.1 551.9Q407.6 547.1 417.2 553.1Q408.7 557.9 399.1 551.9Z" fill="#02e90c" stroke="#011a01" stroke-width="0.7"/>
<path d="M403.0 552.2Q407.2 549.8 411.9 552.8Q407.7 555.2 403.0 552.2Z" fill="#1fff14"/>
<path d="M374.7 523.5Q378.1 530.5 370.6 534.9Q367.3 527.9 374.7 523.5Z" fill="#149608" stroke="#011a01" stroke-width="0.7"/>
<path d="M373.2 526.4Q374.9 529.9 371.2 532.1Q369.5 528.6 373.2 526.4Z" fill="#28ff18"/>
<path d="M353.6 509.8Q358.1 515.2 353.6 521.9Q349.1 516.5 353.6 509.8Z" fill="#0bd409" stroke="#011a01" stroke-width="0.7"/>
<path d="M353.1 512.8Q355.4 515.5 353.1 518.9Q350.8 516.2 353.1 512.8Z" fill="#3fff0c"/>
<path d="M405.8 517.2Q413.1 522.2 410.3 531.9Q403.0 526.9 405.8 517.2Z" fill="#08c90c" stroke="#011a01" stroke-width="0.7"/>
<path d="M406.3 520.9Q410.0 523.4 408.6 528.2Q404.9 525.8 406.3 520.9Z" fill="#51ff36"/>
<path d="M390.5 520.1Q386.3 528.1 376.7 532.9Q380.9 525.0 390.5 520.1Z" fill="#03b206" stroke="#011a01" stroke-width="0.7"/>
<path d="M386.2 523.4Q384.2 527.3 379.4 529.7Q381.5 525.7 386.2 523.4Z" fill="#30ff3e"/>
<path d="M331.7 521.8Q340.9 525.2 342.4 536.4Q333.2 533.0 331.7 521.8Z" fill="#00de03" stroke="#011a01" stroke-width="0.7"/>
<path d="M333.7 525.5Q338.2 527.2 339.0 532.7Q334.4 531.1 333.7 525.5Z" fill="#4fff4e"/>
<path d="M339.9 547.2Q338.4 555.9 330.6 563.0Q332.0 554.3 339.9 547.2Z" fill="#01d105" stroke="#011a01" stroke-width="0.7"/>
<path d="M336.8 551.2Q336.1 555.5 332.2 559.0Q332.9 554.7 336.8 551.2Z" fill="#16ff25"/>
<path d="M374.3 560.1Q382.9 556.6 390.3 564.3Q381.7 567.8 374.3 560.1Z" fill="#0ea004" stroke="#011a01" stroke-width="0.7"/>
<path d="M377.6 561.1Q381.9 559.4 385.6 563.2Q381.3 565.0 377.6 561.1Z" fill="#35ff10"/>
<path d="M415.3 544.9Q412.8 550.5 406.3 548.2Q408.8 542.5 415.3 544.9Z" fill="#04a119" stroke="#011a01" stroke-width="0.7"/>
<path d="M412.7 545.7Q411.4 548.5 408.2 547.4Q409.4 544.5 412.7 545.7Z" fill="#3cff42"/>
<path d="M406.3 544.0Q411.1 544.5 412.0 549.9Q407.2 549.4 406.3 544.0Z" fill="#03ab18" stroke="#011a01" stroke-width="0.7"/>
<path d="M407.4 545.5Q409.8 545.8 410.3 548.5Q407.9 548.2 407.4 545.5Z" fill="#48ff40"/>
<path d="M393.9 548.8Q403.2 548.4 410.3 556.8Q400.9 557.2 393.9 548.8Z" fill="#0fd311" stroke="#011a01" stroke-width="0.7"/>
<path d="M397.3 550.8Q401.9 550.6 405.4 554.8Q400.8 555.0 397.3 550.8Z" fill="#32ff13"/>
<path d="M415.2 551.5Q409.6 558.2 399.4 557.0Q405.1 550.3 415.2 551.5Z" fill="#0fb303" stroke="#011a01" stroke-width="0.7"/>
<path d="M410.6 552.9Q407.8 556.2 402.8 555.6Q405.6 552.3 410.6 552.9Z" fill="#1fff28"/>
<path d="M351.6 506.0Q347.6 514.0 338.1 518.9Q342.0 510.9 351.6 506.0Z" fill="#0fa10d" stroke="#011a01" stroke-width="0.7"/>
<path d="M347.4 509.3Q345.5 513.2 340.7 515.6Q342.7 511.7 347.4 509.3Z" fill="#3eff12"/>
<path d="M383.6 516.6Q378.4 523.0 368.7 522.5Q373.9 516.1 383.6 516.6Z" fill="#02eb13" stroke="#011a01" stroke-width="0.7"/>
<path d="M379.2 518.1Q376.6 521.3 371.8 521.0Q374.4 517.8 379.2 518.1Z" fill="#26ff37"/>
<path d="M339.8 539.7Q342.2 545.3 337.2 550.1Q334.8 544.5 339.8 539.7Z" fill="#0dc216" stroke="#011a01" stroke-width="0.7"/>
<path d="M338.7 542.3Q339.9 545.1 337.4 547.5Q336.3 544.7 338.7 542.3Z" fill="#0aff2e"/>
<path d="M353.4 546.9Q349.8 551.9 342.7 551.2Q346.3 546.1 353.4 546.9Z" fill="#0f9c13" stroke="#011a01" stroke-width="0.7"/>
<path d="M350.2 547.9Q348.4 550.4 344.9 550.1Q346.7 547.6 350.2 547.9Z" fill="#27ff44"/>
<path d="M347.1 559.7Q340.1 564.6 330.4 561.8Q337.4 556.9 347.1 559.7Z" fill="#00e113" stroke="#011a01" stroke-width="0.7"/>
<path d="M342.2 560.2Q338.7 562.7 333.9 561.3Q337.4 558.8 342.2 560.2Z" fill="#1fff3a"/>
<path d="M374.2 523.1Q380.4 522.1 384.6 528.0Q378.5 528.9 374.2 523.1Z" fill="#07df02" stroke="#011a01" stroke-width="0.7"/>
<path d="M376.4 524.3Q379.5 523.8 381.6 526.7Q378.5 527.2 376.4 524.3Z" fill="#34ff22"/>
<path d="M359.6 514.6Q358.4 523.0 348.9 523.7Q350.1 515.3 359.6 514.6Z" fill="#059619" stroke="#011a01" stroke-width="0.7"/>
<path d="M356.3 516.9Q355.8 521.1 351.0 521.4Q351.6 517.2 356.3 516.9Z" fill="#1cff36"/>
<path d="M364.5 558.8Q367.1 565.7 360.6 571.0Q358.0 564.1 364.5 558.8Z" fill="#0cb903" stroke="#011a01" stroke-width="0.7"/>
<path d="M363.0 561.9Q364.3 565.3 361.1 567.9Q359.8 564.5 363.0 561.9Z" fill="#57ff4f"/>
<path d="M345.7 530.0Q351.5 526.6 356.3 532.5Q350.5 535.8 345.7 530.0Z" fill="#0d930c" stroke="#011a01" stroke-width="0.7"/>
<path d="M348.0 530.6Q350.8 528.9 353.2 531.8Q350.3 533.5 348.0 530.6Z" fill="#58ff14"/>
<path d="M366.7 533.5Q372.1 537.2 367.9 543.0Q362.5 539.3 366.7 533.5Z" fill="#10b408" stroke="#011a01" stroke-width="0.7"/>
<path d="M366.6 535.9Q369.3 537.7 367.2 540.6Q364.5 538.7 366.6 535.9Z" fill="#17ff20"/>
<path d="M412.9 515.2Q410.0 524.3 399.1 524.6Q402.0 515.5 412.9 515.2Z" fill="#0cae0c" stroke="#011a01" stroke-width="0.7"/>
<path d="M408.8 517.6Q407.3 522.1 401.9 522.2Q403.4 517.7 408.8 517.6Z" fill="#1cff35"/>
<path d="M406.0 532.3Q407.8 539.0 400.6 541.8Q398.8 535.2 406.0 532.3Z" fill="#0e9b11" stroke="#011a01" stroke-width="0.7"/>
<path d="M404.2 534.7Q405.1 538.0 401.6 539.4Q400.6 536.1 404.2 534.7Z" fill="#49ff1f"/>
<path d="M372.4 520.0Q369.6 525.7 362.3 525.8Q365.1 520.1 372.4 520.0Z" fill="#08da0f" stroke="#011a01" stroke-width="0.7"/>
<path d="M369.4 521.5Q368.0 524.3 364.4 524.4Q365.8 521.5 369.4 521.5Z" fill="#21ff27"/>
<path d="M392.0 543.4Q398.8 548.1 397.0 557.4Q390.2 552.7 392.0 543.4Z" fill="#04a400" stroke="#011a01" stroke-width="0.7"/>
<path d="M392.7 546.9Q396.1 549.2 395.2 553.9Q391.8 551.6 392.7 546.9Z" fill="#31ff16"/>
<path d="M353.9 559.3Q351.3 567.3 342.2 571.1Q344.8 563.1 353.9 559.3Z" fill="#10e106" stroke="#011a01" stroke-width="0.7"/>
<path d="M350.3 562.3Q349.0 566.3 344.5 568.1Q345.8 564.2 350.3 562.3Z" fill="#3aff2c"/>
<path d="M398.0 550.3Q406.0 553.8 409.9 563.4Q401.9 559.8 398.0 550.3Z" fill="#0c9610" stroke="#011a01" stroke-width="0.7"/>
<path d="M400.3 553.6Q404.3 555.3 406.2 560.1Q402.2 558.3 400.3 553.6Z" fill="#1bff41"/>
<path d="M414.1 552.1Q414.4 560.8 407.3 568.2Q407.0 559.6 414.1 552.1Z" fill="#039b09" stroke="#011a01" stroke-width="0.7"/>
<path d="M411.7 556.2Q411.8 560.5 408.3 564.2Q408.2 559.9 411.7 556.2Z" fill="#28ff45"/>
<path d="M402.1 514.7Q399.0 519.0 393.1 517.4Q396.2 513.1 402.1 514.7Z" fill="#07e819" stroke="#011a01" stroke-width="0.7"/>
<path d="M399.4 515.4Q397.9 517.5 395.0 516.7Q396.5 514.6 399.4 515.4Z" fill="#46ff17"/>
<path d="M340.6 528.1Q339.5 533.6 333.4 532.2Q334.5 526.7 340.6 528.1Z" fill="#049602" stroke="#011a01" stroke-width="0.7"/>
<path d="M338.4 529.1Q337.9 531.9 334.9 531.2Q335.4 528.4 338.4 529.1Z" fill="#15ff12"/>
<path d="M404.7 554.9Q410.3 558.0 405.7 563.3Q400.1 560.1 404.7 554.9Z" fill="#04a00c" stroke="#011a01" stroke-width="0.7"/>
<path d="M404.6 557.0Q407.4 558.5 405.1 561.1Q402.3 559.6 404.6 557.0Z" fill="#4fff40"/>
<path d="M347.2 565.8Q355.5 563.8 364.8 567.9Q356.5 570.0 347.2 565.8Z" fill="#108406" stroke="#011a01" stroke-width="0.7"/>
<path d="M350.9 566.4Q355.0 565.3 359.7 567.4Q355.6 568.4 350.9 566.4Z" fill="#10ff48"/>
<path d="M330.6 565.1Q338.8 560.2 348.6 565.5Q340.4 570.4 330.6 565.1Z" fill="#0cd508" stroke="#011a01" stroke-width="0.7"/>
<path d="M334.4 565.2Q338.5 562.7 343.4 565.4Q339.3 567.8 334.4 565.2Z" fill="#3cff3f"/>
<path d="M371.7 516.7Q374.1 524.5 365.9 528.7Q363.5 520.9 371.7 516.7Z" fill="#128f0c" stroke="#011a01" stroke-width="0.7"/>
<path d="M369.7 519.7Q370.9 523.6 366.8 525.7Q365.6 521.8 369.7 519.7Z" fill="#5aff1c"/>
<path d="M410.3 523.7Q415.8 531.4 410.0 540.6Q404.5 532.9 410.3 523.7Z" fill="#07a815" stroke="#011a01" stroke-width="0.7"/>
<path d="M409.5 528.0Q412.3 531.8 409.4 536.3Q406.6 532.5 409.5 528.0Z" fill="#1aff27"/>
<path d="M356.6 543.8Q356.6 551.2 348.5 553.3Q348.6 546.0 356.6 543.8Z" fill="#03b714" stroke="#011a01" stroke-width="0.7"/>
<path d="M354.1 546.2Q354.1 549.9 350.1 550.9Q350.1 547.3 354.1 546.2Z" fill="#3fff10"/>
<path d="M384.9 516.2Q391.7 513.8 398.3 519.1Q391.5 521.5 384.9 516.2Z" fill="#14c10c" stroke="#011a01" stroke-width="0.7"/>
<path d="M387.7 517.0Q391.1 515.8 394.3 518.4Q391.0 519.6 387.7 517.0Z" fill="#57ff26"/>
<path d="M356.7 527.8Q358.3 536.8 352.7 546.2Q351.2 537.2 356.7 527.8Z" fill="#05c210" stroke="#011a01" stroke-width="0.7"/>
<path d="M355.0 532.4Q355.8 536.9 353.0 541.6Q352.2 537.1 355.0 532.4Z" fill="#45ff50"/>
<path d="M347.2 514.3Q355.0 515.9 354.3 524.8Q346.5 523.2 347.2 514.3Z" fill="#09dc06" stroke="#011a01" stroke-width="0.7"/>
<path d="M348.5 516.9Q352.4 517.7 352.0 522.2Q348.2 521.3 348.5 516.9Z" fill="#0fff34"/>
<path d="M398.9 556.3Q407.1 553.0 416.7 557.2Q408.5 560.4 398.9 556.3Z" fill="#0eab00" stroke="#011a01" stroke-width="0.7"/>
<path d="M402.7 556.5Q406.7 554.9 411.5 557.0Q407.4 558.6 402.7 556.5Z" fill="#4dff40"/>
<path d="M342.6 506.7Q339.4 515.4 329.0 518.9Q332.2 510.1 342.6 506.7Z" fill="#09c205" stroke="#011a01" stroke-width="0.7"/>
<path d="M338.4 509.8Q336.9 514.1 331.7 515.8Q333.3 511.5 338.4 509.8Z" fill="#23ff0d"/>
<path d="M349.1 510.9Q351.4 519.6 347.2 529.5Q344.9 520.8 349.1 510.9Z" fill="#10d909" stroke="#011a01" stroke-width="0.7"/>
<path d="M347.9 515.6Q349.0 519.9 346.9 524.8Q345.8 520.5 347.9 515.6Z" fill="#55ff41"/>
<path d="M389.2 508.5Q393.0 514.5 386.1 518.1Q382.3 512.1 389.2 508.5Z" fill="#0ece15" stroke="#011a01" stroke-width="0.7"/>
<path d="M388.0 510.9Q389.9 513.9 386.5 515.7Q384.5 512.7 388.0 510.9Z" fill="#50ff39"/>
<path d="M337.6 519.9Q343.5 522.4 339.6 528.3Q333.7 525.7 337.6 519.9Z" fill="#12be0a" stroke="#011a01" stroke-width="0.7"/>
<path d="M337.7 522.0Q340.7 523.2 338.8 526.1Q335.8 524.9 337.7 522.0Z" fill="#12ff0c"/>
<path d="M339.5 520.7Q346.8 520.4 349.9 528.1Q342.6 528.4 339.5 520.7Z" fill="#08e60f" stroke="#011a01" stroke-width="0.7"/>
<path d="M341.6 522.6Q345.2 522.4 346.7 526.2Q343.1 526.4 341.6 522.6Z" fill="#53ff0f"/>
<path d="M360.7 524.7Q356.8 528.2 351.2 526.2Q355.0 522.7 360.7 524.7Z" fill="#0ab512" stroke="#011a01" stroke-width="0.7"/>
<path d="M357.9 525.1Q356.0 526.8 353.2 525.8Q355.1 524.1 357.9 525.1Z" fill="#25ff41"/>
<path d="M409.7 508.5Q414.0 513.8 409.2 519.8Q404.9 514.5 409.7 508.5Z" fill="#00e30e" stroke="#011a01" stroke-width="0.7"/>
<path d="M409.2 511.4Q411.3 514.0 408.9 517.0Q406.8 514.4 409.2 511.4Z" fill="#46ff32"/>
<path d="M337.8 525.1Q344.6 529.0 343.6 537.9Q336.9 534.0 337.8 525.1Z" fill="#0faa09" stroke="#011a01" stroke-width="0.7"/>
<path d="M338.7 528.3Q342.1 530.2 341.6 534.7Q338.2 532.8 338.7 528.3Z" fill="#1bff46"/>
<path d="M373.5 511.6Q377.7 517.6 375.5 526.0Q371.2 520.0 373.5 511.6Z" fill="#01af04" stroke="#011a01" stroke-width="0.7"/>
<path d="M373.4 515.2Q375.5 518.2 374.4 522.4Q372.3 519.4 373.4 515.2Z" fill="#15ff13"/>
<path d="M403.3 549.2Q405.1 556.3 399.2 562.4Q397.4 555.3 403.3 549.2Z" fill="#04b90a" stroke="#011a01" stroke-width="0.7"/>
<path d="M401.7 552.5Q402.6 556.0 399.7 559.1Q398.7 555.5 401.7 552.5Z" fill="#34ff25"/>
<path d="M394.5 548.6Q400.7 555.3 396.5 565.0Q390.3 558.3 394.5 548.6Z" fill="#12ca11" stroke="#011a01" stroke-width="0.7"/>
<path d="M394.3 552.8Q397.4 556.1 395.4 560.9Q392.2 557.6 394.3 552.8Z" fill="#1eff46"/>
<path d="M345.5 533.3Q351.7 529.1 358.8 533.8Q352.7 538.0 345.5 533.3Z" fill="#08a009" stroke="#011a01" stroke-width="0.7"/>
<path d="M348.3 533.4Q351.4 531.3 354.9 533.7Q351.9 535.8 348.3 533.4Z" fill="#10ff3a"/>
<path d="M417.0 528.2Q413.6 536.3 403.6 539.3Q407.0 531.2 417.0 528.2Z" fill="#12ab17" stroke="#011a01" stroke-width="0.7"/>
<path d="M412.9 531.0Q411.2 535.0 406.3 536.5Q408.0 532.5 412.9 531.0Z" fill="#33ff35"/>
<path d="M338.0 537.4Q346.1 538.3 347.1 547.5Q339.0 546.5 338.0 537.4Z" fill="#02b801" stroke="#011a01" stroke-width="0.7"/>
<path d="M339.8 539.9Q343.8 540.4 344.3 544.9Q340.3 544.5 339.8 539.9Z" fill="#0aff2c"/>
<path d="M357.1 549.1Q351.7 557.9 340.0 556.2Q345.4 547.5 357.1 549.1Z" fill="#14de0e" stroke="#011a01" stroke-width="0.7"/>
<path d="M352.0 550.9Q349.4 555.3 343.6 554.4Q346.2 550.1 352.0 550.9Z" fill="#4aff0a"/>
<path d="M356.4 552.5Q364.0 549.6 368.4 557.7Q360.7 560.6 356.4 552.5Z" fill="#03be08" stroke="#011a01" stroke-width="0.7"/>
<path d="M358.9 553.8Q362.7 552.3 364.8 556.4Q361.0 557.9 358.9 553.8Z" fill="#26ff20"/>
<path d="M387.6 550.9Q393.0 547.2 396.7 553.4Q391.2 557.1 387.6 550.9Z" fill="#0a8e06" stroke="#011a01" stroke-width="0.7"/>
<path d="M389.5 551.5Q392.2 549.7 394.0 552.8Q391.3 554.6 389.5 551.5Z" fill="#2eff2b"/>
<path d="M354.3 559.4Q361.1 560.9 362.2 568.8Q355.4 567.3 354.3 559.4Z" fill="#03de19" stroke="#011a01" stroke-width="0.7"/>
<path d="M355.8 561.7Q359.2 562.5 359.8 566.4Q356.4 565.7 355.8 561.7Z" fill="#2cff34"/>
<path d="M388.4 540.2Q395.9 539.7 395.6 547.9Q388.1 548.4 388.4 540.2Z" fill="#0f8f04" stroke="#011a01" stroke-width="0.7"/>
<path d="M389.8 542.1Q393.5 541.9 393.4 546.0Q389.6 546.2 389.8 542.1Z" fill="#25ff15"/>
<path d="M390.9 565.0Q392.0 570.9 385.6 571.6Q384.4 565.8 390.9 565.0Z" fill="#14e70e" stroke="#011a01" stroke-width="0.7"/>
<path d="M389.2 566.7Q389.8 569.6 386.6 570.0Q386.0 567.1 389.2 566.7Z" fill="#45ff1c"/>
<path d="M370.2 521.4Q374.4 527.4 368.7 533.3Q364.5 527.3 370.2 521.4Z" fill="#049510" stroke="#011a01" stroke-width="0.7"/>
<path d="M369.3 524.4Q371.4 527.4 368.6 530.3Q366.5 527.3 369.3 524.4Z" fill="#4cff33"/>
<path d="M396.4 518.8Q403.0 525.3 403.1 536.4Q396.4 529.8 396.4 518.8Z" fill="#06d508" stroke="#011a01" stroke-width="0.7"/>
<path d="M397.3 523.2Q400.6 526.4 400.7 531.9Q397.3 528.7 397.3 523.2Z" fill="#40ff0a"/>
<path d="M354.5 510.3Q362.4 513.0 366.1 522.3Q358.2 519.5 354.5 510.3Z" fill="#0cd211" stroke="#011a01" stroke-width="0.7"/>
<path d="M356.8 513.3Q360.7 514.7 362.5 519.2Q358.6 517.9 356.8 513.3Z" fill="#2aff13"/>
<path d="M394.1 510.2Q399.9 508.4 403.2 514.3Q397.5 516.0 394.1 510.2Z" fill="#0fdd04" stroke="#011a01" stroke-width="0.7"/>
<path d="M396.0 511.2Q398.9 510.3 400.5 513.3Q397.7 514.1 396.0 511.2Z" fill="#11ff4f"/>
<path d="M384.3 525.9Q390.3 522.2 393.2 529.3Q387.3 533.0 384.3 525.9Z" fill="#048c0d" stroke="#011a01" stroke-width="0.7"/>
<path d="M386.2 526.8Q389.2 524.9 390.6 528.4Q387.7 530.3 386.2 526.8Z" fill="#55ff3b"/>
<path d="M396.1 513.4Q398.3 520.4 394.2 528.0Q392.0 521.1 396.1 513.4Z" fill="#118e14" stroke="#011a01" stroke-width="0.7"/>
<path d="M395.0 517.1Q396.1 520.5 394.1 524.3Q393.0 520.9 395.0 517.1Z" fill="#51ff49"/>
<path d="M388.6 531.3Q385.9 537.7 378.2 540.7Q381.0 534.3 388.6 531.3Z" fill="#07b705" stroke="#011a01" stroke-width="0.7"/>
<path d="M385.4 533.6Q384.1 536.8 380.3 538.3Q381.6 535.1 385.4 533.6Z" fill="#20ff50"/>
<path d="M408.7 513.2Q414.5 518.9 410.8 527.5Q405.1 521.8 408.7 513.2Z" fill="#10a516" stroke="#011a01" stroke-width="0.7"/>
<path d="M408.7 516.8Q411.5 519.7 409.7 523.9Q406.8 521.1 408.7 516.8Z" fill="#36ff28"/>
<path d="M346.9 533.4Q353.9 538.3 349.7 547.0Q342.8 542.0 346.9 533.4Z" fill="#05df07" stroke="#011a01" stroke-width="0.7"/>
<path d="M347.1 536.8Q350.6 539.2 348.5 543.5Q345.0 541.1 347.1 536.8Z" fill="#24ff20"/>
<path d="M405.5 562.2Q412.3 562.0 417.6 568.2Q410.8 568.3 405.5 562.2Z" fill="#0bbc01" stroke="#011a01" stroke-width="0.7"/>
<path d="M408.0 563.7Q411.4 563.6 414.0 566.7Q410.6 566.8 408.0 563.7Z" fill="#4bff0e"/>
</g>
<circle cx="393.62" cy="518.94" r="0.85" fill="#1d21e2" stroke="none" stroke-width="1"/>
<circle cx="390.07" cy="536.77" r="1.04" fill="#0624e8" stroke="none" stroke-width="1"/>
<circle cx="408.92" cy="522.40" r="0.90" fill="#1c11f2" stroke="none" stroke-width="1"/>
<circle cx="382.17" cy="532.76" r="1.10" fill="#110fbe" stroke="none" stroke-width="1"/>
<circle cx="379.27" cy="553.21" r="1.02" fill="#1817f3" stroke="none" stroke-width="1"/>
<circle cx="375.96" cy="549.24" r="1.18" fill="#0b12d3" stroke="none" stroke-width="1"/>
<circle cx="398.83" cy="540.64" r="0.86" fill="#1012cb" stroke="none" stroke-width="1"/>
<circle cx="372.34" cy="544.52" r="1.00" fill="#0608d8" stroke="none" stroke-width="1"/>
<circle cx="346.71" cy="518.64" r="1.16" fill="#0f13d5" stroke="none" stroke-width="1"/>
<circle cx="378.08" cy="558.41" r="0.99" fill="#1e21f1" stroke="none" stroke-width="1"/>
<circle cx="384.38" cy="547.32" r="0.95" fill="#0f0aca" stroke="none" stroke-width="1"/>
<circle cx="404.61" cy="526.72" r="1.15" fill="#0910c3" stroke="none" stroke-width="1"/>
<circle cx="372.37" cy="560.06" r="0.87" fill="#1517c6" stroke="none" stroke-width="1"/>
<circle cx="374.71" cy="561.08" r="0.89" fill="#0a16df" stroke="none" stroke-width="1"/>
<circle cx="403.05" cy="548.79" r="0.90" fill="#0f18e4" stroke="none" stroke-width="1"/>
<circle cx="364.37" cy="557.36" r="0.81" fill="#0f2cd1" stroke="none" stroke-width="1"/>
<circle cx="378.35" cy="555.40" r="0.82" fill="#1107bf" stroke="none" stroke-width="1"/>
<circle cx="353.36" cy="562.14" r="1.18" fill="#0c0fcb" stroke="none" stroke-width="1"/>
<circle cx="385.66" cy="540.81" r="0.90" fill="#0f16cb" stroke="none" stroke-width="1"/>
<circle cx="388.82" cy="553.36" r="1.16" fill="#0b07c1" stroke="none" stroke-width="1"/>
<circle cx="383.09" cy="539.81" r="1.12" fill="#1117eb" stroke="none" stroke-width="1"/>
<circle cx="359.81" cy="557.77" r="1.00" fill="#1c1ed8" stroke="none" stroke-width="1"/>
<circle cx="370.99" cy="541.52" r="1.12" fill="#0b24d8" stroke="none" stroke-width="1"/>
<circle cx="377.60" cy="546.21" r="0.91" fill="#121bea" stroke="none" stroke-width="1"/>
<circle cx="405.28" cy="545.31" r="0.89" fill="#0925cf" stroke="none" stroke-width="1"/>
<circle cx="410.38" cy="537.94" r="1.06" fill="#0b2ad2" stroke="none" stroke-width="1"/>
<circle cx="373.62" cy="555.23" r="1.03" fill="#1d2dc8" stroke="none" stroke-width="1"/>
<circle cx="350.08" cy="526.89" r="0.80" fill="#171de4" stroke="none" stroke-width="1"/>
<circle cx="360.23" cy="540.34" r="0.84" fill="#1915d2" stroke="none" stroke-width="1"/>
<circle cx="374.72" cy="512.82" r="0.90" fill="#080ac8" stroke="none" stroke-width="1"/>
<circle cx="365.28" cy="557.68" r="0.90" fill="#1528e3" stroke="none" stroke-width="1"/>
<circle cx="358.92" cy="568.16" r="0.80" fill="#0718e3" stroke="none" stroke-width="1"/>
<circle cx="380.96" cy="541.68" r="0.97" fill="#0d17f2" stroke="none" stroke-width="1"/>
<circle cx="354.34" cy="550.69" r="0.96" fill="#1224c8" stroke="none" stroke-width="1"/>
</g>
<clipPath id="mc6"><rect x="416.50" y="512.00" width="77.2" height="57.2"/></clipPath>
<g clip-path="url(#mc6)">
<rect x="416.50" y="512.00" width="77.20" height="57.20" fill="#000" stroke="none" stroke-width="1"/>
<g filter="url(#gb)">
<ellipse cx="441.2" cy="529.7" rx="3.0" ry="2.2" fill="#09b307" transform="rotate(65 441.2 529.7)"/>
<ellipse cx="441.2" cy="529.7" rx="1.7" ry="1.2" fill="#31ff38" transform="rotate(65 441.2 529.7)"/>
<ellipse cx="435.0" cy="540.0" rx="3.3" ry="2.4" fill="#02900b" transform="rotate(86 435.0 540.0)"/>
<ellipse cx="435.0" cy="540.0" rx="1.8" ry="1.3" fill="#49ff40" transform="rotate(86 435.0 540.0)"/>
<ellipse cx="450.5" cy="546.3" rx="2.9" ry="2.1" fill="#05a912" transform="rotate(75 450.5 546.3)"/>
<ellipse cx="450.5" cy="546.3" rx="1.6" ry="1.1" fill="#2fff0f" transform="rotate(75 450.5 546.3)"/>
<ellipse cx="463.6" cy="547.5" rx="3.2" ry="2.3" fill="#029219" transform="rotate(80 463.6 547.5)"/>
<ellipse cx="463.6" cy="547.5" rx="1.7" ry="1.3" fill="#0aff4c" transform="rotate(80 463.6 547.5)"/>
<ellipse cx="459.7" cy="551.5" rx="3.4" ry="2.5" fill="#0f9b04" transform="rotate(74 459.7 551.5)"/>
<ellipse cx="459.7" cy="551.5" rx="1.9" ry="1.4" fill="#31ff30" transform="rotate(74 459.7 551.5)"/>
<ellipse cx="438.1" cy="550.3" rx="2.9" ry="2.1" fill="#0e9602" transform="rotate(118 438.1 550.3)"/>
<ellipse cx="438.1" cy="550.3" rx="1.6" ry="1.1" fill="#1fff47" transform="rotate(118 438.1 550.3)"/>
<ellipse cx="447.4" cy="550.9" rx="3.2" ry="2.3" fill="#00bd0e" transform="rotate(47 447.4 550.9)"/>
<ellipse cx="447.4" cy="550.9" rx="1.7" ry="1.3" fill="#48ff0b" transform="rotate(47 447.4 550.9)"/>
<ellipse cx="442.7" cy="556.6" rx="2.9" ry="2.1" fill="#0fcf16" transform="rotate(114 442.7 556.6)"/>
<ellipse cx="442.7" cy="556.6" rx="1.6" ry="1.1" fill="#19ff44" transform="rotate(114 442.7 556.6)"/>
<ellipse cx="441.2" cy="562.9" rx="2.7" ry="2.0" fill="#02c70f" transform="rotate(2 441.2 562.9)"/>
<ellipse cx="441.2" cy="562.9" rx="1.5" ry="1.1" fill="#0cff1c" transform="rotate(2 441.2 562.9)"/>
<ellipse cx="472.1" cy="539.5" rx="2.4" ry="1.8" fill="#0cbb0b" transform="rotate(54 472.1 539.5)"/>
<ellipse cx="472.1" cy="539.5" rx="1.3" ry="1.0" fill="#0eff4f" transform="rotate(54 472.1 539.5)"/>
<ellipse cx="475.9" cy="514.3" rx="2.9" ry="2.1" fill="#147c0c" transform="rotate(60 475.9 514.3)"/>
<ellipse cx="475.9" cy="514.3" rx="1.6" ry="1.1" fill="#57ff32" transform="rotate(60 475.9 514.3)"/>
<ellipse cx="461.3" cy="518.9" rx="2.4" ry="1.8" fill="#14a502" transform="rotate(26 461.3 518.9)"/>
<ellipse cx="461.3" cy="518.9" rx="1.3" ry="1.0" fill="#27ff32" transform="rotate(26 461.3 518.9)"/>
<ellipse cx="480.6" cy="557.8" rx="2.7" ry="2.0" fill="#028111" transform="rotate(134 480.6 557.8)"/>
<ellipse cx="480.6" cy="557.8" rx="1.5" ry="1.1" fill="#19ff29" transform="rotate(134 480.6 557.8)"/>
<ellipse cx="471.3" cy="546.3" rx="2.6" ry="1.9" fill="#147801" transform="rotate(56 471.3 546.3)"/>
<ellipse cx="471.3" cy="546.3" rx="1.4" ry="1.0" fill="#18ff10" transform="rotate(56 471.3 546.3)"/>
<ellipse cx="492.2" cy="538.9" rx="2.6" ry="1.9" fill="#0cd104" transform="rotate(142 492.2 538.9)"/>
<ellipse cx="492.2" cy="538.9" rx="1.4" ry="1.0" fill="#2aff28" transform="rotate(142 492.2 538.9)"/>
<ellipse cx="455.1" cy="554.3" rx="3.2" ry="2.3" fill="#008807" transform="rotate(172 455.1 554.3)"/>
<ellipse cx="455.1" cy="554.3" rx="1.7" ry="1.3" fill="#4dff29" transform="rotate(172 455.1 554.3)"/>
<ellipse cx="466.7" cy="554.3" rx="2.9" ry="2.1" fill="#03cf14" transform="rotate(46 466.7 554.3)"/>
<ellipse cx="466.7" cy="554.3" rx="1.6" ry="1.1" fill="#1cff2c" transform="rotate(46 466.7 554.3)"/>
<ellipse cx="452.0" cy="561.2" rx="2.3" ry="1.7" fill="#019c0c" transform="rotate(161 452.0 561.2)"/>
<ellipse cx="452.0" cy="561.2" rx="1.3" ry="0.9" fill="#45ff45" transform="rotate(161 452.0 561.2)"/>
<ellipse cx="486.0" cy="547.5" rx="1.9" ry="1.3" fill="#01a301" transform="rotate(145 486.0 547.5)"/>
<ellipse cx="486.0" cy="547.5" rx="1.0" ry="0.7" fill="#0dff23" transform="rotate(145 486.0 547.5)"/>
<ellipse cx="428.1" cy="557.8" rx="1.9" ry="1.3" fill="#08a010" transform="rotate(120 428.1 557.8)"/>
<ellipse cx="428.1" cy="557.8" rx="1.0" ry="0.7" fill="#3bff17" transform="rotate(120 428.1 557.8)"/>
<ellipse cx="464.4" cy="563.5" rx="2.6" ry="1.9" fill="#03c50d" transform="rotate(5 464.4 563.5)"/>
<ellipse cx="464.4" cy="563.5" rx="1.4" ry="1.0" fill="#5aff17" transform="rotate(5 464.4 563.5)"/>
<ellipse cx="474.4" cy="565.2" rx="2.3" ry="1.7" fill="#0e920d" transform="rotate(82 474.4 565.2)"/>
<ellipse cx="474.4" cy="565.2" rx="1.3" ry="0.9" fill="#1cff3d" transform="rotate(82 474.4 565.2)"/>
</g>
<circle cx="434.84" cy="562.50" r="1.21" fill="#1225cc" stroke="none" stroke-width="1"/>
<circle cx="447.04" cy="532.72" r="1.05" fill="#0a1fcb" stroke="none" stroke-width="1"/>
<circle cx="467.32" cy="560.44" r="1.05" fill="#1717c5" stroke="none" stroke-width="1"/>
<circle cx="481.93" cy="554.98" r="1.17" fill="#1c24cd" stroke="none" stroke-width="1"/>
<circle cx="457.75" cy="539.01" r="1.09" fill="#150ddd" stroke="none" stroke-width="1"/>
<circle cx="459.22" cy="555.66" r="1.26" fill="#0819c1" stroke="none" stroke-width="1"/>
<circle cx="452.19" cy="558.12" r="1.15" fill="#0625d3" stroke="none" stroke-width="1"/>
<circle cx="457.54" cy="517.71" r="0.99" fill="#0e1ec2" stroke="none" stroke-width="1"/>
<circle cx="433.71" cy="537.98" r="1.14" fill="#1905cc" stroke="none" stroke-width="1"/>
<circle cx="442.22" cy="546.71" r="0.93" fill="#0d2dbf" stroke="none" stroke-width="1"/>
<circle cx="446.32" cy="515.30" r="1.12" fill="#1613cb" stroke="none" stroke-width="1"/>
<circle cx="455.38" cy="560.36" r="1.20" fill="#1a2dec" stroke="none" stroke-width="1"/>
<circle cx="473.81" cy="564.37" r="1.06" fill="#182cf1" stroke="none" stroke-width="1"/>
<circle cx="478.58" cy="567.51" r="1.04" fill="#141bc6" stroke="none" stroke-width="1"/>
<circle cx="471.63" cy="554.79" r="1.22" fill="#0811bf" stroke="none" stroke-width="1"/>
<circle cx="423.60" cy="533.38" r="0.96" fill="#190bc7" stroke="none" stroke-width="1"/>
<circle cx="419.44" cy="565.18" r="1.13" fill="#1b0cec" stroke="none" stroke-width="1"/>
<circle cx="489.70" cy="525.15" r="0.93" fill="#120ac9" stroke="none" stroke-width="1"/>
<circle cx="488.65" cy="538.40" r="1.21" fill="#170ec7" stroke="none" stroke-width="1"/>
<circle cx="468.95" cy="556.61" r="1.16" fill="#1207ee" stroke="none" stroke-width="1"/>
<circle cx="443.85" cy="551.02" r="1.01" fill="#0d0ce5" stroke="none" stroke-width="1"/>
<circle cx="446.09" cy="523.07" r="1.15" fill="#1020bf" stroke="none" stroke-width="1"/>
<circle cx="443.04" cy="559.27" r="0.93" fill="#111ff0" stroke="none" stroke-width="1"/>
<circle cx="420.73" cy="524.11" r="1.16" fill="#1a28d3" stroke="none" stroke-width="1"/>
<circle cx="419.86" cy="568.86" r="0.99" fill="#190ed8" stroke="none" stroke-width="1"/>
<circle cx="434.70" cy="530.41" r="1.01" fill="#1107f5" stroke="none" stroke-width="1"/>
<circle cx="447.39" cy="560.52" r="1.03" fill="#060ebe" stroke="none" stroke-width="1"/>
<circle cx="429.44" cy="562.57" r="0.92" fill="#1717e5" stroke="none" stroke-width="1"/>
<circle cx="468.08" cy="545.74" r="1.24" fill="#0508c5" stroke="none" stroke-width="1"/>
<circle cx="485.92" cy="541.66" r="1.07" fill="#0919e4" stroke="none" stroke-width="1"/>
<circle cx="463.92" cy="545.55" r="0.97" fill="#092bd9" stroke="none" stroke-width="1"/>
<circle cx="489.31" cy="544.20" r="1.18" fill="#160aea" stroke="none" stroke-width="1"/>
<circle cx="476.26" cy="520.48" r="0.86" fill="#0d18e7" stroke="none" stroke-width="1"/>
<circle cx="490.43" cy="537.41" r="1.14" fill="#072dce" stroke="none" stroke-width="1"/>
<circle cx="445.63" cy="561.63" r="1.26" fill="#1723bf" stroke="none" stroke-width="1"/>
<circle cx="426.09" cy="531.14" r="1.26" fill="#0d21d0" stroke="none" stroke-width="1"/>
<circle cx="480.98" cy="524.49" r="1.25" fill="#1405ec" stroke="none" stroke-width="1"/>
<circle cx="431.77" cy="516.71" r="1.02" fill="#1713d3" stroke="none" stroke-width="1"/>
<circle cx="448.06" cy="556.00" r="1.15" fill="#0d05d2" stroke="none" stroke-width="1"/>
<circle cx="491.63" cy="533.37" r="1.09" fill="#1012c8" stroke="none" stroke-width="1"/>
<circle cx="467.07" cy="558.06" r="1.06" fill="#160acf" stroke="none" stroke-width="1"/>
<circle cx="416.54" cy="513.12" r="0.88" fill="#1c16ca" stroke="none" stroke-width="1"/>
<circle cx="424.74" cy="540.47" r="0.99" fill="#0509eb" stroke="none" stroke-width="1"/>
<circle cx="436.10" cy="536.00" r="0.89" fill="#122bdc" stroke="none" stroke-width="1"/>
<circle cx="445.46" cy="525.58" r="0.92" fill="#0a13e8" stroke="none" stroke-width="1"/>
<circle cx="430.58" cy="534.15" r="1.24" fill="#070ebf" stroke="none" stroke-width="1"/>
<circle cx="466.29" cy="555.69" r="1.23" fill="#1d2dd8" stroke="none" stroke-width="1"/>
<circle cx="423.51" cy="527.10" r="1.23" fill="#0e20d3" stroke="none" stroke-width="1"/>
<circle cx="470.20" cy="530.60" r="1.24" fill="#0b1acd" stroke="none" stroke-width="1"/>
<circle cx="451.99" cy="542.78" r="0.85" fill="#0521e0" stroke="none" stroke-width="1"/>
<circle cx="447.91" cy="535.45" r="1.09" fill="#150eea" stroke="none" stroke-width="1"/>
<circle cx="434.99" cy="526.07" r="0.91" fill="#0a15cc" stroke="none" stroke-width="1"/>
<circle cx="444.37" cy="568.39" r="1.05" fill="#0914d2" stroke="none" stroke-width="1"/>
<circle cx="452.70" cy="566.17" r="1.00" fill="#0f14d0" stroke="none" stroke-width="1"/>
<circle cx="448.46" cy="512.56" r="1.23" fill="#0512e6" stroke="none" stroke-width="1"/>
<circle cx="466.17" cy="548.44" r="0.84" fill="#182be8" stroke="none" stroke-width="1"/>
<circle cx="427.02" cy="545.59" r="1.22" fill="#0b2ccd" stroke="none" stroke-width="1"/>
<circle cx="489.62" cy="534.80" r="0.85" fill="#0619ed" stroke="none" stroke-width="1"/>
<circle cx="440.39" cy="551.69" r="1.17" fill="#0c07df" stroke="none" stroke-width="1"/>
<circle cx="438.22" cy="552.53" r="0.98" fill="#100ccd" stroke="none" stroke-width="1"/>
<circle cx="422.72" cy="514.95" r="1.11" fill="#0c16d7" stroke="none" stroke-width="1"/>
<circle cx="456.71" cy="553.86" r="1.25" fill="#061bd6" stroke="none" stroke-width="1"/>
<circle cx="417.68" cy="532.19" r="1.12" fill="#0f1cd9" stroke="none" stroke-width="1"/>
<circle cx="456.01" cy="526.08" r="1.09" fill="#0811e5" stroke="none" stroke-width="1"/>
<circle cx="472.26" cy="546.71" r="1.21" fill="#170df5" stroke="none" stroke-width="1"/>
<circle cx="489.89" cy="543.62" r="1.15" fill="#162cc6" stroke="none" stroke-width="1"/>
<circle cx="431.93" cy="521.14" r="0.93" fill="#1c2bdb" stroke="none" stroke-width="1"/>
<circle cx="457.45" cy="523.68" r="1.02" fill="#0e07c4" stroke="none" stroke-width="1"/>
<circle cx="434.00" cy="556.87" r="1.13" fill="#191cf3" stroke="none" stroke-width="1"/>
<circle cx="481.19" cy="558.35" r="0.94" fill="#1e08e2" stroke="none" stroke-width="1"/>
<circle cx="424.58" cy="516.96" r="1.12" fill="#0a0ec0" stroke="none" stroke-width="1"/>
<circle cx="446.48" cy="532.69" r="0.94" fill="#0a10d3" stroke="none" stroke-width="1"/>
<circle cx="470.50" cy="547.79" r="1.01" fill="#1c2ad8" stroke="none" stroke-width="1"/>
<circle cx="458.41" cy="525.57" r="0.97" fill="#1b0ed4" stroke="none" stroke-width="1"/>
<circle cx="471.53" cy="566.20" r="1.00" fill="#100ed6" stroke="none" stroke-width="1"/>
<circle cx="435.33" cy="564.95" r="1.18" fill="#1229ee" stroke="none" stroke-width="1"/>
<circle cx="477.47" cy="522.29" r="1.02" fill="#072bd6" stroke="none" stroke-width="1"/>
<circle cx="457.91" cy="517.89" r="1.06" fill="#0c22e8" stroke="none" stroke-width="1"/>
<circle cx="440.84" cy="532.53" r="1.03" fill="#1828ea" stroke="none" stroke-width="1"/>
<circle cx="487.31" cy="528.22" r="0.88" fill="#101ae5" stroke="none" stroke-width="1"/>
<circle cx="481.58" cy="562.64" r="1.09" fill="#1d12d9" stroke="none" stroke-width="1"/>
<circle cx="424.81" cy="567.10" r="0.94" fill="#1619c2" stroke="none" stroke-width="1"/>
<circle cx="480.46" cy="538.06" r="0.94" fill="#151cf5" stroke="none" stroke-width="1"/>
<circle cx="437.79" cy="541.59" r="1.03" fill="#0714f0" stroke="none" stroke-width="1"/>
<circle cx="442.60" cy="512.46" r="0.88" fill="#1a21d1" stroke="none" stroke-width="1"/>
<circle cx="485.26" cy="532.28" r="1.12" fill="#102ce7" stroke="none" stroke-width="1"/>
<circle cx="476.18" cy="516.96" r="1.00" fill="#192cdd" stroke="none" stroke-width="1"/>
<circle cx="426.21" cy="551.13" r="1.00" fill="#151ef3" stroke="none" stroke-width="1"/>
<circle cx="481.74" cy="547.36" r="0.86" fill="#0f17e2" stroke="none" stroke-width="1"/>
<circle cx="486.11" cy="565.29" r="0.91" fill="#1618e7" stroke="none" stroke-width="1"/>
<circle cx="440.28" cy="558.00" r="1.02" fill="#1105cf" stroke="none" stroke-width="1"/>
<circle cx="471.40" cy="529.65" r="0.96" fill="#131cef" stroke="none" stroke-width="1"/>
<circle cx="455.03" cy="569.05" r="0.97" fill="#0f19f1" stroke="none" stroke-width="1"/>
<circle cx="462.00" cy="515.08" r="1.25" fill="#130fdd" stroke="none" stroke-width="1"/>
<circle cx="457.58" cy="532.31" r="0.93" fill="#071adc" stroke="none" stroke-width="1"/>
<circle cx="418.27" cy="514.17" r="1.21" fill="#1e24e7" stroke="none" stroke-width="1"/>
<circle cx="444.66" cy="525.96" r="1.21" fill="#191eef" stroke="none" stroke-width="1"/>
<circle cx="440.84" cy="564.49" r="1.14" fill="#0d12c2" stroke="none" stroke-width="1"/>
<circle cx="487.64" cy="559.67" r="0.97" fill="#0825be" stroke="none" stroke-width="1"/>
<circle cx="474.84" cy="528.58" r="1.16" fill="#101cca" stroke="none" stroke-width="1"/>
<circle cx="431.84" cy="535.72" r="0.91" fill="#0e0ad1" stroke="none" stroke-width="1"/>
<circle cx="454.29" cy="522.95" r="1.03" fill="#0618e6" stroke="none" stroke-width="1"/>
<circle cx="457.70" cy="537.18" r="0.87" fill="#1108e3" stroke="none" stroke-width="1"/>
<circle cx="425.55" cy="531.06" r="0.92" fill="#112bda" stroke="none" stroke-width="1"/>
<circle cx="476.05" cy="518.44" r="1.12" fill="#0806ee" stroke="none" stroke-width="1"/>
<circle cx="475.30" cy="558.15" r="0.88" fill="#181bcf" stroke="none" stroke-width="1"/>
<circle cx="472.46" cy="560.81" r="0.89" fill="#0d0af5" stroke="none" stroke-width="1"/>
<circle cx="435.22" cy="536.87" r="1.22" fill="#1408c0" stroke="none" stroke-width="1"/>
<circle cx="438.46" cy="560.53" r="1.08" fill="#0a05c8" stroke="none" stroke-width="1"/>
<circle cx="458.19" cy="522.72" r="1.01" fill="#100bf4" stroke="none" stroke-width="1"/>
<circle cx="459.29" cy="520.87" r="0.84" fill="#062be8" stroke="none" stroke-width="1"/>
<circle cx="420.49" cy="538.57" r="1.00" fill="#0521d5" stroke="none" stroke-width="1"/>
<circle cx="416.58" cy="524.41" r="0.89" fill="#1612c0" stroke="none" stroke-width="1"/>
<circle cx="462.00" cy="556.99" r="0.87" fill="#0a29ef" stroke="none" stroke-width="1"/>
<circle cx="493.58" cy="547.63" r="1.15" fill="#072ad5" stroke="none" stroke-width="1"/>
<circle cx="417.54" cy="512.13" r="1.09" fill="#1c26c1" stroke="none" stroke-width="1"/>
<circle cx="491.20" cy="523.39" r="1.18" fill="#092ce6" stroke="none" stroke-width="1"/>
<circle cx="460.10" cy="536.68" r="0.95" fill="#1521ee" stroke="none" stroke-width="1"/>
<circle cx="445.61" cy="538.25" r="1.06" fill="#1b05c9" stroke="none" stroke-width="1"/>
<circle cx="434.83" cy="559.19" r="1.03" fill="#0d15f4" stroke="none" stroke-width="1"/>
</g>
<rect x="469.00" y="563.50" width="20.00" height="2.70" fill="#fff" stroke="none" stroke-width="1"/>
<text x="253.20" y="582.00" font-size="9.3" fill="#35c835" textLength="47.6" lengthAdjust="spacingAndGlyphs">Calcein AM</text>
<text x="303.90" y="582.00" font-size="9.3" fill="#2a2ae8" textLength="34.4" lengthAdjust="spacingAndGlyphs">Hoechst</text>
</g>
<g id="panel-j">
<text x="503.00" y="413.40" font-size="11.5" font-weight="bold">j</text>
<line x1="569.80" y1="409.60" x2="569.80" y2="523.30" stroke="#000" stroke-width="1.0"/>
<line x1="569.30" y1="523.30" x2="683.70" y2="523.30" stroke="#000" stroke-width="1.0"/>
<line x1="565.00" y1="523.30" x2="569.80" y2="523.30" stroke="#000" stroke-width="1.0"/>
<text x="564.00" y="526.60" font-size="9.3" text-anchor="end">0</text>
<line x1="565.00" y1="500.66" x2="569.80" y2="500.66" stroke="#000" stroke-width="1.0"/>
<text x="564.00" y="503.96" font-size="9.3" text-anchor="end">20</text>
<line x1="565.00" y1="478.02" x2="569.80" y2="478.02" stroke="#000" stroke-width="1.0"/>
<text x="564.00" y="481.32" font-size="9.3" text-anchor="end">40</text>
<line x1="565.00" y1="455.38" x2="569.80" y2="455.38" stroke="#000" stroke-width="1.0"/>
<text x="564.00" y="458.68" font-size="9.3" text-anchor="end">60</text>
<line x1="565.00" y1="432.74" x2="569.80" y2="432.74" stroke="#000" stroke-width="1.0"/>
<text x="564.00" y="436.04" font-size="9.3" text-anchor="end">80</text>
<line x1="565.00" y1="410.10" x2="569.80" y2="410.10" stroke="#000" stroke-width="1.0"/>
<text x="564.00" y="413.40" font-size="9.3" text-anchor="end">100</text>
<text x="546.20" y="463.00" font-size="9.6" text-anchor="middle" transform="rotate(-90 546.20 463.00)" textLength="66.5" lengthAdjust="spacingAndGlyphs">Cytotoxicity (%)</text>
<path d="M575.80 523.30V521.04H584.80V523.30" fill="none" stroke="#000" stroke-width="1.2"/>
<path d="M580.30 521.72V520.36M578.30 521.72H582.30M578.30 520.36H582.30" fill="none" stroke="#000" stroke-width="0.9"/>
<circle cx="577.00" cy="520.36" r="1.90" fill="#000" stroke="none" stroke-width="1"/>
<circle cx="580.30" cy="520.81" r="1.90" fill="#000" stroke="none" stroke-width="1"/>
<circle cx="583.60" cy="521.26" r="1.90" fill="#000" stroke="none" stroke-width="1"/>
<line x1="580.30" y1="523.30" x2="580.30" y2="528.00" stroke="#000" stroke-width="1.0"/>
<path d="M591.20 523.30V427.08H600.20V523.30" fill="none" stroke="#2fb673" stroke-width="1.2"/>
<path d="M595.70 430.02V424.14M593.70 430.02H597.70M593.70 424.14H597.70" fill="none" stroke="#2fb673" stroke-width="0.9"/>
<path d="M595.70 422.05l2 2.2l-2 2.2l-2 -2.2Z" fill="#2fb673" stroke="none" stroke-width="0.9"/>
<circle cx="599.00" cy="427.65" r="1.90" fill="#2fb673" stroke="none" stroke-width="1"/>
<circle cx="592.40" cy="428.78" r="1.90" fill="#2fb673" stroke="none" stroke-width="1"/>
<line x1="595.70" y1="523.30" x2="595.70" y2="528.00" stroke="#000" stroke-width="1.0"/>
<path d="M606.60 523.30V509.72H615.60V523.30" fill="none" stroke="#2b3aa0" stroke-width="1.2"/>
<path d="M611.10 513.79V505.64M609.10 513.79H613.10M609.10 505.64H613.10" fill="none" stroke="#2b3aa0" stroke-width="0.9"/>
<path d="M611.10 503.55l2 2.2l-2 2.2l-2 -2.2Z" fill="#2b3aa0" stroke="none" stroke-width="0.9"/>
<circle cx="611.10" cy="510.28" r="1.90" fill="#2b3aa0" stroke="none" stroke-width="1"/>
<circle cx="611.10" cy="513.11" r="1.90" fill="#2b3aa0" stroke="none" stroke-width="1"/>
<line x1="611.10" y1="523.30" x2="611.10" y2="528.00" stroke="#000" stroke-width="1.0"/>
<path d="M622.00 523.30V478.02H631.00V523.30" fill="none" stroke="#f0524e" stroke-width="1.2"/>
<path d="M626.50 484.59V471.45M624.50 484.59H628.50M624.50 471.45H628.50" fill="none" stroke="#f0524e" stroke-width="0.9"/>
<path d="M626.50 468.36L628.68 472.27L624.32 472.27Z" fill="#f0524e" stroke="none" stroke-width="0.9"/>
<circle cx="629.80" cy="481.19" r="1.90" fill="#f0524e" stroke="none" stroke-width="1"/>
<circle cx="623.20" cy="481.19" r="1.90" fill="#f0524e" stroke="none" stroke-width="1"/>
<line x1="626.50" y1="523.30" x2="626.50" y2="528.00" stroke="#000" stroke-width="1.0"/>
<path d="M637.40 523.30V510.85H646.40V523.30" fill="none" stroke="#f7a52b" stroke-width="1.2"/>
<path d="M641.90 514.92V506.77M639.90 514.92H643.90M639.90 506.77H643.90" fill="none" stroke="#f7a52b" stroke-width="0.9"/>
<path d="M641.90 503.45L644.08 507.36L639.72 507.36Z" fill="#f7a52b" stroke="none" stroke-width="0.9"/>
<circle cx="643.90" cy="511.41" r="1.90" fill="#f7a52b" stroke="none" stroke-width="1"/>
<circle cx="639.90" cy="513.11" r="1.90" fill="#f7a52b" stroke="none" stroke-width="1"/>
<line x1="641.90" y1="523.30" x2="641.90" y2="528.00" stroke="#000" stroke-width="1.0"/>
<path d="M652.90 523.30V492.74H661.90V523.30" fill="none" stroke="#9a31b2" stroke-width="1.2"/>
<path d="M657.40 493.75V491.72M655.40 493.75H659.40M655.40 491.72H659.40" fill="none" stroke="#9a31b2" stroke-width="0.9"/>
<circle cx="657.40" cy="491.83" r="1.90" fill="#9a31b2" stroke="none" stroke-width="1"/>
<circle cx="660.70" cy="492.74" r="1.90" fill="#9a31b2" stroke="none" stroke-width="1"/>
<circle cx="654.10" cy="493.64" r="1.90" fill="#9a31b2" stroke="none" stroke-width="1"/>
<line x1="657.40" y1="523.30" x2="657.40" y2="528.00" stroke="#000" stroke-width="1.0"/>
<path d="M668.60 523.30V457.64H677.60V523.30" fill="none" stroke="#dcdc34" stroke-width="1.2"/>
<path d="M673.10 470.10V445.19M671.10 470.10H675.10M671.10 445.19H675.10" fill="none" stroke="#dcdc34" stroke-width="0.9"/>
<path d="M673.10 441.76L675.28 445.67L670.92 445.67Z" fill="#dcdc34" stroke="none" stroke-width="0.9"/>
<circle cx="676.40" cy="462.85" r="1.90" fill="#dcdc34" stroke="none" stroke-width="1"/>
<circle cx="669.80" cy="465.34" r="1.90" fill="#dcdc34" stroke="none" stroke-width="1"/>
<line x1="673.10" y1="523.30" x2="673.10" y2="528.00" stroke="#000" stroke-width="1.0"/>
<path d="M580.30 417.40V415.40H594.20V417.40" fill="none" stroke="#111" stroke-width="0.9"/>
<text x="587.25" y="417.60" font-size="12.4" text-anchor="middle">***</text>
<path d="M598.70 417.40V415.40H613.00V417.40" fill="none" stroke="#111" stroke-width="0.9"/>
<text x="605.85" y="417.60" font-size="12.4" text-anchor="middle">***</text>
<text x="641.35" y="434.00" font-size="12.6" text-anchor="middle">**</text>
<path d="M613.40 434.70V432.70H673.10V434.70" fill="none" stroke="#111" stroke-width="0.9"/>
<path d="M613.40 446.40V444.40H657.40V446.40" fill="none" stroke="#111" stroke-width="0.9"/>
<text x="635.40" y="447.00" font-size="12.6" text-anchor="middle">**</text>
<text x="628.30" y="453.70" font-size="10.2" text-anchor="middle" font-style="italic">n.s.</text>
<path d="M613.40 458.40V456.40H641.20V458.40" fill="none" stroke="#111" stroke-width="0.9"/>
<path d="M613.40 467.40V465.40H625.40V467.40" fill="none" stroke="#111" stroke-width="0.9"/>
<text x="619.40" y="469.10" font-size="12.6" text-anchor="middle">**</text>
<text x="569.0" y="539.30" font-size="9.3" text-anchor="end">H<tspan font-size="5.4" dy="1.6">2</tspan><tspan dy="-1.6">O</tspan><tspan font-size="5.4" dy="1.6">2</tspan></text>
<text x="580.30" y="540.80" font-size="9.3" text-anchor="middle">-</text>
<text x="595.70" y="540.80" font-size="9.3" text-anchor="middle">+</text>
<text x="611.10" y="540.80" font-size="9.3" text-anchor="middle">+</text>
<text x="626.50" y="540.80" font-size="9.3" text-anchor="middle">+</text>
<text x="641.90" y="540.80" font-size="9.3" text-anchor="middle">+</text>
<text x="657.40" y="540.80" font-size="9.3" text-anchor="middle">+</text>
<text x="673.10" y="540.80" font-size="9.3" text-anchor="middle">+</text>
<text x="569.00" y="551.10" font-size="9.3" text-anchor="end">Nrf1</text>
<text x="580.30" y="551.50" font-size="9.3" text-anchor="middle">-</text>
<text x="595.70" y="551.50" font-size="9.3" text-anchor="middle">-</text>
<text x="611.10" y="551.50" font-size="9.3" text-anchor="middle">+</text>
<text x="626.50" y="551.50" font-size="9.3" text-anchor="middle">+</text>
<text x="641.90" y="551.50" font-size="9.3" text-anchor="middle">+</text>
<text x="657.40" y="551.50" font-size="9.3" text-anchor="middle">+</text>
<text x="673.10" y="551.50" font-size="9.3" text-anchor="middle">+</text>
<text x="569.00" y="562.30" font-size="9.3" text-anchor="end">Hmox1 shRNA</text>
<text x="580.30" y="562.70" font-size="9.3" text-anchor="middle">-</text>
<text x="595.70" y="562.70" font-size="9.3" text-anchor="middle">-</text>
<text x="611.10" y="562.70" font-size="9.3" text-anchor="middle">-</text>
<text x="626.50" y="562.70" font-size="9.3" text-anchor="middle">+</text>
<text x="641.90" y="562.70" font-size="9.3" text-anchor="middle">-</text>
<text x="657.40" y="562.70" font-size="9.3" text-anchor="middle">-</text>
<text x="673.10" y="562.70" font-size="9.3" text-anchor="middle">+</text>
<text x="569.00" y="573.60" font-size="9.3" text-anchor="end">Control shRNA</text>
<text x="580.30" y="574.00" font-size="9.3" text-anchor="middle">-</text>
<text x="595.70" y="574.00" font-size="9.3" text-anchor="middle">-</text>
<text x="611.10" y="574.00" font-size="9.3" text-anchor="middle">-</text>
<text x="626.50" y="574.00" font-size="9.3" text-anchor="middle">-</text>
<text x="641.90" y="574.00" font-size="9.3" text-anchor="middle">+</text>
<text x="657.40" y="574.00" font-size="9.3" text-anchor="middle">-</text>
<text x="673.10" y="574.00" font-size="9.3" text-anchor="middle">-</text>
<text x="569.00" y="584.20" font-size="9.3" text-anchor="end">MG132</text>
<text x="580.30" y="584.90" font-size="9.3" text-anchor="middle">-</text>
<text x="595.70" y="584.90" font-size="9.3" text-anchor="middle">-</text>
<text x="611.10" y="584.90" font-size="9.3" text-anchor="middle">-</text>
<text x="626.50" y="584.90" font-size="9.3" text-anchor="middle">-</text>
<text x="641.90" y="584.90" font-size="9.3" text-anchor="middle">-</text>
<text x="657.40" y="584.90" font-size="9.3" text-anchor="middle">+</text>
<text x="673.10" y="584.90" font-size="9.3" text-anchor="middle">+</text>
</g>
</svg>
</body>
</html>
